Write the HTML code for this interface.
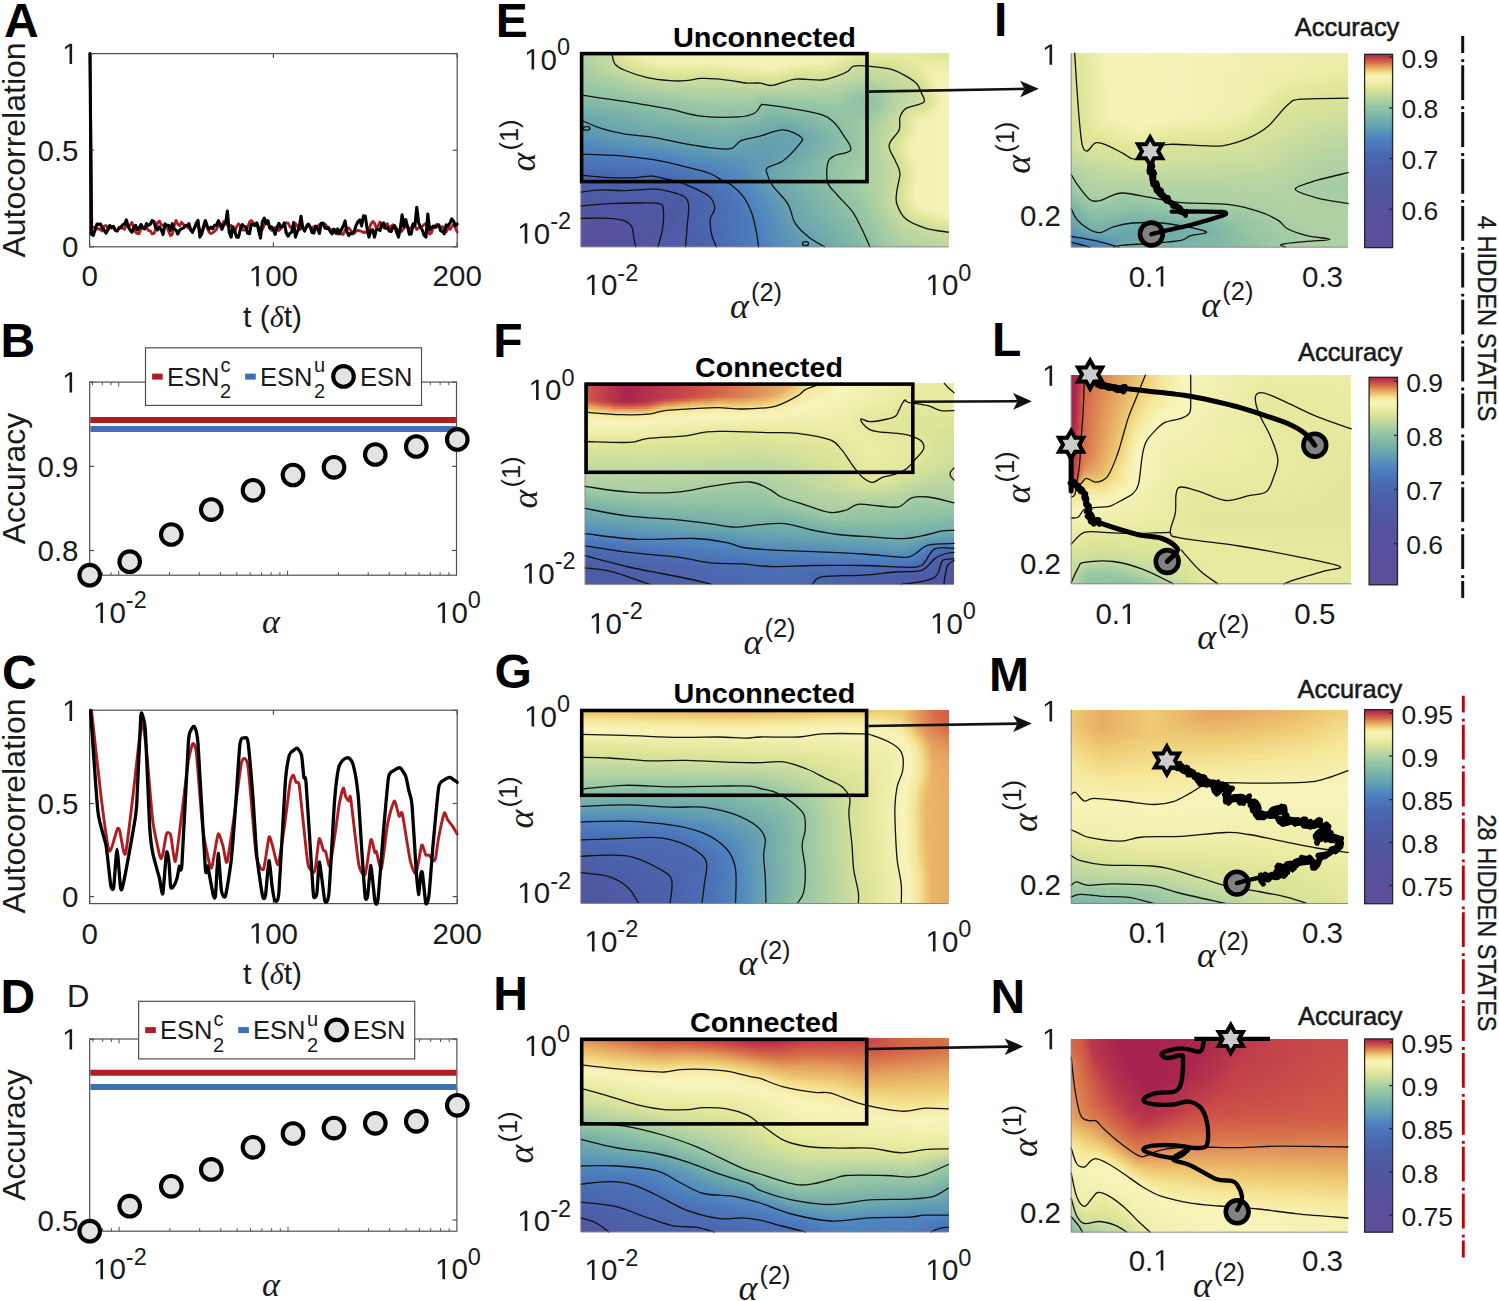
<!DOCTYPE html>
<html><head><meta charset="utf-8"><style>
html,body{margin:0;padding:0;background:#fff}
body{width:1499px;height:1301px;position:relative;overflow:hidden;font-family:"Liberation Sans",sans-serif}
.hm{position:absolute;overflow:hidden}
.hm i{position:absolute;left:0;width:100%;display:block}
.cb{position:absolute}
svg{position:absolute;left:0;top:0}
</style></head><body>
<div class="hm" style="left:580.8px;top:53px;width:368px;height:194px"><i class="r" style="top:0px;height:2px;background:linear-gradient(90deg,#b1d1a3 0px,#c5db9f 26.5px,#dee598 39.5px,#f2f0b0 52.5px,#f6f3b8 199.5px,#f2f0af 260.5px,#e8eaa0 273.5px,#e9eba2 325.5px,#dee598 360.5px,#dfe699 368px)"></i><i class="r" style="top:2px;height:2px;background:linear-gradient(90deg,#b0d1a4 0px,#c4da9f 26.5px,#d9e398 37.5px,#e5e89d 43.5px,#f3f0b1 57.5px,#f6f2b7 200.5px,#f2f0af 258.5px,#e5e99e 271.5px,#e8eaa0 329.5px,#dfe699 361.5px,#e0e69a 368px)"></i><i class="r" style="top:4px;height:2px;background:linear-gradient(90deg,#afd1a4 0px,#c4da9f 27.5px,#dee597 40.5px,#f1efae 58.5px,#f4f2b5 92.5px,#f5f2b7 206.5px,#f1f0af 255.5px,#e2e79b 270.5px,#e4e89d 312.5px,#e8eaa0 333.5px,#e2e79b 364.5px,#e2e79b 368px)"></i><i class="r" style="top:6px;height:2px;background:linear-gradient(90deg,#aed0a4 0px,#c3da9f 27.5px,#dee598 42.5px,#f3f0b1 67.5px,#f6f3b8 199.5px,#f1f0af 251.5px,#dce497 272.5px,#e2e79b 314.5px,#e8eaa0 337.5px,#e5e99e 368px)"></i><i class="r" style="top:8px;height:2px;background:linear-gradient(90deg,#add0a4 0px,#c2d9a0 27.5px,#dfe598 45.5px,#f2f0b1 75.5px,#f3f1b3 117.5px,#f6f3b8 197.5px,#f1efaf 246.5px,#dee598 266.5px,#d7e299 278.5px,#e0e699 316.5px,#e9eba1 341.5px,#e8eaa0 368px)"></i><i class="r" style="top:10px;height:2px;background:linear-gradient(90deg,#abcfa4 0px,#c2daa0 28.5px,#dee598 48.5px,#f1efae 79.5px,#f3f1b2 106.5px,#f1f0af 126.5px,#f6f3b9 187.5px,#f2f0af 226.5px,#efeeac 243.5px,#dde497 265.5px,#d2e09c 276.5px,#dce497 315.5px,#ebeca5 343.5px,#ebeca4 368px)"></i><i class="r" style="top:12px;height:2px;background:linear-gradient(90deg,#aacea4 0px,#c3da9f 30.5px,#dee598 53.5px,#ededa8 80.5px,#f1efae 102.5px,#ededa8 125.5px,#f6f2b7 181.5px,#f3f1b2 202.5px,#eeeda9 219.5px,#ededa7 241.5px,#d9e398 265.5px,#cdde9e 276.5px,#d8e299 314.5px,#e2e79b 327.5px,#ededa8 346.5px,#ededa9 368px)"></i><i class="r" style="top:14px;height:2px;background:linear-gradient(90deg,#a8cea4 0px,#c6db9f 35.5px,#dee597 58.5px,#ebeca5 87.5px,#ececa6 105.5px,#e9eba2 125.5px,#f1efaf 160.5px,#f3f1b3 195.5px,#eaeba3 217.5px,#e9eba1 241.5px,#dae397 261.5px,#c9dc9f 276.5px,#d3e19b 313.5px,#dee598 326.5px,#efeeab 348.5px,#f0efac 368px)"></i><i class="r" style="top:16px;height:2px;background:linear-gradient(90deg,#a6cda4 0px,#c8dc9f 40.5px,#dfe598 65.5px,#e9eba1 102.5px,#e5e99e 126.5px,#ececa6 158.5px,#f2f0b0 191.5px,#e5e99e 215.5px,#e3e89c 243.5px,#d8e398 258.5px,#c6db9f 276.5px,#cfdf9e 313.5px,#dee598 329.5px,#f1efae 351.5px,#f2f0b0 368px)"></i><i class="r" style="top:18px;height:2px;background:linear-gradient(90deg,#a5cda4 0px,#cdde9e 49.5px,#dee597 73.5px,#e4e89d 103.5px,#e0e69a 126.5px,#eaeba3 164.5px,#ededa8 194.5px,#e0e69a 217.5px,#dee598 244.5px,#d1e09d 261.5px,#c2da9f 278.5px,#cdde9e 315.5px,#dfe598 332.5px,#f2f0b1 352.5px,#f3f1b2 368px)"></i><i class="r" style="top:20px;height:2px;background:linear-gradient(90deg,#a2cca4 0px,#d6e29a 66.5px,#e0e699 102.5px,#dbe497 125.5px,#e6e99e 164.5px,#e9eaa1 194.5px,#dbe497 217.5px,#dae397 244.5px,#bfd8a0 279.5px,#ccde9e 318.5px,#dee598 334.5px,#efeeab 347.5px,#f3f1b2 355.5px,#f4f1b3 368px)"></i><i class="r" style="top:22px;height:2px;background:linear-gradient(90deg,#a0cba4 0px,#d6e29a 76.5px,#dae397 104.5px,#d6e29a 125.5px,#e0e699 163.5px,#e3e89c 195.5px,#d9e398 210.5px,#d4e19b 245.5px,#bcd7a0 280.5px,#cdde9e 323.5px,#dee597 336.5px,#ededa9 347.5px,#f4f1b3 354.5px,#f4f1b4 368px)"></i><i class="r" style="top:24px;height:2px;background:linear-gradient(90deg,#9ecaa4 0px,#d2e09c 81.5px,#d4e19b 106.5px,#d1e09d 126.5px,#dae397 161.5px,#dee598 195.5px,#d1e09d 219.5px,#d0df9d 244.5px,#b9d5a1 281.5px,#cadd9f 324.5px,#dee598 339.5px,#efeeac 349.5px,#f4f1b4 356.5px,#f5f2b5 368px)"></i><i class="r" style="top:26px;height:2px;background:linear-gradient(90deg,#9cc9a4 0px,#cdde9e 84.5px,#cedf9e 106.5px,#cadd9f 130.5px,#d7e299 177.5px,#dae397 194.5px,#cadd9f 219.5px,#cbdd9e 243.5px,#b6d4a2 283.5px,#cbde9e 328.5px,#dfe598 341.5px,#f4f1b4 354.5px,#f5f2b6 368px)"></i><i class="r" style="top:28px;height:2px;background:linear-gradient(90deg,#99c8a4 0px,#c3da9f 76.5px,#c9dd9f 104.5px,#c6db9f 138.5px,#d1e09d 174.5px,#d5e19a 194.5px,#c4da9f 219.5px,#c4db9f 246.5px,#b2d2a3 284.5px,#cdde9e 332.5px,#dee598 342.5px,#f4f1b4 355.5px,#f5f2b6 368px)"></i><i class="r" style="top:30px;height:2px;background:linear-gradient(90deg,#97c8a4 0px,#bed8a0 76.5px,#c3da9f 107.5px,#c5db9f 149.5px,#cdde9e 185.5px,#cedf9e 195.5px,#bfd8a0 219.5px,#bfd9a0 248.5px,#aed0a4 285.5px,#d0df9e 336.5px,#dfe598 343.5px,#f4f1b4 356.5px,#f5f2b6 368px)"></i><i class="r" style="top:32px;height:2px;background:linear-gradient(90deg,#96c7a4 0px,#a6cda4 33.5px,#bcd7a1 82.5px,#c3da9f 160.5px,#c4db9f 184.5px,#c5db9f 196.5px,#bcd7a1 221.5px,#bbd6a1 252.5px,#a8cea4 285.5px,#cfdf9e 337.5px,#dfe598 344.5px,#f4f2b5 357.5px,#f5f2b6 368px)"></i><i class="r" style="top:34px;height:2px;background:linear-gradient(90deg,#95c6a4 0px,#a1cba4 32.5px,#b8d5a2 81.5px,#bcd7a0 171.5px,#bdd8a0 199.5px,#b9d6a1 224.5px,#b6d4a2 255.5px,#a2cca4 284.5px,#cfdf9e 338.5px,#dfe598 345.5px,#f5f2b5 358.5px,#f5f2b6 368px)"></i><i class="r" style="top:36px;height:2px;background:linear-gradient(90deg,#94c5a4 0px,#9fcaa4 37.5px,#b4d3a3 82.5px,#b9d5a1 169.5px,#b7d4a2 205.5px,#b4d3a3 254.5px,#9bc9a4 284.5px,#c3da9f 327.5px,#d1e09d 340.5px,#dfe598 346.5px,#f4f2b5 358.5px,#f5f2b6 368px)"></i><i class="r" style="top:38px;height:2px;background:linear-gradient(90deg,#92c4a4 0px,#9ecaa4 45.5px,#b2d2a3 93.5px,#b6d4a2 167.5px,#b4d3a2 187.5px,#b3d3a3 230.5px,#afd0a4 258.5px,#97c7a4 281.5px,#9ecaa4 294.5px,#bad6a1 316.5px,#cfdf9e 340.5px,#dde597 346.5px,#f4f1b4 358.5px,#f5f2b6 368px)"></i><i class="r" style="top:40px;height:2px;background:linear-gradient(90deg,#90c3a4 0px,#9fcaa4 55.5px,#b0d1a3 103.5px,#b2d2a3 167.5px,#aed0a4 184.5px,#b0d1a3 236.5px,#aacea4 259.5px,#96c7a4 277.5px,#99c8a4 294.5px,#b8d5a2 314.5px,#cede9e 340.5px,#dee598 347.5px,#f4f2b5 359.5px,#f5f2b6 368px)"></i><i class="r" style="top:42px;height:2px;background:linear-gradient(90deg,#8dc0a5 0px,#9ecaa4 65.5px,#aed0a4 114.5px,#afd1a4 166.5px,#a7cda4 182.5px,#abcfa4 251.5px,#93c5a4 278.5px,#98c8a4 296.5px,#b7d4a2 313.5px,#cfdf9e 341.5px,#dde597 347.5px,#f4f1b4 359.5px,#f5f2b6 368px)"></i><i class="r" style="top:44px;height:2px;background:linear-gradient(90deg,#89bea6 0px,#a1cba4 83.5px,#abcfa4 132.5px,#accfa4 165.5px,#9fcba4 181.5px,#a7cea4 251.5px,#90c3a4 280.5px,#97c8a4 297.5px,#b6d4a2 312.5px,#cede9e 341.5px,#dee598 348.5px,#f4f2b5 360.5px,#f5f2b6 368px)"></i><i class="r" style="top:46px;height:2px;background:linear-gradient(90deg,#86bba6 0px,#a7cda4 129.5px,#a8cea4 165.5px,#99c8a4 181.5px,#a3cca4 252.5px,#8dc1a5 284.5px,#9ac9a4 299.5px,#b6d4a2 312.5px,#c7dc9f 334.5px,#d1e09d 343.5px,#dde597 348.5px,#f4f2b5 360.5px,#f5f2b6 368px)"></i><i class="r" style="top:48px;height:2px;background:linear-gradient(90deg,#82b9a7 0px,#a2cca4 128.5px,#a4cca4 165.5px,#95c6a4 181.5px,#9fcaa4 254.5px,#8cc0a5 285.5px,#9dcaa4 300.5px,#b6d4a2 312.5px,#c8dc9f 331.5px,#d1e09c 343.5px,#dde497 348.5px,#f4f2b5 360.5px,#f5f2b6 368px)"></i><i class="r" style="top:50px;height:2px;background:linear-gradient(90deg,#7fb6a7 0px,#9ecaa4 124.5px,#9fcba4 165.5px,#92c4a4 185.5px,#9bc9a4 255.5px,#8cc0a5 285.5px,#9bc9a4 299.5px,#b7d4a2 312.5px,#c9dd9f 330.5px,#d8e299 345.5px,#e0e69a 349.5px,#f4f2b5 360.5px,#f5f2b6 368px)"></i><i class="r" style="top:52px;height:2px;background:linear-gradient(90deg,#7cb4a8 0px,#9ac9a4 125.5px,#9bc9a4 164.5px,#8ec1a5 187.5px,#98c8a4 257.5px,#8dc0a5 285.5px,#9ccaa4 299.5px,#b8d5a2 312.5px,#d0df9d 335.5px,#dee598 347.5px,#f0efad 356.5px,#f5f2b6 363.5px,#f5f2b6 368px)"></i><i class="r" style="top:54px;height:2px;background:linear-gradient(90deg,#79b2a9 0px,#97c8a4 124.5px,#96c7a4 170.5px,#8abea5 186.5px,#97c7a4 256.5px,#8ec1a5 284.5px,#9cc9a4 298.5px,#b7d5a2 311.5px,#d5e19a 335.5px,#dfe598 345.5px,#eeeeaa 354.5px,#f5f2b6 361.5px,#f5f2b6 368px)"></i><i class="r" style="top:56px;height:2px;background:linear-gradient(90deg,#76b0aa 0px,#96c6a4 126.5px,#93c4a4 173.5px,#87bca6 186.5px,#96c6a4 258.5px,#90c2a4 284.5px,#9ccaa4 297.5px,#b9d5a1 311.5px,#d7e299 332.5px,#e1e69a 343.5px,#ededa8 352.5px,#f5f2b6 360.5px,#f5f2b6 368px)"></i><i class="r" style="top:58px;height:2px;background:linear-gradient(90deg,#74aeab 0px,#94c5a4 129.5px,#91c3a4 172.5px,#84baa7 187.5px,#95c6a4 261.5px,#92c4a4 284.5px,#9dcaa4 296.5px,#bbd7a1 312.5px,#d8e299 328.5px,#e2e79b 340.5px,#eeeeaa 351.5px,#f5f2b6 359.5px,#f5f2b6 368px)"></i><i class="r" style="top:60px;height:2px;background:linear-gradient(90deg,#71abab 0px,#92c4a4 132.5px,#90c2a4 168.5px,#81b8a7 189.5px,#8dc1a5 233.5px,#94c5a4 265.5px,#95c6a4 288.5px,#a2cca4 297.5px,#d5e19a 325.5px,#dfe699 331.5px,#eeeeaa 349.5px,#f5f2b6 358.5px,#f5f2b6 368px)"></i><i class="r" style="top:62px;height:2px;background:linear-gradient(90deg,#6ea9ac 0px,#8fc2a5 132.5px,#8dc0a5 165.5px,#7eb5a8 191.5px,#89bda6 229.5px,#94c5a4 263.5px,#97c8a4 289.5px,#d2e09c 322.5px,#dee598 328.5px,#f5f2b5 356.5px,#f5f2b6 368px)"></i><i class="r" style="top:64px;height:2px;background:linear-gradient(90deg,#6ba7ad 0px,#7eb5a8 71.5px,#8cc0a5 134.5px,#89bda6 166.5px,#7bb3a8 193.5px,#84baa7 225.5px,#94c5a4 264.5px,#9ac9a4 289.5px,#d0df9e 320.5px,#dde597 326.5px,#ececa7 337.5px,#f5f2b6 356.5px,#f5f2b6 368px)"></i><i class="r" style="top:66px;height:2px;background:linear-gradient(90deg,#69a5ae 0px,#79b2a9 56.5px,#8abea5 141.5px,#82b8a7 174.5px,#78b1a9 195.5px,#85baa6 233.5px,#94c5a4 266.5px,#9ccaa4 288.5px,#cedf9e 319.5px,#dde597 325.5px,#f0efac 337.5px,#f5f2b6 356.5px,#f5f2b6 368px)"></i><i class="r" style="top:68px;height:2px;background:linear-gradient(90deg,#66a3af 0px,#76b0aa 54.5px,#87bca6 143.5px,#7bb3a8 179.5px,#76afaa 206.5px,#94c6a4 269.5px,#9ecaa4 287.5px,#cbdd9e 318.5px,#dee597 325.5px,#f3f0b1 337.5px,#f5f2b6 368px)"></i><i class="r" style="top:70px;height:2px;background:linear-gradient(90deg,#64a1af 0px,#74aeaa 54.5px,#84baa7 144.5px,#72acab 204.5px,#8cbfa5 251.5px,#9ecaa4 284.5px,#ccde9e 318.5px,#dee598 325.5px,#f4f1b3 337.5px,#f5f2b6 368px)"></i><i class="r" style="top:72px;height:2px;background:linear-gradient(90deg,#62a0b0 0px,#72acab 55.5px,#81b8a7 145.5px,#6faaac 205.5px,#89bda6 249.5px,#9fcba4 283.5px,#ccde9e 318.5px,#dee598 325.5px,#f4f1b4 337.5px,#f5f2b6 368px)"></i><i class="r" style="top:74px;height:2px;background:linear-gradient(90deg,#609db2 0px,#71acab 62.5px,#7eb5a8 146.5px,#6da8ad 205.5px,#86bca6 248.5px,#9fcba4 282.5px,#cbde9e 317.5px,#dfe598 325.5px,#f4f1b3 336.5px,#f5f2b6 368px)"></i><i class="r" style="top:76px;height:2px;background:linear-gradient(90deg,#5e9bb4 0px,#6faaac 61.5px,#7bb4a8 146.5px,#6aa6ae 205.5px,#86bba6 249.5px,#9fcba4 281.5px,#cdde9e 317.5px,#dee597 324.5px,#f4f1b3 336.5px,#f5f2b6 368px)"></i><i class="r" style="top:78px;height:2px;background:linear-gradient(90deg,#5c98b5 0px,#6da8ad 62.5px,#79b2a9 147.5px,#68a4ae 205.5px,#84baa7 248.5px,#9fcaa4 280.5px,#cfdf9e 317.5px,#dfe598 324.5px,#f4f1b4 336.5px,#f5f2b6 368px)"></i><i class="r" style="top:80px;height:2px;background:linear-gradient(90deg,#5a96b7 0px,#6ba7ad 67.5px,#77b0aa 147.5px,#66a3af 203.5px,#78b1a9 235.5px,#9fcba4 280.5px,#cfdf9e 316.5px,#dee598 323.5px,#f4f1b3 335.5px,#f5f2b6 368px)"></i><i class="r" style="top:82px;height:2px;background:linear-gradient(90deg,#5893b8 0px,#69a5ae 69.5px,#75afaa 147.5px,#65a2af 200.5px,#6ea9ac 224.5px,#9fcba4 280.5px,#d0df9d 315.5px,#dee598 322.5px,#f4f1b4 335.5px,#f5f2b6 368px)"></i><i class="r" style="top:84px;height:2px;background:linear-gradient(90deg,#5791ba 0px,#6da9ad 98.5px,#72acab 150.5px,#65a2af 191.5px,#6aa6ad 221.5px,#9fcaa4 280.5px,#d1e09d 314.5px,#dfe598 321.5px,#f4f1b3 334.5px,#f5f2b6 368px)"></i><i class="r" style="top:86px;height:2px;background:linear-gradient(90deg,#558ebc 0px,#6faaac 121.5px,#6ea9ac 153.5px,#64a2af 186.5px,#68a5ae 219.5px,#9ecaa4 280.5px,#d3e19b 314.5px,#dde597 319.5px,#f4f1b3 333.5px,#f5f2b6 368px)"></i><i class="r" style="top:88px;height:2px;background:linear-gradient(90deg,#538cbe 0px,#6ea9ac 130.5px,#6ba7ad 155.5px,#63a1b0 189.5px,#69a5ae 219.5px,#9dcaa4 280.5px,#d4e19b 313.5px,#dee598 318.5px,#f4f1b3 332.5px,#f5f2b6 368px)"></i><i class="r" style="top:90px;height:2px;background:linear-gradient(90deg,#5189bf 0px,#66a3af 102.5px,#6ba7ad 151.5px,#63a1b0 174.5px,#66a3af 212.5px,#9ccaa4 280.5px,#d4e19b 312.5px,#dfe598 317.5px,#f4f1b3 331.5px,#f5f2b6 368px)"></i><i class="r" style="top:92px;height:2px;background:linear-gradient(90deg,#5087c0 0px,#609db2 92.5px,#6aa6ad 149.5px,#62a0b0 176.5px,#66a3af 212.5px,#9cc9a4 280.5px,#d3e19b 311.5px,#dee598 316.5px,#f4f1b3 330.5px,#f5f2b6 368px)"></i><i class="r" style="top:94px;height:2px;background:linear-gradient(90deg,#4f84bf 0px,#5893b9 75.5px,#67a4ae 134.5px,#63a1b0 159.5px,#62a0b0 200.5px,#76afaa 231.5px,#9bc9a4 280.5px,#d2e09c 311.5px,#dde597 316.5px,#f4f1b3 329.5px,#f5f2b6 368px)"></i><i class="r" style="top:96px;height:2px;background:linear-gradient(90deg,#4f82bf 0px,#558fbc 74.5px,#64a2af 137.5px,#619eb1 193.5px,#73adab 227.5px,#8cc0a5 261.5px,#9dcaa4 281.5px,#d1e09d 311.5px,#dee598 317.5px,#f4f1b3 330.5px,#f5f2b6 368px)"></i><i class="r" style="top:98px;height:2px;background:linear-gradient(90deg,#4e80be 0px,#548dbc 81.5px,#62a0b0 144.5px,#609db2 186.5px,#70abac 222.5px,#8ec1a5 260.5px,#9bc9a4 280.5px,#bcd7a0 301.5px,#d6e29a 314.5px,#dee598 318.5px,#f4f1b4 331.5px,#f5f2b6 368px)"></i><i class="r" style="top:100px;height:2px;background:linear-gradient(90deg,#4d7dbd 0px,#518abf 82.5px,#619eb1 148.5px,#5f9cb3 181.5px,#6faaac 219.5px,#90c3a4 261.5px,#9bc9a4 280.5px,#cfdf9e 312.5px,#dde497 318.5px,#f4f1b3 331.5px,#f5f2b6 368px)"></i><i class="r" style="top:102px;height:2px;background:linear-gradient(90deg,#4d7abd 0px,#5087c0 82.5px,#5f9cb3 152.5px,#5e9bb4 177.5px,#6faaac 217.5px,#92c4a4 261.5px,#9ccaa4 280.5px,#cdde9e 312.5px,#dde597 319.5px,#f4f1b3 332.5px,#f5f2b6 368px)"></i><i class="r" style="top:104px;height:2px;background:linear-gradient(90deg,#4c77bc 0px,#4e82be 77.5px,#5690bb 117.5px,#5c98b5 160.5px,#5e9bb3 177.5px,#71abab 218.5px,#93c4a4 259.5px,#9cc9a4 279.5px,#cede9e 313.5px,#dee597 320.5px,#f4f1b3 333.5px,#f5f2b6 368px)"></i><i class="r" style="top:106px;height:2px;background:linear-gradient(90deg,#4c75ba 0px,#4e7ebe 77.5px,#548dbc 119.5px,#5b97b6 161.5px,#5f9cb3 178.5px,#74aeab 221.5px,#93c5a4 257.5px,#9dcaa4 279.5px,#ccde9e 313.5px,#dee598 321.5px,#f4f1b4 334.5px,#f5f2b6 368px)"></i><i class="r" style="top:108px;height:2px;background:linear-gradient(90deg,#4b73b9 0px,#4d7cbd 80.5px,#538dbd 126.5px,#5995b8 163.5px,#6faaac 213.5px,#8bbfa5 244.5px,#96c6a4 264.5px,#9fcba4 280.5px,#ccde9e 314.5px,#dfe598 322.5px,#f4f1b3 334.5px,#f5f2b6 368px)"></i><i class="r" style="top:110px;height:2px;background:linear-gradient(90deg,#4b71b7 0px,#4d7abd 85.5px,#538cbd 134.5px,#5c98b5 172.5px,#68a5ae 196.5px,#81b8a7 235.5px,#94c5a4 255.5px,#9ecaa4 278.5px,#cbdd9f 314.5px,#dde597 322.5px,#f4f1b3 335.5px,#f5f2b6 368px)"></i><i class="r" style="top:112px;height:2px;background:linear-gradient(90deg,#4b6fb6 0px,#4c77bc 87.5px,#538cbd 139.5px,#5b97b6 171.5px,#69a5ae 194.5px,#81b7a7 234.5px,#94c5a4 255.5px,#a1cba4 279.5px,#cbdd9e 315.5px,#dee597 323.5px,#f4f1b4 336.5px,#f5f2b6 368px)"></i><i class="r" style="top:114px;height:2px;background:linear-gradient(90deg,#4b6db4 0px,#4c75ba 88.5px,#538cbe 145.5px,#5a96b7 170.5px,#6aa6ae 194.5px,#80b7a7 233.5px,#95c6a4 256.5px,#a6cda4 283.5px,#cadd9f 315.5px,#dee598 324.5px,#f4f1b3 336.5px,#f5f2b6 368px)"></i><i class="r" style="top:116px;height:2px;background:linear-gradient(90deg,#4a6bb3 0px,#4b72b8 87.5px,#528bbe 149.5px,#5a95b7 170.5px,#6ba7ad 193.5px,#80b7a7 232.5px,#95c6a4 257.5px,#add0a4 289.5px,#cbdd9f 316.5px,#dfe598 325.5px,#f4f1b3 336.5px,#f5f2b6 368px)"></i><i class="r" style="top:118px;height:2px;background:linear-gradient(90deg,#4a69b1 0px,#4b70b6 87.5px,#528abe 154.5px,#5f9cb3 177.5px,#6da9ad 198.5px,#84baa7 236.5px,#96c6a4 258.5px,#bed8a0 307.5px,#d2e09c 320.5px,#dee598 325.5px,#f4f1b4 337.5px,#f5f2b6 368px)"></i><i class="r" style="top:120px;height:2px;background:linear-gradient(90deg,#4a68b0 0px,#4b6db4 85.5px,#5189bf 157.5px,#6ba7ad 192.5px,#83b9a7 235.5px,#96c7a4 259.5px,#c6db9f 314.5px,#d9e398 323.5px,#e8eaa0 329.5px,#f4f1b4 337.5px,#f5f2b6 368px)"></i><i class="r" style="top:122px;height:2px;background:linear-gradient(90deg,#4a66af 0px,#4a6ab2 86.5px,#4e80be 137.5px,#538cbd 163.5px,#6ba7ad 192.5px,#85bba6 237.5px,#96c7a4 260.5px,#c8dc9f 315.5px,#dee598 325.5px,#f4f1b4 337.5px,#f5f2b6 368px)"></i><i class="r" style="top:124px;height:2px;background:linear-gradient(90deg,#4b65ad 0px,#4a69b1 89.5px,#4e80be 140.5px,#538cbd 164.5px,#6ba7ad 193.5px,#88bca6 239.5px,#97c7a4 262.5px,#c8dc9f 315.5px,#dfe598 325.5px,#f4f1b3 336.5px,#f5f2b6 368px)"></i><i class="r" style="top:126px;height:2px;background:linear-gradient(90deg,#4b64ad 0px,#4a67af 91.5px,#5086c0 158.5px,#6ba7ad 195.5px,#89bda6 240.5px,#97c7a4 263.5px,#c9dc9f 315.5px,#dee597 324.5px,#f4f1b3 336.5px,#f5f2b6 368px)"></i><i class="r" style="top:128px;height:2px;background:linear-gradient(90deg,#4b63ab 0px,#4a66ae 92.5px,#4f83bf 155.5px,#5690bb 170.5px,#6ba7ad 195.5px,#88bca6 239.5px,#97c7a4 264.5px,#cadd9f 315.5px,#dee598 324.5px,#f4f1b4 336.5px,#f5f2b6 368px)"></i><i class="r" style="top:130px;height:2px;background:linear-gradient(90deg,#4b61aa 0px,#4b64ad 92.5px,#4e7fbe 151.5px,#548dbd 169.5px,#6aa6ad 195.5px,#87bca6 239.5px,#a2cba4 277.5px,#cadd9f 315.5px,#dde597 323.5px,#f4f1b3 335.5px,#f5f2b6 368px)"></i><i class="r" style="top:132px;height:2px;background:linear-gradient(90deg,#4b60a9 0px,#4b62ab 92.5px,#4d7dbd 150.5px,#548dbd 170.5px,#6aa6ae 195.5px,#88bda6 241.5px,#a0cba4 277.5px,#cadd9f 315.5px,#dee598 323.5px,#f4f1b3 335.5px,#f5f2b6 368px)"></i><i class="r" style="top:134px;height:2px;background:linear-gradient(90deg,#4c5fa8 0px,#4b60a9 91.5px,#4c7abc 149.5px,#538cbd 171.5px,#69a6ae 196.5px,#8bbfa5 246.5px,#9fcba4 277.5px,#c9dd9f 314.5px,#dee598 323.5px,#f4f1b4 335.5px,#f5f2b6 368px)"></i><i class="r" style="top:136px;height:2px;background:linear-gradient(90deg,#4c5da7 0px,#4c5fa8 92.5px,#4c78bc 149.5px,#538cbe 172.5px,#69a5ae 197.5px,#97c7a4 269.5px,#c8dc9f 313.5px,#dde597 322.5px,#f4f1b3 334.5px,#f5f2b6 368px)"></i><i class="r" style="top:138px;height:2px;background:linear-gradient(90deg,#4c5ca6 0px,#4c5ea8 97.5px,#4c78bc 150.5px,#538bbe 173.5px,#68a5ae 198.5px,#97c7a4 270.5px,#c8dc9f 313.5px,#dee598 322.5px,#f4f1b3 334.5px,#f5f2b6 368px)"></i><i class="r" style="top:140px;height:2px;background:linear-gradient(90deg,#4d5ba5 0px,#4c5ea7 100.5px,#4c76ba 149.5px,#528bbe 174.5px,#69a6ae 201.5px,#9fcba4 280.5px,#cadd9f 314.5px,#dee598 322.5px,#f4f1b4 334.5px,#f5f2b6 368px)"></i><i class="r" style="top:142px;height:2px;background:linear-gradient(90deg,#4d5aa5 0px,#4c5da7 102.5px,#4c78bc 154.5px,#538cbd 176.5px,#6aa6ae 203.5px,#9fcba4 281.5px,#cadd9f 314.5px,#dee598 322.5px,#f4f1b4 334.5px,#f5f2b6 368px)"></i><i class="r" style="top:144px;height:2px;background:linear-gradient(90deg,#4e5aa4 0px,#4c5ca6 104.5px,#4d7bbd 160.5px,#538cbd 177.5px,#69a6ae 204.5px,#9fcba4 282.5px,#cadd9f 314.5px,#dee598 322.5px,#f4f1b3 334.5px,#f5f2b6 368px)"></i><i class="r" style="top:146px;height:2px;background:linear-gradient(90deg,#4e59a4 0px,#4c5ca6 103.5px,#4c7abc 160.5px,#538cbd 178.5px,#6aa6ae 207.5px,#9ecaa4 282.5px,#cadd9f 314.5px,#dee598 322.5px,#f3f1b3 334.5px,#f5f2b6 368px)"></i><i class="r" style="top:148px;height:2px;background:linear-gradient(90deg,#4f58a3 0px,#4d5ba5 99.5px,#4c75ba 154.5px,#538cbe 179.5px,#6aa6ae 208.5px,#9ecaa4 283.5px,#c9dd9f 314.5px,#dde497 322.5px,#f4f1b4 336.5px,#f5f2b6 368px)"></i><i class="r" style="top:150px;height:2px;background:linear-gradient(90deg,#5057a2 0px,#4e5aa4 96.5px,#4b72b8 150.5px,#538bbe 180.5px,#6aa6ad 210.5px,#9ecaa4 284.5px,#cbdd9e 315.5px,#dde597 323.5px,#f4f1b3 337.5px,#f5f2b6 368px)"></i><i class="r" style="top:152px;height:2px;background:linear-gradient(90deg,#5056a2 0px,#4e5aa4 96.5px,#4b72b7 150.5px,#528bbe 181.5px,#6ba7ad 212.5px,#9dcaa4 284.5px,#cedf9e 317.5px,#dde497 324.5px,#f3f1b2 338.5px,#f5f2b6 368px)"></i><i class="r" style="top:154px;height:2px;background:linear-gradient(90deg,#5155a1 0px,#4e5aa4 96.5px,#4b72b7 151.5px,#528bbe 182.5px,#6ba7ad 212.5px,#9dcaa4 285.5px,#d0df9d 319.5px,#dee598 326.5px,#f2f0b0 339.5px,#f5f2b6 364.5px,#f5f2b6 368px)"></i><i class="r" style="top:156px;height:2px;background:linear-gradient(90deg,#5254a0 0px,#4e5aa4 96.5px,#4b73b8 153.5px,#528bbe 183.5px,#6ba7ad 213.5px,#9cc9a4 285.5px,#cfdf9e 320.5px,#dee598 327.5px,#efeeaa 339.5px,#f5f2b5 353.5px,#f5f2b6 368px)"></i><i class="r" style="top:158px;height:2px;background:linear-gradient(90deg,#5254a0 0px,#4e59a4 94.5px,#4b73b9 155.5px,#528bbe 184.5px,#6ba7ad 214.5px,#9ac9a4 285.5px,#cfdf9e 321.5px,#dee597 328.5px,#f3f0b1 348.5px,#f5f2b6 368px)"></i><i class="r" style="top:160px;height:2px;background:linear-gradient(90deg,#5353a0 0px,#4e59a4 93.5px,#4c76ba 160.5px,#528bbe 185.5px,#6aa6ad 214.5px,#98c8a4 284.5px,#cfdf9e 322.5px,#dee598 330.5px,#f2f0b1 355.5px,#f4f2b5 368px)"></i><i class="r" style="top:162px;height:2px;background:linear-gradient(90deg,#54539f 0px,#4f59a3 91.5px,#4b74b9 156.5px,#538bbe 186.5px,#6aa7ad 215.5px,#90c2a4 274.5px,#9fcba4 290.5px,#d0df9d 324.5px,#dde597 333.5px,#efeeab 356.5px,#f2f0b1 368px)"></i><i class="r" style="top:164px;height:2px;background:linear-gradient(90deg,#54529f 0px,#4f59a3 91.5px,#4c74b9 158.5px,#538cbe 187.5px,#6aa6ae 215.5px,#8dc0a5 272.5px,#9fcba4 291.5px,#d6e29a 330.5px,#e0e699 340.5px,#ededa7 360.5px,#efeeab 368px)"></i><i class="r" style="top:166px;height:2px;background:linear-gradient(90deg,#55529f 0px,#4e59a4 92.5px,#4c77bb 163.5px,#528bbe 187.5px,#6aa6ae 216.5px,#89bda6 269.5px,#9fcba4 292.5px,#d7e299 336.5px,#e1e79a 345.5px,#ebeca5 368px)"></i><i class="r" style="top:168px;height:2px;background:linear-gradient(90deg,#56529f 0px,#4e59a4 92.5px,#4c77bc 164.5px,#538cbe 188.5px,#6aa6ae 217.5px,#86bba6 267.5px,#9fcba4 293.5px,#cbdd9e 328.5px,#dee598 347.5px,#e7ea9f 368px)"></i><i class="r" style="top:170px;height:2px;background:linear-gradient(90deg,#56519f 0px,#4e59a4 93.5px,#4c78bc 165.5px,#538cbd 189.5px,#6aa6ae 218.5px,#85bba6 267.5px,#9fcaa4 294.5px,#c3da9f 323.5px,#dde597 355.5px,#e2e79b 368px)"></i><i class="r" style="top:172px;height:2px;background:linear-gradient(90deg,#57519e 0px,#4e59a4 92.5px,#4c77bc 165.5px,#528bbe 189.5px,#69a5ae 218.5px,#84baa7 267.5px,#a0cba4 296.5px,#bed8a0 320.5px,#d9e398 356.5px,#dee597 368px)"></i><i class="r" style="top:174px;height:2px;background:linear-gradient(90deg,#57519e 0px,#4f58a3 90.5px,#4c76bb 163.5px,#538cbe 190.5px,#68a4ae 218.5px,#84baa7 268.5px,#a0cba4 297.5px,#bbd7a1 319.5px,#d6e29a 360.5px,#d9e398 368px)"></i><i class="r" style="top:176px;height:2px;background:linear-gradient(90deg,#58509e 0px,#5057a2 84.5px,#4b6db4 145.5px,#4f85bf 183.5px,#67a4ae 219.5px,#83b9a7 268.5px,#9fcaa4 297.5px,#b9d5a1 318.5px,#d3e19b 366.5px,#d3e19b 368px)"></i><i class="r" style="top:178px;height:2px;background:linear-gradient(90deg,#58509e 0px,#5156a1 78.5px,#4a69b1 137.5px,#4f83bf 181.5px,#5690bb 195.5px,#69a5ae 224.5px,#82b8a7 268.5px,#a0cba4 299.5px,#b9d5a1 320.5px,#cbde9e 358.5px,#cedf9e 368px)"></i><i class="r" style="top:180px;height:2px;background:linear-gradient(90deg,#59509e 0px,#5254a0 70.5px,#4a65ae 127.5px,#4e80be 178.5px,#548dbd 193.5px,#68a5ae 225.5px,#81b7a7 268.5px,#a0cba4 300.5px,#b7d4a2 320.5px,#c8dc9f 357.5px,#cadd9f 368px)"></i><i class="r" style="top:182px;height:2px;background:linear-gradient(90deg,#594f9e 0px,#5354a0 63.5px,#4b64ad 124.5px,#4e80be 178.5px,#538dbd 193.5px,#68a5ae 227.5px,#7fb6a7 267.5px,#a0cba4 301.5px,#b6d4a2 321.5px,#c7dc9f 359.5px,#c8dc9f 368px)"></i><i class="r" style="top:184px;height:2px;background:linear-gradient(90deg,#594f9e 0px,#54539f 55.5px,#4b63ac 122.5px,#4e80be 179.5px,#548dbd 194.5px,#68a5ae 229.5px,#7fb6a7 268.5px,#a1cba4 303.5px,#b6d4a2 323.5px,#c6db9f 365.5px,#c7dc9f 368px)"></i><i class="r" style="top:186px;height:2px;background:linear-gradient(90deg,#5a4f9d 0px,#54529f 53.5px,#4b64ac 124.5px,#4e80be 179.5px,#548dbc 195.5px,#67a4ae 230.5px,#7eb6a8 268.5px,#a1cba4 304.5px,#b5d4a2 324.5px,#c5db9f 368px)"></i><i class="r" style="top:188px;height:2px;background:linear-gradient(90deg,#5a4f9d 0px,#55529f 53.5px,#4b64ad 125.5px,#4e80be 179.5px,#548dbc 196.5px,#66a3af 231.5px,#7eb5a8 268.5px,#a1cba4 305.5px,#b5d3a2 326.5px,#c3da9f 368px)"></i><i class="r" style="top:190px;height:2px;background:linear-gradient(90deg,#5a4f9d 0px,#55529f 53.5px,#4b64ad 127.5px,#4e81be 181.5px,#558ebc 198.5px,#65a3af 232.5px,#7fb6a7 270.5px,#a1cba4 306.5px,#b5d3a2 328.5px,#c2daa0 368px)"></i><i class="r" style="top:192px;height:2px;background:linear-gradient(90deg,#5a4f9d 0px,#55529f 53.5px,#4a65ae 130.5px,#4f82bf 183.5px,#558fbc 199.5px,#65a2af 234.5px,#87bca6 279.5px,#a2cca4 307.5px,#b6d4a2 331.5px,#c1d9a0 368px)"></i></div>
<div class="hm" style="left:585px;top:383.3px;width:369px;height:201px"><i class="r" style="top:0px;height:2px;background:linear-gradient(90deg,#cf5a48 0px,#be3c4a 21.5px,#a9244f 41.5px,#cb4f48 112.5px,#da774b 150.5px,#e8b267 207.5px,#efcc75 215.5px,#f3dc8a 225.5px,#f8f1b4 250.5px,#f8f4bb 256.5px,#eaeba4 325.5px,#eaeba4 369px)"></i><i class="r" style="top:2px;height:2px;background:linear-gradient(90deg,#cf5a48 0px,#be3c4a 21.5px,#a9244f 41.5px,#cb4f48 112.5px,#da774b 150.5px,#e8b067 205.5px,#efcd77 214.5px,#f4de8d 223.5px,#f7eeac 245.5px,#f8f4bc 255.5px,#eaeba3 325.5px,#eaeba3 369px)"></i><i class="r" style="top:4px;height:2px;background:linear-gradient(90deg,#cf5a48 0px,#be3c4a 21.5px,#a9244f 41.5px,#cb4f48 112.5px,#da774b 150.5px,#e8af66 202.5px,#efcb74 211.5px,#f5e393 222.5px,#f7eeac 244.5px,#f8f4bc 254.5px,#e9eba2 325.5px,#eaeba3 369px)"></i><i class="r" style="top:6px;height:2px;background:linear-gradient(90deg,#cf5a48 0px,#be3c4a 21.5px,#a9244f 41.5px,#cb4f48 112.5px,#da774b 150.5px,#e7ac65 198.5px,#efcb74 209.5px,#f6e89a 222.5px,#f7efae 244.5px,#f8f4bb 253.5px,#e9eaa1 324.5px,#e9eba2 369px)"></i><i class="r" style="top:8px;height:2px;background:linear-gradient(90deg,#cf5a48 0px,#be3c4a 21.5px,#a9244f 41.5px,#cb5048 112.5px,#da774b 150.5px,#e6a963 194.5px,#efcb74 206.5px,#f6e99d 220.5px,#f7f1b2 245.5px,#f8f4bb 252.5px,#e8eaa0 324.5px,#e9eba2 369px)"></i><i class="r" style="top:10px;height:2px;background:linear-gradient(90deg,#cf5a48 0px,#be3c4a 21.5px,#a9244f 41.5px,#cb4f48 111.5px,#da764b 149.5px,#e5a462 188.5px,#efcb75 203.5px,#f6e99e 218.5px,#f7efae 238.5px,#f8f4bb 251.5px,#e7eaa0 324.5px,#e9eaa1 369px)"></i><i class="r" style="top:12px;height:2px;background:linear-gradient(90deg,#cf5a48 0px,#be3c4a 21.5px,#a9244f 41.5px,#ca4d48 105.5px,#d56848 129.5px,#db7e4f 152.5px,#e5a261 183.5px,#efca73 199.5px,#f6ea9f 216.5px,#f7efaf 232.5px,#f7f4bb 250.5px,#e7e99f 324.5px,#e8eaa0 369px)"></i><i class="r" style="top:14px;height:2px;background:linear-gradient(90deg,#cf5b48 0px,#be3c4a 21.5px,#a9244f 41.5px,#c34349 86.5px,#ce5748 103.5px,#d56948 119.5px,#d9734a 127.5px,#dc8251 133.5px,#dc8050 142.5px,#e4a060 173.5px,#eab769 187.5px,#efcb74 196.5px,#f6e99c 211.5px,#f7f0b2 229.5px,#f7f3ba 249.5px,#eeeeaa 292.5px,#e6e99e 324.5px,#e8eaa0 369px)"></i><i class="r" style="top:16px;height:2px;background:linear-gradient(90deg,#d15f48 0px,#bc3b4b 23.5px,#a9254f 41.5px,#ba384b 68.5px,#cb4f48 81.5px,#cf5948 88.5px,#d36348 95.5px,#d56948 102.5px,#da784c 108.5px,#df8c56 127.5px,#e39b5d 133.5px,#e2965b 142.5px,#e49e5f 155.5px,#e9b267 175.5px,#ecc16d 186.5px,#f1d47f 196.5px,#f6e99e 208.5px,#f8f2b7 230.5px,#f7f3ba 248.5px,#eeeeaa 287.5px,#e5e99e 326.5px,#e7ea9f 369px)"></i><i class="r" style="top:18px;height:2px;background:linear-gradient(90deg,#d66c48 0px,#cf5948 11.5px,#bd3c4a 26.5px,#ad2a4e 41.5px,#ba384b 62.5px,#cc5248 72.5px,#d56848 80.5px,#d76f4a 87.5px,#dc7e4f 93.5px,#de8653 102.5px,#e1965b 107.5px,#e5a562 127.5px,#e8b167 133.5px,#e7ac65 142.5px,#e8b066 155.5px,#ecc06d 175.5px,#efcc75 186.5px,#f6eaa0 205.5px,#f8f4bb 230.5px,#f4f1b4 256.5px,#ededa8 290.5px,#e5e89d 327.5px,#e7e99f 369px)"></i><i class="r" style="top:20px;height:2px;background:linear-gradient(90deg,#dd8553 0px,#da774b 9.5px,#d36448 15.5px,#cd5548 24.5px,#c44449 30.5px,#bc3b4b 42.5px,#c64749 61.5px,#da784c 75.5px,#de8854 80.5px,#e08f57 87.5px,#e49e5f 92.5px,#e6a763 103.5px,#e8b267 108.5px,#ebbc6b 128.5px,#edc670 133.5px,#ecbf6c 141.5px,#ecc26d 154.5px,#ecc26d 159.5px,#efcd76 175.5px,#f2d885 187.5px,#f7eba3 203.5px,#f8f4bb 227.5px,#f3f1b2 259.5px,#ededa7 288.5px,#e4e89c 328.5px,#e6e99e 369px)"></i><i class="r" style="top:22px;height:2px;background:linear-gradient(90deg,#e4a060 0px,#e1945a 9.5px,#dd8251 14.5px,#d9744b 23.5px,#d26248 28.5px,#ce5648 42.5px,#d36248 61.5px,#dc8151 69.5px,#e6a863 79.5px,#e8b066 88.5px,#ebbb6b 93.5px,#ecc06d 103.5px,#efcb75 109.5px,#f0d07a 128.5px,#f2d784 133.5px,#f0d17c 140.5px,#f0d17b 154.5px,#f0ce78 158.5px,#f1d581 165.5px,#f2da87 176.5px,#f5e292 187.5px,#f7f0b1 209.5px,#f8f4bb 223.5px,#f2f0b1 259.5px,#ececa6 284.5px,#e3e79b 330.5px,#e6e99e 369px)"></i><i class="r" style="top:24px;height:2px;background:linear-gradient(90deg,#eab86a 0px,#e8af66 9.5px,#e4a160 15.5px,#e1965b 23.5px,#dd8352 28.5px,#da784c 42.5px,#dd8352 61.5px,#ebba6b 76.5px,#eec772 81.5px,#efcc76 89.5px,#f1d480 94.5px,#f2d784 104.5px,#f4df8e 109.5px,#f5e494 130.5px,#f5e597 134.5px,#f4e292 142.5px,#f4e08f 153.5px,#f3dc8a 158.5px,#f5e393 166.5px,#f6e698 177.5px,#f7eeaa 198.5px,#f8f4bb 216.5px,#f2f0b0 259.5px,#ebeca5 283.5px,#e2e79b 333.5px,#e5e89d 369px)"></i><i class="r" style="top:26px;height:2px;background:linear-gradient(90deg,#efce77 0px,#eec771 9.5px,#ebbc6b 15.5px,#e9b468 23.5px,#e6a663 28.5px,#e4a05f 44.5px,#e6a662 61.5px,#eeca74 72.5px,#f3dd8c 81.5px,#f4e292 90.5px,#f5e698 97.5px,#f6ea9f 107.5px,#f6eba2 137.5px,#f6e99d 154.5px,#f6eaa0 162.5px,#f7eeaa 190.5px,#f7f4bb 211.5px,#f2f0b0 258.5px,#eaeba3 281.5px,#e2e79b 318.5px,#e4e89d 369px)"></i><i class="r" style="top:28px;height:2px;background:linear-gradient(90deg,#f4e08f 0px,#f3dc8a 8.5px,#f1d581 13.5px,#f0d07b 22.5px,#edc571 27.5px,#edc36f 54.5px,#eec974 63.5px,#f5e698 76.5px,#f6eaa0 85.5px,#f7eeac 125.5px,#f7eda9 154.5px,#f7f1b3 190.5px,#f7f3ba 206.5px,#f1efaf 258.5px,#e9eba2 281.5px,#e1e69a 319.5px,#e3e79c 369px)"></i><i class="r" style="top:30px;height:2px;background:linear-gradient(90deg,#f6ea9f 0px,#f5e393 22.5px,#f3dd8c 28.5px,#f4df8e 63.5px,#f7eca4 76.5px,#f8f2b6 126.5px,#f8f1b4 165.5px,#f7f3ba 202.5px,#f1efae 258.5px,#e8eaa0 280.5px,#e0e69a 319.5px,#e2e79b 369px)"></i><i class="r" style="top:32px;height:2px;background:linear-gradient(90deg,#f7eda8 0px,#f6ea9f 39.5px,#f7eca4 66.5px,#f7f1b2 88.5px,#f7f4bb 123.5px,#f6f2b7 202.5px,#f0efad 258.5px,#e7e99f 279.5px,#e0e699 319.5px,#e1e69a 369px)"></i><i class="r" style="top:34px;height:2px;background:linear-gradient(90deg,#f7f0b0 0px,#f7eda9 41.5px,#f7f0b0 69.5px,#f8f3ba 88.5px,#f4f1b3 207.5px,#efeeab 259.5px,#e6e99e 280.5px,#dee597 322.5px,#dfe699 369px)"></i><i class="r" style="top:36px;height:2px;background:linear-gradient(90deg,#f8f2b7 0px,#f7f0b1 41.5px,#f7f3ba 82.5px,#f4f2b5 153.5px,#eeeeaa 260.5px,#e4e89d 281.5px,#dde497 344.5px,#dee598 369px)"></i><i class="r" style="top:38px;height:2px;background:linear-gradient(90deg,#f7f4bb 0px,#f6f2b7 80.5px,#f2f0b1 150.5px,#eeeda9 261.5px,#e3e89c 283.5px,#dde497 350.5px,#dde597 369px)"></i><i class="r" style="top:40px;height:2px;background:linear-gradient(90deg,#f6f3b8 0px,#f5f2b7 68.5px,#f0efac 143.5px,#ededa8 262.5px,#e2e79b 287.5px,#dce496 364.5px,#dce496 369px)"></i><i class="r" style="top:42px;height:2px;background:linear-gradient(90deg,#f5f2b5 0px,#f4f1b4 67.5px,#ededa7 140.5px,#ededa7 263.5px,#e2e79b 292.5px,#dbe497 369px)"></i><i class="r" style="top:44px;height:2px;background:linear-gradient(90deg,#f3f1b3 0px,#f3f0b1 66.5px,#eaeba3 138.5px,#ededa8 255.5px,#e1e79b 300.5px,#dae397 369px)"></i><i class="r" style="top:46px;height:2px;background:linear-gradient(90deg,#f2f0b0 0px,#f1efaf 57.5px,#e7e99f 139.5px,#ececa6 252.5px,#ebeca5 267.5px,#e3e79b 302.5px,#d8e398 357.5px,#d9e398 369px)"></i><i class="r" style="top:48px;height:2px;background:linear-gradient(90deg,#f0efac 0px,#efeeac 53.5px,#e3e89c 141.5px,#eaeba4 250.5px,#ebeca5 268.5px,#e3e89c 307.5px,#d8e398 353.5px,#d7e299 369px)"></i><i class="r" style="top:50px;height:2px;background:linear-gradient(90deg,#ededa9 0px,#ededa8 52.5px,#e1e69a 146.5px,#e9eba2 249.5px,#ebeca5 269.5px,#e5e89d 309.5px,#d9e398 352.5px,#d6e29a 369px)"></i><i class="r" style="top:52px;height:2px;background:linear-gradient(90deg,#ebeca5 0px,#ebeca4 52.5px,#dfe699 152.5px,#e8eaa0 248.5px,#ebeca5 271.5px,#dde597 343.5px,#d5e19a 369px)"></i><i class="r" style="top:54px;height:2px;background:linear-gradient(90deg,#e9eaa1 0px,#e8eaa0 52.5px,#dde597 154.5px,#e6e99e 246.5px,#ebeca4 273.5px,#dfe699 341.5px,#d5e19b 363.5px,#d4e19b 369px)"></i><i class="r" style="top:56px;height:2px;background:linear-gradient(90deg,#e6e99e 0px,#e4e89d 55.5px,#dce496 161.5px,#e5e99e 247.5px,#ebeca4 276.5px,#e0e69a 340.5px,#d8e299 355.5px,#d3e19c 369px)"></i><i class="r" style="top:58px;height:2px;background:linear-gradient(90deg,#e3e79c 0px,#e1e79a 58.5px,#dae397 169.5px,#e2e79b 243.5px,#ebeca4 277.5px,#e2e79b 339.5px,#d9e398 353.5px,#d3e09c 369px)"></i><i class="r" style="top:60px;height:2px;background:linear-gradient(90deg,#e0e69a 0px,#dee598 72.5px,#d8e299 174.5px,#e0e69a 241.5px,#ebeca4 280.5px,#e2e79b 339.5px,#d9e398 352.5px,#d2e09c 369px)"></i><i class="r" style="top:62px;height:2px;background:linear-gradient(90deg,#dee598 0px,#dbe496 87.5px,#d5e19a 172.5px,#dfe699 242.5px,#ebeca5 282.5px,#e3e79c 339.5px,#d9e398 352.5px,#d2e09c 369px)"></i><i class="r" style="top:64px;height:2px;background:linear-gradient(90deg,#dce496 0px,#dae397 74.5px,#d4e19b 175.5px,#dfe598 244.5px,#ebeca5 283.5px,#e3e79b 339.5px,#d9e398 351.5px,#d1e09d 369px)"></i><i class="r" style="top:66px;height:2px;background:linear-gradient(90deg,#dae397 0px,#d8e298 74.5px,#d2e09c 175.5px,#dfe699 247.5px,#ebeca6 285.5px,#e3e79c 338.5px,#d9e398 350.5px,#d1e09d 369px)"></i><i class="r" style="top:68px;height:2px;background:linear-gradient(90deg,#d7e299 0px,#d6e29a 74.5px,#cfdf9e 175.5px,#dfe598 249.5px,#ececa6 286.5px,#e3e79c 337.5px,#d9e398 349.5px,#d0df9d 369px)"></i><i class="r" style="top:70px;height:2px;background:linear-gradient(90deg,#d5e19a 0px,#d4e19b 75.5px,#cdde9e 174.5px,#dfe598 251.5px,#ececa6 287.5px,#e2e79b 336.5px,#d9e398 348.5px,#cfdf9e 369px)"></i><i class="r" style="top:72px;height:2px;background:linear-gradient(90deg,#d2e09c 0px,#d2e09c 76.5px,#cadd9f 173.5px,#dee597 251.5px,#ebeca5 285.5px,#e2e79b 334.5px,#d9e398 347.5px,#cfdf9e 369px)"></i><i class="r" style="top:74px;height:2px;background:linear-gradient(90deg,#d0df9d 0px,#d0df9d 78.5px,#c7dc9f 171.5px,#dce496 250.5px,#eaeba4 283.5px,#e2e79b 332.5px,#d9e398 345.5px,#cdde9e 369px)"></i><i class="r" style="top:76px;height:2px;background:linear-gradient(90deg,#cdde9e 0px,#cedf9e 73.5px,#c4da9f 170.5px,#dae397 248.5px,#eaeba2 281.5px,#e3e79c 330.5px,#d9e398 342.5px,#ccde9e 369px)"></i><i class="r" style="top:78px;height:2px;background:linear-gradient(90deg,#cadd9f 0px,#ccde9e 65.5px,#c2d9a0 172.5px,#d8e398 247.5px,#e1e69a 261.5px,#eaeba3 291.5px,#e1e69a 330.5px,#d8e398 341.5px,#cbdd9e 369px)"></i><i class="r" style="top:80px;height:2px;background:linear-gradient(90deg,#c7dc9f 0px,#c9dd9f 65.5px,#bfd8a0 172.5px,#d6e299 246.5px,#dfe699 261.5px,#eaeba3 288.5px,#e2e79b 327.5px,#d9e398 338.5px,#cadd9f 369px)"></i><i class="r" style="top:82px;height:2px;background:linear-gradient(90deg,#c4da9f 0px,#c7dc9f 65.5px,#bcd7a0 171.5px,#d6e29a 247.5px,#e0e699 263.5px,#e9eba2 289.5px,#e1e79a 325.5px,#d8e398 336.5px,#c8dc9f 369px)"></i><i class="r" style="top:84px;height:2px;background:linear-gradient(90deg,#c1d9a0 0px,#c4db9f 65.5px,#bbd7a1 173.5px,#d4e19b 246.5px,#dfe598 264.5px,#e9eaa1 287.5px,#e1e79a 323.5px,#d8e398 333.5px,#c7dc9f 369px)"></i><i class="r" style="top:86px;height:2px;background:linear-gradient(90deg,#bed8a0 0px,#c2d9a0 66.5px,#b9d6a1 174.5px,#d1e09d 243.5px,#dfe598 266.5px,#e8eaa0 287.5px,#e0e699 322.5px,#d6e29a 333.5px,#c5db9f 369px)"></i><i class="r" style="top:88px;height:2px;background:linear-gradient(90deg,#bbd7a1 0px,#bfd8a0 70.5px,#b7d5a2 174.5px,#cedf9e 240.5px,#dfe598 268.5px,#e7ea9f 288.5px,#dfe699 319.5px,#d5e19a 331.5px,#c4da9f 369px)"></i><i class="r" style="top:90px;height:2px;background:linear-gradient(90deg,#b9d6a1 0px,#bcd7a0 81.5px,#b5d4a2 173.5px,#ccde9e 240.5px,#dee598 270.5px,#e7e99f 287.5px,#dee598 317.5px,#c5db9f 357.5px,#c2daa0 369px)"></i><i class="r" style="top:92px;height:2px;background:linear-gradient(90deg,#b7d4a2 0px,#bad6a1 84.5px,#b3d3a3 172.5px,#cadd9f 239.5px,#dee598 272.5px,#e6e99e 288.5px,#dae397 318.5px,#c4db9f 351.5px,#c0d9a0 369px)"></i><i class="r" style="top:94px;height:2px;background:linear-gradient(90deg,#b5d3a2 0px,#b8d5a1 83.5px,#b1d2a3 172.5px,#c8dc9f 238.5px,#dfe598 274.5px,#e5e89d 291.5px,#d8e398 316.5px,#c1d9a0 352.5px,#bed8a0 369px)"></i><i class="r" style="top:96px;height:2px;background:linear-gradient(90deg,#b2d2a3 0px,#b7d4a2 83.5px,#afd0a4 170.5px,#c6db9f 238.5px,#dee598 277.5px,#e3e89c 291.5px,#d9e398 311.5px,#c1d9a0 344.5px,#bdd7a0 369px)"></i><i class="r" style="top:98px;height:2px;background:linear-gradient(90deg,#b0d1a4 0px,#b5d3a2 82.5px,#abcfa4 168.5px,#c5db9f 240.5px,#d9e398 274.5px,#e1e79a 290.5px,#d8e299 307.5px,#bed8a0 344.5px,#bbd7a1 369px)"></i><i class="r" style="top:100px;height:2px;background:linear-gradient(90deg,#add0a4 0px,#b3d2a3 77.5px,#a7cda4 167.5px,#c8dc9f 247.5px,#dae397 281.5px,#dde497 291.5px,#c8dc9f 321.5px,#bbd6a1 352.5px,#bad6a1 369px)"></i><i class="r" style="top:102px;height:2px;background:linear-gradient(90deg,#a8cea4 0px,#b1d2a3 55.5px,#abcfa4 117.5px,#a2cca4 166.5px,#b6d4a2 210.5px,#d4e19b 278.5px,#d9e398 291.5px,#c7dc9f 318.5px,#bbd6a1 340.5px,#b8d5a1 369px)"></i><i class="r" style="top:104px;height:2px;background:linear-gradient(90deg,#a1cba4 0px,#afd1a4 45.5px,#aacfa4 109.5px,#9ecaa4 165.5px,#b4d3a3 205.5px,#d2e09c 280.5px,#d4e19b 292.5px,#c5db9f 316.5px,#bad6a1 332.5px,#b7d4a2 369px)"></i><i class="r" style="top:106px;height:2px;background:linear-gradient(90deg,#9ac9a4 0px,#adcfa4 49.5px,#a9cea4 101.5px,#9ac9a4 163.5px,#b2d2a3 203.5px,#cdde9e 280.5px,#d0df9d 293.5px,#c0d9a0 317.5px,#b6d4a2 336.5px,#b5d4a2 369px)"></i><i class="r" style="top:108px;height:2px;background:linear-gradient(90deg,#96c7a4 0px,#a8cea4 53.5px,#a5cda4 99.5px,#98c8a4 155.5px,#9ecaa4 177.5px,#b0d1a4 201.5px,#c9dd9f 281.5px,#cadd9f 296.5px,#bbd6a1 319.5px,#b3d2a3 341.5px,#b4d3a3 369px)"></i><i class="r" style="top:110px;height:2px;background:linear-gradient(90deg,#93c5a4 0px,#a2cba4 58.5px,#9fcaa4 101.5px,#96c6a4 161.5px,#9fcba4 184.5px,#aed0a4 201.5px,#bfd8a0 265.5px,#c5db9f 294.5px,#b8d5a2 319.5px,#b0d1a3 336.5px,#b2d2a3 369px)"></i><i class="r" style="top:112px;height:2px;background:linear-gradient(90deg,#8fc2a4 0px,#9bc9a4 67.5px,#98c8a4 108.5px,#97c7a4 177.5px,#add0a4 205.5px,#bcd7a0 262.5px,#bfd9a0 283.5px,#b9d5a1 314.5px,#accfa4 333.5px,#b0d1a3 369px)"></i><i class="r" style="top:114px;height:2px;background:linear-gradient(90deg,#8bbfa5 0px,#97c7a4 61.5px,#95c6a4 178.5px,#a2cca4 194.5px,#b1d2a3 223.5px,#bad6a1 262.5px,#bbd6a1 282.5px,#b6d4a2 314.5px,#a7cda4 332.5px,#afd0a4 369px)"></i><i class="r" style="top:116px;height:2px;background:linear-gradient(90deg,#86bca6 0px,#94c5a4 58.5px,#94c5a4 178.5px,#a3cca4 201.5px,#b3d2a3 233.5px,#b7d4a2 263.5px,#b6d4a2 281.5px,#b3d3a3 314.5px,#a2cca4 331.5px,#a7cda4 355.5px,#accfa4 369px)"></i><i class="r" style="top:118px;height:2px;background:linear-gradient(90deg,#82b8a7 0px,#91c3a4 60.5px,#91c4a4 176.5px,#a0cba4 204.5px,#b0d1a4 229.5px,#b5d3a2 261.5px,#b1d1a3 279.5px,#b1d1a3 314.5px,#9ecaa4 332.5px,#a4cca4 358.5px,#a8cea4 369px)"></i><i class="r" style="top:120px;height:2px;background:linear-gradient(90deg,#7db5a8 0px,#8dc1a5 60.5px,#90c2a4 178.5px,#9ecaa4 208.5px,#afd0a4 232.5px,#b2d2a3 261.5px,#aacfa4 277.5px,#afd0a4 310.5px,#9ac9a4 333.5px,#a1cba4 363.5px,#a2cca4 369px)"></i><i class="r" style="top:122px;height:2px;background:linear-gradient(90deg,#79b2a9 0px,#89bea6 61.5px,#8dc1a5 179.5px,#9dcaa4 214.5px,#afd0a4 238.5px,#aed0a4 264.5px,#a4cca4 276.5px,#a9cea4 311.5px,#97c7a4 332.5px,#9dcaa4 369px)"></i><i class="r" style="top:124px;height:2px;background:linear-gradient(90deg,#76afaa 0px,#86bba6 63.5px,#8cbfa5 181.5px,#9dcaa4 220.5px,#afd1a4 245.5px,#a9cea4 264.5px,#9fcaa4 276.5px,#a2cca4 315.5px,#95c6a4 331.5px,#98c8a4 369px)"></i><i class="r" style="top:126px;height:2px;background:linear-gradient(90deg,#72acab 0px,#82b8a7 64.5px,#8abea5 184.5px,#9dcaa4 227.5px,#accfa4 248.5px,#a1cba4 266.5px,#9ac9a4 277.5px,#9cc9a4 317.5px,#93c5a4 340.5px,#95c6a4 369px)"></i><i class="r" style="top:128px;height:2px;background:linear-gradient(90deg,#6faaac 0px,#7fb6a7 72.5px,#88bca6 186.5px,#9ac9a4 231.5px,#a7cda4 248.5px,#97c7a4 277.5px,#96c7a4 321.5px,#92c4a4 354.5px,#93c5a4 369px)"></i><i class="r" style="top:130px;height:2px;background:linear-gradient(90deg,#6ca8ad 0px,#7cb4a8 73.5px,#86bba6 199.5px,#a0cba4 249.5px,#95c6a4 281.5px,#93c5a4 325.5px,#8fc2a4 359.5px,#90c2a4 369px)"></i><i class="r" style="top:132px;height:2px;background:linear-gradient(90deg,#6aa6ae 0px,#7ab2a9 86.5px,#84baa7 203.5px,#99c8a4 249.5px,#94c5a4 290.5px,#90c3a4 326.5px,#8cc0a5 362.5px,#8cc0a5 369px)"></i><i class="r" style="top:134px;height:2px;background:linear-gradient(90deg,#67a4af 0px,#7ab3a9 114.5px,#81b8a7 206.5px,#95c6a4 248.5px,#92c4a4 292.5px,#8ec1a5 325.5px,#89bda6 360.5px,#89bda6 369px)"></i><i class="r" style="top:136px;height:2px;background:linear-gradient(90deg,#64a1af 0px,#7bb3a8 144.5px,#7db5a8 206.5px,#92c4a4 250.5px,#8fc2a5 292.5px,#8cbfa5 325.5px,#85bba6 365.5px,#85bba6 369px)"></i><i class="r" style="top:138px;height:2px;background:linear-gradient(90deg,#619eb1 0px,#79b2a9 157.5px,#7ab2a9 206.5px,#8ec1a5 252.5px,#8cc0a5 305.5px,#85bba6 334.5px,#82b8a7 369px)"></i><i class="r" style="top:140px;height:2px;background:linear-gradient(90deg,#5e9bb3 0px,#6ba7ad 85.5px,#77b0aa 160.5px,#76b0aa 205.5px,#89bea6 254.5px,#86bba6 326.5px,#7eb6a8 369px)"></i><i class="r" style="top:142px;height:2px;background:linear-gradient(90deg,#5c97b6 0px,#67a3af 73.5px,#75afaa 148.5px,#73adab 206.5px,#85bba6 256.5px,#83b9a7 326.5px,#7bb3a8 369px)"></i><i class="r" style="top:144px;height:2px;background:linear-gradient(90deg,#5994b8 0px,#63a1b0 74.5px,#6ea9ac 138.5px,#70abac 165.5px,#71acab 210.5px,#82b8a7 262.5px,#80b7a7 327.5px,#78b1a9 369px)"></i><i class="r" style="top:146px;height:2px;background:linear-gradient(90deg,#5690ba 0px,#619eb1 79.5px,#69a6ae 136.5px,#6ca8ad 167.5px,#70abac 214.5px,#7eb5a8 265.5px,#7db5a8 327.5px,#74aeab 369px)"></i><i class="r" style="top:148px;height:2px;background:linear-gradient(90deg,#538cbd 0px,#5d99b5 72.5px,#62a0b0 123.5px,#69a6ae 166.5px,#6da9ad 216.5px,#7ab2a9 268.5px,#7ab2a9 330.5px,#6eaaac 369px)"></i><i class="r" style="top:150px;height:2px;background:linear-gradient(90deg,#5087c0 0px,#5a95b7 68.5px,#5d99b4 120.5px,#66a3af 166.5px,#6ba7ad 218.5px,#78b1a9 279.5px,#77b0a9 332.5px,#69a5ae 369px)"></i><i class="r" style="top:152px;height:2px;background:linear-gradient(90deg,#4f83bf 0px,#5791ba 66.5px,#5994b8 119.5px,#63a1b0 166.5px,#69a5ae 222.5px,#76b0aa 298.5px,#74aeab 331.5px,#64a1b0 369px)"></i><i class="r" style="top:154px;height:2px;background:linear-gradient(90deg,#4e7fbe 0px,#538cbd 66.5px,#548ebc 117.5px,#609eb2 168.5px,#68a5ae 234.5px,#74aeab 321.5px,#5f9cb3 366.5px,#5f9cb3 369px)"></i><i class="r" style="top:156px;height:2px;background:linear-gradient(90deg,#4d7bbd 0px,#5087c0 69.5px,#518abf 119.5px,#5d9ab4 169.5px,#69a5ae 254.5px,#6faaac 323.5px,#5c99b5 357.5px,#5a95b7 369px)"></i><i class="r" style="top:158px;height:2px;background:linear-gradient(90deg,#4c77bc 0px,#4f84bf 72.5px,#5189bf 133.5px,#5b96b7 169.5px,#6ca7ad 321.5px,#5e9ab4 340.5px,#548dbd 369px)"></i><i class="r" style="top:160px;height:2px;background:linear-gradient(90deg,#4c74b9 0px,#4e81be 80.5px,#5189bf 145.5px,#5892b9 170.5px,#68a5ae 320.5px,#5d99b4 336.5px,#5188bf 352.5px,#4f83bf 369px)"></i><i class="r" style="top:162px;height:2px;background:linear-gradient(90deg,#4b71b6 0px,#4d7ebd 86.5px,#5189bf 151.5px,#5791ba 190.5px,#63a1b0 322.5px,#5690ba 338.5px,#4e82be 347.5px,#4c79bc 369px)"></i><i class="r" style="top:164px;height:2px;background:linear-gradient(90deg,#4b6db3 0px,#4d7bbd 86.5px,#5189bf 160.5px,#609db2 321.5px,#548ebc 336.5px,#4d7dbd 345.5px,#4b72b8 358.5px,#4b71b6 369px)"></i><i class="r" style="top:166px;height:2px;background:linear-gradient(90deg,#4a69b1 0px,#4c77bb 75.5px,#538cbd 211.5px,#5c98b5 322.5px,#518abf 335.5px,#4b6fb5 352.5px,#4a69b0 369px)"></i><i class="r" style="top:168px;height:2px;background:linear-gradient(90deg,#4a67af 0px,#4c76ba 86.5px,#5087c0 221.5px,#5994b8 321.5px,#4f85bf 335.5px,#4b6cb3 349.5px,#4b64ad 369px)"></i><i class="r" style="top:170px;height:2px;background:linear-gradient(90deg,#4b65ad 0px,#4d7cbd 150.5px,#538bbe 288.5px,#568fbb 321.5px,#4e7fbe 336.5px,#4a67af 352.5px,#4b61aa 369px)"></i><i class="r" style="top:172px;height:2px;background:linear-gradient(90deg,#4b63ac 0px,#4e7fbe 183.5px,#5087c0 298.5px,#528abe 320.5px,#4c79bc 338.5px,#4a65ae 351.5px,#4c5ea8 369px)"></i><i class="r" style="top:174px;height:2px;background:linear-gradient(90deg,#4b62ab 0px,#4d7cbd 188.5px,#4f83bf 299.5px,#4f84bf 322.5px,#4c75ba 339.5px,#4b65ad 349.5px,#4c5ba6 369px)"></i><i class="r" style="top:176px;height:2px;background:linear-gradient(90deg,#4b60a9 0px,#4c78bc 186.5px,#4e7ebe 308.5px,#4d7dbd 325.5px,#4b72b7 339.5px,#4b62ab 349.5px,#4e59a4 369px)"></i><i class="r" style="top:178px;height:2px;background:linear-gradient(90deg,#4c5fa8 0px,#4b74b9 165.5px,#4d7bbd 312.5px,#4b72b8 337.5px,#4b62ab 347.5px,#5057a2 369px)"></i><i class="r" style="top:180px;height:2px;background:linear-gradient(90deg,#4c5da7 0px,#4b73b8 173.5px,#4c77bb 313.5px,#4b70b6 336.5px,#4b61aa 347.5px,#5156a1 369px)"></i><i class="r" style="top:182px;height:2px;background:linear-gradient(90deg,#4c5ca6 0px,#4b71b7 181.5px,#4b71b7 311.5px,#4a6ab2 336.5px,#5056a2 364.5px,#5155a1 369px)"></i><i class="r" style="top:184px;height:2px;background:linear-gradient(90deg,#4d5ba5 0px,#4b70b6 187.5px,#4a68b0 332.5px,#5155a1 369px)"></i><i class="r" style="top:186px;height:2px;background:linear-gradient(90deg,#4d5ba5 0px,#4b6fb5 194.5px,#4a67af 308.5px,#4c5fa8 345.5px,#5155a1 369px)"></i><i class="r" style="top:188px;height:2px;background:linear-gradient(90deg,#4d5ba5 0px,#4b6eb5 194.5px,#4a66af 276.5px,#4c5da7 346.5px,#5155a1 369px)"></i><i class="r" style="top:190px;height:2px;background:linear-gradient(90deg,#4d5ba5 0px,#4b62ab 70.5px,#4b6db4 195.5px,#4b65ad 272.5px,#4d5ba5 350.5px,#5255a0 369px)"></i><i class="r" style="top:192px;height:2px;background:linear-gradient(90deg,#4d5ba5 0px,#4b61aa 70.5px,#4b6db4 193.5px,#4b63ac 269.5px,#4e59a4 355.5px,#5255a0 369px)"></i><i class="r" style="top:194px;height:2px;background:linear-gradient(90deg,#4d5ba5 0px,#4b60a9 71.5px,#4b6cb3 192.5px,#4b63ac 265.5px,#5057a2 358.5px,#5254a0 369px)"></i><i class="r" style="top:196px;height:2px;background:linear-gradient(90deg,#4d5ba5 0px,#4b5fa9 72.5px,#4a6cb3 191.5px,#4b63ac 264.5px,#5156a1 361.5px,#5254a0 369px)"></i><i class="r" style="top:198px;height:2px;background:linear-gradient(90deg,#4d5ba5 0px,#4b5fa9 73.5px,#4a6bb3 191.5px,#4b62ab 265.5px,#5254a0 369px)"></i><i class="r" style="top:200px;height:1px;background:linear-gradient(90deg,#4d5ba5 0px,#4c5ea8 72.5px,#4a6bb2 191.5px,#4b62ab 265.5px,#5254a0 369px)"></i></div>
<div class="hm" style="left:580.8px;top:710.2px;width:368px;height:193px"><i class="r" style="top:0px;height:2px;background:linear-gradient(90deg,#edc46e 0px,#ebbb6b 58.5px,#e9b669 86.5px,#e8b267 159.5px,#eab96a 217.5px,#edc46e 242.5px,#eec770 282.5px,#efcc75 302.5px,#efca73 316.5px,#edc26e 323.5px,#e1945a 339.5px,#d87048 351.5px,#d05d48 366.5px,#d05c48 368px)"></i><i class="r" style="top:2px;height:2px;background:linear-gradient(90deg,#efcb74 0px,#edc36e 57.5px,#ebbd6c 116.5px,#eaba6a 159.5px,#ecc16d 217.5px,#efcb74 243.5px,#efce77 282.5px,#f0d17c 300.5px,#eec770 321.5px,#e1955a 339.5px,#d76f48 352.5px,#d05d48 368px)"></i><i class="r" style="top:4px;height:2px;background:linear-gradient(90deg,#f1d37e 0px,#f0d07a 21.5px,#efcd76 56.5px,#eec770 118.5px,#edc36e 159.5px,#efcb74 219.5px,#f1d37e 242.5px,#f1d581 282.5px,#f2d884 300.5px,#efca73 320.5px,#e1955b 339.5px,#d86f48 352.5px,#d15e48 368px)"></i><i class="r" style="top:6px;height:2px;background:linear-gradient(90deg,#f3db89 0px,#f2d884 21.5px,#f1d480 56.5px,#f0cf7a 85.5px,#efcd76 158.5px,#f0d27d 217.5px,#f3db89 242.5px,#f3dd8c 283.5px,#f3dd8c 301.5px,#f0ce78 320.5px,#ebbd6b 326.5px,#d9734a 351.5px,#d16048 366.5px,#d15f48 368px)"></i><i class="r" style="top:8px;height:2px;background:linear-gradient(90deg,#f5e393 0px,#f4e08f 20.5px,#f3dc8a 56.5px,#f2d884 84.5px,#f1d480 158.5px,#f2da87 217.5px,#f5e393 242.5px,#f5e597 284.5px,#f5e394 301.5px,#f1d682 319.5px,#ecc06d 326.5px,#da774c 350.5px,#d36348 364.5px,#d26148 368px)"></i><i class="r" style="top:10px;height:2px;background:linear-gradient(90deg,#f6e99d 0px,#f5e494 56.5px,#f4e08f 83.5px,#f3dd8b 157.5px,#f3dd8c 168.5px,#f4e191 217.5px,#f6e99d 242.5px,#f6e99d 298.5px,#f3db89 319.5px,#ebbd6c 328.5px,#dc7e4f 348.5px,#d56a48 359.5px,#d36348 368px)"></i><i class="r" style="top:12px;height:2px;background:linear-gradient(90deg,#f7eca5 0px,#f6e799 83.5px,#f5e495 157.5px,#f5e596 168.5px,#f6e99c 218.5px,#f7eca5 245.5px,#f7eca5 296.5px,#f4e090 319.5px,#edc46e 328.5px,#e5a462 336.5px,#db7c4e 350.5px,#d56948 362.5px,#d46648 368px)"></i><i class="r" style="top:14px;height:2px;background:linear-gradient(90deg,#f7efad 0px,#f6eba2 83.5px,#f6e99e 158.5px,#f7eca5 219.5px,#f7efad 245.5px,#f7efad 295.5px,#f5e697 319.5px,#edc66f 329.5px,#e5a361 337.5px,#db7d4e 351.5px,#d66a48 364.5px,#d56948 368px)"></i><i class="r" style="top:16px;height:2px;background:linear-gradient(90deg,#f8f2b6 0px,#f7eeaa 83.5px,#f7eca6 157.5px,#f7efad 219.5px,#f8f2b6 245.5px,#f8f1b4 294.5px,#f6e89b 320.5px,#eec770 330.5px,#e5a261 338.5px,#dc8251 350.5px,#d76d48 364.5px,#d66c48 368px)"></i><i class="r" style="top:18px;height:2px;background:linear-gradient(90deg,#f8f4bb 0px,#f8f2b7 55.5px,#f7f0b2 131.5px,#f7f0af 168.5px,#f8f2b5 219.5px,#f8f4bb 252.5px,#f8f3b8 297.5px,#f6eaa0 320.5px,#f3dc8a 326.5px,#edc46e 332.5px,#e39b5d 341.5px,#da784c 357.5px,#d86f48 368px)"></i><i class="r" style="top:20px;height:2px;background:linear-gradient(90deg,#f6f3b8 0px,#f8f3b9 154.5px,#f8f3b8 169.5px,#f6f3b8 278.5px,#f8f3b9 302.5px,#f7eca5 320.5px,#f4e190 326.5px,#ecc16d 334.5px,#e2975c 343.5px,#da774c 361.5px,#d97349 368px)"></i><i class="r" style="top:22px;height:2px;background:linear-gradient(90deg,#f4f2b5 0px,#f7f3ba 216.5px,#f5f2b5 283.5px,#f8f3ba 307.5px,#f7eeaa 320.5px,#f5e293 327.5px,#edc46e 335.5px,#e2985c 344.5px,#db7a4d 362.5px,#da774c 368px)"></i><i class="r" style="top:24px;height:2px;background:linear-gradient(90deg,#f3f0b1 0px,#f5f2b7 192.5px,#f4f1b4 288.5px,#f8f3ba 313.5px,#f7eca6 323.5px,#f4e190 329.5px,#ecc16d 337.5px,#e2995d 345.5px,#db7e4f 363.5px,#db7b4e 368px)"></i><i class="r" style="top:26px;height:2px;background:linear-gradient(90deg,#f0efae 0px,#f4f1b3 178.5px,#f3f1b3 292.5px,#f8f3b9 317.5px,#f5e697 329.5px,#edc46e 338.5px,#e39b5d 346.5px,#dd8251 363.5px,#dc8050 368px)"></i><i class="r" style="top:28px;height:2px;background:linear-gradient(90deg,#eeeeaa 0px,#f2f0b0 176.5px,#f3f0b1 293.5px,#f8f3b9 319.5px,#f5e495 331.5px,#ecc06d 340.5px,#e39c5e 347.5px,#dd8653 364.5px,#dd8452 368px)"></i><i class="r" style="top:30px;height:2px;background:linear-gradient(90deg,#ececa6 0px,#f0efac 188.5px,#f2f0b1 294.5px,#f8f4bb 320.5px,#f6e698 332.5px,#ecc26d 341.5px,#e39e5f 348.5px,#de8954 365.5px,#de8854 368px)"></i><i class="r" style="top:32px;height:2px;background:linear-gradient(90deg,#e9eba2 0px,#ededa9 196.5px,#f2f0b1 299.5px,#f8f4bb 322.5px,#f5e495 334.5px,#ecc26e 342.5px,#e49f60 349.5px,#df8c56 368px)"></i><i class="r" style="top:34px;height:2px;background:linear-gradient(90deg,#e7e99f 0px,#efeeac 284.5px,#f6f3b9 319.5px,#f8f3ba 324.5px,#f5e596 335.5px,#ecc16d 343.5px,#e5a361 349.5px,#e09058 366.5px,#e09058 368px)"></i><i class="r" style="top:36px;height:2px;background:linear-gradient(90deg,#e4e89c 0px,#ececa6 252.5px,#f3f1b3 313.5px,#f8f3b9 326.5px,#f5e596 336.5px,#edc66f 343.5px,#e5a361 350.5px,#e1935a 368px)"></i><i class="r" style="top:38px;height:2px;background:linear-gradient(90deg,#e1e69a 0px,#eaeba3 245.5px,#f3f1b2 312.5px,#f8f3ba 327.5px,#f5e394 337.5px,#edc46e 344.5px,#e6a662 350.5px,#e2975b 368px)"></i><i class="r" style="top:40px;height:2px;background:linear-gradient(90deg,#dee598 0px,#e8eaa1 243.5px,#f2f0b0 310.5px,#f8f3ba 328.5px,#f5e596 337.5px,#eec66f 344.5px,#e6a863 350.5px,#e29a5d 368px)"></i><i class="r" style="top:42px;height:2px;background:linear-gradient(90deg,#dbe497 0px,#e5e99e 231.5px,#f0efad 305.5px,#f8f4bb 328.5px,#f6e698 337.5px,#edc36e 345.5px,#e6a863 351.5px,#e39d5e 368px)"></i><i class="r" style="top:44px;height:2px;background:linear-gradient(90deg,#d8e299 0px,#dee598 192.5px,#eeeda9 298.5px,#f6f3b9 325.5px,#f8f4bc 328.5px,#f5e394 338.5px,#edc56f 345.5px,#e7aa64 351.5px,#e49f60 368px)"></i><i class="r" style="top:46px;height:2px;background:linear-gradient(90deg,#d4e19b 0px,#d9e398 108.5px,#e0e699 219.5px,#ededa9 300.5px,#f7f3ba 326.5px,#f8f3b9 329.5px,#f5e495 338.5px,#eec770 345.5px,#e7ac65 351.5px,#e4a161 368px)"></i><i class="r" style="top:48px;height:2px;background:linear-gradient(90deg,#d0df9e 0px,#d6e29a 91.5px,#dde496 216.5px,#eceda7 299.5px,#f8f3ba 329.5px,#f5e697 338.5px,#edc46e 346.5px,#e7ac65 352.5px,#e5a361 368px)"></i><i class="r" style="top:50px;height:2px;background:linear-gradient(90deg,#cbde9e 0px,#d1e09d 82.5px,#d9e398 213.5px,#e9eba2 288.5px,#f6f3b9 326.5px,#f8f4bb 329.5px,#f5e394 339.5px,#eec66f 346.5px,#e7ad65 352.5px,#e5a562 368px)"></i><i class="r" style="top:52px;height:2px;background:linear-gradient(90deg,#c7dc9f 0px,#ccde9e 80.5px,#d5e19a 210.5px,#dfe699 242.5px,#ececa6 300.5px,#f8f4bc 329.5px,#f5e495 339.5px,#eec770 346.5px,#e8ae66 352.5px,#e5a662 368px)"></i><i class="r" style="top:54px;height:2px;background:linear-gradient(90deg,#c3da9f 0px,#c7dc9f 95.5px,#d1e09d 208.5px,#dee598 244.5px,#ebeca5 300.5px,#f8f4bc 329.5px,#f5e495 339.5px,#edc36e 347.5px,#e8af66 352.5px,#e6a763 368px)"></i><i class="r" style="top:56px;height:2px;background:linear-gradient(90deg,#bed8a0 0px,#c1d9a0 103.5px,#ccde9e 206.5px,#dee598 250.5px,#ebeca5 300.5px,#f8f4bc 329.5px,#f5e495 339.5px,#edc46e 347.5px,#e8b066 352.5px,#e6a863 368px)"></i><i class="r" style="top:58px;height:2px;background:linear-gradient(90deg,#bbd6a1 0px,#c3da9f 193.5px,#dde597 254.5px,#ebeca4 299.5px,#f8f4bc 329.5px,#f5e596 339.5px,#edc46e 347.5px,#e8b167 352.5px,#e6a964 368px)"></i><i class="r" style="top:60px;height:2px;background:linear-gradient(90deg,#b8d5a2 0px,#bfd8a0 194.5px,#dbe497 250.5px,#e9eba2 296.5px,#f8f4bc 329.5px,#f5e596 339.5px,#edc46f 347.5px,#e8b267 352.5px,#e6aa64 368px)"></i><i class="r" style="top:62px;height:2px;background:linear-gradient(90deg,#b5d3a2 0px,#b9d6a1 184.5px,#c3da9f 211.5px,#d9e398 248.5px,#e3e79c 282.5px,#f8f4bb 329.5px,#f5e495 339.5px,#edc46f 347.5px,#e8b267 352.5px,#e7aa64 368px)"></i><i class="r" style="top:64px;height:2px;background:linear-gradient(90deg,#b1d2a3 0px,#b2d2a3 136.5px,#b8d5a2 196.5px,#d8e398 251.5px,#e1e79a 279.5px,#f4f2b5 321.5px,#f8f4bc 328.5px,#f5e394 339.5px,#edc36e 347.5px,#e9b267 352.5px,#e7ab64 368px)"></i><i class="r" style="top:66px;height:2px;background:linear-gradient(90deg,#aed0a4 0px,#accfa4 59.5px,#b2d2a3 184.5px,#c1d9a0 218.5px,#d7e299 250.5px,#e0e699 277.5px,#f3f1b2 317.5px,#f8f3ba 328.5px,#f5e596 338.5px,#eec76f 346.5px,#e9b468 351.5px,#e7ab64 368px)"></i><i class="r" style="top:68px;height:2px;background:linear-gradient(90deg,#aacea4 0px,#a6cda4 57.5px,#accfa4 179.5px,#bfd9a0 221.5px,#d6e29a 251.5px,#dfe699 277.5px,#f2f0b0 313.5px,#f8f4bc 327.5px,#f5e394 338.5px,#edc46f 346.5px,#e9b368 351.5px,#e7ab65 368px)"></i><i class="r" style="top:70px;height:2px;background:linear-gradient(90deg,#a5cda4 0px,#a0cba4 56.5px,#a6cda4 178.5px,#c2d9a0 227.5px,#d6e29a 257.5px,#dfe699 278.5px,#f3f1b3 317.5px,#f8f3ba 327.5px,#f5e596 337.5px,#eec66f 345.5px,#e9b568 350.5px,#e7ac65 368px)"></i><i class="r" style="top:72px;height:2px;background:linear-gradient(90deg,#a1cba4 0px,#9ac9a4 56.5px,#9ccaa4 126.5px,#a0cba4 177.5px,#c1d9a0 230.5px,#dae398 268.5px,#e8eaa0 293.5px,#f8f4bb 326.5px,#f5e394 337.5px,#edc46e 345.5px,#e9b468 350.5px,#e7ac65 368px)"></i><i class="r" style="top:74px;height:2px;background:linear-gradient(90deg,#9ccaa4 0px,#97c7a4 57.5px,#9ac9a4 176.5px,#bed8a0 230.5px,#dee598 278.5px,#f0efad 309.5px,#f8f4bc 325.5px,#f5e596 336.5px,#eec66f 344.5px,#e9b568 349.5px,#e7ac65 368px)"></i><i class="r" style="top:76px;height:2px;background:linear-gradient(90deg,#98c8a4 0px,#93c5a4 57.5px,#98c8a4 180.5px,#aed0a4 211.5px,#d9e398 270.5px,#e5e89d 289.5px,#f8f4bb 325.5px,#f5e393 336.5px,#edc36e 344.5px,#e9b568 349.5px,#e7ac65 368px)"></i><i class="r" style="top:78px;height:2px;background:linear-gradient(90deg,#95c6a4 0px,#8ec1a5 55.5px,#96c6a4 181.5px,#a3cca4 203.5px,#d6e29a 266.5px,#dfe699 281.5px,#f4f1b4 316.5px,#f8f4bc 324.5px,#f5e595 335.5px,#edc66f 343.5px,#e9b569 348.5px,#e7ac65 368px)"></i><i class="r" style="top:80px;height:2px;background:linear-gradient(90deg,#91c3a4 0px,#89bea6 55.5px,#91c4a4 173.5px,#9dcaa4 201.5px,#d5e19a 266.5px,#dfe598 281.5px,#f5f2b6 318.5px,#f8f4bb 324.5px,#f5e393 335.5px,#edc36e 343.5px,#e9b568 348.5px,#e7ad65 368px)"></i><i class="r" style="top:82px;height:2px;background:linear-gradient(90deg,#8bbfa5 0px,#85baa6 57.5px,#8cc0a5 167.5px,#9ccaa4 204.5px,#bdd7a0 241.5px,#dbe497 276.5px,#eeeda9 304.5px,#f8f4bb 324.5px,#f5e697 334.5px,#eec66f 342.5px,#e9b669 347.5px,#e7ad65 368px)"></i><i class="r" style="top:84px;height:2px;background:linear-gradient(90deg,#85bba6 0px,#80b7a7 61.5px,#88bda6 161.5px,#9cc9a4 207.5px,#b9d5a1 238.5px,#dae397 275.5px,#ebeca5 300.5px,#f8f3ba 324.5px,#f5e596 334.5px,#edc56f 342.5px,#eab769 346.5px,#e7ad65 368px)"></i><i class="r" style="top:86px;height:2px;background:linear-gradient(90deg,#80b7a7 0px,#7cb4a8 65.5px,#82b8a7 147.5px,#98c8a4 207.5px,#b7d4a2 238.5px,#d9e398 274.5px,#e2e79b 286.5px,#f8f4bc 323.5px,#f5e595 334.5px,#edc56f 342.5px,#eab769 346.5px,#e7ad65 368px)"></i><i class="r" style="top:88px;height:2px;background:linear-gradient(90deg,#7ab3a8 0px,#78b1a9 79.5px,#7fb6a7 150.5px,#99c8a4 211.5px,#b5d3a2 238.5px,#ccde9e 262.5px,#dee598 281.5px,#f6f3b9 320.5px,#f8f4bc 323.5px,#f5e394 334.5px,#edc36e 342.5px,#eab769 346.5px,#e7ad65 368px)"></i><i class="r" style="top:90px;height:2px;background:linear-gradient(90deg,#76afaa 0px,#75afaa 81.5px,#7bb3a8 148.5px,#98c8a4 212.5px,#b5d4a2 241.5px,#d9e398 274.5px,#e2e79b 286.5px,#f8f4bb 323.5px,#f5e393 334.5px,#edc26e 342.5px,#eab669 346.5px,#e7ad65 368px)"></i><i class="r" style="top:92px;height:2px;background:linear-gradient(90deg,#72acab 0px,#71acab 81.5px,#77b0aa 142.5px,#8bbfa5 194.5px,#9fcba4 220.5px,#cadd9f 261.5px,#dee598 281.5px,#f7f3ba 321.5px,#f8f3b8 324.5px,#f5e393 334.5px,#ecc26d 342.5px,#eab669 346.5px,#e7ad65 368px)"></i><i class="r" style="top:94px;height:2px;background:linear-gradient(90deg,#6da8ad 0px,#6da8ad 80.5px,#73adab 139.5px,#88bda6 193.5px,#a1cba4 224.5px,#cadd9f 261.5px,#dee598 281.5px,#f6f3b9 319.5px,#f8f3ba 323.5px,#f5e697 333.5px,#eec66f 341.5px,#eab769 345.5px,#e7ad65 368px)"></i><i class="r" style="top:96px;height:2px;background:linear-gradient(90deg,#68a4ae 0px,#68a5ae 79.5px,#6faaac 135.5px,#87bca6 194.5px,#a2cca4 227.5px,#ccde9e 262.5px,#dee598 281.5px,#f4f2b5 315.5px,#f8f4bc 322.5px,#f5e596 333.5px,#edc56f 341.5px,#eab769 345.5px,#e7ad65 368px)"></i><i class="r" style="top:98px;height:2px;background:linear-gradient(90deg,#63a1b0 0px,#65a2af 80.5px,#6ca7ad 134.5px,#86bca6 196.5px,#a2cca4 229.5px,#d7e299 271.5px,#e0e699 283.5px,#f8f4bc 322.5px,#f5e494 333.5px,#edc46e 341.5px,#eab769 345.5px,#e7ad65 368px)"></i><i class="r" style="top:100px;height:2px;background:linear-gradient(90deg,#609db2 0px,#609eb1 76.5px,#6aa6ae 139.5px,#84baa6 196.5px,#a1cba4 230.5px,#d6e29a 270.5px,#dfe598 281.5px,#f5f2b5 315.5px,#f8f4bc 322.5px,#f5e394 333.5px,#edc36e 341.5px,#eab769 345.5px,#e7ad65 368px)"></i><i class="r" style="top:102px;height:2px;background:linear-gradient(90deg,#5c98b5 0px,#5d99b5 74.5px,#69a5ae 143.5px,#83b9a7 197.5px,#a0cba4 230.5px,#d6e29a 270.5px,#dfe598 281.5px,#f5f2b5 315.5px,#f8f4bc 322.5px,#f5e394 333.5px,#edc36e 341.5px,#eab769 345.5px,#e7ad65 368px)"></i><i class="r" style="top:104px;height:2px;background:linear-gradient(90deg,#5994b8 0px,#5994b8 65.5px,#66a3af 143.5px,#82b9a7 198.5px,#9fcba4 230.5px,#d7e299 271.5px,#e0e699 283.5px,#f8f4bc 322.5px,#f5e494 333.5px,#edc36e 341.5px,#eab769 345.5px,#e7ad65 368px)"></i><i class="r" style="top:106px;height:2px;background:linear-gradient(90deg,#558fbb 0px,#5690bb 63.5px,#65a2af 145.5px,#81b8a7 198.5px,#9fcaa4 230.5px,#d7e299 271.5px,#dfe699 282.5px,#f7f3ba 320.5px,#f8f3b9 323.5px,#f5e495 333.5px,#edc56f 341.5px,#eab769 345.5px,#e7ad65 368px)"></i><i class="r" style="top:108px;height:2px;background:linear-gradient(90deg,#528abe 0px,#528bbe 62.5px,#609eb2 137.5px,#7eb5a8 196.5px,#a0cba4 231.5px,#d7e299 272.5px,#dfe699 282.5px,#f7f4bb 321.5px,#f7f1b3 325.5px,#f5e596 333.5px,#edc66f 341.5px,#eab769 345.5px,#e7ad65 368px)"></i><i class="r" style="top:110px;height:2px;background:linear-gradient(90deg,#4f86bf 0px,#5087c0 63.5px,#5d99b4 133.5px,#79b1a9 191.5px,#a0cba4 231.5px,#d7e299 272.5px,#dfe598 282.5px,#f8f4bb 323.5px,#f5e697 333.5px,#ecc26d 342.5px,#eab669 346.5px,#e7ad65 368px)"></i><i class="r" style="top:112px;height:2px;background:linear-gradient(90deg,#4e82be 0px,#4f83bf 63.5px,#5690bb 117.5px,#72acab 183.5px,#9bc9a4 228.5px,#d6e29a 271.5px,#dfe598 282.5px,#f8f4bb 323.5px,#f5e393 334.5px,#ecc26e 342.5px,#eab669 346.5px,#e7ad65 368px)"></i><i class="r" style="top:114px;height:2px;background:linear-gradient(90deg,#4e7ebe 0px,#4e80be 73.5px,#548ebc 121.5px,#72acab 185.5px,#91c3a4 218.5px,#a6cda4 235.5px,#d8e299 273.5px,#e0e699 284.5px,#f8f4bb 323.5px,#f5e393 334.5px,#ecc26e 342.5px,#eab669 346.5px,#e7ad65 368px)"></i><i class="r" style="top:116px;height:2px;background:linear-gradient(90deg,#4d7bbd 0px,#4d7dbd 82.5px,#548dbd 125.5px,#70abac 184.5px,#8dc0a5 215.5px,#a6cda4 235.5px,#d8e398 274.5px,#e1e69a 285.5px,#f8f4bb 323.5px,#f5e393 334.5px,#ecc26e 342.5px,#eab669 346.5px,#e7ad65 368px)"></i><i class="r" style="top:118px;height:2px;background:linear-gradient(90deg,#4c79bc 0px,#4d7bbd 86.5px,#538cbd 128.5px,#6eaaac 183.5px,#8dc0a5 215.5px,#a6cda4 235.5px,#d8e298 274.5px,#e0e699 284.5px,#f8f4bb 323.5px,#f5e393 334.5px,#ecc26e 342.5px,#eab669 346.5px,#e7ad65 368px)"></i><i class="r" style="top:120px;height:2px;background:linear-gradient(90deg,#4c76bb 0px,#4c79bc 91.5px,#538cbd 132.5px,#6da9ac 183.5px,#8ec1a5 216.5px,#a6cda4 235.5px,#d8e299 274.5px,#e0e699 284.5px,#f8f4bb 323.5px,#f5e393 334.5px,#ecc26e 342.5px,#eab669 346.5px,#e7ad65 368px)"></i><i class="r" style="top:122px;height:2px;background:linear-gradient(90deg,#4c74b9 0px,#4c76ba 90.5px,#538cbd 135.5px,#6ca8ad 183.5px,#90c2a4 217.5px,#a5cda4 235.5px,#d7e299 273.5px,#dfe598 283.5px,#f5f2b7 318.5px,#f8f4bb 323.5px,#f5e393 334.5px,#ecc26e 342.5px,#eab669 346.5px,#e7ad65 368px)"></i><i class="r" style="top:124px;height:2px;background:linear-gradient(90deg,#4b72b8 0px,#4b73b8 88.5px,#528abe 136.5px,#6ca8ad 184.5px,#a2cca4 233.5px,#d7e299 273.5px,#dfe699 284.5px,#f8f4bb 323.5px,#f5e393 334.5px,#ecc26e 342.5px,#eab669 346.5px,#e7ad65 368px)"></i><i class="r" style="top:126px;height:2px;background:linear-gradient(90deg,#4b70b6 0px,#4b70b6 86.5px,#4f83bf 128.5px,#5995b8 156.5px,#73adab 192.5px,#a1cba4 232.5px,#d7e299 273.5px,#dfe699 284.5px,#f8f4bb 323.5px,#f5e393 334.5px,#ecc26e 342.5px,#eab669 346.5px,#e7ad65 368px)"></i><i class="r" style="top:128px;height:2px;background:linear-gradient(90deg,#4b6eb4 0px,#4b6eb5 88.5px,#4e81be 128.5px,#558fbb 150.5px,#6faaac 188.5px,#9fcaa4 230.5px,#d6e299 273.5px,#dfe699 284.5px,#f8f4bb 323.5px,#f5e393 334.5px,#edc26e 342.5px,#eab669 346.5px,#e7ad65 368px)"></i><i class="r" style="top:130px;height:2px;background:linear-gradient(90deg,#4a6bb3 0px,#4b6db4 94.5px,#4e81be 131.5px,#558ebc 152.5px,#6faaac 188.5px,#9fcba4 230.5px,#d6e29a 273.5px,#dfe699 284.5px,#f8f4bc 323.5px,#f5e494 334.5px,#edc36e 342.5px,#eab769 346.5px,#e7ad65 368px)"></i><i class="r" style="top:132px;height:2px;background:linear-gradient(90deg,#4a69b1 0px,#4b6cb3 97.5px,#4e82be 135.5px,#558ebc 154.5px,#70abac 189.5px,#9dcaa4 228.5px,#d6e29a 273.5px,#dfe699 284.5px,#f8f4bc 323.5px,#f5e596 334.5px,#edc56f 342.5px,#eab769 346.5px,#e7ad65 368px)"></i><i class="r" style="top:134px;height:2px;background:linear-gradient(90deg,#4a67b0 0px,#4a6cb3 100.5px,#4f83bf 140.5px,#5690ba 158.5px,#77b1a9 196.5px,#9dcaa4 228.5px,#d6e29a 273.5px,#dfe699 284.5px,#f8f3ba 324.5px,#f5e597 334.5px,#edc56f 342.5px,#eab769 346.5px,#e7ad65 368px)"></i><i class="r" style="top:136px;height:2px;background:linear-gradient(90deg,#4a66af 0px,#4a6cb3 103.5px,#5087c0 148.5px,#71acab 190.5px,#9dcaa4 228.5px,#d6e29a 273.5px,#dfe598 284.5px,#f8f4bb 324.5px,#f5e697 334.5px,#edc66f 342.5px,#eab769 346.5px,#e7ad65 368px)"></i><i class="r" style="top:138px;height:2px;background:linear-gradient(90deg,#4a65ae 0px,#4a6bb2 104.5px,#4f83bf 144.5px,#5690bb 159.5px,#72adab 191.5px,#a0cba4 230.5px,#d7e299 274.5px,#dfe699 285.5px,#f8f4bb 324.5px,#f5e697 334.5px,#edc66f 342.5px,#eab769 346.5px,#e7ad65 368px)"></i><i class="r" style="top:140px;height:2px;background:linear-gradient(90deg,#4b64ad 0px,#4a6ab2 105.5px,#4e7fbe 142.5px,#548dbd 157.5px,#70abac 188.5px,#a1cba4 231.5px,#d6e299 274.5px,#dfe699 285.5px,#f8f4bb 324.5px,#f5e697 334.5px,#edc66f 342.5px,#eab769 346.5px,#e7ad65 368px)"></i><i class="r" style="top:142px;height:2px;background:linear-gradient(90deg,#4b63ac 0px,#4a6ab1 106.5px,#4d7cbd 139.5px,#538cbd 157.5px,#70abac 188.5px,#a0cba4 231.5px,#d6e29a 274.5px,#dfe699 285.5px,#f8f4bb 324.5px,#f5e697 334.5px,#edc66f 342.5px,#eab769 346.5px,#e7ad65 368px)"></i><i class="r" style="top:144px;height:2px;background:linear-gradient(90deg,#4b62ab 0px,#4a69b1 107.5px,#4d7abd 139.5px,#538cbe 157.5px,#6faaac 187.5px,#a0cba4 231.5px,#d6e29a 274.5px,#dfe699 285.5px,#f8f4bb 324.5px,#f6e697 334.5px,#ecc26e 343.5px,#e9b569 348.5px,#e7ad65 368px)"></i><i class="r" style="top:146px;height:2px;background:linear-gradient(90deg,#4b61aa 0px,#4a69b1 109.5px,#4d7cbd 142.5px,#538cbd 158.5px,#6faaac 187.5px,#a3cca4 233.5px,#d6e29a 274.5px,#dfe699 285.5px,#f8f4bc 324.5px,#f5e394 335.5px,#edc36e 343.5px,#e9b569 348.5px,#e7ad65 368px)"></i><i class="r" style="top:148px;height:2px;background:linear-gradient(90deg,#4b60a9 0px,#4a69b0 111.5px,#4e7fbe 146.5px,#538dbd 159.5px,#70abac 188.5px,#a2cca4 233.5px,#d6e29a 274.5px,#dfe699 285.5px,#f8f4bc 324.5px,#f5e495 335.5px,#edc46f 343.5px,#e9b569 348.5px,#e7ad65 368px)"></i><i class="r" style="top:150px;height:2px;background:linear-gradient(90deg,#4c5ea8 0px,#4a68b0 113.5px,#4e81be 148.5px,#558ebc 161.5px,#6faaac 187.5px,#a2cca4 233.5px,#d7e299 275.5px,#dfe598 285.5px,#f8f3bb 325.5px,#f5e596 335.5px,#edc66f 343.5px,#e9b669 348.5px,#e7ad65 368px)"></i><i class="r" style="top:152px;height:2px;background:linear-gradient(90deg,#4c5da7 0px,#4a69b1 115.5px,#4e82be 150.5px,#558fbc 162.5px,#6da9ad 186.5px,#a2cba4 233.5px,#d7e299 275.5px,#e0e699 286.5px,#f8f4bb 325.5px,#f5e393 336.5px,#edc26e 344.5px,#e9b568 349.5px,#e7ad65 368px)"></i><i class="r" style="top:154px;height:2px;background:linear-gradient(90deg,#4c5ca6 0px,#4a69b1 116.5px,#4f84bf 153.5px,#5994b8 167.5px,#72acab 191.5px,#a4cda4 235.5px,#d7e299 276.5px,#e0e699 287.5px,#f8f4bc 325.5px,#f5e494 336.5px,#edc46e 344.5px,#e9b568 349.5px,#e7ad65 368px)"></i><i class="r" style="top:156px;height:2px;background:linear-gradient(90deg,#4c5ca6 0px,#4a68b0 115.5px,#4f84bf 154.5px,#5994b8 167.5px,#72acab 191.5px,#a4cda4 235.5px,#d7e299 276.5px,#dfe699 286.5px,#f8f3ba 326.5px,#f5e596 336.5px,#edc56f 344.5px,#e9b568 349.5px,#e7ad65 368px)"></i><i class="r" style="top:158px;height:2px;background:linear-gradient(90deg,#4d5ba5 0px,#4a67af 111.5px,#4e81be 152.5px,#558ebc 163.5px,#6ea9ac 187.5px,#a4cca4 235.5px,#d7e299 276.5px,#dfe598 286.5px,#f8f4bb 326.5px,#f5e697 336.5px,#eec66f 344.5px,#e9b569 349.5px,#e7ad65 368px)"></i><i class="r" style="top:160px;height:2px;background:linear-gradient(90deg,#4d5aa5 0px,#4a66ae 106.5px,#4c79bc 143.5px,#538bbe 161.5px,#6da8ad 186.5px,#a4cca4 235.5px,#d7e299 277.5px,#e0e69a 288.5px,#f8f4bc 326.5px,#f5e394 337.5px,#edc36e 345.5px,#e9b568 350.5px,#e7ad65 368px)"></i><i class="r" style="top:162px;height:2px;background:linear-gradient(90deg,#4e5aa4 0px,#4a65ae 103.5px,#4c77bc 141.5px,#538bbe 161.5px,#6da8ad 186.5px,#a4cca4 235.5px,#d7e299 277.5px,#dfe699 287.5px,#f8f3ba 327.5px,#f5e495 337.5px,#edc46f 345.5px,#e9b568 350.5px,#e7ad65 368px)"></i><i class="r" style="top:164px;height:2px;background:linear-gradient(90deg,#4e59a4 0px,#4b64ad 101.5px,#4c76bb 139.5px,#538bbe 161.5px,#6da8ad 186.5px,#a4cca4 235.5px,#d7e299 277.5px,#e0e699 288.5px,#f8f4bb 327.5px,#f5e596 337.5px,#edc66f 345.5px,#e9b568 350.5px,#e7ad65 368px)"></i><i class="r" style="top:166px;height:2px;background:linear-gradient(90deg,#4e59a4 0px,#4b64ad 100.5px,#4c75ba 138.5px,#538bbe 161.5px,#6da8ad 186.5px,#a4cca4 235.5px,#d7e299 278.5px,#e0e699 289.5px,#f8f4bc 327.5px,#f6e698 337.5px,#eec770 345.5px,#e9b568 350.5px,#e7ad65 368px)"></i><i class="r" style="top:168px;height:2px;background:linear-gradient(90deg,#4f58a3 0px,#4b64ad 99.5px,#4c74b9 136.5px,#538bbe 161.5px,#6ca8ad 186.5px,#a2cca4 234.5px,#d7e299 278.5px,#dfe699 288.5px,#f8f4bc 327.5px,#f5e393 338.5px,#edc36e 346.5px,#e9b468 351.5px,#e7ad65 368px)"></i><i class="r" style="top:170px;height:2px;background:linear-gradient(90deg,#4f58a3 0px,#4b63ac 97.5px,#4b73b8 134.5px,#538bbe 161.5px,#6ca8ad 186.5px,#9fcba4 232.5px,#d7e299 278.5px,#e0e699 289.5px,#f8f3ba 328.5px,#f5e394 338.5px,#edc36e 346.5px,#e9b468 351.5px,#e7ad65 368px)"></i><i class="r" style="top:172px;height:2px;background:linear-gradient(90deg,#4f58a3 0px,#4b63ac 96.5px,#4b73b9 134.5px,#528bbe 161.5px,#6da8ad 187.5px,#9dcaa4 230.5px,#d6e299 278.5px,#dfe699 289.5px,#f7f3ba 326.5px,#f8f2b6 329.5px,#f5e394 338.5px,#edc36e 346.5px,#e9b468 351.5px,#e7ad65 368px)"></i><i class="r" style="top:174px;height:2px;background:linear-gradient(90deg,#5057a2 0px,#4b63ab 94.5px,#4b73b8 133.5px,#528bbe 161.5px,#6da8ad 187.5px,#9dcaa4 230.5px,#d6e29a 278.5px,#dfe598 289.5px,#f6f2b7 323.5px,#f8f3ba 328.5px,#f5e394 338.5px,#edc36e 346.5px,#e9b468 351.5px,#e7ad65 368px)"></i><i class="r" style="top:176px;height:2px;background:linear-gradient(90deg,#5057a2 0px,#4b62ab 92.5px,#4b71b7 130.5px,#528bbe 161.5px,#6ea9ac 188.5px,#9fcaa4 231.5px,#d7e299 279.5px,#dfe699 290.5px,#f6f3b8 324.5px,#f8f3ba 328.5px,#f5e394 338.5px,#edc36e 346.5px,#e9b468 351.5px,#e7ad65 368px)"></i><i class="r" style="top:178px;height:2px;background:linear-gradient(90deg,#5056a2 0px,#4b62ab 91.5px,#4b71b7 129.5px,#528bbe 161.5px,#6ea9ac 188.5px,#9fcaa4 231.5px,#d6e29a 279.5px,#dfe699 290.5px,#f6f3b8 324.5px,#f8f3ba 328.5px,#f5e394 338.5px,#edc36e 346.5px,#e9b468 351.5px,#e7ad65 368px)"></i><i class="r" style="top:180px;height:2px;background:linear-gradient(90deg,#5156a1 0px,#4b62ab 91.5px,#4b72b7 131.5px,#528bbe 161.5px,#6eaaac 188.5px,#9cc9a4 229.5px,#d6e29a 279.5px,#dfe699 290.5px,#f7f3b9 325.5px,#f8f3ba 328.5px,#f5e394 338.5px,#edc36e 346.5px,#e9b468 351.5px,#e7ad65 368px)"></i><i class="r" style="top:182px;height:2px;background:linear-gradient(90deg,#5155a1 0px,#4b62ab 91.5px,#4b73b8 132.5px,#528bbe 161.5px,#6faaac 188.5px,#98c8a4 225.5px,#d3e19b 277.5px,#dee598 289.5px,#f5f2b6 322.5px,#f8f3ba 328.5px,#f5e394 338.5px,#edc36e 346.5px,#e9b468 351.5px,#e7ad65 368px)"></i><i class="r" style="top:184px;height:2px;background:linear-gradient(90deg,#5155a1 0px,#4b62ab 91.5px,#4b72b8 131.5px,#528bbe 161.5px,#6faaac 188.5px,#97c7a4 223.5px,#d2e09c 276.5px,#dee598 289.5px,#f5f2b6 322.5px,#f8f3ba 328.5px,#f5e394 338.5px,#edc36e 346.5px,#e9b468 351.5px,#e7ad65 368px)"></i><i class="r" style="top:186px;height:2px;background:linear-gradient(90deg,#5254a0 0px,#4b62ab 90.5px,#4b72b7 130.5px,#528bbe 161.5px,#6faaac 188.5px,#97c7a4 222.5px,#d2e09c 276.5px,#dee598 289.5px,#f5f2b6 322.5px,#f8f3ba 328.5px,#f5e394 338.5px,#edc36e 346.5px,#e9b468 351.5px,#e7ad65 368px)"></i><i class="r" style="top:188px;height:2px;background:linear-gradient(90deg,#5254a0 0px,#4b60aa 86.5px,#4b71b7 129.5px,#528bbe 161.5px,#6faaac 188.5px,#97c7a4 221.5px,#d2e09c 276.5px,#dee598 289.5px,#f5f2b6 322.5px,#f8f3ba 328.5px,#f5e394 338.5px,#edc36e 346.5px,#e9b468 351.5px,#e7ad65 368px)"></i><i class="r" style="top:190px;height:2px;background:linear-gradient(90deg,#5254a0 0px,#4b5fa9 81.5px,#4b71b7 128.5px,#518abf 160.5px,#6faaac 188.5px,#97c7a4 220.5px,#d1e09d 275.5px,#dee598 289.5px,#f5f2b6 322.5px,#f8f3ba 328.5px,#f5e394 338.5px,#edc36e 346.5px,#e9b468 351.5px,#e7ad65 368px)"></i><i class="r" style="top:192px;height:1px;background:linear-gradient(90deg,#5254a0 0px,#4c5ea8 78.5px,#4b71b7 128.5px,#518abf 160.5px,#6faaac 188.5px,#97c7a4 220.5px,#d1e09d 275.5px,#dee598 289.5px,#f5f2b6 322.5px,#f8f3ba 328.5px,#f5e394 338.5px,#edc36e 346.5px,#e9b468 351.5px,#e7ad65 368px)"></i></div>
<div class="hm" style="left:580.8px;top:1038.2px;width:368px;height:194px"><i class="r" style="top:0px;height:2px;background:linear-gradient(90deg,#e1945a 0px,#da7a4d 27.5px,#d16048 53.5px,#c94a48 84.5px,#c94b48 102.5px,#b8364c 145.5px,#a7234f 172.5px,#a9244f 195.5px,#be3d4a 223.5px,#c1404a 274.5px,#cc5148 298.5px,#d46748 324.5px,#d87048 368px)"></i><i class="r" style="top:2px;height:2px;background:linear-gradient(90deg,#e39b5d 0px,#dc8150 28.5px,#d56848 52.5px,#cc5248 84.5px,#cd5348 102.5px,#c1404a 143.5px,#ae2a4e 172.5px,#ae2a4e 194.5px,#c24149 223.5px,#c44449 273.5px,#c94948 290.5px,#d46748 323.5px,#d87048 368px)"></i><i class="r" style="top:4px;height:2px;background:linear-gradient(90deg,#e5a361 0px,#e09159 21.5px,#d66b48 60.5px,#d05c48 85.5px,#d05d48 103.5px,#ca4d48 135.5px,#b5324c 175.5px,#b5324c 196.5px,#c74748 223.5px,#c84948 270.5px,#c94b48 291.5px,#d46748 323.5px,#d87048 368px)"></i><i class="r" style="top:6px;height:2px;background:linear-gradient(90deg,#e7aa64 0px,#e1945a 28.5px,#d66b48 71.5px,#d46748 88.5px,#d46748 105.5px,#cf5948 134.5px,#c74748 156.5px,#bc3a4b 181.5px,#bd3b4b 199.5px,#ca4d48 223.5px,#cb4f48 269.5px,#cb4f48 294.5px,#d46748 324.5px,#d87048 368px)"></i><i class="r" style="top:8px;height:2px;background:linear-gradient(90deg,#e8b267 0px,#e2965b 37.5px,#d9754a 73.5px,#d87149 87.5px,#d9734a 102.5px,#d36448 134.5px,#cc5348 155.5px,#c44349 177.5px,#c34249 199.5px,#cb5048 216.5px,#cd5448 227.5px,#cd5548 268.5px,#cd5348 297.5px,#d56748 325.5px,#d87048 368px)"></i><i class="r" style="top:10px;height:2px;background:linear-gradient(90deg,#eab96a 0px,#e2965b 48.5px,#dc8150 73.5px,#db7d4e 87.5px,#dc8150 101.5px,#d87249 132.5px,#d05c48 157.5px,#ca4d48 179.5px,#c84a48 198.5px,#ce5748 216.5px,#cf5a48 228.5px,#cf5b48 268.5px,#ce5848 297.5px,#d66a48 332.5px,#d87249 368px)"></i><i class="r" style="top:12px;height:2px;background:linear-gradient(90deg,#ecc16d 0px,#e2975b 60.5px,#de8854 83.5px,#df8e57 101.5px,#dc8151 131.5px,#d56948 156.5px,#ce5848 178.5px,#cc5248 198.5px,#d15e48 216.5px,#d26148 229.5px,#d26148 267.5px,#d05d48 297.5px,#d9734a 354.5px,#d9764b 368px)"></i><i class="r" style="top:14px;height:2px;background:linear-gradient(90deg,#eec871 0px,#e49f5f 62.5px,#e1945a 85.5px,#e39b5e 101.5px,#e08f58 131.5px,#db7c4e 152.5px,#d46648 170.5px,#cf5b48 198.5px,#d36448 215.5px,#d56848 225.5px,#d46648 267.5px,#d26148 296.5px,#da794d 359.5px,#db7b4d 368px)"></i><i class="r" style="top:16px;height:2px;background:linear-gradient(90deg,#efce78 0px,#eab96a 38.5px,#e5a361 75.5px,#e4a160 87.5px,#e6a663 103.5px,#e39d5e 131.5px,#de8a55 152.5px,#d87049 172.5px,#d36348 199.5px,#d76d48 216.5px,#d76e48 231.5px,#d76d48 265.5px,#d46648 295.5px,#db7e4f 356.5px,#dc8050 368px)"></i><i class="r" style="top:18px;height:2px;background:linear-gradient(90deg,#f1d480 0px,#ecbf6c 43.5px,#e6aa64 81.5px,#e8b167 103.5px,#e6a964 131.5px,#e29a5d 151.5px,#db7d4e 173.5px,#d66c48 198.5px,#d97249 214.5px,#da784c 223.5px,#da774b 251.5px,#d66b48 295.5px,#dd8351 354.5px,#dd8552 368px)"></i><i class="r" style="top:20px;height:2px;background:linear-gradient(90deg,#f2da87 0px,#ecc16d 53.5px,#e9b568 85.5px,#ebbc6b 103.5px,#e9b468 131.5px,#e5a562 152.5px,#de8954 175.5px,#d9764b 199.5px,#db7a4d 213.5px,#dc8150 223.5px,#dc7f4f 251.5px,#d9744a 275.5px,#d87149 297.5px,#de8854 353.5px,#de8a55 368px)"></i><i class="r" style="top:22px;height:2px;background:linear-gradient(90deg,#f4e08f 0px,#edc36e 66.5px,#ecc06d 86.5px,#eec770 103.5px,#ecc16d 130.5px,#e8b167 152.5px,#e1955b 177.5px,#dc8150 199.5px,#dd8452 213.5px,#de8955 223.5px,#de8653 251.5px,#d9754b 293.5px,#df8d57 355.5px,#e08f57 368px)"></i><i class="r" style="top:24px;height:2px;background:linear-gradient(90deg,#f6e698 0px,#efcb74 72.5px,#eeca72 86.5px,#f0d07b 103.5px,#efcc75 130.5px,#ecbe6c 151.5px,#e5a361 176.5px,#df8b56 200.5px,#df8d57 213.5px,#e09159 224.5px,#e08f57 252.5px,#db7c4e 292.5px,#e19359 357.5px,#e1945a 368px)"></i><i class="r" style="top:26px;height:2px;background:linear-gradient(90deg,#f6eaa1 0px,#f1d37f 71.5px,#f0d17b 83.5px,#f2d987 103.5px,#f1d682 129.5px,#eec670 154.5px,#e8ae66 176.5px,#e1965b 201.5px,#e2975b 213.5px,#e29a5d 224.5px,#e2965b 252.5px,#dc8251 291.5px,#e2985c 360.5px,#e2995c 368px)"></i><i class="r" style="top:28px;height:2px;background:linear-gradient(90deg,#f7eeaa 0px,#f3de8c 59.5px,#f2d886 83.5px,#f5e292 104.5px,#f4e08f 128.5px,#f1d37e 151.5px,#ecc16d 167.5px,#e49f5f 203.5px,#e5a361 217.5px,#e29a5d 261.5px,#de8854 290.5px,#e39e5f 363.5px,#e39e5f 368px)"></i><i class="r" style="top:30px;height:2px;background:linear-gradient(90deg,#f7f1b3 0px,#f5e394 68.5px,#f4e090 83.5px,#f6e99e 104.5px,#f6e89a 128.5px,#f4df8e 148.5px,#eec670 173.5px,#e6a863 203.5px,#e6a763 228.5px,#e4a160 261.5px,#e08f57 290.5px,#e5a261 363.5px,#e5a261 368px)"></i><i class="r" style="top:32px;height:2px;background:linear-gradient(90deg,#f8f4bb 0px,#f6ea9e 67.5px,#f6e89b 84.5px,#f7eca5 108.5px,#f6eaa0 139.5px,#f4e191 155.5px,#f0ce78 176.5px,#e9b568 197.5px,#e8af66 211.5px,#e8af66 227.5px,#e6a763 261.5px,#e1955b 291.5px,#e6a763 364.5px,#e6a663 368px)"></i><i class="r" style="top:34px;height:2px;background:linear-gradient(90deg,#f6f3b9 0px,#f8f3b8 22.5px,#f7eca6 68.5px,#f7eca5 86.5px,#f7eeac 119.5px,#f6eaa0 152.5px,#eec972 188.5px,#eab769 208.5px,#e9b669 227.5px,#e7ad65 261.5px,#e39c5e 291.5px,#e7ab64 368px)"></i><i class="r" style="top:36px;height:2px;background:linear-gradient(90deg,#f5f2b6 0px,#f8f3ba 32.5px,#f7efad 71.5px,#f7eeac 91.5px,#f7f0b0 125.5px,#f7eca4 156.5px,#f2d885 183.5px,#eec770 198.5px,#ecbf6d 211.5px,#ebba6b 233.5px,#e9b468 260.5px,#e4a261 290.5px,#e7ac65 336.5px,#e8af66 368px)"></i><i class="r" style="top:38px;height:2px;background:linear-gradient(90deg,#f3f1b2 0px,#f8f3ba 45.5px,#f7f0b0 86.5px,#f8f2b6 124.5px,#f7eda9 158.5px,#f5e394 181.5px,#eec972 203.5px,#ebbb6b 259.5px,#e6a763 290.5px,#e8af66 334.5px,#e9b368 368px)"></i><i class="r" style="top:40px;height:2px;background:linear-gradient(90deg,#f1f0af 0px,#f8f3ba 59.5px,#f8f2b7 90.5px,#f8f3ba 130.5px,#f7efae 159.5px,#f6e89b 183.5px,#f0cf7a 205.5px,#ecc26d 258.5px,#e7ad65 290.5px,#e9b368 333.5px,#eab769 368px)"></i><i class="r" style="top:42px;height:2px;background:linear-gradient(90deg,#efeeab 0px,#f8f4bb 72.5px,#f8f3b8 152.5px,#f6eaa0 185.5px,#f1d682 206.5px,#efcc75 250.5px,#e9b267 290.5px,#eab769 332.5px,#ebbb6b 368px)"></i><i class="r" style="top:44px;height:2px;background:linear-gradient(90deg,#eceda7 0px,#f6f3b9 64.5px,#f8f3b9 159.5px,#f6eba2 189.5px,#f3dc8b 207.5px,#f0d17c 248.5px,#ebba6a 283.5px,#eaba6a 327.5px,#ecbf6d 368px)"></i><i class="r" style="top:46px;height:2px;background:linear-gradient(90deg,#eaeba3 0px,#f5f2b6 61.5px,#f7f4bb 157.5px,#f7f0b1 179.5px,#f4e191 211.5px,#f2d683 247.5px,#efca73 269.5px,#ebbd6c 293.5px,#ecc06d 331.5px,#edc36e 368px)"></i><i class="r" style="top:48px;height:2px;background:linear-gradient(90deg,#e7e99f 0px,#f4f2b5 64.5px,#f6f3b9 157.5px,#f8f3b9 176.5px,#f5e697 215.5px,#f3dc8a 247.5px,#efcc76 272.5px,#edc26e 293.5px,#edc46e 330.5px,#eec770 368px)"></i><i class="r" style="top:50px;height:2px;background:linear-gradient(90deg,#e3e89c 0px,#f3f1b3 68.5px,#f5f2b7 157.5px,#f8f3b9 181.5px,#f6eaa1 211.5px,#f4e191 246.5px,#f2d683 265.5px,#eec871 289.5px,#eec870 329.5px,#efcb74 368px)"></i><i class="r" style="top:52px;height:2px;background:linear-gradient(90deg,#e0e699 0px,#f2f0b1 66.5px,#f4f2b5 157.5px,#f8f3ba 185.5px,#f7eca6 212.5px,#f5e293 255.5px,#efcd76 288.5px,#efcb74 328.5px,#f0ce78 368px)"></i><i class="r" style="top:54px;height:2px;background:linear-gradient(90deg,#dde497 0px,#f0efad 61.5px,#f1efaf 115.5px,#f6f2b7 175.5px,#f8f3ba 190.5px,#f7eda8 216.5px,#f6e799 255.5px,#f0d17c 288.5px,#f0ce78 327.5px,#f1d27d 364.5px,#f0d17c 368px)"></i><i class="r" style="top:56px;height:2px;background:linear-gradient(90deg,#d9e398 0px,#e4e89c 24.5px,#f1efae 84.5px,#f1efae 148.5px,#f8f3ba 194.5px,#f7eca6 233.5px,#f6e99e 256.5px,#f1d682 289.5px,#f0d27d 327.5px,#f1d682 364.5px,#f1d581 368px)"></i><i class="r" style="top:58px;height:2px;background:linear-gradient(90deg,#d6e29a 0px,#dfe699 23.5px,#eeeda9 69.5px,#f0efad 153.5px,#f8f3ba 199.5px,#f7eda8 241.5px,#f6e99e 262.5px,#f2da88 289.5px,#f1d581 327.5px,#f2d986 363.5px,#f2d885 368px)"></i><i class="r" style="top:60px;height:2px;background:linear-gradient(90deg,#d2e09c 0px,#dfe699 30.5px,#eceda7 71.5px,#eeeeaa 152.5px,#f8f3ba 205.5px,#f7eeac 244.5px,#f6e79a 272.5px,#f3dc8a 298.5px,#f2d986 328.5px,#f3dc8a 364.5px,#f3db8a 368px)"></i><i class="r" style="top:62px;height:2px;background:linear-gradient(90deg,#cedf9e 0px,#dfe598 37.5px,#ebeca4 72.5px,#ededa8 152.5px,#f8f4bb 211.5px,#f7eca7 263.5px,#f4e191 294.5px,#f3dc8a 327.5px,#f4e090 362.5px,#f4df8e 368px)"></i><i class="r" style="top:64px;height:2px;background:linear-gradient(90deg,#cadd9f 0px,#dfe598 44.5px,#eaeba2 76.5px,#ebeca5 151.5px,#f8f4bb 216.5px,#f7eeab 262.5px,#f5e394 300.5px,#f4e08f 328.5px,#f5e394 362.5px,#f5e292 368px)"></i><i class="r" style="top:66px;height:2px;background:linear-gradient(90deg,#c5db9f 0px,#dfe699 51.5px,#e9eaa1 87.5px,#eaeba3 152.5px,#f8f4bb 219.5px,#f7f0b2 257.5px,#f5e495 310.5px,#f5e495 330.5px,#f5e697 364.5px,#f5e597 368px)"></i><i class="r" style="top:68px;height:2px;background:linear-gradient(90deg,#c0d9a0 0px,#d8e398 48.5px,#e6e99f 83.5px,#e8eaa0 151.5px,#f7f3ba 217.5px,#f8f3b8 253.5px,#f5e597 320.5px,#f6e99d 359.5px,#f6e89b 368px)"></i><i class="r" style="top:70px;height:2px;background:linear-gradient(90deg,#bcd7a0 0px,#d7e299 53.5px,#e1e79b 76.5px,#e6e99f 153.5px,#f6f3b8 217.5px,#f8f3b9 258.5px,#f6e99c 322.5px,#f7eba3 356.5px,#f6eaa0 368px)"></i><i class="r" style="top:72px;height:2px;background:linear-gradient(90deg,#b9d5a1 0px,#cbdd9e 43.5px,#dfe598 79.5px,#e4e89c 152.5px,#f5f2b6 215.5px,#f8f3b9 265.5px,#f6eaa1 323.5px,#f7eda8 356.5px,#f7eca6 368px)"></i><i class="r" style="top:74px;height:2px;background:linear-gradient(90deg,#b5d4a2 0px,#c6db9f 44.5px,#dae397 79.5px,#e2e79b 153.5px,#f5f2b5 215.5px,#f8f3b9 273.5px,#f7eca7 324.5px,#f7efad 357.5px,#f7eeab 368px)"></i><i class="r" style="top:76px;height:2px;background:linear-gradient(90deg,#b2d2a3 0px,#c3da9f 49.5px,#d6e29a 82.5px,#e0e699 154.5px,#f4f1b4 215.5px,#f8f3ba 282.5px,#f7eeac 324.5px,#f7f1b2 357.5px,#f7f0b0 368px)"></i><i class="r" style="top:78px;height:2px;background:linear-gradient(90deg,#aed0a4 0px,#c0d9a0 53.5px,#d2e09c 86.5px,#dfe598 158.5px,#f3f1b2 214.5px,#f8f3ba 296.5px,#f7f0b1 325.5px,#f8f2b7 358.5px,#f8f2b6 368px)"></i><i class="r" style="top:80px;height:2px;background:linear-gradient(90deg,#a9cea4 0px,#bcd7a1 55.5px,#cfdf9e 93.5px,#dee597 160.5px,#f2f0b0 211.5px,#f8f3ba 308.5px,#f8f2b7 327.5px,#f8f4bb 368px)"></i><i class="r" style="top:82px;height:2px;background:linear-gradient(90deg,#a3cca4 0px,#bad6a1 61.5px,#d0df9e 115.5px,#dee597 165.5px,#f1efae 209.5px,#f8f4bb 334.5px,#f7f4bb 368px)"></i><i class="r" style="top:84px;height:2px;background:linear-gradient(90deg,#9ac9a4 0px,#b5d4a2 60.5px,#ccde9e 122.5px,#dfe598 170.5px,#f0efad 213.5px,#f7f3b9 334.5px,#f6f3b9 368px)"></i><i class="r" style="top:86px;height:2px;background:linear-gradient(90deg,#95c6a4 0px,#a6cda4 47.5px,#bed8a0 91.5px,#d7e299 161.5px,#e0e69a 175.5px,#f0efad 219.5px,#f6f2b7 335.5px,#f5f2b7 368px)"></i><i class="r" style="top:88px;height:2px;background:linear-gradient(90deg,#91c4a4 0px,#9ecaa4 46.5px,#b5d3a2 78.5px,#d6e299 163.5px,#e0e699 177.5px,#efeeab 217.5px,#f5f2b6 334.5px,#f5f2b5 368px)"></i><i class="r" style="top:90px;height:2px;background:linear-gradient(90deg,#8cc0a5 0px,#9cc9a4 52.5px,#b4d3a3 86.5px,#d6e29a 166.5px,#e0e699 180.5px,#ededa8 216.5px,#f4f1b4 334.5px,#f4f1b3 368px)"></i><i class="r" style="top:92px;height:2px;background:linear-gradient(90deg,#87bca6 0px,#9ccaa4 61.5px,#b6d4a2 99.5px,#d2e09c 162.5px,#dfe598 182.5px,#ececa6 214.5px,#f3f1b2 334.5px,#f3f0b1 368px)"></i><i class="r" style="top:94px;height:2px;background:linear-gradient(90deg,#82b8a7 0px,#9dcaa4 71.5px,#b5d4a2 105.5px,#cdde9e 159.5px,#dee598 184.5px,#ebeca4 214.5px,#f2f0b0 334.5px,#f2f0af 368px)"></i><i class="r" style="top:96px;height:2px;background:linear-gradient(90deg,#7cb4a8 0px,#9dcaa4 79.5px,#b2d2a3 106.5px,#cadd9f 158.5px,#dfe598 188.5px,#eaeba3 215.5px,#f1efae 332.5px,#f0efad 368px)"></i><i class="r" style="top:98px;height:2px;background:linear-gradient(90deg,#78b1a9 0px,#9dcaa4 86.5px,#b0d1a4 108.5px,#c8dc9f 160.5px,#dfe598 191.5px,#e9eba1 217.5px,#efeeac 333.5px,#eeeeaa 368px)"></i><i class="r" style="top:100px;height:2px;background:linear-gradient(90deg,#74aeaa 0px,#9bc9a4 91.5px,#aed0a4 112.5px,#c8dc9f 163.5px,#dfe598 194.5px,#e9eaa1 223.5px,#eeeea9 333.5px,#ededa8 368px)"></i><i class="r" style="top:102px;height:2px;background:linear-gradient(90deg,#71abab 0px,#98c8a4 93.5px,#aed0a4 119.5px,#c7dc9f 165.5px,#dee598 197.5px,#e9eaa1 235.5px,#eceda7 334.5px,#ebeca5 368px)"></i><i class="r" style="top:104px;height:2px;background:linear-gradient(90deg,#6ea9ac 0px,#90c3a4 86.5px,#b2d2a3 133.5px,#c9dd9f 171.5px,#dfe598 201.5px,#e7ea9f 244.5px,#ebeca4 335.5px,#eaeba3 368px)"></i><i class="r" style="top:106px;height:2px;background:linear-gradient(90deg,#6ca7ad 0px,#8abea5 84.5px,#a1cba4 113.5px,#b6d4a2 146.5px,#d8e298 195.5px,#e4e89d 222.5px,#e9eba2 335.5px,#e8eaa0 368px)"></i><i class="r" style="top:108px;height:2px;background:linear-gradient(90deg,#69a5ae 0px,#85bba6 84.5px,#9ecaa4 116.5px,#b2d2a3 143.5px,#d8e398 199.5px,#e3e89c 240.5px,#e7ea9f 340.5px,#e6e99e 368px)"></i><i class="r" style="top:110px;height:2px;background:linear-gradient(90deg,#66a3af 0px,#81b8a7 85.5px,#9dcaa4 120.5px,#b0d1a3 143.5px,#dae397 211.5px,#e1e79a 261.5px,#e6e99e 335.5px,#e2e79b 368px)"></i><i class="r" style="top:112px;height:2px;background:linear-gradient(90deg,#64a1af 0px,#7db4a8 85.5px,#9dcaa4 124.5px,#b1d2a3 150.5px,#d8e398 213.5px,#dde597 263.5px,#e2e79b 305.5px,#e2e79b 335.5px,#dbe497 368px)"></i><i class="r" style="top:114px;height:2px;background:linear-gradient(90deg,#619fb1 0px,#77b0aa 81.5px,#9ac9a4 126.5px,#afd0a4 149.5px,#d6e299 216.5px,#dde497 303.5px,#e0e699 328.5px,#d5e19a 361.5px,#d4e19b 368px)"></i><i class="r" style="top:116px;height:2px;background:linear-gradient(90deg,#5f9cb3 0px,#72acab 80.5px,#8ec1a5 118.5px,#add0a4 151.5px,#d5e19a 220.5px,#d8e299 301.5px,#dce497 328.5px,#cbdd9e 368px)"></i><i class="r" style="top:118px;height:2px;background:linear-gradient(90deg,#5d99b5 0px,#6ca8ad 78.5px,#89bda6 118.5px,#accfa4 153.5px,#d2e09c 223.5px,#d3e19c 300.5px,#d7e299 328.5px,#c1d9a0 368px)"></i><i class="r" style="top:120px;height:2px;background:linear-gradient(90deg,#5a96b7 0px,#68a5ae 77.5px,#86bba6 120.5px,#aacfa4 155.5px,#cfdf9e 225.5px,#cdde9e 295.5px,#d3e09c 327.5px,#c0d9a0 357.5px,#b9d5a1 368px)"></i><i class="r" style="top:122px;height:2px;background:linear-gradient(90deg,#5893b9 0px,#619fb1 67.5px,#7eb5a8 117.5px,#a8cea4 156.5px,#cbdd9e 225.5px,#c6db9f 290.5px,#cdde9e 327.5px,#b4d3a3 364.5px,#b2d2a3 368px)"></i><i class="r" style="top:124px;height:2px;background:linear-gradient(90deg,#5690bb 0px,#5c98b5 60.5px,#6aa6ae 93.5px,#85bba6 129.5px,#aacfa4 163.5px,#c7dc9f 225.5px,#bfd9a0 288.5px,#c7dc9f 328.5px,#add0a4 364.5px,#a9cea4 368px)"></i><i class="r" style="top:126px;height:2px;background:linear-gradient(90deg,#538cbd 0px,#5791ba 52.5px,#609eb1 83.5px,#80b7a7 129.5px,#a7cda4 163.5px,#c3da9f 225.5px,#bbd6a1 287.5px,#c0d9a0 329.5px,#add0a4 358.5px,#a0cba4 368px)"></i><i class="r" style="top:128px;height:2px;background:linear-gradient(90deg,#5088c0 0px,#538cbd 51.5px,#5d99b5 82.5px,#7fb6a7 133.5px,#a6cda4 168.5px,#bed8a0 224.5px,#b6d4a2 288.5px,#bad6a1 333.5px,#abcfa4 354.5px,#99c8a4 368px)"></i><i class="r" style="top:130px;height:2px;background:linear-gradient(90deg,#4f84bf 0px,#5088bf 57.5px,#5995b8 82.5px,#6ea9ac 117.5px,#8cc0a5 150.5px,#aacfa4 179.5px,#bbd7a1 225.5px,#b2d2a3 285.5px,#b5d4a2 333.5px,#a8cea4 351.5px,#96c7a4 365.5px,#96c6a4 368px)"></i><i class="r" style="top:132px;height:2px;background:linear-gradient(90deg,#4e81be 0px,#4f85bf 57.5px,#558ebc 80.5px,#6aa6ae 114.5px,#83b9a7 147.5px,#a3cca4 175.5px,#b8d5a1 221.5px,#add0a4 283.5px,#b1d1a3 333.5px,#a6cda4 348.5px,#96c6a4 361.5px,#93c5a4 368px)"></i><i class="r" style="top:134px;height:2px;background:linear-gradient(90deg,#4e7ebe 0px,#4e81be 55.5px,#528bbe 81.5px,#68a5ae 117.5px,#81b8a7 151.5px,#a3cca4 182.5px,#b5d4a2 222.5px,#a9cea4 263.5px,#abcfa4 311.5px,#abcfa4 333.5px,#9fcba4 348.5px,#91c3a4 365.5px,#90c2a4 368px)"></i><i class="r" style="top:136px;height:2px;background:linear-gradient(90deg,#4d7cbd 0px,#4d7ebd 53.5px,#528bbe 85.5px,#68a5ae 122.5px,#7fb6a8 154.5px,#a2cca4 187.5px,#b2d2a3 222.5px,#a6cda4 259.5px,#a0cba4 277.5px,#a5cda4 320.5px,#a5cda4 331.5px,#8cc0a5 368px)"></i><i class="r" style="top:138px;height:2px;background:linear-gradient(90deg,#4c79bc 0px,#4d7bbd 54.5px,#538cbd 90.5px,#68a5ae 127.5px,#7cb4a8 157.5px,#9dcaa4 189.5px,#afd1a4 220.5px,#a1cba4 257.5px,#99c8a4 275.5px,#9dcaa4 320.5px,#9ecaa4 331.5px,#88bda6 368px)"></i><i class="r" style="top:140px;height:2px;background:linear-gradient(90deg,#4c76bb 0px,#4c79bc 56.5px,#538cbd 94.5px,#67a4ae 131.5px,#7ab2a9 161.5px,#96c7a4 188.5px,#accfa4 218.5px,#9ccaa4 255.5px,#96c7a4 281.5px,#96c7a4 338.5px,#89bea6 359.5px,#84baa7 368px)"></i><i class="r" style="top:142px;height:2px;background:linear-gradient(90deg,#4c74b9 0px,#4c76ba 54.5px,#538cbe 98.5px,#65a2af 134.5px,#79b2a9 166.5px,#93c5a4 190.5px,#a8cea4 220.5px,#94c5a4 272.5px,#92c4a4 345.5px,#80b7a7 368px)"></i><i class="r" style="top:144px;height:2px;background:linear-gradient(90deg,#4b72b8 0px,#4b74b9 53.5px,#518abf 100.5px,#63a1b0 136.5px,#76b0aa 169.5px,#8fc2a5 191.5px,#a2cca4 221.5px,#93c5a4 263.5px,#8ec1a5 343.5px,#7cb4a8 368px)"></i><i class="r" style="top:146px;height:2px;background:linear-gradient(90deg,#4b70b6 0px,#4b72b8 55.5px,#518abf 104.5px,#619fb1 140.5px,#73adab 171.5px,#8abea5 192.5px,#9bc9a4 221.5px,#8cc0a5 291.5px,#8bbfa5 339.5px,#7eb6a8 359.5px,#79b1a9 368px)"></i><i class="r" style="top:148px;height:2px;background:linear-gradient(90deg,#4b6db4 0px,#4b71b7 58.5px,#518abf 108.5px,#5f9bb3 141.5px,#70abac 172.5px,#86bca6 194.5px,#96c7a4 220.5px,#88bda6 299.5px,#87bca6 340.5px,#78b1a9 363.5px,#75afaa 368px)"></i><i class="r" style="top:150px;height:2px;background:linear-gradient(90deg,#4a6bb2 0px,#4b70b6 60.5px,#528bbe 113.5px,#68a5ae 169.5px,#7eb5a8 190.5px,#92c4a4 220.5px,#84baa6 302.5px,#82b9a7 341.5px,#72acab 368px)"></i><i class="r" style="top:152px;height:2px;background:linear-gradient(90deg,#4a69b1 0px,#4b6fb6 62.5px,#528bbe 118.5px,#63a1b0 167.5px,#84baa7 205.5px,#8cc0a5 223.5px,#81b8a7 308.5px,#7cb4a8 349.5px,#6faaac 368px)"></i><i class="r" style="top:154px;height:2px;background:linear-gradient(90deg,#4a68b0 0px,#4b6eb4 62.5px,#528abe 123.5px,#5d9ab4 164.5px,#85bba6 213.5px,#83b9a7 261.5px,#7eb5a8 320.5px,#76afaa 354.5px,#6da8ad 368px)"></i><i class="r" style="top:156px;height:2px;background:linear-gradient(90deg,#4a67af 0px,#4b6db4 63.5px,#5088c0 131.5px,#5a95b7 164.5px,#77b0a9 201.5px,#82b8a7 224.5px,#7eb5a8 264.5px,#75aeaa 352.5px,#6ba7ad 368px)"></i><i class="r" style="top:158px;height:2px;background:linear-gradient(90deg,#4a66ae 0px,#4b6db3 67.5px,#5086c0 134.5px,#558fbb 162.5px,#71acab 200.5px,#7cb4a8 223.5px,#7bb3a8 263.5px,#71acab 352.5px,#68a5ae 368px)"></i><i class="r" style="top:160px;height:2px;background:linear-gradient(90deg,#4b65ad 0px,#4b6db3 72.5px,#4f83bf 133.5px,#538cbd 166.5px,#6ea9ac 203.5px,#78b1a9 225.5px,#78b1a9 264.5px,#6ca8ad 354.5px,#66a3af 368px)"></i><i class="r" style="top:162px;height:2px;background:linear-gradient(90deg,#4b63ac 0px,#4b6db4 77.5px,#4e81be 134.5px,#538bbe 172.5px,#6da9ad 208.5px,#78b1a9 253.5px,#6ea9ac 320.5px,#65a2af 362.5px,#63a1b0 368px)"></i><i class="r" style="top:164px;height:2px;background:linear-gradient(90deg,#4b62ab 0px,#4b6db4 82.5px,#4e7fbe 136.5px,#528abf 178.5px,#6aa6ae 210.5px,#73adab 255.5px,#6aa6ad 319.5px,#619eb1 368px)"></i><i class="r" style="top:166px;height:2px;background:linear-gradient(90deg,#4b61aa 0px,#4b6db4 86.5px,#4d7ebd 142.5px,#5189bf 183.5px,#66a3af 213.5px,#6faaac 255.5px,#67a4af 323.5px,#5e9bb3 368px)"></i><i class="r" style="top:168px;height:2px;background:linear-gradient(90deg,#4b60a9 0px,#4b6db4 91.5px,#4d7cbd 150.5px,#5189bf 189.5px,#62a0b0 216.5px,#6ba7ad 256.5px,#5d99b5 363.5px,#5c98b5 368px)"></i><i class="r" style="top:170px;height:2px;background:linear-gradient(90deg,#4c5fa8 0px,#4b6db4 96.5px,#4d7bbd 162.5px,#518abf 195.5px,#5f9db2 220.5px,#66a3af 258.5px,#5a95b7 368px)"></i><i class="r" style="top:172px;height:2px;background:linear-gradient(90deg,#4c5da7 0px,#4b6eb4 101.5px,#4e80be 186.5px,#548ebc 205.5px,#63a1b0 247.5px,#5792ba 368px)"></i><i class="r" style="top:174px;height:2px;background:linear-gradient(90deg,#4c5ca6 0px,#4b6eb4 107.5px,#4d7ebd 188.5px,#548dbd 211.5px,#5f9db2 254.5px,#5994b8 326.5px,#558ebc 368px)"></i><i class="r" style="top:176px;height:2px;background:linear-gradient(90deg,#4c5ca6 0px,#4b6fb5 120.5px,#4d7bbd 190.5px,#548dbd 221.5px,#5c98b6 256.5px,#5189bf 368px)"></i><i class="r" style="top:178px;height:2px;background:linear-gradient(90deg,#4d5ba5 0px,#4b6fb5 129.5px,#4c79bc 192.5px,#538cbd 231.5px,#5893b9 256.5px,#4f84bf 368px)"></i><i class="r" style="top:180px;height:2px;background:linear-gradient(90deg,#4d5aa5 0px,#4b6eb5 134.5px,#4c78bc 195.5px,#538cbd 242.5px,#548dbc 262.5px,#4e80be 368px)"></i><i class="r" style="top:182px;height:2px;background:linear-gradient(90deg,#4e5aa4 0px,#4c75ba 194.5px,#528abf 254.5px,#4e82be 341.5px,#4d7cbd 368px)"></i><i class="r" style="top:184px;height:2px;background:linear-gradient(90deg,#4e59a4 0px,#4b74b9 197.5px,#5087c0 256.5px,#4e81be 336.5px,#4c78bc 368px)"></i><i class="r" style="top:186px;height:2px;background:linear-gradient(90deg,#4e59a4 0px,#4b72b8 199.5px,#4f86bf 258.5px,#4e81be 333.5px,#4c75b9 368px)"></i><i class="r" style="top:188px;height:2px;background:linear-gradient(90deg,#4f58a3 0px,#4a6ab2 149.5px,#4c78bc 227.5px,#4f85bf 255.5px,#4e81be 328.5px,#4b72b8 368px)"></i><i class="r" style="top:190px;height:2px;background:linear-gradient(90deg,#4f58a3 0px,#4a69b1 148.5px,#4c77bb 228.5px,#4f84bf 256.5px,#4e81be 324.5px,#4b71b7 366.5px,#4b71b7 368px)"></i><i class="r" style="top:192px;height:2px;background:linear-gradient(90deg,#4f58a3 0px,#4a68b0 147.5px,#4c75ba 227.5px,#4f83bf 256.5px,#4e81be 320.5px,#4b71b6 362.5px,#4b71b6 368px)"></i></div>
<div class="hm" style="left:1071.2px;top:53.1px;width:277px;height:194px"><i class="r" style="top:0px;height:2px;background:linear-gradient(90deg,#d9e398 0px,#e3e79b 11.5px,#f5f2b6 35.5px,#f5f2b7 108.5px,#ededa8 277px)"></i><i class="r" style="top:2px;height:2px;background:linear-gradient(90deg,#d9e398 0px,#e3e79b 11.5px,#f5f2b6 35.5px,#f5f2b7 108.5px,#ededa8 277px)"></i><i class="r" style="top:4px;height:2px;background:linear-gradient(90deg,#d9e398 0px,#e3e79b 11.5px,#f5f2b6 35.5px,#f5f2b7 108.5px,#ededa8 277px)"></i><i class="r" style="top:6px;height:2px;background:linear-gradient(90deg,#d9e398 0px,#e3e79b 11.5px,#f5f2b6 35.5px,#f5f2b7 108.5px,#ededa8 277px)"></i><i class="r" style="top:8px;height:2px;background:linear-gradient(90deg,#d9e398 0px,#e3e79b 11.5px,#f5f2b6 36.5px,#f5f2b7 108.5px,#ededa8 277px)"></i><i class="r" style="top:10px;height:2px;background:linear-gradient(90deg,#d9e398 0px,#e3e79b 11.5px,#f5f2b6 36.5px,#f5f2b7 108.5px,#ededa8 277px)"></i><i class="r" style="top:12px;height:2px;background:linear-gradient(90deg,#d9e398 0px,#e2e79b 11.5px,#f5f2b6 36.5px,#f5f2b7 108.5px,#ededa8 277px)"></i><i class="r" style="top:14px;height:2px;background:linear-gradient(90deg,#d9e398 0px,#e2e79b 11.5px,#f5f2b6 36.5px,#f5f2b7 108.5px,#ededa7 277px)"></i><i class="r" style="top:16px;height:2px;background:linear-gradient(90deg,#d9e398 0px,#e1e69a 10.5px,#f5f2b6 36.5px,#f5f2b7 108.5px,#ececa6 277px)"></i><i class="r" style="top:18px;height:2px;background:linear-gradient(90deg,#d9e398 0px,#e2e79b 11.5px,#f5f2b6 36.5px,#f5f2b7 108.5px,#ebeca5 277px)"></i><i class="r" style="top:20px;height:2px;background:linear-gradient(90deg,#d9e398 0px,#e2e79b 11.5px,#f5f2b6 36.5px,#f5f2b7 108.5px,#ededa9 222.5px,#eaeba3 277px)"></i><i class="r" style="top:22px;height:2px;background:linear-gradient(90deg,#d9e398 0px,#e2e79b 11.5px,#f5f2b6 36.5px,#f5f2b7 108.5px,#eeeea9 216.5px,#e9eaa1 277px)"></i><i class="r" style="top:24px;height:2px;background:linear-gradient(90deg,#d9e398 0px,#e1e69a 10.5px,#f5f2b6 36.5px,#f5f2b7 108.5px,#eeeeaa 211.5px,#e9eba2 248.5px,#e8eaa0 277px)"></i><i class="r" style="top:26px;height:2px;background:linear-gradient(90deg,#d9e398 0px,#e2e79b 11.5px,#f5f2b6 37.5px,#f5f2b7 109.5px,#eeeeaa 206.5px,#e8eaa1 240.5px,#e6e99f 277px)"></i><i class="r" style="top:28px;height:2px;background:linear-gradient(90deg,#d9e398 0px,#e1e79a 11.5px,#f5f2b6 37.5px,#f5f2b7 109.5px,#efeeab 202.5px,#e7ea9f 235.5px,#e5e99e 277px)"></i><i class="r" style="top:30px;height:2px;background:linear-gradient(90deg,#d9e398 0px,#e1e69a 11.5px,#f5f2b6 37.5px,#f5f2b7 109.5px,#efeeab 199.5px,#e6e99e 232.5px,#e4e89d 277px)"></i><i class="r" style="top:32px;height:2px;background:linear-gradient(90deg,#d8e398 0px,#e0e699 10.5px,#f5f2b6 37.5px,#f5f2b7 109.5px,#efeeab 197.5px,#e5e89d 229.5px,#e3e79c 277px)"></i><i class="r" style="top:34px;height:2px;background:linear-gradient(90deg,#d8e398 0px,#e1e69a 11.5px,#f5f2b6 37.5px,#f5f2b7 109.5px,#efeeac 195.5px,#e4e89d 223.5px,#e1e79a 277px)"></i><i class="r" style="top:36px;height:2px;background:linear-gradient(90deg,#d8e298 0px,#e1e69a 11.5px,#f5f2b6 37.5px,#f5f2b7 108.5px,#efeeac 193.5px,#e5e89d 218.5px,#e0e699 277px)"></i><i class="r" style="top:38px;height:2px;background:linear-gradient(90deg,#d8e299 0px,#e1e69a 11.5px,#f5f2b6 37.5px,#f5f2b7 108.5px,#efeeac 191.5px,#e4e89d 216.5px,#dfe598 277px)"></i><i class="r" style="top:40px;height:2px;background:linear-gradient(90deg,#d8e299 0px,#e1e69a 11.5px,#f5f2b6 38.5px,#f5f2b7 109.5px,#f0efac 189.5px,#e3e79b 216.5px,#dee597 277px)"></i><i class="r" style="top:42px;height:2px;background:linear-gradient(90deg,#d8e299 0px,#e0e699 11.5px,#f5f2b6 38.5px,#f5f2b7 109.5px,#f0efac 187.5px,#e1e79b 215.5px,#dce496 277px)"></i><i class="r" style="top:44px;height:2px;background:linear-gradient(90deg,#d8e299 0px,#e0e699 11.5px,#f5f2b6 38.5px,#f5f2b7 109.5px,#efeeac 186.5px,#e0e699 215.5px,#dbe497 277px)"></i><i class="r" style="top:46px;height:2px;background:linear-gradient(90deg,#d7e299 0px,#e0e699 11.5px,#f5f2b6 38.5px,#f5f2b7 109.5px,#f0efac 184.5px,#dfe699 213.5px,#dae397 254.5px,#d9e398 277px)"></i><i class="r" style="top:48px;height:2px;background:linear-gradient(90deg,#d7e299 0px,#e0e699 11.5px,#f5f2b6 38.5px,#f5f2b7 109.5px,#f0efad 182.5px,#dfe598 212.5px,#d9e398 251.5px,#d8e298 277px)"></i><i class="r" style="top:50px;height:2px;background:linear-gradient(90deg,#d7e299 0px,#e0e699 11.5px,#f5f2b6 38.5px,#f5f2b7 109.5px,#f0efad 180.5px,#dee597 212.5px,#d7e299 252.5px,#d7e299 277px)"></i><i class="r" style="top:52px;height:2px;background:linear-gradient(90deg,#d7e299 0px,#e0e699 11.5px,#f5f2b6 38.5px,#f5f2b7 109.5px,#f0efac 178.5px,#dce496 213.5px,#d6e29a 264.5px,#d6e29a 277px)"></i><i class="r" style="top:54px;height:2px;background:linear-gradient(90deg,#d7e299 0px,#e0e699 11.5px,#f5f2b6 39.5px,#f5f2b6 110.5px,#f0efad 175.5px,#dbe496 212.5px,#d5e19a 258.5px,#d4e19b 277px)"></i><i class="r" style="top:56px;height:2px;background:linear-gradient(90deg,#d7e299 0px,#dfe699 11.5px,#f5f2b6 39.5px,#f5f2b6 110.5px,#f0efad 172.5px,#dbe497 211.5px,#d4e19b 256.5px,#d3e19b 277px)"></i><i class="r" style="top:58px;height:2px;background:linear-gradient(90deg,#d6e299 0px,#dfe598 11.5px,#f5f2b6 39.5px,#f5f2b6 110.5px,#f0efad 169.5px,#dae397 210.5px,#d3e19c 254.5px,#d2e09c 277px)"></i><i class="r" style="top:60px;height:2px;background:linear-gradient(90deg,#d6e29a 0px,#e0e699 12.5px,#f5f2b6 39.5px,#f5f2b7 107.5px,#f0efad 166.5px,#dae397 209.5px,#d2e09c 252.5px,#d1e09d 277px)"></i><i class="r" style="top:62px;height:2px;background:linear-gradient(90deg,#d6e29a 0px,#e0e699 12.5px,#f5f2b5 38.5px,#f5f2b7 95.5px,#f1efae 159.5px,#dae397 207.5px,#d1e09d 247.5px,#d0df9e 277px)"></i><i class="r" style="top:64px;height:2px;background:linear-gradient(90deg,#d6e29a 0px,#dfe598 11.5px,#f4f1b3 37.5px,#f6f2b7 85.5px,#f0efad 156.5px,#dae397 206.5px,#d0df9e 247.5px,#cfdf9e 277px)"></i><i class="r" style="top:66px;height:2px;background:linear-gradient(90deg,#d5e19a 0px,#dfe598 11.5px,#f3f0b1 37.5px,#f6f3b9 77.5px,#f2f0b0 129.5px,#eeeeaa 158.5px,#dae397 204.5px,#cfdf9e 246.5px,#cdde9e 277px)"></i><i class="r" style="top:68px;height:2px;background:linear-gradient(90deg,#d5e19a 0px,#dfe699 12.5px,#f1efae 36.5px,#f6f3b9 71.5px,#f1f0af 113.5px,#ededa9 155.5px,#dae397 202.5px,#cdde9e 247.5px,#cbde9e 277px)"></i><i class="r" style="top:70px;height:2px;background:linear-gradient(90deg,#d5e19a 0px,#dfe598 12.5px,#efeeab 34.5px,#f6f3b8 69.5px,#f0efad 106.5px,#ececa6 155.5px,#dae397 200.5px,#ccde9e 246.5px,#cadd9f 277px)"></i><i class="r" style="top:72px;height:2px;background:linear-gradient(90deg,#d5e19b 0px,#dfe598 12.5px,#eceda7 31.5px,#f6f2b7 68.5px,#efeeab 101.5px,#ebeca4 155.5px,#d9e398 199.5px,#cadd9f 246.5px,#c8dc9f 277px)"></i><i class="r" style="top:74px;height:2px;background:linear-gradient(90deg,#d4e19b 0px,#dfe598 12.5px,#eaeba4 29.5px,#f5f2b5 68.5px,#ededa8 99.5px,#e9eba1 156.5px,#dae397 196.5px,#c9dc9f 246.5px,#c7dc9f 277px)"></i><i class="r" style="top:76px;height:2px;background:linear-gradient(90deg,#d4e19b 0px,#dfe699 13.5px,#e9eaa1 29.5px,#f4f1b3 68.5px,#ebeca5 98.5px,#e7e99f 158.5px,#d9e398 194.5px,#c7dc9f 246.5px,#c5db9f 277px)"></i><i class="r" style="top:78px;height:2px;background:linear-gradient(90deg,#d3e19b 0px,#dfe598 13.5px,#e7e99f 28.5px,#f3f1b2 67.5px,#e9eba2 97.5px,#e4e89d 160.5px,#d9e398 192.5px,#c6db9f 247.5px,#c4da9f 277px)"></i><i class="r" style="top:80px;height:2px;background:linear-gradient(90deg,#d3e09c 0px,#dfe598 13.5px,#e4e89d 27.5px,#eeeeaa 54.5px,#f1f0af 68.5px,#e7eaa0 96.5px,#e2e79b 161.5px,#d9e398 189.5px,#c4db9f 248.5px,#c2da9f 277px)"></i><i class="r" style="top:82px;height:2px;background:linear-gradient(90deg,#d2e09c 0px,#dfe598 13.5px,#ebeca5 51.5px,#f0efad 67.5px,#e5e99e 96.5px,#e1e69a 161.5px,#d7e299 189.5px,#c3da9f 249.5px,#c1d9a0 277px)"></i><i class="r" style="top:84px;height:2px;background:linear-gradient(90deg,#d2e09c 0px,#dee598 13.5px,#eaeba3 52.5px,#eeeeaa 67.5px,#e3e79c 97.5px,#dfe598 161.5px,#d4e19b 195.5px,#c1d9a0 250.5px,#bfd9a0 277px)"></i><i class="r" style="top:86px;height:2px;background:linear-gradient(90deg,#d1e09d 0px,#dee598 13.5px,#e7e99f 49.5px,#eceda7 67.5px,#e1e69a 99.5px,#dde497 162.5px,#c0d9a0 253.5px,#bed8a0 277px)"></i><i class="r" style="top:88px;height:2px;background:linear-gradient(90deg,#d1e09d 0px,#dfe598 14.5px,#e0e699 38.5px,#ebeca4 67.5px,#dfe598 101.5px,#dbe497 162.5px,#bed8a0 253.5px,#bdd7a0 277px)"></i><i class="r" style="top:90px;height:2px;background:linear-gradient(90deg,#d0df9e 0px,#dee598 14.5px,#dce496 33.5px,#e9eaa1 68.5px,#dce496 102.5px,#d9e398 162.5px,#c3da9f 228.5px,#bbd7a1 277px)"></i><i class="r" style="top:92px;height:2px;background:linear-gradient(90deg,#cfdf9e 0px,#dee597 17.5px,#d9e398 30.5px,#e2e79b 51.5px,#e6e99f 69.5px,#dae397 96.5px,#d7e299 166.5px,#c0d9a0 232.5px,#bad6a1 277px)"></i><i class="r" style="top:94px;height:2px;background:linear-gradient(90deg,#cede9e 0px,#dce496 17.5px,#d7e299 31.5px,#e0e699 51.5px,#e4e89d 69.5px,#d9e398 91.5px,#d4e19b 177.5px,#bbd7a1 251.5px,#b9d6a1 277px)"></i><i class="r" style="top:96px;height:2px;background:linear-gradient(90deg,#ccde9e 0px,#d9e398 18.5px,#d6e29a 33.5px,#dfe699 53.5px,#e2e79b 69.5px,#d8e398 89.5px,#d2e09c 182.5px,#bad6a1 250.5px,#b8d5a1 277px)"></i><i class="r" style="top:98px;height:2px;background:linear-gradient(90deg,#cadd9f 0px,#d6e29a 18.5px,#d4e19b 34.5px,#dfe699 57.5px,#dee598 74.5px,#d5e19a 105.5px,#d1e09d 180.5px,#b9d5a1 251.5px,#b7d4a2 277px)"></i><i class="r" style="top:100px;height:2px;background:linear-gradient(90deg,#c8dc9f 0px,#d4e19b 18.5px,#d4e19b 36.5px,#dfe699 61.5px,#d5e19a 89.5px,#cfdf9e 185.5px,#b8d5a2 250.5px,#b6d4a2 277px)"></i><i class="r" style="top:102px;height:2px;background:linear-gradient(90deg,#c5db9f 0px,#d1e09c 18.5px,#d3e19b 40.5px,#dce496 67.5px,#d2e09c 106.5px,#cedf9e 183.5px,#b7d4a2 250.5px,#b5d3a2 277px)"></i><i class="r" style="top:104px;height:2px;background:linear-gradient(90deg,#c2daa0 0px,#cfdf9e 20.5px,#d4e19b 47.5px,#dae397 67.5px,#d0df9d 108.5px,#cdde9e 184.5px,#b6d4a2 249.5px,#b4d3a3 277px)"></i><i class="r" style="top:106px;height:2px;background:linear-gradient(90deg,#bfd9a0 0px,#ccde9e 21.5px,#d7e299 68.5px,#cfdf9e 110.5px,#cbdd9e 184.5px,#b5d4a2 248.5px,#b2d2a3 277px)"></i><i class="r" style="top:108px;height:2px;background:linear-gradient(90deg,#bdd7a0 0px,#cadd9f 23.5px,#d5e19a 68.5px,#cdde9e 110.5px,#cadd9f 185.5px,#b4d3a2 247.5px,#b1d2a3 277px)"></i><i class="r" style="top:110px;height:2px;background:linear-gradient(90deg,#bad6a1 0px,#c8dc9f 26.5px,#d3e09c 68.5px,#cbdd9f 111.5px,#c8dc9f 187.5px,#b3d3a3 247.5px,#b0d1a3 277px)"></i><i class="r" style="top:112px;height:2px;background:linear-gradient(90deg,#b8d5a2 0px,#c6db9f 28.5px,#d0e09d 69.5px,#c9dc9f 111.5px,#c6db9f 189.5px,#b2d2a3 250.5px,#afd0a4 277px)"></i><i class="r" style="top:114px;height:2px;background:linear-gradient(90deg,#b5d4a2 0px,#c5db9f 30.5px,#cedf9e 69.5px,#c7dc9f 112.5px,#c4da9f 191.5px,#b0d1a3 253.5px,#aed0a4 277px)"></i><i class="r" style="top:116px;height:2px;background:linear-gradient(90deg,#b3d2a3 0px,#c3da9f 30.5px,#cadd9f 71.5px,#c5db9f 116.5px,#c1d9a0 194.5px,#aed0a4 260.5px,#accfa4 277px)"></i><i class="r" style="top:118px;height:2px;background:linear-gradient(90deg,#b0d1a4 0px,#c1d9a0 29.5px,#c7dc9f 73.5px,#c3da9f 122.5px,#bfd8a0 196.5px,#abcfa4 273.5px,#aacfa4 277px)"></i><i class="r" style="top:120px;height:2px;background:linear-gradient(90deg,#add0a4 0px,#bfd8a0 26.5px,#c4da9f 77.5px,#c2daa0 137.5px,#bdd7a0 198.5px,#a9cea4 277px)"></i><i class="r" style="top:122px;height:2px;background:linear-gradient(90deg,#a9cea4 0px,#bcd7a1 21.5px,#c1d9a0 80.5px,#bcd7a1 199.5px,#a8cea4 275.5px,#a8cea4 277px)"></i><i class="r" style="top:124px;height:2px;background:linear-gradient(90deg,#a6cda4 0px,#b8d5a2 16.5px,#bfd8a0 73.5px,#bbd6a1 200.5px,#a7cea4 270.5px,#a7cda4 277px)"></i><i class="r" style="top:126px;height:2px;background:linear-gradient(90deg,#a3cca4 0px,#b3d3a3 12.5px,#bad6a1 33.5px,#bad6a1 200.5px,#a7cda4 263.5px,#a6cda4 277px)"></i><i class="r" style="top:128px;height:2px;background:linear-gradient(90deg,#a0cba4 0px,#b2d2a3 12.5px,#b8d5a1 33.5px,#b9d5a1 202.5px,#a6cda4 260.5px,#a5cda4 277px)"></i><i class="r" style="top:130px;height:2px;background:linear-gradient(90deg,#9dcaa4 0px,#b1d1a3 12.5px,#b7d4a2 32.5px,#b8d5a2 203.5px,#a6cda4 255.5px,#a4cca4 277px)"></i><i class="r" style="top:132px;height:2px;background:linear-gradient(90deg,#9ac9a4 0px,#b0d1a3 13.5px,#b5d4a2 32.5px,#b7d4a2 204.5px,#a5cda4 249.5px,#a3cca4 277px)"></i><i class="r" style="top:134px;height:2px;background:linear-gradient(90deg,#97c7a4 0px,#afd1a4 14.5px,#b4d3a3 32.5px,#b5d4a2 108.5px,#b6d4a2 205.5px,#a5cda4 245.5px,#a2cca4 277px)"></i><i class="r" style="top:136px;height:2px;background:linear-gradient(90deg,#96c6a4 0px,#a3cca4 8.5px,#b0d1a3 18.5px,#b0d1a3 41.5px,#b5d4a2 206.5px,#a5cda4 246.5px,#a3cca4 277px)"></i><i class="r" style="top:138px;height:2px;background:linear-gradient(90deg,#94c5a4 0px,#9ecaa4 8.5px,#afd0a4 17.5px,#afd0a4 38.5px,#aed0a4 60.5px,#b4d3a2 207.5px,#a5cda4 253.5px,#a4cca4 277px)"></i><i class="r" style="top:140px;height:2px;background:linear-gradient(90deg,#92c4a4 0px,#9dcaa4 10.5px,#aed0a4 18.5px,#accfa4 40.5px,#a8cea4 55.5px,#b2d2a3 116.5px,#b4d3a3 209.5px,#a6cda4 260.5px,#a4cda4 277px)"></i><i class="r" style="top:142px;height:2px;background:linear-gradient(90deg,#8fc2a5 0px,#9cc9a4 11.5px,#add0a4 19.5px,#aacea4 38.5px,#a2cca4 55.5px,#afd1a4 106.5px,#b3d2a3 211.5px,#a6cda4 269.5px,#a5cda4 277px)"></i><i class="r" style="top:144px;height:2px;background:linear-gradient(90deg,#8bbfa5 0px,#9ccaa4 13.5px,#abcfa4 20.5px,#a7cda4 36.5px,#9dcaa4 55.5px,#afd0a4 112.5px,#b2d2a3 214.5px,#a6cda4 277px)"></i><i class="r" style="top:146px;height:2px;background:linear-gradient(90deg,#87bca6 0px,#9dcaa4 15.5px,#a8cea4 22.5px,#a4cca4 34.5px,#98c8a4 54.5px,#add0a4 117.5px,#b1d2a3 217.5px,#a8cea4 277px)"></i><i class="r" style="top:148px;height:2px;background:linear-gradient(90deg,#84baa7 0px,#a2cba4 22.5px,#a1cba4 32.5px,#96c6a4 51.5px,#a0cba4 91.5px,#aacea4 120.5px,#b1d2a3 220.5px,#a9cea4 277px)"></i><i class="r" style="top:150px;height:2px;background:linear-gradient(90deg,#80b7a7 0px,#9bc9a4 21.5px,#9dcaa4 31.5px,#93c5a4 55.5px,#9ecaa4 100.5px,#a5cda4 123.5px,#b1d2a3 223.5px,#aacfa4 277px)"></i><i class="r" style="top:152px;height:2px;background:linear-gradient(90deg,#7cb4a8 0px,#96c7a4 18.5px,#97c7a4 33.5px,#92c4a4 64.5px,#abcfa4 170.5px,#b1d1a3 228.5px,#abcfa4 277px)"></i><i class="r" style="top:154px;height:2px;background:linear-gradient(90deg,#78b1a9 0px,#94c5a4 18.5px,#94c5a4 36.5px,#8ec1a5 64.5px,#a2cca4 159.5px,#b1d2a3 214.5px,#accfa4 277px)"></i><i class="r" style="top:156px;height:2px;background:linear-gradient(90deg,#76afaa 0px,#92c4a4 19.5px,#92c4a4 36.5px,#8bbfa5 63.5px,#9ecaa4 159.5px,#b1d1a3 214.5px,#add0a4 277px)"></i><i class="r" style="top:158px;height:2px;background:linear-gradient(90deg,#74aeab 0px,#8ec1a5 19.5px,#90c3a4 33.5px,#87bca6 62.5px,#9cc9a4 161.5px,#b0d1a4 213.5px,#aed0a4 277px)"></i><i class="r" style="top:160px;height:2px;background:linear-gradient(90deg,#72acab 0px,#8cbfa5 20.5px,#8dc0a5 33.5px,#84baa7 63.5px,#9ac9a4 164.5px,#afd1a4 215.5px,#afd0a4 277px)"></i><i class="r" style="top:162px;height:2px;background:linear-gradient(90deg,#71abac 0px,#8abea5 22.5px,#89bda6 35.5px,#81b7a7 66.5px,#8fc2a5 134.5px,#a4cca4 188.5px,#b1d2a3 233.5px,#afd1a4 277px)"></i><i class="r" style="top:164px;height:2px;background:linear-gradient(90deg,#6faaac 0px,#88bda6 24.5px,#7db5a8 68.5px,#88bda6 126.5px,#a7cda4 197.5px,#b1d2a3 239.5px,#b0d1a4 277px)"></i><i class="r" style="top:166px;height:2px;background:linear-gradient(90deg,#6da9ad 0px,#85bba6 25.5px,#7ab2a9 68.5px,#81b8a7 113.5px,#a5cda4 197.5px,#b0d1a3 233.5px,#b0d1a3 277px)"></i><i class="r" style="top:168px;height:2px;background:linear-gradient(90deg,#6ba7ad 0px,#82b9a7 25.5px,#77b0aa 71.5px,#7fb6a7 119.5px,#a4cca4 199.5px,#afd1a4 231.5px,#b1d1a3 277px)"></i><i class="r" style="top:170px;height:2px;background:linear-gradient(90deg,#68a5ae 0px,#7fb6a8 24.5px,#74aeaa 72.5px,#7eb6a8 129.5px,#96c7a4 175.5px,#aed0a4 227.5px,#b1d1a3 277px)"></i><i class="r" style="top:172px;height:2px;background:linear-gradient(90deg,#65a2af 0px,#7bb3a8 23.5px,#72acab 71.5px,#7cb4a8 132.5px,#95c6a4 174.5px,#add0a4 228.5px,#b1d2a3 277px)"></i><i class="r" style="top:174px;height:2px;background:linear-gradient(90deg,#62a0b0 0px,#7ab2a9 25.5px,#6faaac 64.5px,#7bb3a8 135.5px,#94c5a4 172.5px,#a3cca4 207.5px,#add0a4 235.5px,#b1d2a3 277px)"></i><i class="r" style="top:176px;height:2px;background:linear-gradient(90deg,#5f9cb3 0px,#78b1a9 28.5px,#6da8ad 55.5px,#7ab2a9 136.5px,#93c4a4 171.5px,#a1cba4 205.5px,#accfa4 235.5px,#b1d2a3 277px)"></i><i class="r" style="top:178px;height:2px;background:linear-gradient(90deg,#5c98b6 0px,#73adab 29.5px,#6aa6ae 52.5px,#79b2a9 137.5px,#92c4a4 172.5px,#a0cba4 206.5px,#accfa4 241.5px,#b1d1a3 277px)"></i><i class="r" style="top:180px;height:2px;background:linear-gradient(90deg,#5893b9 0px,#6da9ad 30.5px,#68a5ae 55.5px,#7bb3a8 139.5px,#92c4a4 175.5px,#9fcba4 206.5px,#abcfa4 249.5px,#b1d1a3 277px)"></i><i class="r" style="top:182px;height:2px;background:linear-gradient(90deg,#548dbd 0px,#67a4af 31.5px,#68a5ae 57.5px,#7eb5a8 142.5px,#94c5a4 182.5px,#a9cea4 237.5px,#b0d1a3 277px)"></i><i class="r" style="top:184px;height:2px;background:linear-gradient(90deg,#4f86bf 0px,#619eb1 32.5px,#72acab 95.5px,#80b7a7 144.5px,#97c8a4 194.5px,#a5cda4 218.5px,#b0d1a3 277px)"></i><i class="r" style="top:186px;height:2px;background:linear-gradient(90deg,#4e7fbe 0px,#558fbc 22.5px,#6aa6ae 54.5px,#74aeaa 103.5px,#83b9a7 149.5px,#9ecaa4 201.5px,#a6cda4 221.5px,#b0d1a3 277px)"></i><i class="r" style="top:188px;height:2px;background:linear-gradient(90deg,#4c78bc 0px,#538cbd 26.5px,#619fb1 43.5px,#71acab 63.5px,#80b7a7 144.5px,#9dcaa4 200.5px,#a8cea4 217.5px,#b0d1a3 277px)"></i><i class="r" style="top:190px;height:2px;background:linear-gradient(90deg,#4b74b9 0px,#538bbe 32.5px,#5f9cb3 43.5px,#70abac 53.5px,#83b9a7 149.5px,#9ecaa4 200.5px,#aacea4 217.5px,#b0d1a3 277px)"></i><i class="r" style="top:192px;height:2px;background:linear-gradient(90deg,#4b71b7 0px,#4d7cbd 18.5px,#538cbd 38.5px,#5c99b5 44.5px,#6faaac 48.5px,#76afaa 62.5px,#81b8a7 143.5px,#9ecaa4 200.5px,#abcfa4 219.5px,#b0d1a3 277px)"></i></div>
<div class="hm" style="left:1071.2px;top:375.2px;width:280px;height:209px"><i class="r" style="top:0px;height:2px;background:linear-gradient(90deg,#a8234f 0px,#ac284e 5.5px,#c94a48 10.5px,#d56748 14.5px,#de8854 31.5px,#ecc06d 65.5px,#efcd77 74.5px,#f6eaa0 94.5px,#f8f4bb 112.5px,#eaeba4 192.5px,#ebeca5 280px)"></i><i class="r" style="top:2px;height:2px;background:linear-gradient(90deg,#a8234f 0px,#ac284e 5.5px,#c94a48 10.5px,#d56748 14.5px,#de8954 31.5px,#ecc16d 65.5px,#efce78 74.5px,#f6eaa0 94.5px,#f8f4bb 112.5px,#eaeba4 192.5px,#ebeca5 280px)"></i><i class="r" style="top:4px;height:2px;background:linear-gradient(90deg,#a8234f 0px,#ac284e 5.5px,#c94a48 10.5px,#d56748 14.5px,#de8955 31.5px,#ecc06d 64.5px,#efce77 73.5px,#f6eaa0 94.5px,#f8f4bb 112.5px,#eaeba3 192.5px,#ebeca5 280px)"></i><i class="r" style="top:6px;height:2px;background:linear-gradient(90deg,#a8234f 0px,#ac284e 5.5px,#c94a48 10.5px,#d56748 14.5px,#de8854 30.5px,#ecc06d 63.5px,#efcd77 72.5px,#f6eaa0 94.5px,#f8f4bc 111.5px,#eaeba3 192.5px,#ebeca5 280px)"></i><i class="r" style="top:8px;height:2px;background:linear-gradient(90deg,#a8234f 0px,#ac284e 5.5px,#c94a48 10.5px,#d56748 14.5px,#de8653 29.5px,#ebbc6b 60.5px,#efcd77 71.5px,#f6eaa1 94.5px,#f8f4bc 111.5px,#e9eba2 192.5px,#ebeca4 280px)"></i><i class="r" style="top:10px;height:2px;background:linear-gradient(90deg,#a8234f 0px,#ac284e 5.5px,#c94a48 10.5px,#d56848 14.5px,#dd8552 28.5px,#ebba6b 58.5px,#efcb74 69.5px,#f6eaa0 93.5px,#f8f4bc 111.5px,#e9eba1 193.5px,#ebeca4 280px)"></i><i class="r" style="top:12px;height:2px;background:linear-gradient(90deg,#a8234f 0px,#ac284e 5.5px,#c94a48 10.5px,#d56848 14.5px,#de8754 29.5px,#ecbf6c 60.5px,#efcd76 69.5px,#f6eaa1 93.5px,#f8f4bc 111.5px,#e9eaa1 193.5px,#ebeca4 280px)"></i><i class="r" style="top:14px;height:2px;background:linear-gradient(90deg,#a8234f 0px,#ac284e 5.5px,#c94a48 10.5px,#d56848 14.5px,#de8854 29.5px,#ecbe6c 59.5px,#efcc76 68.5px,#f6e99e 91.5px,#f8f4bb 111.5px,#e8eaa0 194.5px,#eaeba4 280px)"></i><i class="r" style="top:16px;height:2px;background:linear-gradient(90deg,#a8234f 0px,#ac284e 5.5px,#cd5448 11.5px,#d56848 14.5px,#df8b55 30.5px,#eec770 64.5px,#f6e89b 88.5px,#f8f4bb 111.5px,#e8eaa0 194.5px,#eaeba4 280px)"></i><i class="r" style="top:18px;height:2px;background:linear-gradient(90deg,#a8234f 0px,#ab264f 4.5px,#c54549 9.5px,#d36348 13.5px,#dc8050 25.5px,#eab669 53.5px,#efcc75 66.5px,#f6e99c 87.5px,#f8f4bb 111.5px,#e7ea9f 194.5px,#eaeba3 280px)"></i><i class="r" style="top:20px;height:2px;background:linear-gradient(90deg,#a8234f 0px,#ab274f 4.5px,#cb5148 10.5px,#d46548 13.5px,#dd8352 26.5px,#eab769 53.5px,#efcb74 65.5px,#f6e99d 86.5px,#f8f4bb 110.5px,#e7e99f 194.5px,#eaeba3 280px)"></i><i class="r" style="top:22px;height:2px;background:linear-gradient(90deg,#a8234f 0px,#ac284e 4.5px,#c94a48 9.5px,#d46748 13.5px,#dd8452 26.5px,#eab86a 53.5px,#efcb74 64.5px,#f6e99c 84.5px,#f8f4bb 110.5px,#e7e99f 194.5px,#eaeba3 280px)"></i><i class="r" style="top:24px;height:2px;background:linear-gradient(90deg,#a8234f 0px,#ac284e 4.5px,#c94a48 9.5px,#d56848 13.5px,#df8c56 29.5px,#efcb73 63.5px,#f6e99d 83.5px,#f8f4bb 110.5px,#e7e99f 195.5px,#eaeba3 280px)"></i><i class="r" style="top:26px;height:2px;background:linear-gradient(90deg,#a8234f 0px,#ac284e 4.5px,#c94a48 9.5px,#d56848 13.5px,#e08f57 30.5px,#efca73 62.5px,#f6e99d 81.5px,#f8f4bb 110.5px,#e6e99f 196.5px,#eaeba3 280px)"></i><i class="r" style="top:28px;height:2px;background:linear-gradient(90deg,#a8234f 0px,#ac284e 4.5px,#c94a48 9.5px,#d56848 13.5px,#e09058 30.5px,#efcc75 62.5px,#f6e99d 80.5px,#f8f4bc 109.5px,#e6e99e 197.5px,#e9eba2 280px)"></i><i class="r" style="top:30px;height:2px;background:linear-gradient(90deg,#a8234f 0px,#ac284e 4.5px,#c94a48 9.5px,#d56848 13.5px,#e19259 31.5px,#efcc75 61.5px,#f6e99e 79.5px,#f8f2b5 100.5px,#f7f3ba 111.5px,#e6e99e 198.5px,#e9eba2 280px)"></i><i class="r" style="top:32px;height:2px;background:linear-gradient(90deg,#a8234f 0px,#ac284e 4.5px,#c94a48 9.5px,#d56848 13.5px,#e1955b 32.5px,#efcb74 60.5px,#f6e99d 77.5px,#f8f2b6 97.5px,#f7f4bb 110.5px,#e6e99e 199.5px,#e9eba2 280px)"></i><i class="r" style="top:34px;height:2px;background:linear-gradient(90deg,#a8234f 0px,#ac284e 4.5px,#c94a48 9.5px,#d56848 13.5px,#e1945a 31.5px,#efcb74 59.5px,#f6e99e 76.5px,#f8f3b8 96.5px,#f7f3ba 110.5px,#e6e99e 200.5px,#e9eba2 280px)"></i><i class="r" style="top:36px;height:2px;background:linear-gradient(90deg,#a8234f 0px,#ac284e 4.5px,#c94a48 9.5px,#d56848 13.5px,#e09259 30.5px,#efcb73 58.5px,#f6ea9f 75.5px,#f8f4bb 96.5px,#e5e99e 203.5px,#e9eba1 280px)"></i><i class="r" style="top:38px;height:2px;background:linear-gradient(90deg,#a8234f 0px,#ad294e 4.5px,#cd5448 10.5px,#d56848 13.5px,#df8e57 28.5px,#eeca73 57.5px,#f6e99e 73.5px,#f8f4bb 93.5px,#e5e99e 205.5px,#e9eaa1 280px)"></i><i class="r" style="top:40px;height:2px;background:linear-gradient(90deg,#a8234f 0px,#af2b4e 4.5px,#ce5748 10.5px,#d56948 13.5px,#e1935a 30.5px,#efcb74 57.5px,#f6e99e 72.5px,#f8f4bc 91.5px,#e5e99e 207.5px,#e9eaa1 280px)"></i><i class="r" style="top:42px;height:2px;background:linear-gradient(90deg,#a8234f 0px,#ac284e 3.5px,#c94948 8.5px,#d46748 12.5px,#dd8552 24.5px,#ecbf6c 50.5px,#efcd76 57.5px,#f6ea9e 71.5px,#f8f4bc 88.5px,#e5e89d 209.5px,#e8eaa1 280px)"></i><i class="r" style="top:44px;height:2px;background:linear-gradient(90deg,#a8234f 0px,#ac284e 3.5px,#c94a48 8.5px,#d56848 12.5px,#e09058 28.5px,#eeca72 55.5px,#f6ea9f 70.5px,#f8f4bc 86.5px,#e5e89d 211.5px,#e8eaa0 280px)"></i><i class="r" style="top:46px;height:2px;background:linear-gradient(90deg,#a8234f 0px,#ac284e 3.5px,#c94a48 8.5px,#d56848 12.5px,#e1945a 29.5px,#efcb74 55.5px,#f6ea9f 69.5px,#f8f4bc 84.5px,#e5e89d 213.5px,#e8eaa0 280px)"></i><i class="r" style="top:48px;height:2px;background:linear-gradient(90deg,#a8234f 0px,#ac284e 3.5px,#c94a48 8.5px,#d56848 12.5px,#e1955a 29.5px,#efca73 54.5px,#f6ea9f 68.5px,#f8f4bc 82.5px,#f4f1b4 116.5px,#e5e89d 215.5px,#e8eaa0 280px)"></i><i class="r" style="top:50px;height:2px;background:linear-gradient(90deg,#a8234f 0px,#ac284e 3.5px,#c94a48 8.5px,#d56848 12.5px,#e2985c 30.5px,#eec972 53.5px,#f6ea9f 67.5px,#f8f4bc 80.5px,#f4f1b4 112.5px,#e4e89d 218.5px,#e8eaa0 280px)"></i><i class="r" style="top:52px;height:2px;background:linear-gradient(90deg,#a8244f 0px,#ad294e 3.5px,#cd5448 9.5px,#d56948 12.5px,#e39b5e 31.5px,#efcb74 53.5px,#f6ea9f 66.5px,#f8f4bb 79.5px,#f4f1b4 109.5px,#eaeba3 183.5px,#e6e99e 242.5px,#e7ea9f 280px)"></i><i class="r" style="top:54px;height:2px;background:linear-gradient(90deg,#a8244f 0px,#af2b4e 3.5px,#ce5748 9.5px,#d56948 12.5px,#e9b267 41.5px,#eeca72 52.5px,#f6ea9f 65.5px,#f8f4bc 77.5px,#f4f1b3 105.5px,#ececa6 171.5px,#e5e89d 229.5px,#e7ea9f 280px)"></i><i class="r" style="top:56px;height:2px;background:linear-gradient(90deg,#a8244f 0px,#b02c4e 3.5px,#cc5248 8.5px,#d46748 11.5px,#de8754 23.5px,#efcc75 52.5px,#f6ea9f 64.5px,#f8f4bc 76.5px,#f3f1b3 102.5px,#ededa8 167.5px,#e4e89d 228.5px,#e7e99f 280px)"></i><i class="r" style="top:58px;height:2px;background:linear-gradient(90deg,#a8244f 0px,#b02d4d 3.5px,#cd5348 8.5px,#d56848 11.5px,#e1935a 27.5px,#efca73 51.5px,#f6ea9f 63.5px,#f8f4bb 74.5px,#f3f1b2 105.5px,#eceda7 170.5px,#e4e89d 232.5px,#e7e99f 280px)"></i><i class="r" style="top:60px;height:2px;background:linear-gradient(90deg,#a8244f 0px,#b02d4d 3.5px,#cd5348 8.5px,#d56948 11.5px,#e8b167 39.5px,#eec972 50.5px,#f6e99e 62.5px,#f8f4bc 73.5px,#f3f1b2 101.5px,#ededa7 169.5px,#e4e89d 234.5px,#e6e99f 280px)"></i><i class="r" style="top:62px;height:2px;background:linear-gradient(90deg,#a8244f 0px,#b02d4d 3.5px,#cd5348 8.5px,#d56948 11.5px,#e8b066 38.5px,#efcb73 50.5px,#f6eaa0 62.5px,#f8f4bb 72.5px,#f3f1b2 99.5px,#eceda7 171.5px,#e4e89d 236.5px,#e6e99e 280px)"></i><i class="r" style="top:64px;height:2px;background:linear-gradient(90deg,#a8244f 0px,#b02d4d 3.5px,#cd5348 8.5px,#d56948 11.5px,#e8b167 38.5px,#eeca72 49.5px,#f6ea9f 61.5px,#f8f4bb 71.5px,#f3f1b2 97.5px,#ececa6 174.5px,#e4e89d 240.5px,#e6e99e 280px)"></i><i class="r" style="top:66px;height:2px;background:linear-gradient(90deg,#a8244f 0px,#b12d4d 3.5px,#cd5448 8.5px,#d56948 11.5px,#e8b066 37.5px,#efcb75 49.5px,#f6eaa1 61.5px,#f8f4bc 70.5px,#f3f1b2 93.5px,#ebeca5 177.5px,#e4e89d 244.5px,#e5e99e 280px)"></i><i class="r" style="top:68px;height:2px;background:linear-gradient(90deg,#a9244f 0px,#b3304d 3.5px,#cd5548 8.5px,#d56948 11.5px,#e8b167 37.5px,#efca73 48.5px,#f6eaa0 60.5px,#f8f4bc 69.5px,#f3f1b2 91.5px,#ebeca5 181.5px,#e4e89d 250.5px,#e5e99e 280px)"></i><i class="r" style="top:70px;height:2px;background:linear-gradient(90deg,#a9254f 0px,#b5324c 3.5px,#cb5148 7.5px,#d66b48 11.5px,#e9b468 38.5px,#efcc75 48.5px,#f6ea9f 59.5px,#f8f4bb 69.5px,#f3f0b1 92.5px,#ebeca4 182.5px,#e4e89d 252.5px,#e5e89d 280px)"></i><i class="r" style="top:72px;height:2px;background:linear-gradient(90deg,#a9254f 0px,#b6334c 3.5px,#cc5348 7.5px,#d56948 10.5px,#e9b368 37.5px,#efcb73 47.5px,#f6eaa0 59.5px,#f8f4bc 68.5px,#f2f0b1 91.5px,#eaeba4 184.5px,#e4e89c 256.5px,#e5e89d 280px)"></i><i class="r" style="top:74px;height:2px;background:linear-gradient(90deg,#a9254f 0px,#b6334c 3.5px,#cd5448 7.5px,#d66a48 10.5px,#e8b267 36.5px,#eeca72 46.5px,#f6ea9f 58.5px,#f8f4bb 68.5px,#f2f0af 96.5px,#ebeca4 184.5px,#e4e89c 257.5px,#e4e89d 280px)"></i><i class="r" style="top:76px;height:2px;background:linear-gradient(90deg,#a9254f 0px,#b6334c 3.5px,#cd5448 7.5px,#d66a48 10.5px,#e8ae66 34.5px,#efcb74 46.5px,#f6eaa0 58.5px,#f8f4bc 67.5px,#f2f0b0 91.5px,#eaeba3 188.5px,#e4e89c 262.5px,#e4e89d 280px)"></i><i class="r" style="top:78px;height:2px;background:linear-gradient(90deg,#a9254f 0px,#b6334c 3.5px,#cd5448 7.5px,#d66b48 10.5px,#e6a964 31.5px,#efca73 45.5px,#f6ea9f 57.5px,#f8f4bb 67.5px,#f1efae 98.5px,#ebeca4 185.5px,#e3e89c 261.5px,#e4e89d 280px)"></i><i class="r" style="top:80px;height:2px;background:linear-gradient(90deg,#a9254f 0px,#b6334c 3.5px,#cd5448 7.5px,#d66b48 10.5px,#de8954 19.5px,#eeca72 44.5px,#f6eaa0 57.5px,#f8f4bc 66.5px,#f2f0b0 89.5px,#eeeeaa 145.5px,#e3e79c 256.5px,#e4e89c 280px)"></i><i class="r" style="top:82px;height:2px;background:linear-gradient(90deg,#aa264f 0px,#bd3c4a 4.5px,#d46648 9.5px,#dc8050 15.5px,#eec972 43.5px,#f6ea9f 56.5px,#f8f4bc 66.5px,#f0efad 96.5px,#eaeba3 192.5px,#e3e89c 267.5px,#e3e89c 280px)"></i><i class="r" style="top:84px;height:2px;background:linear-gradient(90deg,#ab274f 0px,#c74648 5.5px,#d76e48 10.5px,#df8b55 18.5px,#efcc75 43.5px,#f6eaa1 56.5px,#f8f4bc 65.5px,#efeeac 100.5px,#eaeba3 192.5px,#e3e79c 268.5px,#e3e89c 280px)"></i><i class="r" style="top:86px;height:2px;background:linear-gradient(90deg,#ac284e 0px,#c94948 5.5px,#d66b48 9.5px,#de8955 16.5px,#efcb74 42.5px,#f6ea9f 55.5px,#f8f4bc 65.5px,#f0efad 95.5px,#e9eaa1 197.5px,#e3e79c 271.5px,#e3e89c 280px)"></i><i class="r" style="top:88px;height:2px;background:linear-gradient(90deg,#ac284e 0px,#c94a48 5.5px,#d9744a 10.5px,#e09058 17.5px,#ecc06d 37.5px,#efcd77 42.5px,#f6e99e 54.5px,#f8f4bc 65.5px,#efeeab 100.5px,#e9eba1 196.5px,#e3e79c 272.5px,#e3e79c 280px)"></i><i class="r" style="top:90px;height:2px;background:linear-gradient(90deg,#ad294e 0px,#c94b48 5.5px,#da774c 10.5px,#e19259 16.5px,#e9b367 31.5px,#efca73 40.5px,#f6eaa0 54.5px,#f8f4bb 65.5px,#ededa8 108.5px,#e9eba2 193.5px,#e2e79b 273.5px,#e3e79b 280px)"></i><i class="r" style="top:92px;height:2px;background:linear-gradient(90deg,#af2c4e 0px,#ca4d48 5.5px,#d87249 9.5px,#e09058 14.5px,#e4a160 21.5px,#e9b568 31.5px,#efca73 39.5px,#f6ea9f 53.5px,#f8f4bc 64.5px,#ededa8 107.5px,#e9eba1 195.5px,#e2e79b 274.5px,#e2e79b 280px)"></i><i class="r" style="top:94px;height:2px;background:linear-gradient(90deg,#b22e4d 0px,#cc5148 5.5px,#da774b 9.5px,#e2975b 14.5px,#e5a462 20.5px,#e9b468 30.5px,#efca73 38.5px,#f6eaa0 53.5px,#f8f4bb 64.5px,#eceda7 109.5px,#e9eaa1 196.5px,#e2e79b 276.5px,#e2e79b 280px)"></i><i class="r" style="top:96px;height:2px;background:linear-gradient(90deg,#b3304d 0px,#c94a48 4.5px,#d9734a 8.5px,#e1955a 12.5px,#e5a562 16.5px,#e9b569 29.5px,#eeca72 37.5px,#f6ea9f 52.5px,#f8f4bc 63.5px,#ececa6 109.5px,#e8eaa1 197.5px,#e2e79b 278.5px,#e2e79b 280px)"></i><i class="r" style="top:98px;height:2px;background:linear-gradient(90deg,#b4314d 0px,#c94c48 4.5px,#da784c 8.5px,#e39e5f 12.5px,#e7ad65 16.5px,#eab669 27.5px,#eec971 36.5px,#f6ea9f 51.5px,#f8f4bc 63.5px,#ebeca5 111.5px,#e8eaa0 198.5px,#e2e79b 280px)"></i><i class="r" style="top:100px;height:2px;background:linear-gradient(90deg,#b7354c 0px,#cb4f48 4.5px,#d87048 7.5px,#e49f5f 11.5px,#e9b267 14.5px,#eab769 19.5px,#eaba6a 26.5px,#efcc76 36.5px,#f6eaa0 51.5px,#f8f4bb 63.5px,#ebeca4 112.5px,#e8eaa0 198.5px,#e1e79a 280px)"></i><i class="r" style="top:102px;height:2px;background:linear-gradient(90deg,#b9374b 0px,#c94a48 3.5px,#d66b48 6.5px,#e49f60 10.5px,#ecbe6c 14.5px,#ecc26e 18.5px,#ecbe6c 25.5px,#f0d17b 36.5px,#f6eba2 51.5px,#f8f4bc 62.5px,#eaeba4 111.5px,#e8eaa0 199.5px,#e1e79a 280px)"></i><i class="r" style="top:104px;height:2px;background:linear-gradient(90deg,#bb394b 0px,#ca4c48 3.5px,#d97349 6.5px,#e4a160 9.5px,#edc56f 13.5px,#efcd77 16.5px,#edc66f 25.5px,#f5e393 44.5px,#f8f4bb 62.5px,#eaeba3 112.5px,#e8eaa0 199.5px,#e1e69a 280px)"></i><i class="r" style="top:106px;height:2px;background:linear-gradient(90deg,#be3c4a 0px,#cc5148 3.5px,#d76d48 5.5px,#e5a462 8.5px,#edc36e 11.5px,#f0d17b 14.5px,#f0d17c 19.5px,#efce77 26.5px,#f7eca6 51.5px,#f8f4bc 61.5px,#e9eba2 112.5px,#e8eaa0 198.5px,#e1e69a 280px)"></i><i class="r" style="top:108px;height:2px;background:linear-gradient(90deg,#c1404a 0px,#cb5148 2.5px,#d8724a 4.5px,#e49f5f 6.5px,#ebba6a 8.5px,#efce78 11.5px,#f2d884 16.5px,#f1d47f 26.5px,#f7eda9 51.5px,#f7f4bb 61.5px,#e9eaa1 113.5px,#e7eaa0 198.5px,#e1e69a 280px)"></i><i class="r" style="top:110px;height:2px;background:linear-gradient(90deg,#cc5348 0px,#d8724c 2.5px,#e9b368 5.5px,#eec973 7.5px,#f2da87 14.5px,#f3db89 20.5px,#f3db89 28.5px,#f7f1b2 54.5px,#f7f4bb 60.5px,#e8eaa0 113.5px,#e7eaa0 197.5px,#e0e69a 280px)"></i><i class="r" style="top:112px;height:2px;background:linear-gradient(90deg,#e09158 0px,#ebbb6b 3.5px,#f0d27d 6.5px,#f4e191 18.5px,#f4e090 28.5px,#f8f4bb 58.5px,#e7ea9f 114.5px,#e7ea9f 198.5px,#e0e699 280px)"></i><i class="r" style="top:114px;height:2px;background:linear-gradient(90deg,#edc26e 0px,#f0ce78 3.5px,#f3db89 7.5px,#f5e697 19.5px,#f6e698 29.5px,#f8f4bb 57.5px,#e7e99f 114.5px,#e7e99f 199.5px,#e0e699 280px)"></i><i class="r" style="top:116px;height:2px;background:linear-gradient(90deg,#efcb74 0px,#f1d27d 3.5px,#f4df8e 6.5px,#f6e99d 19.5px,#f6eaa1 32.5px,#f8f4bb 54.5px,#e6e99e 114.5px,#e6e99e 201.5px,#e0e699 280px)"></i><i class="r" style="top:118px;height:2px;background:linear-gradient(90deg,#efce77 0px,#f2d884 3.5px,#f5e495 6.5px,#f7eba3 20.5px,#f7eda9 35.5px,#f8f4bb 51.5px,#e5e99e 115.5px,#e6e99e 201.5px,#dfe699 280px)"></i><i class="r" style="top:120px;height:2px;background:linear-gradient(90deg,#f2d683 0px,#f6e99c 6.5px,#f7eda9 22.5px,#f7f1b3 39.5px,#f7f4bb 49.5px,#e5e89d 116.5px,#e6e99e 200.5px,#dfe699 280px)"></i><i class="r" style="top:122px;height:2px;background:linear-gradient(90deg,#f5e495 0px,#f7eda9 12.5px,#f8f3b9 40.5px,#f6f2b7 52.5px,#e9eba2 101.5px,#e5e99e 128.5px,#e4e89d 209.5px,#dfe699 280px)"></i><i class="r" style="top:124px;height:2px;background:linear-gradient(90deg,#f6ea9f 0px,#f8f1b4 20.5px,#f7f3ba 44.5px,#eaeba4 97.5px,#e4e89d 124.5px,#e4e89d 205.5px,#dfe699 280px)"></i><i class="r" style="top:126px;height:2px;background:linear-gradient(90deg,#f7eca4 0px,#f8f3ba 19.5px,#f6f2b7 45.5px,#ececa6 92.5px,#e3e89c 123.5px,#e4e89d 207.5px,#dfe699 280px)"></i><i class="r" style="top:128px;height:2px;background:linear-gradient(90deg,#f7eda9 0px,#f8f4bb 15.5px,#eeeeaa 85.5px,#e3e79c 121.5px,#e3e89c 208.5px,#e0e699 280px)"></i><i class="r" style="top:130px;height:2px;background:linear-gradient(90deg,#f7efae 0px,#f8f4bb 11.5px,#ededa9 87.5px,#e2e79b 123.5px,#e3e79b 214.5px,#e0e699 280px)"></i><i class="r" style="top:132px;height:2px;background:linear-gradient(90deg,#f7f1b3 0px,#f7f4bb 9.5px,#ededa7 89.5px,#e2e79b 125.5px,#e2e79b 220.5px,#e0e699 280px)"></i><i class="r" style="top:134px;height:2px;background:linear-gradient(90deg,#f8f2b8 0px,#f7f3ba 8.5px,#f4f1b3 38.5px,#ebeca6 92.5px,#e1e79b 128.5px,#e0e69a 235.5px,#e0e699 280px)"></i><i class="r" style="top:136px;height:2px;background:linear-gradient(90deg,#f8f4bb 0px,#f3f1b2 28.5px,#ececa6 91.5px,#e1e69a 129.5px,#e0e69a 280px)"></i><i class="r" style="top:138px;height:2px;background:linear-gradient(90deg,#f7f3ba 0px,#f2f0b1 29.5px,#ebeca4 93.5px,#e1e69a 132.5px,#e0e69a 280px)"></i><i class="r" style="top:140px;height:2px;background:linear-gradient(90deg,#f6f3b8 0px,#f1f0af 31.5px,#eaeba4 94.5px,#e0e69a 134.5px,#e1e69a 280px)"></i><i class="r" style="top:142px;height:2px;background:linear-gradient(90deg,#f5f2b6 0px,#f0efad 34.5px,#eaeba3 95.5px,#e0e699 135.5px,#e1e69a 280px)"></i><i class="r" style="top:144px;height:2px;background:linear-gradient(90deg,#f4f1b4 0px,#efeeab 35.5px,#e9eba2 96.5px,#e0e699 134.5px,#e1e79a 280px)"></i><i class="r" style="top:146px;height:2px;background:linear-gradient(90deg,#f3f1b2 0px,#eeeda9 36.5px,#e9eba1 97.5px,#e0e69a 133.5px,#e1e79a 280px)"></i><i class="r" style="top:148px;height:2px;background:linear-gradient(90deg,#f2f0b0 0px,#ededa7 35.5px,#e9eaa1 97.5px,#e1e69a 131.5px,#e1e79a 280px)"></i><i class="r" style="top:150px;height:2px;background:linear-gradient(90deg,#f1efae 0px,#ebeca5 36.5px,#e8eaa0 98.5px,#e1e79b 130.5px,#e2e79b 280px)"></i><i class="r" style="top:152px;height:2px;background:linear-gradient(90deg,#f0efac 0px,#eaeba4 32.5px,#e8eaa0 99.5px,#e2e79b 135.5px,#e2e79b 280px)"></i><i class="r" style="top:154px;height:2px;background:linear-gradient(90deg,#eeeeaa 0px,#e9eba1 26.5px,#e7e99f 100.5px,#e2e79b 176.5px,#e2e79b 280px)"></i><i class="r" style="top:156px;height:2px;background:linear-gradient(90deg,#ededa8 0px,#e7ea9f 22.5px,#e6e99e 103.5px,#e2e79b 280px)"></i><i class="r" style="top:158px;height:2px;background:linear-gradient(90deg,#eceda7 0px,#e5e89d 21.5px,#e5e99e 109.5px,#e2e79b 280px)"></i><i class="r" style="top:160px;height:2px;background:linear-gradient(90deg,#ebeca5 0px,#e3e79c 22.5px,#e5e99e 121.5px,#e3e79c 280px)"></i><i class="r" style="top:162px;height:2px;background:linear-gradient(90deg,#eaeba3 0px,#e1e69a 23.5px,#e6e99e 124.5px,#e3e79c 280px)"></i><i class="r" style="top:164px;height:2px;background:linear-gradient(90deg,#e9eba2 0px,#dfe598 23.5px,#e7e99f 127.5px,#e3e89c 280px)"></i><i class="r" style="top:166px;height:2px;background:linear-gradient(90deg,#e7eaa0 0px,#dde497 23.5px,#e6e99f 102.5px,#e3e89c 280px)"></i><i class="r" style="top:168px;height:2px;background:linear-gradient(90deg,#e5e99e 0px,#dbe397 21.5px,#e3e79c 97.5px,#e8eaa1 122.5px,#e4e89c 280px)"></i><i class="r" style="top:170px;height:2px;background:linear-gradient(90deg,#e3e79c 0px,#d9e398 17.5px,#e0e699 94.5px,#e9eaa1 120.5px,#e4e89c 280px)"></i><i class="r" style="top:172px;height:2px;background:linear-gradient(90deg,#e0e699 0px,#d7e299 17.5px,#dce496 82.5px,#e9eba1 124.5px,#e4e89d 280px)"></i><i class="r" style="top:174px;height:2px;background:linear-gradient(90deg,#dee597 0px,#d4e19b 28.5px,#dfe699 97.5px,#e9eba2 123.5px,#e4e89d 280px)"></i><i class="r" style="top:176px;height:2px;background:linear-gradient(90deg,#dbe496 0px,#d2e09c 28.5px,#dee597 96.5px,#e9eba1 123.5px,#e4e89d 280px)"></i><i class="r" style="top:178px;height:2px;background:linear-gradient(90deg,#d9e398 0px,#cfdf9e 28.5px,#dae397 92.5px,#e9eaa1 124.5px,#e5e89d 280px)"></i><i class="r" style="top:180px;height:2px;background:linear-gradient(90deg,#d7e299 0px,#cdde9e 28.5px,#d5e19a 81.5px,#dfe598 103.5px,#e9eba1 127.5px,#e5e89d 280px)"></i><i class="r" style="top:182px;height:2px;background:linear-gradient(90deg,#d5e19b 0px,#cadd9f 24.5px,#cdde9e 57.5px,#dde597 102.5px,#e9eaa1 128.5px,#e5e89d 280px)"></i><i class="r" style="top:184px;height:2px;background:linear-gradient(90deg,#d2e09c 0px,#c7dc9f 20.5px,#c7dc9f 47.5px,#dce496 103.5px,#e9eaa1 130.5px,#e5e99e 280px)"></i><i class="r" style="top:186px;height:2px;background:linear-gradient(90deg,#d1e09d 0px,#c1d9a0 18.5px,#c0d9a0 43.5px,#d9e398 100.5px,#e4e89d 117.5px,#eaeba2 158.5px,#e5e99e 280px)"></i><i class="r" style="top:188px;height:2px;background:linear-gradient(90deg,#cfdf9e 0px,#bad6a1 17.5px,#bad6a1 44.5px,#ccde9e 76.5px,#dee598 111.5px,#e9eaa1 132.5px,#e5e99e 280px)"></i><i class="r" style="top:190px;height:2px;background:linear-gradient(90deg,#cdde9e 0px,#b4d3a2 17.5px,#b5d3a2 44.5px,#ccde9e 81.5px,#dfe598 114.5px,#e9eaa1 134.5px,#e5e99e 280px)"></i><i class="r" style="top:192px;height:2px;background:linear-gradient(90deg,#cbde9e 0px,#bdd8a0 8.5px,#aed0a4 18.5px,#aed0a4 43.5px,#cfdf9e 90.5px,#dee598 115.5px,#e9eaa1 136.5px,#e5e99e 280px)"></i><i class="r" style="top:194px;height:2px;background:linear-gradient(90deg,#cadd9f 0px,#bdd7a0 7.5px,#a5cda4 18.5px,#a6cda4 43.5px,#cadd9f 86.5px,#dfe598 117.5px,#e9eaa1 138.5px,#e5e99e 280px)"></i><i class="r" style="top:196px;height:2px;background:linear-gradient(90deg,#c8dc9f 0px,#b5d3a2 9.5px,#9dcaa4 18.5px,#9ecaa4 43.5px,#cbde9e 91.5px,#dfe598 119.5px,#e9eaa1 139.5px,#e6e99f 266.5px,#e5e99e 280px)"></i><i class="r" style="top:198px;height:2px;background:linear-gradient(90deg,#c7dc9f 0px,#accfa4 11.5px,#97c7a4 18.5px,#99c8a4 45.5px,#cadd9f 93.5px,#dee598 120.5px,#e8eaa1 140.5px,#e8eaa0 220.5px,#e5e89d 280px)"></i><i class="r" style="top:200px;height:2px;background:linear-gradient(90deg,#c6db9f 0px,#a4cca4 12.5px,#96c6a4 17.5px,#97c7a4 49.5px,#aed0a4 71.5px,#c9dd9f 95.5px,#dfe598 122.5px,#e8eaa1 141.5px,#e8eaa1 213.5px,#e5e89d 280px)"></i><i class="r" style="top:202px;height:2px;background:linear-gradient(90deg,#c4da9f 0px,#a0cba4 12.5px,#94c5a4 17.5px,#96c7a4 55.5px,#a3cca4 69.5px,#c8dc9f 97.5px,#dee598 123.5px,#e8eaa1 143.5px,#e9eaa1 210.5px,#e5e89d 280px)"></i><i class="r" style="top:204px;height:2px;background:linear-gradient(90deg,#c1d9a0 0px,#a0cba4 11.5px,#94c5a4 16.5px,#95c6a4 62.5px,#a4cca4 74.5px,#c9dc9f 102.5px,#dee598 124.5px,#e9eaa1 145.5px,#e9eaa1 209.5px,#e4e89d 280px)"></i><i class="r" style="top:206px;height:2px;background:linear-gradient(90deg,#bdd7a0 0px,#a4cca4 9.5px,#95c6a4 14.5px,#92c4a4 58.5px,#9bc9a4 73.5px,#bed8a0 96.5px,#dee598 125.5px,#e9eaa1 146.5px,#e9eaa1 207.5px,#e4e89d 280px)"></i><i class="r" style="top:208px;height:1px;background:linear-gradient(90deg,#bad6a1 0px,#aacfa4 7.5px,#96c7a4 13.5px,#92c4a4 33.5px,#96c6a4 70.5px,#a5cda4 81.5px,#d6e29a 116.5px,#dfe598 126.5px,#e9eaa1 147.5px,#e9eaa1 206.5px,#e4e89d 280px)"></i></div>
<div class="hm" style="left:1071.2px;top:709.7px;width:277px;height:194px"><i class="r" style="top:0px;height:2px;background:linear-gradient(90deg,#efca73 0px,#e7ae66 30.5px,#efca73 80.5px,#e5a361 142.5px,#eaba6a 225.5px,#efcd76 259.5px,#f1d27e 277px)"></i><i class="r" style="top:2px;height:2px;background:linear-gradient(90deg,#efca73 0px,#e7ae66 30.5px,#efca73 80.5px,#e5a361 141.5px,#ebba6b 225.5px,#efcd76 257.5px,#f1d37f 277px)"></i><i class="r" style="top:4px;height:2px;background:linear-gradient(90deg,#efca73 0px,#e7ae66 30.5px,#efca73 80.5px,#e5a562 141.5px,#ebbc6b 225.5px,#efcd77 255.5px,#f1d581 277px)"></i><i class="r" style="top:6px;height:2px;background:linear-gradient(90deg,#efca73 0px,#e7ae66 30.5px,#efca73 80.5px,#e6a763 139.5px,#ecbf6c 226.5px,#efce78 253.5px,#f2d683 277px)"></i><i class="r" style="top:8px;height:2px;background:linear-gradient(90deg,#efca73 0px,#e7ae66 30.5px,#efca73 80.5px,#e7aa64 137.5px,#ecc06d 225.5px,#f0ce78 251.5px,#f2d885 277px)"></i><i class="r" style="top:10px;height:2px;background:linear-gradient(90deg,#efca73 0px,#e7ae66 30.5px,#efca73 80.5px,#e8b267 126.5px,#e8af66 145.5px,#edc46e 228.5px,#f2d987 277px)"></i><i class="r" style="top:12px;height:2px;background:linear-gradient(90deg,#efcb73 0px,#e7ae66 30.5px,#efca73 80.5px,#eab96a 115.5px,#e8b167 143.5px,#eec66f 228.5px,#f3db89 277px)"></i><i class="r" style="top:14px;height:2px;background:linear-gradient(90deg,#efcb75 0px,#e7ae66 30.5px,#efca73 80.5px,#ebbc6b 111.5px,#e9b468 144.5px,#eeca72 231.5px,#f3dc8a 277px)"></i><i class="r" style="top:16px;height:2px;background:linear-gradient(90deg,#efcd76 0px,#e8ae66 30.5px,#efca73 80.5px,#ecbf6c 110.5px,#eab769 144.5px,#efcb74 230.5px,#f3de8c 277px)"></i><i class="r" style="top:18px;height:2px;background:linear-gradient(90deg,#f0ce78 0px,#e8af66 29.5px,#eeca72 81.5px,#eab96a 140.5px,#efcc75 227.5px,#f4df8e 277px)"></i><i class="r" style="top:20px;height:2px;background:linear-gradient(90deg,#f0d07a 0px,#e9b669 25.5px,#e9b267 34.5px,#eeca72 81.5px,#ebbd6c 144.5px,#efcc75 221.5px,#f4e190 277px)"></i><i class="r" style="top:22px;height:2px;background:linear-gradient(90deg,#f0d17c 0px,#eab96a 24.5px,#e9b468 33.5px,#efca73 81.5px,#ecc06d 145.5px,#efcd76 214.5px,#f4e292 277px)"></i><i class="r" style="top:24px;height:2px;background:linear-gradient(90deg,#f1d37e 0px,#ebbc6b 24.5px,#eab769 33.5px,#efcb74 81.5px,#edc46e 146.5px,#f0cf79 217.5px,#f5e394 277px)"></i><i class="r" style="top:26px;height:2px;background:linear-gradient(90deg,#f1d480 0px,#ebbd6c 25.5px,#eaba6a 34.5px,#efcc75 81.5px,#eec76f 147.5px,#f1d480 230.5px,#f5e596 277px)"></i><i class="r" style="top:28px;height:2px;background:linear-gradient(90deg,#f1d682 0px,#ebbe6c 26.5px,#ebbe6c 37.5px,#efcd77 82.5px,#eeca72 149.5px,#f2d885 235.5px,#f6e698 277px)"></i><i class="r" style="top:30px;height:2px;background:linear-gradient(90deg,#f2d784 0px,#ecbe6c 28.5px,#efcd77 70.5px,#efce78 84.5px,#efcc75 149.5px,#f2da87 236.5px,#f6e89a 277px)"></i><i class="r" style="top:32px;height:2px;background:linear-gradient(90deg,#f2d986 0px,#ecc06d 29.5px,#f0d07a 72.5px,#f0ce78 151.5px,#f3dc8a 238.5px,#f6e89b 277px)"></i><i class="r" style="top:34px;height:2px;background:linear-gradient(90deg,#f3da88 0px,#edc36e 30.5px,#f0d17c 82.5px,#f0d17c 152.5px,#f4df8e 240.5px,#f6e99d 277px)"></i><i class="r" style="top:36px;height:2px;background:linear-gradient(90deg,#f3dc8a 0px,#edc56f 30.5px,#f1d37f 81.5px,#f1d37f 154.5px,#f4e190 241.5px,#f6ea9e 277px)"></i><i class="r" style="top:38px;height:2px;background:linear-gradient(90deg,#f3dd8c 0px,#eec870 31.5px,#f1d581 81.5px,#f2d682 158.5px,#f5e393 242.5px,#f6eaa0 277px)"></i><i class="r" style="top:40px;height:2px;background:linear-gradient(90deg,#f4de8e 0px,#efca73 31.5px,#f2d683 81.5px,#f2d885 151.5px,#f5e495 241.5px,#f6eba1 277px)"></i><i class="r" style="top:42px;height:2px;background:linear-gradient(90deg,#f4e08f 0px,#efcc76 31.5px,#f2d784 82.5px,#f3dd8b 187.5px,#f6e89a 248.5px,#f7eba3 277px)"></i><i class="r" style="top:44px;height:2px;background:linear-gradient(90deg,#f4e191 0px,#f0cf79 31.5px,#f2d986 82.5px,#f3db89 120.5px,#f5e697 235.5px,#f7eca5 277px)"></i><i class="r" style="top:46px;height:2px;background:linear-gradient(90deg,#f5e393 0px,#f0d17b 31.5px,#f3da88 82.5px,#f3dc8b 117.5px,#f6e89b 241.5px,#f7eca6 277px)"></i><i class="r" style="top:48px;height:2px;background:linear-gradient(90deg,#f5e495 0px,#f1d37e 31.5px,#f3dc8a 82.5px,#f3de8c 115.5px,#f6ea9f 248.5px,#f7eda8 277px)"></i><i class="r" style="top:50px;height:2px;background:linear-gradient(90deg,#f5e697 0px,#f1d581 31.5px,#f3dd8c 83.5px,#f4e08f 117.5px,#f6eba1 250.5px,#f7eda9 277px)"></i><i class="r" style="top:52px;height:2px;background:linear-gradient(90deg,#f6e799 0px,#f2d784 31.5px,#f4df8e 83.5px,#f4e191 116.5px,#f7eba3 251.5px,#f7eeab 277px)"></i><i class="r" style="top:54px;height:2px;background:linear-gradient(90deg,#f6e89b 0px,#f2d987 31.5px,#f4e08f 84.5px,#f5e495 118.5px,#f7eca5 252.5px,#f7eeac 277px)"></i><i class="r" style="top:56px;height:2px;background:linear-gradient(90deg,#f6e99c 0px,#f3de8d 22.5px,#f3dd8b 40.5px,#f4e191 84.5px,#f5e597 117.5px,#f6eaa0 212.5px,#f7efae 277px)"></i><i class="r" style="top:58px;height:2px;background:linear-gradient(90deg,#f6e99e 0px,#f4e191 20.5px,#f4de8d 35.5px,#f5e393 85.5px,#f6e799 118.5px,#f6eba2 212.5px,#f7f0af 277px)"></i><i class="r" style="top:60px;height:2px;background:linear-gradient(90deg,#f6eaa0 0px,#f5e292 21.5px,#f4e190 41.5px,#f5e495 86.5px,#f6e99d 123.5px,#f7eeab 254.5px,#f7f0b1 277px)"></i><i class="r" style="top:62px;height:2px;background:linear-gradient(90deg,#f6eaa1 0px,#f4e292 32.5px,#f5e697 87.5px,#f7eca4 161.5px,#f7eeac 253.5px,#f7f1b3 277px)"></i><i class="r" style="top:64px;height:2px;background:linear-gradient(90deg,#f7eba3 0px,#f5e495 33.5px,#f6e798 90.5px,#f7eda7 156.5px,#f7efae 253.5px,#f8f1b4 277px)"></i><i class="r" style="top:66px;height:2px;background:linear-gradient(90deg,#f7eca4 0px,#f6e698 34.5px,#f6ea9f 112.5px,#f7eda9 153.5px,#f7f0af 253.5px,#f8f2b5 277px)"></i><i class="r" style="top:68px;height:2px;background:linear-gradient(90deg,#f7eca6 0px,#f6e89a 34.5px,#f6eaa0 111.5px,#f7eeac 151.5px,#f7f0b1 252.5px,#f8f2b6 277px)"></i><i class="r" style="top:70px;height:2px;background:linear-gradient(90deg,#f7eda7 0px,#f6e99c 34.5px,#f6eba1 110.5px,#f7efae 150.5px,#f7f1b3 252.5px,#f8f2b8 277px)"></i><i class="r" style="top:72px;height:2px;background:linear-gradient(90deg,#f7eda9 0px,#f6ea9f 35.5px,#f7eba3 109.5px,#f7f0b1 150.5px,#f8f2b5 257.5px,#f8f3b9 277px)"></i><i class="r" style="top:74px;height:2px;background:linear-gradient(90deg,#f7eeaa 0px,#f6eaa1 36.5px,#f7eca5 109.5px,#f8f1b4 149.5px,#f8f2b7 260.5px,#f8f3ba 277px)"></i><i class="r" style="top:76px;height:2px;background:linear-gradient(90deg,#f7eeac 0px,#f7eba3 36.5px,#f7eca6 108.5px,#f8f2b5 145.5px,#f8f3b9 262.5px,#f8f4bb 277px)"></i><i class="r" style="top:78px;height:2px;background:linear-gradient(90deg,#f7efad 0px,#f7eca5 36.5px,#f7eda8 108.5px,#f8f2b7 145.5px,#f8f4bb 264.5px,#f8f4bc 277px)"></i><i class="r" style="top:80px;height:2px;background:linear-gradient(90deg,#f7efaf 0px,#f7eda7 35.5px,#f7edaa 107.5px,#f8f3b9 145.5px,#f8f4bb 277px)"></i><i class="r" style="top:82px;height:2px;background:linear-gradient(90deg,#f7f0b1 0px,#f7eeaa 29.5px,#f7eeab 106.5px,#f8f4bb 145.5px,#f7f4bb 277px)"></i><i class="r" style="top:84px;height:2px;background:linear-gradient(90deg,#f7f1b3 0px,#f7efac 22.5px,#f7eeac 105.5px,#f8f4bc 141.5px,#f7f3ba 277px)"></i><i class="r" style="top:86px;height:2px;background:linear-gradient(90deg,#f8f2b6 0px,#f7efae 19.5px,#f7efae 104.5px,#f8f4bb 136.5px,#f7f3ba 277px)"></i><i class="r" style="top:88px;height:2px;background:linear-gradient(90deg,#f8f3b9 0px,#f7f0b0 17.5px,#f7efaf 103.5px,#f8f4bb 132.5px,#f7f3ba 277px)"></i><i class="r" style="top:90px;height:2px;background:linear-gradient(90deg,#f8f4bb 0px,#f7f1b3 17.5px,#f7f0b0 100.5px,#f8f4bb 127.5px,#f7f3b9 277px)"></i><i class="r" style="top:92px;height:2px;background:linear-gradient(90deg,#f8f4bb 0px,#f8f2b7 20.5px,#f7f0b2 94.5px,#f7f4bb 124.5px,#f6f3b9 277px)"></i><i class="r" style="top:94px;height:2px;background:linear-gradient(90deg,#f7f3ba 0px,#f8f1b4 91.5px,#f7f4bb 121.5px,#f6f3b8 277px)"></i><i class="r" style="top:96px;height:2px;background:linear-gradient(90deg,#f7f3b9 0px,#f8f3b8 68.5px,#f8f3b9 99.5px,#f6f3b9 129.5px,#f6f3b8 277px)"></i><i class="r" style="top:98px;height:2px;background:linear-gradient(90deg,#f6f3b8 0px,#f8f3b9 78.5px,#f6f3b8 126.5px,#f6f2b7 277px)"></i><i class="r" style="top:100px;height:2px;background:linear-gradient(90deg,#f6f3b8 0px,#f7f3b9 113.5px,#f5f2b7 213.5px,#f5f2b7 277px)"></i><i class="r" style="top:102px;height:2px;background:linear-gradient(90deg,#f5f2b7 0px,#f6f3b8 112.5px,#f5f2b6 212.5px,#f5f2b6 277px)"></i><i class="r" style="top:104px;height:2px;background:linear-gradient(90deg,#f5f2b6 0px,#f6f2b7 115.5px,#f5f2b6 228.5px,#f5f2b6 277px)"></i><i class="r" style="top:106px;height:2px;background:linear-gradient(90deg,#f4f2b5 0px,#f5f2b6 117.5px,#f5f2b5 277px)"></i><i class="r" style="top:108px;height:2px;background:linear-gradient(90deg,#f4f1b4 0px,#f5f2b5 118.5px,#f4f2b5 277px)"></i><i class="r" style="top:110px;height:2px;background:linear-gradient(90deg,#f3f1b3 0px,#f4f1b4 117.5px,#f4f1b4 277px)"></i><i class="r" style="top:112px;height:2px;background:linear-gradient(90deg,#f3f1b2 0px,#f4f1b4 114.5px,#f4f1b4 277px)"></i><i class="r" style="top:114px;height:2px;background:linear-gradient(90deg,#f2f0b1 0px,#f3f1b3 111.5px,#f4f1b3 236.5px,#f4f1b4 277px)"></i><i class="r" style="top:116px;height:2px;background:linear-gradient(90deg,#f1f0af 0px,#f3f1b2 105.5px,#f3f1b2 214.5px,#f4f1b3 277px)"></i><i class="r" style="top:118px;height:2px;background:linear-gradient(90deg,#f0efae 0px,#f3f1b2 89.5px,#f2f0b1 204.5px,#f3f1b3 277px)"></i><i class="r" style="top:120px;height:2px;background:linear-gradient(90deg,#efeeab 0px,#f3f0b1 56.5px,#f2f0af 196.5px,#f3f1b2 277px)"></i><i class="r" style="top:122px;height:2px;background:linear-gradient(90deg,#ededa8 0px,#f2f0b1 41.5px,#f1efae 189.5px,#f3f1b2 277px)"></i><i class="r" style="top:124px;height:2px;background:linear-gradient(90deg,#ebeca6 0px,#f1f0af 33.5px,#f0efac 184.5px,#f3f0b1 277px)"></i><i class="r" style="top:126px;height:2px;background:linear-gradient(90deg,#eaeba3 0px,#f1efae 33.5px,#efeeab 181.5px,#f2f0b1 277px)"></i><i class="r" style="top:128px;height:2px;background:linear-gradient(90deg,#e8eaa0 0px,#f0efac 36.5px,#eeeda9 181.5px,#f2f0b0 277px)"></i><i class="r" style="top:130px;height:2px;background:linear-gradient(90deg,#e6e99e 0px,#efeeab 45.5px,#eceda7 109.5px,#eeeeaa 198.5px,#f2f0b0 277px)"></i><i class="r" style="top:132px;height:2px;background:linear-gradient(90deg,#e4e89d 0px,#ededa8 50.5px,#ebeca5 107.5px,#eeeeaa 204.5px,#f1f0af 277px)"></i><i class="r" style="top:134px;height:2px;background:linear-gradient(90deg,#e2e79b 0px,#ebeca5 47.5px,#eaeba3 120.5px,#f1efae 277px)"></i><i class="r" style="top:136px;height:2px;background:linear-gradient(90deg,#dfe699 0px,#e9eba2 47.5px,#eaeba2 167.5px,#f1efae 277px)"></i><i class="r" style="top:138px;height:2px;background:linear-gradient(90deg,#dde597 0px,#e7ea9f 48.5px,#ebeca4 193.5px,#f0efad 277px)"></i><i class="r" style="top:140px;height:2px;background:linear-gradient(90deg,#dbe497 0px,#e5e89d 47.5px,#eaeba4 200.5px,#f0efac 277px)"></i><i class="r" style="top:142px;height:2px;background:linear-gradient(90deg,#d8e398 0px,#e3e79c 45.5px,#e9eba2 200.5px,#efeeab 277px)"></i><i class="r" style="top:144px;height:2px;background:linear-gradient(90deg,#d6e29a 0px,#dfe699 29.5px,#ebeca4 223.5px,#eeeeaa 277px)"></i><i class="r" style="top:146px;height:2px;background:linear-gradient(90deg,#d3e19b 0px,#dee598 36.5px,#e7e99f 189.5px,#eeeda9 277px)"></i><i class="r" style="top:148px;height:2px;background:linear-gradient(90deg,#d1e09d 0px,#dce496 39.5px,#e6e99e 192.5px,#ededa8 277px)"></i><i class="r" style="top:150px;height:2px;background:linear-gradient(90deg,#cedf9e 0px,#d9e398 40.5px,#e2e79b 156.5px,#eceda7 277px)"></i><i class="r" style="top:152px;height:2px;background:linear-gradient(90deg,#cbdd9e 0px,#d7e299 41.5px,#e0e699 146.5px,#ececa6 277px)"></i><i class="r" style="top:154px;height:2px;background:linear-gradient(90deg,#c8dc9f 0px,#d3e19b 40.5px,#dfe598 148.5px,#ebeca5 277px)"></i><i class="r" style="top:156px;height:2px;background:linear-gradient(90deg,#c5db9f 0px,#d0df9e 40.5px,#d9e398 111.5px,#e7ea9f 243.5px,#eaeba4 277px)"></i><i class="r" style="top:158px;height:2px;background:linear-gradient(90deg,#c1d9a0 0px,#cbdd9e 40.5px,#d4e19b 100.5px,#dee598 166.5px,#eaeba3 277px)"></i><i class="r" style="top:160px;height:2px;background:linear-gradient(90deg,#bed8a0 0px,#c7dc9f 40.5px,#cfdf9e 93.5px,#dde597 162.5px,#e9eba2 277px)"></i><i class="r" style="top:162px;height:2px;background:linear-gradient(90deg,#bcd7a1 0px,#c4db9f 58.5px,#ccde9e 97.5px,#dae397 143.5px,#e9eaa1 277px)"></i><i class="r" style="top:164px;height:2px;background:linear-gradient(90deg,#b9d6a1 0px,#c5db9f 90.5px,#d8e299 137.5px,#e0e69a 219.5px,#e8eaa0 277px)"></i><i class="r" style="top:166px;height:2px;background:linear-gradient(90deg,#b7d5a2 0px,#c1d9a0 90.5px,#d7e299 140.5px,#e0e699 222.5px,#e7ea9f 277px)"></i><i class="r" style="top:168px;height:2px;background:linear-gradient(90deg,#b5d3a2 0px,#bed8a0 91.5px,#d6e299 145.5px,#e0e699 228.5px,#e7e99f 277px)"></i><i class="r" style="top:170px;height:2px;background:linear-gradient(90deg,#b3d2a3 0px,#bad6a1 90.5px,#d6e29a 151.5px,#dfe699 234.5px,#e6e99e 277px)"></i><i class="r" style="top:172px;height:2px;background:linear-gradient(90deg,#b0d1a3 0px,#afd0a4 10.5px,#b8d5a2 91.5px,#d6e29a 157.5px,#dfe699 242.5px,#e6e99e 277px)"></i><i class="r" style="top:174px;height:2px;background:linear-gradient(90deg,#accfa4 0px,#a7cda4 8.5px,#add0a4 22.5px,#aed0a4 67.5px,#c6db9f 129.5px,#d6e29a 165.5px,#dfe699 247.5px,#e5e89d 277px)"></i><i class="r" style="top:176px;height:2px;background:linear-gradient(90deg,#a6cda4 0px,#a1cba4 9.5px,#a6cda4 22.5px,#a8cea4 68.5px,#ccde9e 145.5px,#d6e29a 178.5px,#dfe699 251.5px,#e4e89d 277px)"></i><i class="r" style="top:178px;height:2px;background:linear-gradient(90deg,#9fcba4 0px,#9bc9a4 10.5px,#9ecaa4 37.5px,#a9cea4 84.5px,#d4e19b 174.5px,#dfe699 253.5px,#e4e89d 277px)"></i><i class="r" style="top:180px;height:2px;background:linear-gradient(90deg,#99c8a4 0px,#9cc9a4 64.5px,#d3e19b 180.5px,#dfe699 255.5px,#e3e89c 277px)"></i><i class="r" style="top:182px;height:2px;background:linear-gradient(90deg,#96c6a4 0px,#9ac9a4 71.5px,#bbd6a1 138.5px,#d2e09c 184.5px,#dfe699 257.5px,#e3e89c 277px)"></i><i class="r" style="top:184px;height:2px;background:linear-gradient(90deg,#93c5a4 0px,#90c3a4 18.5px,#9cc9a4 85.5px,#b0d1a3 119.5px,#c6db9f 163.5px,#d3e09c 196.5px,#dfe699 259.5px,#e3e79c 277px)"></i><i class="r" style="top:186px;height:2px;background:linear-gradient(90deg,#8fc1a5 0px,#8abea5 17.5px,#99c8a4 87.5px,#abcfa4 114.5px,#c1d9a0 161.5px,#d0df9d 191.5px,#dfe598 260.5px,#e2e79b 277px)"></i><i class="r" style="top:188px;height:2px;background:linear-gradient(90deg,#89bda6 0px,#85baa6 17.5px,#8ec1a5 62.5px,#9ccaa4 93.5px,#add0a4 126.5px,#bed8a0 161.5px,#cfdf9e 190.5px,#dee598 260.5px,#e2e79b 277px)"></i><i class="r" style="top:190px;height:2px;background:linear-gradient(90deg,#84baa7 0px,#80b7a7 17.5px,#89bea6 62.5px,#aacfa4 123.5px,#b8d5a2 157.5px,#cbdd9e 185.5px,#dfe598 262.5px,#e2e79b 277px)"></i><i class="r" style="top:192px;height:2px;background:linear-gradient(90deg,#80b7a7 0px,#7db4a8 18.5px,#85baa6 61.5px,#a7cea4 117.5px,#b4d3a3 155.5px,#c9dd9f 183.5px,#dee598 262.5px,#e1e79a 277px)"></i></div>
<div class="hm" style="left:1071.2px;top:1038.8px;width:277px;height:193px"><i class="r" style="top:0px;height:2px;background:linear-gradient(90deg,#d56848 0px,#cf5a48 10.5px,#b9374b 20.5px,#a62250 48.5px,#aa254f 122.5px,#c24149 194.5px,#ca4c48 277px)"></i><i class="r" style="top:2px;height:2px;background:linear-gradient(90deg,#d56948 0px,#d05b48 10.5px,#b9374b 20.5px,#a62250 48.5px,#aa254f 122.5px,#c24149 195.5px,#ca4c48 277px)"></i><i class="r" style="top:4px;height:2px;background:linear-gradient(90deg,#d66a48 0px,#d05c48 10.5px,#ba384b 20.5px,#a62250 48.5px,#aa254f 122.5px,#c24249 195.5px,#ca4c48 277px)"></i><i class="r" style="top:6px;height:2px;background:linear-gradient(90deg,#d66b48 0px,#d05c48 10.5px,#b9374b 21.5px,#a62250 50.5px,#aa254f 122.5px,#c24249 194.5px,#ca4c48 277px)"></i><i class="r" style="top:8px;height:2px;background:linear-gradient(90deg,#d76d48 0px,#d15e48 10.5px,#ba374b 21.5px,#a62250 51.5px,#aa254f 122.5px,#c34249 194.5px,#ca4d48 277px)"></i><i class="r" style="top:10px;height:2px;background:linear-gradient(90deg,#d76f48 0px,#d05c48 11.5px,#ba384b 21.5px,#a62250 51.5px,#aa254f 122.5px,#c24149 190.5px,#ca4d48 277px)"></i><i class="r" style="top:12px;height:2px;background:linear-gradient(90deg,#d87148 0px,#d15d48 11.5px,#ba384b 22.5px,#a62250 53.5px,#aa254f 122.5px,#c1404a 185.5px,#ca4d48 277px)"></i><i class="r" style="top:14px;height:2px;background:linear-gradient(90deg,#d9744a 0px,#d15f48 11.5px,#bb394b 22.5px,#a62250 53.5px,#aa254f 122.5px,#c03f4a 179.5px,#ca4d48 271.5px,#ca4e48 277px)"></i><i class="r" style="top:16px;height:2px;background:linear-gradient(90deg,#da784c 0px,#d15e48 12.5px,#bb394b 23.5px,#a62250 55.5px,#aa254f 122.5px,#bf3d4a 173.5px,#ca4c48 259.5px,#ca4e48 277px)"></i><i class="r" style="top:18px;height:2px;background:linear-gradient(90deg,#db7c4e 0px,#d26048 12.5px,#bb394b 24.5px,#a62250 56.5px,#aa254f 121.5px,#bf3d4a 171.5px,#ca4d48 256.5px,#ca4e48 277px)"></i><i class="r" style="top:20px;height:2px;background:linear-gradient(90deg,#dc8150 0px,#d56748 10.5px,#bf3e4a 23.5px,#b3304d 34.5px,#a62250 59.5px,#aa254f 120.5px,#bf3e4a 170.5px,#ca4d48 256.5px,#cb4f48 277px)"></i><i class="r" style="top:22px;height:2px;background:linear-gradient(90deg,#dd8553 0px,#d56948 10.5px,#bf3e4a 24.5px,#b3304d 35.5px,#a62250 60.5px,#aa254f 119.5px,#bf3e4a 169.5px,#ca4d48 256.5px,#cb4f48 277px)"></i><i class="r" style="top:24px;height:2px;background:linear-gradient(90deg,#de8854 0px,#d66a48 10.5px,#bf3d4a 25.5px,#b3304d 37.5px,#a62250 61.5px,#a9254f 117.5px,#bf3e4a 168.5px,#ca4e48 256.5px,#cb4f48 277px)"></i><i class="r" style="top:26px;height:2px;background:linear-gradient(90deg,#de8854 0px,#d66b48 10.5px,#be3d4a 26.5px,#b12e4d 40.5px,#a62250 63.5px,#aa254f 116.5px,#c03f4a 169.5px,#cb4e48 260.5px,#cb5048 277px)"></i><i class="r" style="top:28px;height:2px;background:linear-gradient(90deg,#de8954 0px,#d56948 11.5px,#be3d4a 27.5px,#af2b4e 45.5px,#a62250 65.5px,#a9254f 114.5px,#c1404a 168.5px,#cb4f48 261.5px,#cb5048 277px)"></i><i class="r" style="top:30px;height:2px;background:linear-gradient(90deg,#de8955 0px,#d66b48 11.5px,#bd3b4b 29.5px,#a72250 61.5px,#aa254f 113.5px,#c1404a 167.5px,#cb4f48 261.5px,#cb5048 277px)"></i><i class="r" style="top:32px;height:2px;background:linear-gradient(90deg,#df8b55 0px,#d66b48 11.5px,#bf3e4a 29.5px,#b02c4e 46.5px,#a62250 67.5px,#a9254f 111.5px,#c1404a 164.5px,#cb4f48 254.5px,#cb5148 277px)"></i><i class="r" style="top:34px;height:2px;background:linear-gradient(90deg,#df8b56 0px,#d66a48 12.5px,#bf3e4a 30.5px,#af2c4e 48.5px,#a62250 68.5px,#a9254f 110.5px,#c1404a 163.5px,#cb4f48 254.5px,#cc5148 277px)"></i><i class="r" style="top:36px;height:2px;background:linear-gradient(90deg,#df8c56 0px,#d66b48 12.5px,#bf3e4a 31.5px,#b12e4d 46.5px,#a62250 69.5px,#aa254f 109.5px,#c24149 163.5px,#cb5048 257.5px,#cc5148 277px)"></i><i class="r" style="top:38px;height:2px;background:linear-gradient(90deg,#df8c56 0px,#d66a48 13.5px,#bf3e4a 32.5px,#b12e4d 47.5px,#a62250 70.5px,#aa254f 107.5px,#c24149 161.5px,#cb5048 253.5px,#cc5248 277px)"></i><i class="r" style="top:40px;height:2px;background:linear-gradient(90deg,#df8d57 0px,#d66c48 13.5px,#bf3e4a 33.5px,#b02d4d 50.5px,#a62250 72.5px,#aa264f 105.5px,#c34249 161.5px,#cc5148 262.5px,#cc5248 277px)"></i><i class="r" style="top:42px;height:2px;background:linear-gradient(90deg,#e08e57 0px,#d66b48 14.5px,#c03e4a 34.5px,#b02d4d 51.5px,#a62250 74.5px,#ab274f 104.5px,#c34349 161.5px,#cc5248 272.5px,#cc5348 277px)"></i><i class="r" style="top:44px;height:2px;background:linear-gradient(90deg,#e08e57 0px,#d66c48 14.5px,#c03f4a 35.5px,#b12e4d 51.5px,#a62250 75.5px,#ab274f 102.5px,#c44349 160.5px,#cc5348 271.5px,#cc5348 277px)"></i><i class="r" style="top:46px;height:2px;background:linear-gradient(90deg,#e08f57 0px,#d66b48 15.5px,#c03f4a 36.5px,#b02d4d 54.5px,#a62250 77.5px,#ad294e 103.5px,#c44449 159.5px,#cc5348 269.5px,#cd5448 277px)"></i><i class="r" style="top:48px;height:2px;background:linear-gradient(90deg,#e08f58 0px,#d66a48 16.5px,#bf3d4a 38.5px,#ad2a4e 60.5px,#a62250 80.5px,#b5324c 117.5px,#c74748 167.5px,#cd5448 277px)"></i><i class="r" style="top:50px;height:2px;background:linear-gradient(90deg,#e09158 0px,#d66b48 16.5px,#bf3d4a 39.5px,#ad294e 62.5px,#a62250 81.5px,#c64648 158.5px,#cd5448 266.5px,#cd5448 277px)"></i><i class="r" style="top:52px;height:2px;background:linear-gradient(90deg,#e09259 0px,#d66b48 17.5px,#bf3e4a 40.5px,#ac284e 65.5px,#a72250 83.5px,#c64549 153.5px,#cd5448 255.5px,#cd5548 277px)"></i><i class="r" style="top:54px;height:2px;background:linear-gradient(90deg,#e19359 0px,#d66c48 17.5px,#be3d4a 42.5px,#a72250 77.5px,#c74748 154.5px,#cd5548 257.5px,#cd5548 277px)"></i><i class="r" style="top:56px;height:2px;background:linear-gradient(90deg,#e1945a 0px,#d66b48 18.5px,#bd3c4a 44.5px,#a8234f 78.5px,#c74748 151.5px,#cd5548 252.5px,#ce5648 277px)"></i><i class="r" style="top:58px;height:2px;background:linear-gradient(90deg,#e1955b 0px,#d66b48 19.5px,#be3c4a 45.5px,#a9254f 77.5px,#c84848 151.5px,#cd5548 253.5px,#ce5648 277px)"></i><i class="r" style="top:60px;height:2px;background:linear-gradient(90deg,#e2975c 0px,#d66c48 19.5px,#bf3d4a 46.5px,#ac284e 72.5px,#b12e4d 95.5px,#c84948 147.5px,#ce5648 248.5px,#ce5748 277px)"></i><i class="r" style="top:62px;height:2px;background:linear-gradient(90deg,#e2995c 0px,#d66b48 20.5px,#c1404a 46.5px,#b12e4d 64.5px,#ad294e 81.5px,#c94a48 146.5px,#ce5748 251.5px,#ce5748 277px)"></i><i class="r" style="top:64px;height:2px;background:linear-gradient(90deg,#e39b5d 0px,#d76e48 19.5px,#c1404a 47.5px,#b22f4d 64.5px,#ae2b4e 82.5px,#c94a48 142.5px,#ce5748 246.5px,#ce5848 277px)"></i><i class="r" style="top:66px;height:2px;background:linear-gradient(90deg,#e39c5e 0px,#d87149 18.5px,#cb5048 39.5px,#b6334c 59.5px,#af2c4e 80.5px,#c24149 116.5px,#cb5048 159.5px,#cf5848 277px)"></i><i class="r" style="top:68px;height:2px;background:linear-gradient(90deg,#e39e5f 0px,#d9754a 17.5px,#cf5848 36.5px,#b7354c 59.5px,#b12e4d 80.5px,#bf3d4a 108.5px,#ca4d48 139.5px,#ce5848 241.5px,#cf5948 277px)"></i><i class="r" style="top:70px;height:2px;background:linear-gradient(90deg,#e4a060 0px,#db7c4e 14.5px,#d46748 30.5px,#be3c4a 54.5px,#b22f4d 73.5px,#ba384b 100.5px,#ca4c48 129.5px,#ce5848 214.5px,#cf5a48 277px)"></i><i class="r" style="top:72px;height:2px;background:linear-gradient(90deg,#e4a261 0px,#db7e4f 14.5px,#d26148 35.5px,#ba384b 59.5px,#b4314d 80.5px,#be3c4a 101.5px,#ca4e48 128.5px,#cf5948 224.5px,#cf5a48 277px)"></i><i class="r" style="top:74px;height:2px;background:linear-gradient(90deg,#e5a461 0px,#dc8251 13.5px,#d46648 34.5px,#bd3c4a 58.5px,#b4324c 78.5px,#be3c4a 98.5px,#cb4f48 124.5px,#cf5948 208.5px,#cf5b48 277px)"></i><i class="r" style="top:76px;height:2px;background:linear-gradient(90deg,#e6a662 0px,#dd8452 14.5px,#d87048 30.5px,#c1404a 57.5px,#b5334c 75.5px,#bf3e4a 97.5px,#cb5048 121.5px,#cf5a48 192.5px,#d05b48 277px)"></i><i class="r" style="top:78px;height:2px;background:linear-gradient(90deg,#e6a964 0px,#dd8452 17.5px,#da794c 28.5px,#d05c48 42.5px,#bd3b4b 64.5px,#b7354c 78.5px,#cb5148 116.5px,#cf5948 165.5px,#d05d48 277px)"></i><i class="r" style="top:80px;height:2px;background:linear-gradient(90deg,#e7ad65 0px,#de8754 19.5px,#dc7f50 27.5px,#d56848 38.5px,#c44349 60.5px,#b8364c 75.5px,#cc5348 114.5px,#d05b48 154.5px,#d15f48 277px)"></i><i class="r" style="top:82px;height:2px;background:linear-gradient(90deg,#e8b167 0px,#e08f58 19.5px,#de8753 26.5px,#d66b48 38.5px,#c44349 63.5px,#bc3a4b 76.5px,#cd5548 112.5px,#d15e48 150.5px,#d26248 277px)"></i><i class="r" style="top:84px;height:2px;background:linear-gradient(90deg,#e9b669 0px,#e2985c 19.5px,#df8d57 26.5px,#d66b48 40.5px,#c24149 68.5px,#c03f4a 78.5px,#cf5a48 114.5px,#d26148 153.5px,#d36548 277px)"></i><i class="r" style="top:86px;height:2px;background:linear-gradient(90deg,#ebbb6b 0px,#e4a060 19.5px,#e1945a 26.5px,#d86f48 40.5px,#c54549 68.5px,#c54549 80.5px,#d15e48 114.5px,#d36448 164.5px,#d56748 277px)"></i><i class="r" style="top:88px;height:2px;background:linear-gradient(90deg,#ecc16d 0px,#e5a662 20.5px,#df8e57 30.5px,#d76e48 43.5px,#c84948 68.5px,#c94b48 81.5px,#d26048 109.5px,#d46748 158.5px,#d66a48 277px)"></i><i class="r" style="top:90px;height:2px;background:linear-gradient(90deg,#eec66f 0px,#e4a060 26.5px,#da794d 40.5px,#d26248 53.5px,#ca4e48 68.5px,#cb5148 82.5px,#d36348 106.5px,#d56a48 156.5px,#d76d48 277px)"></i><i class="r" style="top:92px;height:2px;background:linear-gradient(90deg,#efcb74 0px,#e5a662 26.5px,#d87249 46.5px,#cc5348 67.5px,#ce5648 82.5px,#d46648 106.5px,#d76c48 159.5px,#d86f48 277px)"></i><i class="r" style="top:94px;height:2px;background:linear-gradient(90deg,#f0d07b 0px,#ebbb6b 17.5px,#e39d5f 32.5px,#da794c 45.5px,#d15f48 60.5px,#ce5848 71.5px,#d26048 87.5px,#d76e48 122.5px,#d97349 277px)"></i><i class="r" style="top:96px;height:2px;background:linear-gradient(90deg,#f1d582 0px,#ecc06d 17.5px,#e39d5e 35.5px,#dc7e4f 45.5px,#d56848 57.5px,#d15e48 68.5px,#d36448 87.5px,#d97249 127.5px,#d9764b 277px)"></i><i class="r" style="top:98px;height:2px;background:linear-gradient(90deg,#f3db89 0px,#ecc16d 20.5px,#e4a161 36.5px,#db7b4d 49.5px,#d46548 63.5px,#d46648 84.5px,#d9754b 123.5px,#da794d 277px)"></i><i class="r" style="top:100px;height:2px;background:linear-gradient(90deg,#f4e08f 0px,#edc56f 21.5px,#e6a863 36.5px,#db7e4f 50.5px,#d56948 64.5px,#d66a48 84.5px,#da774b 114.5px,#db7d4e 255.5px,#db7d4e 277px)"></i><i class="r" style="top:102px;height:2px;background:linear-gradient(90deg,#f5e597 0px,#f0d17b 15.5px,#ebbc6b 31.5px,#e1945a 45.5px,#db7b4e 54.5px,#d66c48 66.5px,#d86f48 85.5px,#db7b4d 111.5px,#dc8050 255.5px,#dc8050 277px)"></i><i class="r" style="top:104px;height:2px;background:linear-gradient(90deg,#f6e99d 0px,#f3dd8b 10.5px,#f0d17b 19.5px,#edc36e 31.5px,#e2995d 46.5px,#dc7f4f 55.5px,#d76e48 69.5px,#db7d4e 99.5px,#dc8151 151.5px,#dd8352 277px)"></i><i class="r" style="top:106px;height:2px;background:linear-gradient(90deg,#f7eba3 0px,#f5e292 9.5px,#f1d682 17.5px,#efcd77 29.5px,#e49f60 47.5px,#dc8150 57.5px,#d87249 71.5px,#dd8452 109.5px,#de8754 229.5px,#de8754 277px)"></i><i class="r" style="top:108px;height:2px;background:linear-gradient(90deg,#f7eda9 0px,#f5e393 10.5px,#f3da88 17.5px,#f1d581 28.5px,#ecbe6c 39.5px,#dc8151 60.5px,#da764b 72.5px,#de8a55 108.5px,#e08e57 202.5px,#df8c56 277px)"></i><i class="r" style="top:110px;height:2px;background:linear-gradient(90deg,#f7efae 0px,#f4df8e 15.5px,#f3dc8a 27.5px,#ecbe6c 42.5px,#dc8151 63.5px,#db7b4d 73.5px,#e09058 106.5px,#e1935a 203.5px,#e09158 277px)"></i><i class="r" style="top:112px;height:2px;background:linear-gradient(90deg,#f7f0b1 0px,#f5e393 14.5px,#f5e394 26.5px,#ecc16d 44.5px,#dd8352 65.5px,#dc8150 75.5px,#e1945a 98.5px,#e1965b 148.5px,#e1955a 277px)"></i><i class="r" style="top:114px;height:2px;background:linear-gradient(90deg,#f8f1b4 0px,#f6e798 13.5px,#f6e99c 26.5px,#efcc75 43.5px,#de8653 67.5px,#de8754 76.5px,#e2985c 93.5px,#e39c5e 145.5px,#e2995d 277px)"></i><i class="r" style="top:116px;height:2px;background:linear-gradient(90deg,#f8f2b6 0px,#f6e99c 12.5px,#f7eba3 26.5px,#f4e090 36.5px,#ecc16d 50.5px,#df8d57 68.5px,#e09058 77.5px,#e49f5f 93.5px,#e49f5f 156.5px,#e39d5f 277px)"></i><i class="r" style="top:118px;height:2px;background:linear-gradient(90deg,#f8f3b8 0px,#f6eaa0 12.5px,#f7eeaa 26.5px,#f5e292 39.5px,#edc46e 52.5px,#e29a5d 67.5px,#e2995d 77.5px,#e5a562 94.5px,#e4a161 277px)"></i><i class="r" style="top:120px;height:2px;background:linear-gradient(90deg,#f8f3ba 0px,#f7eba3 11.5px,#f7f0b0 26.5px,#f5e596 41.5px,#edc46e 55.5px,#e5a562 67.5px,#e5a361 79.5px,#e7ab65 107.5px,#e5a562 277px)"></i><i class="r" style="top:122px;height:2px;background:linear-gradient(90deg,#f8f4bc 0px,#f7eda7 11.5px,#f8f2b5 26.5px,#f6eaa0 40.5px,#eec670 57.5px,#e8ae66 67.5px,#e7aa64 79.5px,#e8af66 112.5px,#e6a863 277px)"></i><i class="r" style="top:124px;height:2px;background:linear-gradient(90deg,#f7f4bb 0px,#f8f2b7 4.5px,#f7eeab 12.5px,#f8f3b8 24.5px,#f7eeac 38.5px,#f4e191 49.5px,#edc46e 61.5px,#e9b468 71.5px,#e9b368 84.5px,#e8b066 159.5px,#e7ac65 277px)"></i><i class="r" style="top:126px;height:2px;background:linear-gradient(90deg,#f7f3b9 0px,#f8f3b8 6.5px,#f7f0b1 13.5px,#f8f4bb 25.5px,#f7f0b0 39.5px,#f5e393 51.5px,#edc66f 64.5px,#eab86a 79.5px,#e9b568 148.5px,#e8af66 277px)"></i><i class="r" style="top:128px;height:2px;background:linear-gradient(90deg,#f6f3b8 0px,#f8f3b9 10.5px,#f8f3ba 17.5px,#f8f3b8 36.5px,#f6eaa1 49.5px,#efcb74 66.5px,#ecbf6c 81.5px,#e9b368 277px)"></i><i class="r" style="top:130px;height:2px;background:linear-gradient(90deg,#f5f2b5 0px,#f8f4bb 19.5px,#f8f3b8 39.5px,#f7eca6 50.5px,#f3dc8b 60.5px,#eeca72 73.5px,#edc36e 99.5px,#eab669 277px)"></i><i class="r" style="top:132px;height:2px;background:linear-gradient(90deg,#f3f1b3 0px,#f7f3ba 20.5px,#f8f3b9 42.5px,#f7eca6 53.5px,#f1d27d 71.5px,#efca73 85.5px,#ecc06d 208.5px,#eaba6a 277px)"></i><i class="r" style="top:134px;height:2px;background:linear-gradient(90deg,#f2f0b0 0px,#f7f3b9 20.5px,#f8f3b9 45.5px,#f7eba4 57.5px,#f1d581 74.5px,#efce78 90.5px,#edc46e 173.5px,#ebbd6c 277px)"></i><i class="r" style="top:136px;height:2px;background:linear-gradient(90deg,#f0efad 0px,#f6f3b9 18.5px,#f8f3b9 48.5px,#f6eaa0 62.5px,#f1d682 79.5px,#efcb75 139.5px,#ecc16d 277px)"></i><i class="r" style="top:138px;height:2px;background:linear-gradient(90deg,#efeeac 0px,#f6f3b8 17.5px,#f8f3b9 51.5px,#f4e090 74.5px,#f2d683 91.5px,#efcb75 178.5px,#edc46f 277px)"></i><i class="r" style="top:140px;height:2px;background:linear-gradient(90deg,#eeeeaa 0px,#f5f2b7 16.5px,#f7f3ba 47.5px,#f8f2b7 56.5px,#f4df8e 81.5px,#f1d37f 124.5px,#eec870 277px)"></i><i class="r" style="top:142px;height:2px;background:linear-gradient(90deg,#eeeda9 0px,#f5f2b5 14.5px,#f7f3b9 47.5px,#f8f3b9 57.5px,#f5e393 83.5px,#f2d784 125.5px,#efcb74 277px)"></i><i class="r" style="top:144px;height:2px;background:linear-gradient(90deg,#ededa7 0px,#f4f1b4 12.5px,#f6f3b8 47.5px,#f8f3b9 60.5px,#f6e798 84.5px,#f3db89 122.5px,#efce77 277px)"></i><i class="r" style="top:146px;height:2px;background:linear-gradient(90deg,#ececa6 0px,#f3f1b2 10.5px,#f6f2b7 48.5px,#f8f3ba 62.5px,#f6e89b 87.5px,#f3dd8b 138.5px,#f0d07b 277px)"></i><i class="r" style="top:148px;height:2px;background:linear-gradient(90deg,#eaeba4 0px,#f2f0b1 9.5px,#f5f2b6 47.5px,#f8f3ba 65.5px,#f6e99c 92.5px,#f3dd8c 160.5px,#f1d37f 277px)"></i><i class="r" style="top:150px;height:2px;background:linear-gradient(90deg,#e9eaa1 0px,#f2f0b0 8.5px,#f4f1b3 44.5px,#f8f3ba 68.5px,#f6ea9f 95.5px,#f4df8f 171.5px,#f1d682 277px)"></i><i class="r" style="top:152px;height:2px;background:linear-gradient(90deg,#e7e99f 0px,#f2f0af 8.5px,#f1efae 24.5px,#f8f3ba 71.5px,#f7eba3 97.5px,#f5e393 174.5px,#f2d986 277px)"></i><i class="r" style="top:154px;height:2px;background:linear-gradient(90deg,#e4e89d 0px,#f1f0af 8.5px,#f0efad 23.5px,#f1efae 38.5px,#f8f3ba 74.5px,#f7eda7 98.5px,#f6e799 160.5px,#f3dc8a 277px)"></i><i class="r" style="top:156px;height:2px;background:linear-gradient(90deg,#e0e699 0px,#f1efae 8.5px,#f0efad 21.5px,#ededa9 31.5px,#f8f3bb 77.5px,#f7eda8 105.5px,#f6e89b 175.5px,#f4de8d 277px)"></i><i class="r" style="top:158px;height:2px;background:linear-gradient(90deg,#dae397 0px,#e7e99f 4.5px,#f0efad 9.5px,#efeeab 21.5px,#ececa6 31.5px,#f8f4bc 78.5px,#f7eca5 126.5px,#f4e191 277px)"></i><i class="r" style="top:160px;height:2px;background:linear-gradient(90deg,#d3e09c 0px,#dee598 3.5px,#efeeab 9.5px,#efeeac 18.5px,#e9eba2 30.5px,#f6f3b8 70.5px,#f8f3b9 86.5px,#f7eda7 137.5px,#f5e495 277px)"></i><i class="r" style="top:162px;height:2px;background:linear-gradient(90deg,#cdde9e 0px,#dee597 4.5px,#eeeeaa 10.5px,#eeeeaa 17.5px,#e7ea9f 30.5px,#f5f2b6 67.5px,#f8f3b9 90.5px,#f7eda9 148.5px,#f6e798 277px)"></i><i class="r" style="top:164px;height:2px;background:linear-gradient(90deg,#c9dd9f 0px,#dee598 5.5px,#efeeab 12.5px,#e5e99e 31.5px,#f5f2b5 67.5px,#f8f3ba 95.5px,#f7eeab 161.5px,#f6e99c 277px)"></i><i class="r" style="top:166px;height:2px;background:linear-gradient(90deg,#c6db9f 0px,#dee598 6.5px,#eceda7 12.5px,#e3e89c 32.5px,#f4f1b4 67.5px,#f8f3ba 101.5px,#f6eaa0 264.5px,#f6ea9f 277px)"></i><i class="r" style="top:168px;height:2px;background:linear-gradient(90deg,#c2da9f 0px,#dee598 7.5px,#e9eba2 13.5px,#e2e79b 34.5px,#efeeac 54.5px,#f8f4bc 100.5px,#f6eba2 277px)"></i><i class="r" style="top:170px;height:2px;background:linear-gradient(90deg,#bed8a0 0px,#dee597 8.5px,#e6e99e 15.5px,#dfe699 34.5px,#ededa8 53.5px,#f4f1b4 72.5px,#f8f3ba 113.5px,#f7eca5 277px)"></i><i class="r" style="top:172px;height:2px;background:linear-gradient(90deg,#b9d5a1 0px,#c5db9f 3.5px,#d8e299 7.5px,#e3e79c 15.5px,#dde497 34.5px,#ececa6 54.5px,#f3f1b2 69.5px,#f8f3ba 118.5px,#f7eda8 277px)"></i><i class="r" style="top:174px;height:2px;background:linear-gradient(90deg,#b2d2a3 0px,#c5db9f 4.5px,#d5e19b 7.5px,#dfe598 14.5px,#dbe497 35.5px,#e9eba2 54.5px,#f2f0b0 67.5px,#f8f4bb 123.5px,#f7eeab 277px)"></i><i class="r" style="top:176px;height:2px;background:linear-gradient(90deg,#a7cea4 0px,#d0df9d 7.5px,#dce497 15.5px,#d8e398 35.5px,#e2e79b 49.5px,#f2f0b0 69.5px,#f8f4bb 129.5px,#f7efae 277px)"></i><i class="r" style="top:178px;height:2px;background:linear-gradient(90deg,#9cc9a4 0px,#d0df9d 9.5px,#d8e299 17.5px,#d6e29a 36.5px,#e0e699 50.5px,#f2f0b0 70.5px,#f8f4bb 134.5px,#f7f0b0 277px)"></i><i class="r" style="top:180px;height:2px;background:linear-gradient(90deg,#96c7a4 0px,#a3cca4 3.5px,#cfdf9d 11.5px,#d3e19b 19.5px,#d3e19b 37.5px,#dfe699 52.5px,#f1f0af 71.5px,#f8f4bc 138.5px,#f7f0b2 277px)"></i><i class="r" style="top:182px;height:2px;background:linear-gradient(90deg,#93c5a4 0px,#9dcaa4 4.5px,#c7dc9f 11.5px,#cfdf9e 15.5px,#cedf9e 33.5px,#dfe598 54.5px,#f1f0af 73.5px,#f8f4bc 143.5px,#f7f1b2 277px)"></i><i class="r" style="top:184px;height:2px;background:linear-gradient(90deg,#90c2a4 0px,#99c8a4 5.5px,#bcd7a0 11.5px,#c6db9f 14.5px,#cadd9f 34.5px,#dfe699 57.5px,#f1efae 74.5px,#f8f4bc 141.5px,#f7f1b3 277px)"></i><i class="r" style="top:186px;height:2px;background:linear-gradient(90deg,#8dc0a5 0px,#9ccaa4 7.5px,#b4d3a3 11.5px,#bdd7a0 16.5px,#d0df9d 47.5px,#dfe598 59.5px,#f0efad 75.5px,#f7f4bb 137.5px,#f7f1b3 277px)"></i><i class="r" style="top:188px;height:2px;background:linear-gradient(90deg,#8abea5 0px,#9ac9a4 8.5px,#b2d2a3 13.5px,#d2e09c 52.5px,#dee598 60.5px,#f0efad 77.5px,#f7f4bb 137.5px,#f8f1b4 277px)"></i><i class="r" style="top:190px;height:2px;background:linear-gradient(90deg,#87bca6 0px,#98c8a4 9.5px,#afd0a4 14.5px,#c4da9f 40.5px,#d7e299 57.5px,#dfe699 62.5px,#f1f0af 81.5px,#f7f4bb 146.5px,#f8f1b4 277px)"></i><i class="r" style="top:192px;height:1px;background:linear-gradient(90deg,#86bba6 0px,#99c8a4 10.5px,#aed0a4 15.5px,#d0df9d 54.5px,#dee598 62.5px,#f2f0b0 83.5px,#f8f4bb 154.5px,#f8f1b5 277px)"></i></div>
<div class="cb" style="left:1364.6px;top:54.3px;width:28.0px;height:193.3px;background:linear-gradient(180deg,#a52050 0.0%,#a52050 0.1%,#c84848 2.5%,#d87048 4.5%,#e4a060 6.4%,#eec870 8.3%,#f6e89a 10.2%,#f8f4bc 12.1%,#f2f0b0 14.0%,#e8eaa0 15.9%,#dce496 17.8%,#cfdf9e 19.7%,#bed8a0 21.6%,#aed0a4 24.0%,#98c8a4 26.4%,#92c4a4 28.0%,#7cb4a8 31.9%,#62a0b0 37.8%,#5088c0 42.4%,#4c78bc 46.4%,#4a68b0 52.2%,#4c5ca6 60.9%,#5254a0 72.4%,#58509e 84.0%,#5e4c9c 95.5%,#5e4c9c 100.0%)"></div>
<div class="cb" style="left:1369.1px;top:377.3px;width:28.4px;height:207.5px;background:linear-gradient(180deg,#a52050 0.0%,#a52050 0.1%,#c84848 2.5%,#d87048 4.5%,#e4a060 6.4%,#eec870 8.3%,#f6e89a 10.2%,#f8f4bc 12.1%,#f2f0b0 14.0%,#e8eaa0 15.9%,#dce496 17.8%,#cfdf9e 19.7%,#bed8a0 21.6%,#aed0a4 24.0%,#98c8a4 26.4%,#92c4a4 28.0%,#7cb4a8 31.9%,#62a0b0 37.8%,#5088c0 42.4%,#4c78bc 46.4%,#4a68b0 52.2%,#4c5ca6 60.9%,#5254a0 72.4%,#58509e 84.0%,#5e4c9c 95.5%,#5e4c9c 100.0%)"></div>
<div class="cb" style="left:1364.6px;top:709.6px;width:28.0px;height:194.1px;background:linear-gradient(180deg,#a52050 0.0%,#a52050 0.1%,#c84848 2.5%,#d87048 4.5%,#e4a060 6.4%,#eec870 8.3%,#f6e89a 10.2%,#f8f4bc 12.1%,#f2f0b0 14.0%,#e8eaa0 15.9%,#dce496 17.8%,#cfdf9e 19.7%,#bed8a0 21.6%,#aed0a4 24.0%,#98c8a4 26.4%,#92c4a4 28.0%,#7cb4a8 31.9%,#62a0b0 37.8%,#5088c0 42.4%,#4c78bc 46.4%,#4a68b0 52.2%,#4c5ca6 60.9%,#5254a0 72.4%,#58509e 84.0%,#5e4c9c 95.5%,#5e4c9c 100.0%)"></div>
<div class="cb" style="left:1364.6px;top:1038.9px;width:28.0px;height:193.3px;background:linear-gradient(180deg,#a52050 0.0%,#a52050 0.1%,#c84848 2.5%,#d87048 4.5%,#e4a060 6.4%,#eec870 8.3%,#f6e89a 10.2%,#f8f4bc 12.1%,#f2f0b0 14.0%,#e8eaa0 15.9%,#dce496 17.8%,#cfdf9e 19.7%,#bed8a0 21.6%,#aed0a4 24.0%,#98c8a4 26.4%,#92c4a4 28.0%,#7cb4a8 31.9%,#62a0b0 37.8%,#5088c0 42.4%,#4c78bc 46.4%,#4a68b0 52.2%,#4c5ca6 60.9%,#5254a0 72.4%,#58509e 84.0%,#5e4c9c 95.5%,#5e4c9c 100.0%)"></div>
<svg width="1499" height="1301" viewBox="0 0 1499 1301">
<text x="4.0" y="37.0" font-size="48" text-anchor="start" font-weight="bold" fill="#000" font-family='"Liberation Sans", sans-serif' >A</text>
<text x="0.5" y="356.8" font-size="48" text-anchor="start" font-weight="bold" fill="#000" font-family='"Liberation Sans", sans-serif' >B</text>
<text x="2.0" y="689.3" font-size="48" text-anchor="start" font-weight="bold" fill="#000" font-family='"Liberation Sans", sans-serif' >C</text>
<text x="0.5" y="1013.0" font-size="48" text-anchor="start" font-weight="bold" fill="#000" font-family='"Liberation Sans", sans-serif' >D</text>
<text x="495.7" y="36.8" font-size="48" text-anchor="start" font-weight="bold" fill="#000" font-family='"Liberation Sans", sans-serif' >E</text>
<text x="493.2" y="356.7" font-size="48" text-anchor="start" font-weight="bold" fill="#000" font-family='"Liberation Sans", sans-serif' >F</text>
<text x="494.5" y="688.0" font-size="48" text-anchor="start" font-weight="bold" fill="#000" font-family='"Liberation Sans", sans-serif' >G</text>
<text x="493.2" y="1010.0" font-size="48" text-anchor="start" font-weight="bold" fill="#000" font-family='"Liberation Sans", sans-serif' >H</text>
<text x="993.9" y="36.4" font-size="48" text-anchor="start" font-weight="bold" fill="#000" font-family='"Liberation Sans", sans-serif' >I</text>
<text x="991.9" y="356.4" font-size="48" text-anchor="start" font-weight="bold" fill="#000" font-family='"Liberation Sans", sans-serif' >L</text>
<text x="989.0" y="690.6" font-size="48" text-anchor="start" font-weight="bold" fill="#000" font-family='"Liberation Sans", sans-serif' >M</text>
<text x="990.5" y="1012.8" font-size="48" text-anchor="start" font-weight="bold" fill="#000" font-family='"Liberation Sans", sans-serif' >N</text>
<rect x="89.6" y="53.6" width="367.6" height="193.2" fill="none" stroke="#505050" stroke-width="1.2"/>
<line x1="89.6" y1="246.8" x2="89.6" y2="242.3" stroke="#505050" stroke-width="1.2" />
<line x1="89.6" y1="53.6" x2="89.6" y2="58.1" stroke="#505050" stroke-width="1.2" />
<line x1="273.4" y1="246.8" x2="273.4" y2="242.3" stroke="#505050" stroke-width="1.2" />
<line x1="273.4" y1="53.6" x2="273.4" y2="58.1" stroke="#505050" stroke-width="1.2" />
<line x1="457.2" y1="246.8" x2="457.2" y2="242.3" stroke="#505050" stroke-width="1.2" />
<line x1="457.2" y1="53.6" x2="457.2" y2="58.1" stroke="#505050" stroke-width="1.2" />
<line x1="89.6" y1="246.8" x2="94.1" y2="246.8" stroke="#505050" stroke-width="1.2" />
<line x1="457.2" y1="246.8" x2="452.7" y2="246.8" stroke="#505050" stroke-width="1.2" />
<line x1="89.6" y1="150.2" x2="94.1" y2="150.2" stroke="#505050" stroke-width="1.2" />
<line x1="457.2" y1="150.2" x2="452.7" y2="150.2" stroke="#505050" stroke-width="1.2" />
<line x1="89.6" y1="53.6" x2="94.1" y2="53.6" stroke="#505050" stroke-width="1.2" />
<line x1="457.2" y1="53.6" x2="452.7" y2="53.6" stroke="#505050" stroke-width="1.2" />
<polyline points="90.0,53.6 91.8,226.5 93.3,227.3 95.1,227.4 97.0,229.2 98.8,228.7 100.6,229.8 102.5,231.1 104.3,226.1 106.1,225.5 108.0,228.5 109.8,228.1 111.7,226.7 113.5,228.1 115.3,230.3 117.2,231.3 119.0,227.6 120.8,226.4 122.7,228.3 124.5,229.3 126.4,224.5 128.2,225.3 130.0,225.5 131.9,222.4 133.7,227.0 135.6,232.3 137.4,233.5 139.2,233.5 141.1,228.2 142.9,228.4 144.7,228.8 146.6,227.5 148.4,230.5 150.3,230.8 152.1,234.0 153.9,233.5 155.8,229.9 157.6,222.6 159.4,220.9 161.3,224.8 163.1,225.4 165.0,226.3 166.8,227.2 168.6,231.4 170.5,235.7 172.3,234.2 174.1,226.0 176.0,220.4 177.8,224.1 179.7,225.8 181.5,222.3 183.3,224.2 185.2,226.3 187.0,226.8 188.9,228.1 190.7,230.3 192.5,231.4 194.4,227.9 196.2,225.7 198.0,224.8 199.9,229.5 201.7,233.2 203.6,228.1 205.4,223.6 207.2,227.7 209.1,232.1 210.9,233.6 212.7,232.7 214.6,231.3 216.4,229.5 218.3,225.1 220.1,226.1 221.9,225.3 223.8,221.3 225.6,221.5 227.4,225.4 229.3,225.7 231.1,225.4 233.0,229.3 234.8,231.8 236.6,226.7 238.5,223.8 240.3,226.3 242.2,229.8 244.0,230.0 245.8,229.8 247.7,227.2 249.5,222.1 251.3,220.4 253.2,222.6 255.0,223.9 256.9,224.7 258.7,226.7 260.5,228.5 262.4,229.3 264.2,225.4 266.0,220.0 267.9,222.5 269.7,227.8 271.6,230.3 273.4,230.1 275.2,227.3 277.1,227.8 278.9,230.5 280.8,228.5 282.6,226.8 284.4,223.6 286.3,223.0 288.1,222.8 289.9,226.8 291.8,228.2 293.6,225.6 295.5,223.5 297.3,226.0 299.1,229.9 301.0,228.5 302.8,228.0 304.6,229.3 306.5,227.7 308.3,224.0 310.2,227.4 312.0,229.4 313.8,226.6 315.7,226.4 317.5,226.4 319.4,224.6 321.2,224.4 323.0,224.4 324.9,223.9 326.7,226.2 328.5,229.3 330.4,230.0 332.2,229.4 334.1,229.3 335.9,232.8 337.7,234.2 339.6,231.8 341.4,234.0 343.2,234.5 345.1,230.0 346.9,228.7 348.8,227.8 350.6,230.1 352.4,233.1 354.3,233.3 356.1,231.2 357.9,230.2 359.8,230.9 361.6,231.4 363.5,232.6 365.3,231.9 367.1,233.0 369.0,229.3 370.8,224.3 372.7,221.4 374.5,223.0 376.3,228.4 378.2,225.4 380.0,222.0 381.8,224.1 383.7,227.9 385.5,225.1 387.4,223.6 389.2,228.5 391.0,226.5 392.9,224.7 394.7,227.3 396.5,228.1 398.4,231.1 400.2,232.2 402.1,230.8 403.9,228.1 405.7,226.5 407.6,226.1 409.4,229.0 411.2,227.6 413.1,224.4 414.9,226.3 416.8,229.6 418.6,227.8 420.4,227.6 422.3,226.4 424.1,224.5 426.0,223.6 427.8,228.1 429.6,234.2 431.5,232.9 433.3,227.6 435.1,225.9 437.0,224.2 438.8,226.1 440.7,227.8 442.5,226.6 444.3,230.9 446.2,231.8 448.0,226.8 449.8,229.6 451.7,226.7 453.5,224.2 455.4,228.0 457.2,232.0" fill="none" stroke="#b01c22" stroke-width="2.8" stroke-linejoin="round" stroke-linecap="round" />
<polyline points="90.0,53.6 91.4,234.2 93.3,235.4 95.1,229.7 97.0,224.1 98.8,224.4 100.6,224.0 102.5,228.8 104.3,230.0 106.1,233.1 108.0,229.5 109.8,225.5 111.7,227.6 113.5,226.3 115.3,230.2 117.2,230.7 119.0,228.2 120.8,227.7 122.7,224.8 124.5,224.1 126.4,219.8 128.2,226.8 130.0,229.8 131.9,232.3 133.7,227.8 135.6,225.3 137.4,230.0 139.2,227.7 141.1,224.5 142.9,227.8 144.7,228.8 146.6,223.6 148.4,225.5 150.3,224.3 152.1,220.6 153.9,221.5 155.8,228.3 157.6,229.9 159.4,227.0 161.3,229.8 163.1,234.6 165.0,223.9 166.8,225.2 168.6,225.4 170.5,230.4 172.3,223.7 174.1,228.8 176.0,230.1 177.8,234.0 179.7,230.0 181.5,228.9 183.3,228.1 185.2,225.7 187.0,225.7 188.9,223.6 190.7,229.6 192.5,232.4 194.4,228.0 196.2,223.3 198.0,220.4 199.9,237.1 201.7,233.9 203.6,226.1 205.4,220.6 207.2,226.1 209.1,229.3 210.9,227.2 212.7,228.7 214.6,225.2 216.4,225.3 218.3,220.8 220.1,224.5 221.9,229.4 223.8,224.6 225.6,223.3 227.4,211.1 229.3,232.5 231.1,237.1 233.0,226.7 234.8,231.5 236.6,237.1 238.5,237.1 240.3,229.6 242.2,224.5 244.0,226.5 245.8,226.7 247.7,233.3 249.5,233.6 251.3,224.5 253.2,224.4 255.0,225.7 256.9,222.9 258.7,230.7 260.5,238.1 262.4,221.4 264.2,218.2 266.0,223.6 267.9,220.7 269.7,227.9 271.6,226.9 273.4,229.6 275.2,234.4 277.1,227.1 278.9,223.3 280.8,227.2 282.6,226.4 284.4,222.8 286.3,233.1 288.1,236.2 289.9,233.4 291.8,232.0 293.6,222.5 295.5,237.1 297.3,231.6 299.1,228.0 301.0,216.2 302.8,227.9 304.6,231.1 306.5,226.3 308.3,224.1 310.2,226.8 312.0,232.5 313.8,233.0 315.7,226.2 317.5,228.9 319.4,233.5 321.2,223.3 323.0,223.1 324.9,228.0 326.7,228.6 328.5,227.5 330.4,231.8 332.2,233.9 334.1,229.1 335.9,233.1 337.7,228.9 339.6,233.6 341.4,229.6 343.2,226.3 345.1,220.9 346.9,231.8 348.8,235.6 350.6,233.2 352.4,233.8 354.3,230.9 356.1,225.4 357.9,221.8 359.8,220.0 361.6,225.9 363.5,215.9 365.3,216.1 367.1,228.7 369.0,237.1 370.8,230.3 372.7,229.8 374.5,237.1 376.3,229.9 378.2,229.2 380.0,230.5 381.8,224.5 383.7,222.9 385.5,228.3 387.4,227.7 389.2,231.0 391.0,231.6 392.9,227.4 394.7,225.7 396.5,231.8 398.4,237.1 400.2,229.1 402.1,214.9 403.9,226.7 405.7,219.5 407.6,226.9 409.4,234.3 411.2,234.0 413.1,223.9 414.9,225.7 416.8,207.2 418.6,222.8 420.4,227.0 422.3,230.0 424.1,235.4 426.0,237.1 427.8,214.0 429.6,229.7 431.5,227.9 433.3,226.0 435.1,227.4 437.0,226.1 438.8,224.8 440.7,230.9 442.5,231.5 444.3,233.9 446.2,224.9 448.0,225.7 449.8,223.5 451.7,218.9 453.5,221.0 455.4,225.7 457.2,224.0" fill="none" stroke="#000" stroke-width="3.1" stroke-linejoin="round" stroke-linecap="round" />
<text x="62.1" y="64.1" font-size="29.5" text-anchor="start" font-weight="normal" fill="#1a1a1a" font-family='"Liberation Sans", sans-serif' > </text>
<path d="M515 0V1237L197 1010V1180L530 1409H696V0Z" fill="#1a1a1a" transform="translate(62.09 64.10) scale(0.01440 -0.01440)"/>
<text x="78.5" y="160.7" font-size="29.5" text-anchor="end" font-weight="normal" fill="#1a1a1a" font-family='"Liberation Sans", sans-serif' >0.5</text>
<text x="78.5" y="257.3" font-size="29.5" text-anchor="end" font-weight="normal" fill="#1a1a1a" font-family='"Liberation Sans", sans-serif' >0</text>
<text x="89.6" y="286.3" font-size="29.5" text-anchor="middle" font-weight="normal" fill="#1a1a1a" font-family='"Liberation Sans", sans-serif' >0</text>
<text x="248.8" y="286.3" font-size="29.5" text-anchor="start" font-weight="normal" fill="#1a1a1a" font-family='"Liberation Sans", sans-serif' > 00</text>
<path d="M515 0V1237L197 1010V1180L530 1409H696V0Z" fill="#1a1a1a" transform="translate(248.79 286.30) scale(0.01440 -0.01440)"/>
<text x="457.2" y="286.3" font-size="29.5" text-anchor="middle" font-weight="normal" fill="#1a1a1a" font-family='"Liberation Sans", sans-serif' >200</text>
<text x="272.5" y="327.0" font-size="30" text-anchor="middle" font-weight="normal" fill="#1a1a1a" font-family='"Liberation Sans", sans-serif' >t (<tspan font-style="italic" font-family='"Liberation Serif", serif'>δ</tspan>t)</text>
<text x="25.0" y="150.0" font-size="32" text-anchor="middle" font-weight="normal" fill="#1a1a1a" font-family='"Liberation Sans", sans-serif' transform="rotate(-90 25.0 150.0)" >Autocorrelation</text>
<rect x="89.6" y="710.2" width="367.6" height="193.4" fill="none" stroke="#505050" stroke-width="1.2"/>
<line x1="89.6" y1="903.6" x2="89.6" y2="899.1" stroke="#505050" stroke-width="1.2" />
<line x1="89.6" y1="710.2" x2="89.6" y2="714.7" stroke="#505050" stroke-width="1.2" />
<line x1="273.4" y1="903.6" x2="273.4" y2="899.1" stroke="#505050" stroke-width="1.2" />
<line x1="273.4" y1="710.2" x2="273.4" y2="714.7" stroke="#505050" stroke-width="1.2" />
<line x1="457.2" y1="903.6" x2="457.2" y2="899.1" stroke="#505050" stroke-width="1.2" />
<line x1="457.2" y1="710.2" x2="457.2" y2="714.7" stroke="#505050" stroke-width="1.2" />
<line x1="89.6" y1="896.6" x2="94.1" y2="896.6" stroke="#505050" stroke-width="1.2" />
<line x1="457.2" y1="896.6" x2="452.7" y2="896.6" stroke="#505050" stroke-width="1.2" />
<line x1="89.6" y1="803.5" x2="94.1" y2="803.5" stroke="#505050" stroke-width="1.2" />
<line x1="457.2" y1="803.5" x2="452.7" y2="803.5" stroke="#505050" stroke-width="1.2" />
<line x1="89.6" y1="710.4" x2="94.1" y2="710.4" stroke="#505050" stroke-width="1.2" />
<line x1="457.2" y1="710.4" x2="452.7" y2="710.4" stroke="#505050" stroke-width="1.2" />
<path d="M91.5,710.5 C92.5,719.1 99.4,783.1 101.1,796.9 C102.8,810.7 107.4,843.4 108.4,848.5 C109.5,853.6 110.7,849.6 111.6,847.7 C112.5,845.8 116.5,830.8 117.3,829.1 C118.1,827.4 119.1,828.4 119.7,830.7 C120.3,833.0 123.1,849.7 123.7,851.7 C124.3,853.7 125.1,856.9 126.1,850.9 C127.1,844.9 131.9,804.7 133.4,792.0 C134.9,779.3 140.2,728.6 141.5,724.2 C142.8,719.8 145.2,738.7 146.3,748.4 C147.4,758.1 151.4,810.2 152.8,821.0 C154.2,831.8 159.0,853.1 160.0,856.6 C161.0,860.1 161.8,858.1 162.4,855.8 C163.1,853.5 165.7,836.1 166.5,834.0 C167.3,831.9 169.7,832.1 170.6,834.8 C171.5,837.5 174.3,863.6 175.4,861.4 C176.5,859.2 180.6,823.0 181.9,813.0 C183.2,803.0 187.2,768.2 188.3,761.3 C189.4,754.4 192.0,744.4 192.8,743.6 C193.6,742.8 195.4,744.8 196.4,753.3 C197.4,761.8 201.4,817.8 202.8,829.1 C204.2,840.4 209.1,862.8 210.1,866.3 C211.1,869.8 211.7,867.8 212.5,864.6 C213.3,861.4 217.1,835.9 218.2,834.0 C219.2,832.1 222.1,843.3 223.0,846.1 C223.9,848.9 225.9,864.7 227.0,862.2 C228.1,859.7 232.0,831.0 233.5,821.0 C235.0,811.0 240.2,767.6 241.6,762.1 C243.0,756.6 246.6,756.9 248.0,766.2 C249.4,775.5 254.6,844.7 256.1,855.0 C257.6,865.3 262.1,871.3 263.4,869.5 C264.7,867.7 268.1,839.6 269.0,837.2 C269.9,834.8 271.5,842.6 272.4,845.3 C273.3,848.0 276.9,866.5 278.1,864.6 C279.3,862.7 283.3,834.1 284.5,825.9 C285.7,817.7 289.3,787.4 290.2,782.3 C291.1,777.2 292.8,775.1 293.4,775.1 C294.0,775.1 295.4,781.4 296.0,782.3 C296.6,783.2 298.4,780.9 299.0,784.0 C299.6,787.1 301.4,805.0 302.3,813.0 C303.2,821.0 306.8,857.9 307.9,863.8 C308.9,869.7 312.1,871.3 312.8,871.9 C313.5,872.5 314.6,872.8 315.2,869.5 C315.8,866.2 318.4,840.7 319.2,838.8 C320.0,836.9 322.7,848.8 323.3,850.1 C323.9,851.4 325.1,850.1 325.7,851.7 C326.3,853.3 328.8,867.8 329.7,866.3 C330.6,864.8 333.6,843.5 334.6,837.2 C335.6,830.9 338.5,808.2 339.4,803.3 C340.3,798.4 342.8,788.6 343.4,788.0 C344.0,787.4 345.2,795.6 345.8,796.9 C346.4,798.2 348.6,800.7 349.1,800.9 C349.6,801.1 349.7,792.1 350.7,798.5 C351.7,804.9 357.4,857.0 358.8,864.6 C360.2,872.2 364.0,876.8 365.2,874.3 C366.4,871.8 369.9,841.8 370.9,839.6 C371.9,837.4 374.3,851.3 374.9,852.5 C375.5,853.7 375.9,850.1 376.5,851.7 C377.1,853.3 380.3,871.6 381.4,868.7 C382.5,865.8 386.5,829.5 387.8,822.7 C389.1,815.9 393.2,801.5 394.3,800.9 C395.4,800.2 398.3,814.9 399.1,816.2 C399.9,817.5 401.2,809.3 402.3,813.8 C403.4,818.3 409.0,855.4 410.4,861.4 C411.8,867.4 415.0,875.1 416.1,873.5 C417.2,871.9 420.7,847.1 421.7,845.3 C422.7,843.4 425.1,854.0 425.8,855.0 C426.5,856.0 428.3,854.4 429.0,855.0 C429.7,855.6 432.4,860.2 433.0,860.6 C433.6,861.0 434.8,861.3 435.4,859.0 C436.0,856.7 437.8,841.8 438.7,837.2 C439.6,832.6 443.4,814.8 444.3,813.0 C445.2,811.2 446.7,818.2 447.5,819.5 C448.3,820.8 451.4,824.4 452.4,825.9 C453.4,827.4 456.7,833.2 457.2,834.0" fill="none" stroke="#b01c22" stroke-width="2.9" stroke-linejoin="round" stroke-linecap="round" />
<path d="M90.6,710.5 C91.3,720.6 96.4,797.9 97.9,811.4 C99.4,824.9 104.7,837.9 106.0,845.3 C107.3,852.7 110.0,881.4 110.8,885.6 C111.6,889.8 113.1,890.8 113.7,887.2 C114.3,883.6 116.3,849.3 117.0,849.3 C117.7,849.3 119.9,883.6 120.5,887.2 C121.1,890.8 121.6,891.4 122.9,885.6 C124.2,879.8 132.0,837.2 133.4,829.1 C134.8,821.0 136.0,816.1 136.7,805.0 C137.4,793.9 140.1,726.7 140.7,717.8 C141.3,708.9 142.3,714.6 142.8,716.1 C143.3,717.6 144.8,721.3 145.5,732.3 C146.2,743.3 148.9,813.8 149.6,825.9 C150.3,838.0 151.8,848.2 152.8,853.4 C153.8,858.6 158.3,873.6 159.3,877.6 C160.3,881.6 162.1,896.2 162.8,893.7 C163.5,891.2 165.9,855.7 166.5,852.5 C167.1,849.3 168.5,858.0 168.9,861.4 C169.3,864.8 170.2,883.8 170.6,886.4 C171.0,889.0 172.4,888.0 173.0,887.2 C173.6,886.4 176.4,880.5 177.0,878.4 C177.6,876.3 178.9,867.7 179.4,866.3 C179.9,864.9 181.0,876.9 181.9,864.6 C182.8,852.3 187.4,757.0 188.3,743.6 C189.2,730.2 190.1,732.4 190.7,730.7 C191.3,729.0 193.7,725.3 194.4,726.6 C195.1,727.9 196.9,729.5 198.0,743.6 C199.1,757.7 204.3,855.6 205.3,867.9 C206.3,880.2 206.9,863.6 207.7,866.3 C208.5,869.0 212.5,892.4 213.3,895.3 C214.1,898.2 215.0,899.5 215.5,895.3 C216.0,891.1 217.6,853.9 218.2,853.4 C218.8,852.9 220.7,886.2 221.4,890.5 C222.1,894.8 224.4,899.0 225.4,896.1 C226.4,893.2 230.1,869.7 231.1,861.4 C232.1,853.1 234.2,824.8 235.1,813.0 C236.0,801.2 239.0,751.1 240.0,743.6 C241.0,736.1 244.0,738.1 244.8,737.9 C245.6,737.7 247.2,736.1 248.0,742.0 C248.8,747.9 252.0,785.4 252.9,796.9 C253.8,808.4 255.9,846.7 256.9,856.6 C257.9,866.5 261.7,892.2 262.6,896.1 C263.5,900.0 264.9,899.0 265.5,895.5 C266.1,892.0 268.3,861.4 269.0,860.6 C269.7,859.8 271.6,883.2 272.2,887.2 C272.8,891.2 274.1,899.6 274.8,900.2 C275.5,900.8 277.8,904.7 278.9,892.9 C279.9,881.1 284.2,796.1 285.3,782.3 C286.4,768.5 288.5,758.1 289.4,754.9 C290.3,751.7 293.4,750.7 294.2,750.0 C295.0,749.3 296.4,747.6 297.1,748.1 C297.8,748.6 300.8,752.0 301.5,754.9 C302.2,757.8 303.4,774.8 303.9,777.5 C304.3,780.2 305.3,773.6 306.0,782.0 C306.7,790.4 310.4,850.0 311.2,861.4 C312.0,872.8 313.0,892.9 313.6,896.1 C314.2,899.3 316.2,897.1 316.8,893.7 C317.4,890.3 318.7,863.8 319.2,862.2 C319.7,860.6 321.1,873.7 321.7,877.6 C322.3,881.5 324.2,899.4 324.9,901.0 C325.6,902.6 327.9,903.8 328.9,893.7 C329.9,883.6 333.6,812.7 334.6,800.1 C335.6,787.5 337.7,771.8 338.6,767.8 C339.5,763.8 342.4,760.7 343.4,759.7 C344.4,758.7 347.3,757.3 348.3,757.8 C349.3,758.3 352.1,761.0 353.1,764.6 C354.1,768.2 357.1,784.7 358.0,793.6 C358.9,802.5 361.3,843.1 362.0,853.4 C362.7,863.7 364.6,892.6 365.2,896.9 C365.8,901.2 367.0,899.2 367.6,896.1 C368.2,893.0 370.2,865.0 370.9,865.5 C371.6,866.0 374.2,897.6 374.9,901.0 C375.6,904.4 377.1,906.8 378.0,899.4 C378.9,892.0 382.7,839.8 383.8,827.5 C384.9,815.2 387.6,782.4 388.6,776.7 C389.7,771.0 393.2,771.1 394.3,770.2 C395.4,769.3 398.9,767.2 400.0,767.8 C401.1,768.4 404.7,773.6 405.6,775.9 C406.5,778.2 408.2,787.5 408.8,790.4 C409.4,793.3 411.3,797.0 412.0,804.9 C412.7,812.8 415.5,860.5 416.1,869.5 C416.8,878.5 418.0,894.1 418.5,894.5 C419.0,894.9 420.5,875.6 420.9,873.5 C421.3,871.4 422.0,870.5 422.5,873.5 C423.0,876.5 425.2,901.2 425.8,903.4 C426.4,905.6 428.3,901.1 429.0,895.3 C429.7,889.5 432.0,856.1 433.0,845.3 C434.0,834.5 437.6,793.7 438.7,787.2 C439.8,780.7 443.2,780.9 444.3,779.9 C445.4,778.9 448.7,777.3 450.0,777.5 C451.3,777.7 456.5,781.8 457.2,782.3" fill="none" stroke="#000" stroke-width="3.3" stroke-linejoin="round" stroke-linecap="round" />
<text x="62.1" y="720.9" font-size="29.5" text-anchor="start" font-weight="normal" fill="#1a1a1a" font-family='"Liberation Sans", sans-serif' > </text>
<path d="M515 0V1237L197 1010V1180L530 1409H696V0Z" fill="#1a1a1a" transform="translate(62.09 720.90) scale(0.01440 -0.01440)"/>
<text x="78.5" y="814.0" font-size="29.5" text-anchor="end" font-weight="normal" fill="#1a1a1a" font-family='"Liberation Sans", sans-serif' >0.5</text>
<text x="78.5" y="907.1" font-size="29.5" text-anchor="end" font-weight="normal" fill="#1a1a1a" font-family='"Liberation Sans", sans-serif' >0</text>
<text x="89.6" y="943.5" font-size="29.5" text-anchor="middle" font-weight="normal" fill="#1a1a1a" font-family='"Liberation Sans", sans-serif' >0</text>
<text x="248.8" y="943.5" font-size="29.5" text-anchor="start" font-weight="normal" fill="#1a1a1a" font-family='"Liberation Sans", sans-serif' > 00</text>
<path d="M515 0V1237L197 1010V1180L530 1409H696V0Z" fill="#1a1a1a" transform="translate(248.79 943.50) scale(0.01440 -0.01440)"/>
<text x="457.2" y="943.5" font-size="29.5" text-anchor="middle" font-weight="normal" fill="#1a1a1a" font-family='"Liberation Sans", sans-serif' >200</text>
<text x="272.5" y="984.0" font-size="30" text-anchor="middle" font-weight="normal" fill="#1a1a1a" font-family='"Liberation Sans", sans-serif' >t (<tspan font-style="italic" font-family='"Liberation Serif", serif'>δ</tspan>t)</text>
<text x="25.0" y="806.0" font-size="32" text-anchor="middle" font-weight="normal" fill="#1a1a1a" font-family='"Liberation Sans", sans-serif' transform="rotate(-90 25.0 806.0)" >Autocorrelation</text>
<rect x="89.7" y="382.1" width="366.8" height="193.1" fill="none" stroke="#505050" stroke-width="1.2"/>
<line x1="92.5" y1="575.2" x2="92.5" y2="572.2" stroke="#505050" stroke-width="1" />
<line x1="92.5" y1="382.1" x2="92.5" y2="385.1" stroke="#505050" stroke-width="1" />
<line x1="102.3" y1="575.2" x2="102.3" y2="572.2" stroke="#505050" stroke-width="1" />
<line x1="102.3" y1="382.1" x2="102.3" y2="385.1" stroke="#505050" stroke-width="1" />
<line x1="111.0" y1="575.2" x2="111.0" y2="572.2" stroke="#505050" stroke-width="1" />
<line x1="111.0" y1="382.1" x2="111.0" y2="385.1" stroke="#505050" stroke-width="1" />
<line x1="118.7" y1="575.2" x2="118.7" y2="570.7" stroke="#505050" stroke-width="1" />
<line x1="118.7" y1="382.1" x2="118.7" y2="386.6" stroke="#505050" stroke-width="1" />
<line x1="169.5" y1="575.2" x2="169.5" y2="572.2" stroke="#505050" stroke-width="1" />
<line x1="169.5" y1="382.1" x2="169.5" y2="385.1" stroke="#505050" stroke-width="1" />
<line x1="199.3" y1="575.2" x2="199.3" y2="572.2" stroke="#505050" stroke-width="1" />
<line x1="199.3" y1="382.1" x2="199.3" y2="385.1" stroke="#505050" stroke-width="1" />
<line x1="220.4" y1="575.2" x2="220.4" y2="572.2" stroke="#505050" stroke-width="1" />
<line x1="220.4" y1="382.1" x2="220.4" y2="385.1" stroke="#505050" stroke-width="1" />
<line x1="236.8" y1="575.2" x2="236.8" y2="572.2" stroke="#505050" stroke-width="1" />
<line x1="236.8" y1="382.1" x2="236.8" y2="385.1" stroke="#505050" stroke-width="1" />
<line x1="250.1" y1="575.2" x2="250.1" y2="572.2" stroke="#505050" stroke-width="1" />
<line x1="250.1" y1="382.1" x2="250.1" y2="385.1" stroke="#505050" stroke-width="1" />
<line x1="261.4" y1="575.2" x2="261.4" y2="572.2" stroke="#505050" stroke-width="1" />
<line x1="261.4" y1="382.1" x2="261.4" y2="385.1" stroke="#505050" stroke-width="1" />
<line x1="271.2" y1="575.2" x2="271.2" y2="572.2" stroke="#505050" stroke-width="1" />
<line x1="271.2" y1="382.1" x2="271.2" y2="385.1" stroke="#505050" stroke-width="1" />
<line x1="279.9" y1="575.2" x2="279.9" y2="572.2" stroke="#505050" stroke-width="1" />
<line x1="279.9" y1="382.1" x2="279.9" y2="385.1" stroke="#505050" stroke-width="1" />
<line x1="287.6" y1="575.2" x2="287.6" y2="570.7" stroke="#505050" stroke-width="1" />
<line x1="287.6" y1="382.1" x2="287.6" y2="386.6" stroke="#505050" stroke-width="1" />
<line x1="338.4" y1="575.2" x2="338.4" y2="572.2" stroke="#505050" stroke-width="1" />
<line x1="338.4" y1="382.1" x2="338.4" y2="385.1" stroke="#505050" stroke-width="1" />
<line x1="368.2" y1="575.2" x2="368.2" y2="572.2" stroke="#505050" stroke-width="1" />
<line x1="368.2" y1="382.1" x2="368.2" y2="385.1" stroke="#505050" stroke-width="1" />
<line x1="389.3" y1="575.2" x2="389.3" y2="572.2" stroke="#505050" stroke-width="1" />
<line x1="389.3" y1="382.1" x2="389.3" y2="385.1" stroke="#505050" stroke-width="1" />
<line x1="405.7" y1="575.2" x2="405.7" y2="572.2" stroke="#505050" stroke-width="1" />
<line x1="405.7" y1="382.1" x2="405.7" y2="385.1" stroke="#505050" stroke-width="1" />
<line x1="419.0" y1="575.2" x2="419.0" y2="572.2" stroke="#505050" stroke-width="1" />
<line x1="419.0" y1="382.1" x2="419.0" y2="385.1" stroke="#505050" stroke-width="1" />
<line x1="430.3" y1="575.2" x2="430.3" y2="572.2" stroke="#505050" stroke-width="1" />
<line x1="430.3" y1="382.1" x2="430.3" y2="385.1" stroke="#505050" stroke-width="1" />
<line x1="440.1" y1="575.2" x2="440.1" y2="572.2" stroke="#505050" stroke-width="1" />
<line x1="440.1" y1="382.1" x2="440.1" y2="385.1" stroke="#505050" stroke-width="1" />
<line x1="448.8" y1="575.2" x2="448.8" y2="572.2" stroke="#505050" stroke-width="1" />
<line x1="448.8" y1="382.1" x2="448.8" y2="385.1" stroke="#505050" stroke-width="1" />
<line x1="89.7" y1="550.5" x2="94.2" y2="550.5" stroke="#505050" stroke-width="1.2" />
<line x1="456.5" y1="550.5" x2="452.0" y2="550.5" stroke="#505050" stroke-width="1.2" />
<line x1="89.7" y1="466.3" x2="94.2" y2="466.3" stroke="#505050" stroke-width="1.2" />
<line x1="456.5" y1="466.3" x2="452.0" y2="466.3" stroke="#505050" stroke-width="1.2" />
<line x1="89.7" y1="382.1" x2="94.2" y2="382.1" stroke="#505050" stroke-width="1.2" />
<line x1="456.5" y1="382.1" x2="452.0" y2="382.1" stroke="#505050" stroke-width="1.2" />
<line x1="90.3" y1="420.0" x2="455.9" y2="420.0" stroke="#b01c22" stroke-width="6" stroke-linecap="butt"/>
<line x1="90.3" y1="429.0" x2="455.9" y2="429.0" stroke="#3f6fb5" stroke-width="6" stroke-linecap="butt"/>
<circle cx="89.7" cy="575.2" r="10.3" fill="#e3e3e3" stroke="#000" stroke-width="4.1"/>
<circle cx="129.7" cy="561.7" r="10.3" fill="#e3e3e3" stroke="#000" stroke-width="4.1"/>
<circle cx="171.3" cy="534.5" r="10.3" fill="#e3e3e3" stroke="#000" stroke-width="4.1"/>
<circle cx="211.3" cy="509.6" r="10.3" fill="#e3e3e3" stroke="#000" stroke-width="4.1"/>
<circle cx="253.0" cy="490.3" r="10.3" fill="#e3e3e3" stroke="#000" stroke-width="4.1"/>
<circle cx="293.0" cy="475.0" r="10.3" fill="#e3e3e3" stroke="#000" stroke-width="4.1"/>
<circle cx="334.0" cy="467.3" r="10.3" fill="#e3e3e3" stroke="#000" stroke-width="4.1"/>
<circle cx="375.3" cy="454.5" r="10.3" fill="#e3e3e3" stroke="#000" stroke-width="4.1"/>
<circle cx="416.3" cy="446.5" r="10.3" fill="#e3e3e3" stroke="#000" stroke-width="4.1"/>
<circle cx="457.3" cy="439.4" r="10.3" fill="#e3e3e3" stroke="#000" stroke-width="4.1"/>
<text x="78.5" y="561.0" font-size="29.5" text-anchor="end" font-weight="normal" fill="#1a1a1a" font-family='"Liberation Sans", sans-serif' >0.8</text>
<text x="78.5" y="476.8" font-size="29.5" text-anchor="end" font-weight="normal" fill="#1a1a1a" font-family='"Liberation Sans", sans-serif' >0.9</text>
<text x="62.1" y="392.6" font-size="29.5" text-anchor="start" font-weight="normal" fill="#1a1a1a" font-family='"Liberation Sans", sans-serif' > </text>
<path d="M515 0V1237L197 1010V1180L530 1409H696V0Z" fill="#1a1a1a" transform="translate(62.09 392.60) scale(0.01440 -0.01440)"/>
<text x="93.0" y="622.9" font-size="29.5" text-anchor="start" font-weight="normal" fill="#1a1a1a" font-family='"Liberation Sans", sans-serif' > 0<tspan dy="-14.5" font-size="23.5">-2</tspan></text>
<path d="M515 0V1237L197 1010V1180L530 1409H696V0Z" fill="#1a1a1a" transform="translate(93.00 622.90) scale(0.01440 -0.01440)"/>
<text x="435.0" y="622.9" font-size="29.5" text-anchor="start" font-weight="normal" fill="#1a1a1a" font-family='"Liberation Sans", sans-serif' > 0<tspan dy="-14.5" font-size="23.5">0</tspan></text>
<path d="M515 0V1237L197 1010V1180L530 1409H696V0Z" fill="#1a1a1a" transform="translate(435.00 622.90) scale(0.01440 -0.01440)"/>
<text x="271.0" y="633.0" font-size="34" text-anchor="middle" font-weight="normal" fill="#1a1a1a" font-family='"Liberation Serif", serif' font-style="italic">α</text>
<rect x="145.5" y="347.8" width="276.0" height="57.6" fill="#fff" stroke="#505050" stroke-width="1.2"/>
<line x1="152.1" y1="376.6" x2="162.7" y2="376.6" stroke="#b01c22" stroke-width="6" stroke-linecap="butt"/>
<text x="167.0" y="385.8" font-size="25.5" text-anchor="start" font-weight="normal" fill="#1a1a1a" font-family='"Liberation Sans", sans-serif' >ESN</text>
<text x="220.5" y="372.1" font-size="20" text-anchor="start" font-weight="normal" fill="#1a1a1a" font-family='"Liberation Sans", sans-serif' >c</text>
<text x="220.0" y="398.1" font-size="20" text-anchor="start" font-weight="normal" fill="#1a1a1a" font-family='"Liberation Sans", sans-serif' >2</text>
<line x1="245.1" y1="376.6" x2="255.8" y2="376.6" stroke="#3f6fb5" stroke-width="6" stroke-linecap="butt"/>
<text x="260.0" y="385.8" font-size="25.5" text-anchor="start" font-weight="normal" fill="#1a1a1a" font-family='"Liberation Sans", sans-serif' >ESN</text>
<text x="314.0" y="372.1" font-size="20" text-anchor="start" font-weight="normal" fill="#1a1a1a" font-family='"Liberation Sans", sans-serif' >u</text>
<text x="314.0" y="398.1" font-size="20" text-anchor="start" font-weight="normal" fill="#1a1a1a" font-family='"Liberation Sans", sans-serif' >2</text>
<circle cx="343.5" cy="376.4" r="10.3" fill="#e3e3e3" stroke="#000" stroke-width="4.1"/>
<text x="360.0" y="385.8" font-size="25.5" text-anchor="start" font-weight="normal" fill="#1a1a1a" font-family='"Liberation Sans", sans-serif' >ESN</text>
<text x="25.0" y="478.5" font-size="32" text-anchor="middle" font-weight="normal" fill="#1a1a1a" font-family='"Liberation Sans", sans-serif' transform="rotate(-90 25.0 478.5)" >Accuracy</text>
<rect x="89.7" y="1039.0" width="367.2" height="192.2" fill="none" stroke="#505050" stroke-width="1.2"/>
<line x1="92.9" y1="1231.2" x2="92.9" y2="1228.2" stroke="#505050" stroke-width="1" />
<line x1="92.9" y1="1039.0" x2="92.9" y2="1042.0" stroke="#505050" stroke-width="1" />
<line x1="102.7" y1="1231.2" x2="102.7" y2="1228.2" stroke="#505050" stroke-width="1" />
<line x1="102.7" y1="1039.0" x2="102.7" y2="1042.0" stroke="#505050" stroke-width="1" />
<line x1="111.4" y1="1231.2" x2="111.4" y2="1228.2" stroke="#505050" stroke-width="1" />
<line x1="111.4" y1="1039.0" x2="111.4" y2="1042.0" stroke="#505050" stroke-width="1" />
<line x1="119.1" y1="1231.2" x2="119.1" y2="1226.7" stroke="#505050" stroke-width="1" />
<line x1="119.1" y1="1039.0" x2="119.1" y2="1043.5" stroke="#505050" stroke-width="1" />
<line x1="169.9" y1="1231.2" x2="169.9" y2="1228.2" stroke="#505050" stroke-width="1" />
<line x1="169.9" y1="1039.0" x2="169.9" y2="1042.0" stroke="#505050" stroke-width="1" />
<line x1="199.7" y1="1231.2" x2="199.7" y2="1228.2" stroke="#505050" stroke-width="1" />
<line x1="199.7" y1="1039.0" x2="199.7" y2="1042.0" stroke="#505050" stroke-width="1" />
<line x1="220.8" y1="1231.2" x2="220.8" y2="1228.2" stroke="#505050" stroke-width="1" />
<line x1="220.8" y1="1039.0" x2="220.8" y2="1042.0" stroke="#505050" stroke-width="1" />
<line x1="237.2" y1="1231.2" x2="237.2" y2="1228.2" stroke="#505050" stroke-width="1" />
<line x1="237.2" y1="1039.0" x2="237.2" y2="1042.0" stroke="#505050" stroke-width="1" />
<line x1="250.5" y1="1231.2" x2="250.5" y2="1228.2" stroke="#505050" stroke-width="1" />
<line x1="250.5" y1="1039.0" x2="250.5" y2="1042.0" stroke="#505050" stroke-width="1" />
<line x1="261.8" y1="1231.2" x2="261.8" y2="1228.2" stroke="#505050" stroke-width="1" />
<line x1="261.8" y1="1039.0" x2="261.8" y2="1042.0" stroke="#505050" stroke-width="1" />
<line x1="271.6" y1="1231.2" x2="271.6" y2="1228.2" stroke="#505050" stroke-width="1" />
<line x1="271.6" y1="1039.0" x2="271.6" y2="1042.0" stroke="#505050" stroke-width="1" />
<line x1="280.3" y1="1231.2" x2="280.3" y2="1228.2" stroke="#505050" stroke-width="1" />
<line x1="280.3" y1="1039.0" x2="280.3" y2="1042.0" stroke="#505050" stroke-width="1" />
<line x1="288.0" y1="1231.2" x2="288.0" y2="1226.7" stroke="#505050" stroke-width="1" />
<line x1="288.0" y1="1039.0" x2="288.0" y2="1043.5" stroke="#505050" stroke-width="1" />
<line x1="338.8" y1="1231.2" x2="338.8" y2="1228.2" stroke="#505050" stroke-width="1" />
<line x1="338.8" y1="1039.0" x2="338.8" y2="1042.0" stroke="#505050" stroke-width="1" />
<line x1="368.6" y1="1231.2" x2="368.6" y2="1228.2" stroke="#505050" stroke-width="1" />
<line x1="368.6" y1="1039.0" x2="368.6" y2="1042.0" stroke="#505050" stroke-width="1" />
<line x1="389.7" y1="1231.2" x2="389.7" y2="1228.2" stroke="#505050" stroke-width="1" />
<line x1="389.7" y1="1039.0" x2="389.7" y2="1042.0" stroke="#505050" stroke-width="1" />
<line x1="406.1" y1="1231.2" x2="406.1" y2="1228.2" stroke="#505050" stroke-width="1" />
<line x1="406.1" y1="1039.0" x2="406.1" y2="1042.0" stroke="#505050" stroke-width="1" />
<line x1="419.4" y1="1231.2" x2="419.4" y2="1228.2" stroke="#505050" stroke-width="1" />
<line x1="419.4" y1="1039.0" x2="419.4" y2="1042.0" stroke="#505050" stroke-width="1" />
<line x1="430.7" y1="1231.2" x2="430.7" y2="1228.2" stroke="#505050" stroke-width="1" />
<line x1="430.7" y1="1039.0" x2="430.7" y2="1042.0" stroke="#505050" stroke-width="1" />
<line x1="440.5" y1="1231.2" x2="440.5" y2="1228.2" stroke="#505050" stroke-width="1" />
<line x1="440.5" y1="1039.0" x2="440.5" y2="1042.0" stroke="#505050" stroke-width="1" />
<line x1="449.2" y1="1231.2" x2="449.2" y2="1228.2" stroke="#505050" stroke-width="1" />
<line x1="449.2" y1="1039.0" x2="449.2" y2="1042.0" stroke="#505050" stroke-width="1" />
<line x1="89.7" y1="1220.0" x2="94.2" y2="1220.0" stroke="#505050" stroke-width="1.2" />
<line x1="456.9" y1="1220.0" x2="452.4" y2="1220.0" stroke="#505050" stroke-width="1.2" />
<line x1="89.7" y1="1039.0" x2="94.2" y2="1039.0" stroke="#505050" stroke-width="1.2" />
<line x1="456.9" y1="1039.0" x2="452.4" y2="1039.0" stroke="#505050" stroke-width="1.2" />
<line x1="90.3" y1="1072.7" x2="456.3" y2="1072.7" stroke="#b01c22" stroke-width="6" stroke-linecap="butt"/>
<line x1="90.3" y1="1087.1" x2="456.3" y2="1087.1" stroke="#3f6fb5" stroke-width="6" stroke-linecap="butt"/>
<circle cx="89.7" cy="1231.2" r="10.3" fill="#e3e3e3" stroke="#000" stroke-width="4.1"/>
<circle cx="129.7" cy="1206.2" r="10.3" fill="#e3e3e3" stroke="#000" stroke-width="4.1"/>
<circle cx="171.3" cy="1186.3" r="10.3" fill="#e3e3e3" stroke="#000" stroke-width="4.1"/>
<circle cx="211.3" cy="1169.4" r="10.3" fill="#e3e3e3" stroke="#000" stroke-width="4.1"/>
<circle cx="253.0" cy="1147.3" r="10.3" fill="#e3e3e3" stroke="#000" stroke-width="4.1"/>
<circle cx="293.0" cy="1133.5" r="10.3" fill="#e3e3e3" stroke="#000" stroke-width="4.1"/>
<circle cx="334.0" cy="1128.1" r="10.3" fill="#e3e3e3" stroke="#000" stroke-width="4.1"/>
<circle cx="375.3" cy="1123.3" r="10.3" fill="#e3e3e3" stroke="#000" stroke-width="4.1"/>
<circle cx="416.3" cy="1121.3" r="10.3" fill="#e3e3e3" stroke="#000" stroke-width="4.1"/>
<circle cx="457.3" cy="1105.3" r="10.3" fill="#e3e3e3" stroke="#000" stroke-width="4.1"/>
<text x="78.5" y="1230.5" font-size="29.5" text-anchor="end" font-weight="normal" fill="#1a1a1a" font-family='"Liberation Sans", sans-serif' >0.5</text>
<text x="62.1" y="1049.5" font-size="29.5" text-anchor="start" font-weight="normal" fill="#1a1a1a" font-family='"Liberation Sans", sans-serif' > </text>
<path d="M515 0V1237L197 1010V1180L530 1409H696V0Z" fill="#1a1a1a" transform="translate(62.09 1049.50) scale(0.01440 -0.01440)"/>
<text x="93.0" y="1279.2" font-size="29.5" text-anchor="start" font-weight="normal" fill="#1a1a1a" font-family='"Liberation Sans", sans-serif' > 0<tspan dy="-14.5" font-size="23.5">-2</tspan></text>
<path d="M515 0V1237L197 1010V1180L530 1409H696V0Z" fill="#1a1a1a" transform="translate(93.00 1279.20) scale(0.01440 -0.01440)"/>
<text x="435.0" y="1279.2" font-size="29.5" text-anchor="start" font-weight="normal" fill="#1a1a1a" font-family='"Liberation Sans", sans-serif' > 0<tspan dy="-14.5" font-size="23.5">0</tspan></text>
<path d="M515 0V1237L197 1010V1180L530 1409H696V0Z" fill="#1a1a1a" transform="translate(435.00 1279.20) scale(0.01440 -0.01440)"/>
<text x="271.0" y="1295.5" font-size="34" text-anchor="middle" font-weight="normal" fill="#1a1a1a" font-family='"Liberation Serif", serif' font-style="italic">α</text>
<rect x="138.6" y="1001.3" width="276.1" height="57.6" fill="#fff" stroke="#505050" stroke-width="1.2"/>
<line x1="145.2" y1="1030.1" x2="155.8" y2="1030.1" stroke="#b01c22" stroke-width="6" stroke-linecap="butt"/>
<text x="160.1" y="1039.3" font-size="25.5" text-anchor="start" font-weight="normal" fill="#1a1a1a" font-family='"Liberation Sans", sans-serif' >ESN</text>
<text x="213.6" y="1025.6" font-size="20" text-anchor="start" font-weight="normal" fill="#1a1a1a" font-family='"Liberation Sans", sans-serif' >c</text>
<text x="213.1" y="1051.6" font-size="20" text-anchor="start" font-weight="normal" fill="#1a1a1a" font-family='"Liberation Sans", sans-serif' >2</text>
<line x1="238.2" y1="1030.1" x2="248.9" y2="1030.1" stroke="#3f6fb5" stroke-width="6" stroke-linecap="butt"/>
<text x="253.1" y="1039.3" font-size="25.5" text-anchor="start" font-weight="normal" fill="#1a1a1a" font-family='"Liberation Sans", sans-serif' >ESN</text>
<text x="307.1" y="1025.6" font-size="20" text-anchor="start" font-weight="normal" fill="#1a1a1a" font-family='"Liberation Sans", sans-serif' >u</text>
<text x="307.1" y="1051.6" font-size="20" text-anchor="start" font-weight="normal" fill="#1a1a1a" font-family='"Liberation Sans", sans-serif' >2</text>
<circle cx="336.6" cy="1029.9" r="10.3" fill="#e3e3e3" stroke="#000" stroke-width="4.1"/>
<text x="353.1" y="1039.3" font-size="25.5" text-anchor="start" font-weight="normal" fill="#1a1a1a" font-family='"Liberation Sans", sans-serif' >ESN</text>
<text x="25.0" y="1135.0" font-size="32" text-anchor="middle" font-weight="normal" fill="#1a1a1a" font-family='"Liberation Sans", sans-serif' transform="rotate(-90 25.0 1135.0)" >Accuracy</text>
<text x="67.0" y="1006.9" font-size="31" text-anchor="start" font-weight="normal" fill="#1a1a1a" font-family='"Liberation Sans", sans-serif' >D</text>
<path d="M611.8,53.0 C612.3,54.8 612.8,61.0 614.9,63.8 C617.0,66.6 618.7,67.7 624.1,70.0 C629.5,72.3 639.5,75.9 647.2,77.7 C654.9,79.5 663.8,80.2 670.2,80.7 C676.6,81.2 680.5,81.1 685.6,80.7 C690.7,80.3 695.9,78.7 701.0,78.4 C706.1,78.1 711.3,78.5 716.4,78.9 C721.5,79.3 726.6,80.0 731.7,80.7 C736.8,81.4 742.4,82.7 747.1,83.1 C751.8,83.5 755.8,82.7 760.0,83.1 C764.2,83.5 766.4,86.1 772.3,85.4 C778.2,84.8 787.2,80.1 795.4,79.2 C803.6,78.3 814.6,80.5 821.5,80.0 C828.4,79.5 832.5,77.5 836.9,76.1 C841.2,74.7 844.8,73.2 847.6,71.5 C850.4,69.8 850.5,67.0 853.8,66.1 C857.1,65.2 861.5,65.6 867.6,66.1 C873.8,66.6 884.3,67.5 890.7,69.2 C897.1,70.9 901.6,73.7 906.0,76.1 C910.4,78.5 914.2,81.0 916.8,83.8 C919.4,86.6 920.2,89.9 921.4,93.0 C922.5,96.1 926.3,99.7 923.7,102.3 C921.1,104.9 910.0,105.9 906.0,108.4 C902.0,111.0 901.0,114.0 899.9,117.6 C898.8,121.2 900.9,125.3 899.1,129.9 C897.3,134.5 889.7,140.2 889.1,145.3 C888.5,150.4 893.5,156.1 895.3,160.7 C897.1,165.3 899.6,167.9 899.9,173.0 C900.1,178.1 897.3,186.3 896.8,191.4 C896.3,196.5 895.3,199.1 896.8,203.7 C898.3,208.3 901.1,215.0 906.0,219.1 C910.9,223.2 918.9,226.1 926.0,228.3 C933.1,230.5 944.8,231.5 948.5,232.2" fill="none" stroke="#111" stroke-width="1.3" stroke-linejoin="round" stroke-linecap="round" />
<path d="M580.8,94.9 C585.4,95.6 598.9,97.7 608.7,99.2 C618.5,100.7 629.2,102.1 639.5,103.8 C649.8,105.5 660.0,107.2 670.2,109.2 C680.5,111.2 689.5,114.8 701.0,116.1 C712.5,117.4 730.4,117.4 739.4,116.9 C748.4,116.4 751.2,114.9 754.8,113.0 C758.4,111.1 759.3,106.7 760.9,105.3 C762.5,103.9 759.6,104.1 764.6,104.6 C769.6,105.1 781.2,106.7 790.7,108.4 C800.2,110.1 814.3,112.3 821.5,114.6 C828.7,116.9 830.2,119.0 833.8,122.3 C837.4,125.6 840.2,130.0 843.0,134.6 C845.8,139.2 852.2,146.3 850.7,149.9 C849.2,153.5 837.6,153.8 833.8,156.1 C829.9,158.4 828.6,159.5 827.6,163.8 C826.6,168.2 826.1,177.1 827.6,182.2 C829.1,187.3 832.8,189.6 836.9,194.5 C841.0,199.4 848.1,205.8 852.2,211.4 C856.3,217.0 858.5,222.4 861.5,228.3 C864.5,234.2 868.5,243.8 869.9,246.9" fill="none" stroke="#111" stroke-width="1.3" stroke-linejoin="round" stroke-linecap="round" />
<path d="M580.8,120.0 C584.2,121.4 593.9,126.1 601.1,128.4 C608.3,130.7 615.1,132.3 624.1,133.8 C633.1,135.3 644.6,135.9 654.9,137.6 C665.1,139.3 675.4,142.0 685.6,143.8 C695.9,145.6 708.7,147.6 716.4,148.4 C724.1,149.2 727.6,149.7 731.7,148.4 C735.8,147.1 736.3,142.8 741.0,140.7 C745.7,138.6 753.0,137.9 760.0,136.1 C767.0,134.3 776.2,129.7 783.1,129.9 C790.0,130.2 799.0,135.0 801.5,137.6 C804.0,140.2 801.5,141.5 798.4,145.3 C795.3,149.2 788.2,157.0 783.1,160.7 C778.0,164.4 770.4,165.5 767.7,167.6 C765.0,169.7 766.1,170.1 766.9,173.0 C767.7,175.9 768.8,180.2 772.3,185.3 C775.8,190.4 783.9,197.3 787.7,203.7 C791.6,210.1 791.8,218.1 795.4,223.7 C799.0,229.3 804.3,233.6 809.2,237.5 C814.1,241.4 822.0,245.3 824.6,246.9" fill="none" stroke="#111" stroke-width="1.3" stroke-linejoin="round" stroke-linecap="round" />
<path d="M580.8,154.2 C588.0,154.5 611.8,155.1 624.1,156.1 C636.5,157.1 644.6,158.1 654.9,159.9 C665.1,161.7 676.6,164.6 685.6,166.8 C694.6,169.0 702.6,170.7 708.7,173.0 C714.9,175.3 718.7,178.6 722.5,180.7 C726.3,182.8 728.1,182.5 731.7,185.3 C735.3,188.1 740.7,193.0 744.0,197.6 C747.3,202.2 749.7,207.4 751.7,213.0 C753.8,218.6 755.1,225.8 756.3,231.4 C757.4,237.1 758.2,244.3 758.6,246.9" fill="none" stroke="#111" stroke-width="1.3" stroke-linejoin="round" stroke-linecap="round" />
<path d="M580.8,175.3 C585.4,175.7 599.4,177.2 608.7,177.6 C618.0,178.0 629.2,177.8 636.4,177.6 C643.6,177.3 646.2,175.7 651.8,176.1 C657.4,176.5 664.6,178.5 670.2,179.9 C675.8,181.3 679.2,181.8 685.6,184.5 C692.0,187.2 703.8,192.0 708.7,196.0 C713.6,200.0 714.5,204.5 714.8,208.3 C715.0,212.2 710.7,214.7 710.2,219.1 C709.7,223.5 710.7,229.9 711.7,234.5 C712.7,239.1 715.6,244.8 716.4,246.9" fill="none" stroke="#111" stroke-width="1.3" stroke-linejoin="round" stroke-linecap="round" />
<path d="M580.8,192.2 C584.2,191.8 593.9,190.2 601.1,189.9 C608.3,189.7 615.1,190.8 624.1,190.7 C633.1,190.6 646.5,188.7 654.9,189.1 C663.3,189.5 669.7,191.6 674.8,193.0 C679.9,194.4 683.3,195.3 685.6,197.6 C687.9,199.9 688.5,201.9 688.7,206.8 C689.0,211.7 687.6,220.1 687.1,226.8 C686.6,233.5 685.9,243.6 685.6,246.9" fill="none" stroke="#111" stroke-width="1.3" stroke-linejoin="round" stroke-linecap="round" />
<path d="M580.8,206.0 C585.4,205.6 598.9,204.2 608.7,203.7 C618.5,203.2 631.0,203.0 639.5,203.0 C648.0,203.0 655.5,202.5 659.5,203.7 C663.5,204.8 662.8,205.8 663.3,209.9 C663.8,214.0 663.5,222.1 662.6,228.3 C661.7,234.5 658.7,243.8 657.9,246.9" fill="none" stroke="#111" stroke-width="1.3" stroke-linejoin="round" stroke-linecap="round" />
<path d="M580.8,218.3 C585.4,218.3 601.5,217.9 608.7,218.3 C615.9,218.7 620.2,219.2 624.1,220.6 C628.0,222.0 630.3,224.5 631.8,226.8 C633.3,229.1 632.7,231.2 633.3,234.5 C633.9,237.8 635.2,244.8 635.6,246.9" fill="none" stroke="#111" stroke-width="1.3" stroke-linejoin="round" stroke-linecap="round" />
<ellipse cx="586.5" cy="128.4" rx="3.5" ry="1.8" fill="none" stroke="#111" stroke-width="1.3"/>
<ellipse cx="805.5" cy="243.7" rx="3.0" ry="2.0" fill="none" stroke="#111" stroke-width="1.3"/>
<line x1="580.8" y1="53.0" x2="580.8" y2="246.9" stroke="#888" stroke-width="1" />
<line x1="580.8" y1="246.9" x2="948.5" y2="246.9" stroke="#888" stroke-width="1" />
<path d="M585.0,412.2 C591.0,412.6 610.1,414.4 620.7,414.7 C631.3,415.0 641.1,414.9 648.4,414.2 C655.7,413.5 657.1,411.5 664.7,410.6 C672.3,409.7 685.1,409.1 694.1,408.6 C703.1,408.1 710.4,407.6 718.5,407.7 C726.6,407.8 734.4,409.1 743.0,409.0 C751.6,408.9 763.6,408.1 770.0,407.3 C776.4,406.5 776.7,406.0 781.3,404.1 C785.9,402.2 793.5,398.3 797.6,395.9 C801.7,393.4 802.2,391.3 805.7,389.4 C809.2,387.5 816.1,385.5 818.8,384.5 C821.5,383.5 821.5,383.5 822.0,383.3" fill="none" stroke="#111" stroke-width="1.3" stroke-linejoin="round" stroke-linecap="round" />
<path d="M585.0,441.5 C592.3,441.6 618.3,442.9 628.9,442.4 C639.5,441.9 638.9,439.4 648.4,438.3 C657.9,437.2 676.1,436.9 685.9,435.8 C695.7,434.7 700.3,432.5 707.1,431.8 C713.9,431.1 716.1,431.3 726.6,431.4 C737.1,431.5 758.2,432.3 770.0,432.6 C781.8,432.9 787.6,432.2 797.6,433.4 C807.6,434.6 822.9,437.2 830.2,439.9 C837.5,442.6 837.8,445.3 841.6,449.7 C845.4,454.1 849.5,461.4 853.0,466.0 C856.5,470.6 859.5,474.7 862.8,477.4 C866.1,480.1 869.3,482.3 872.6,482.3 C875.9,482.3 878.6,478.8 882.4,477.4 C886.2,476.0 891.3,475.7 895.4,474.2 C899.5,472.7 903.5,470.9 906.8,468.5 C910.1,466.1 912.4,462.4 915.0,459.5 C917.6,456.6 920.8,453.6 922.3,451.4 C923.8,449.2 924.3,448.4 923.9,446.5 C923.5,444.6 923.3,441.9 919.9,439.9 C916.5,437.8 910.3,435.5 903.5,434.2 C896.7,432.9 884.8,432.6 879.1,431.8 C873.4,431.0 872.0,430.7 869.3,429.3 C866.6,427.9 864.1,425.4 862.8,423.6 C861.4,421.9 859.8,419.1 861.2,418.8 C862.6,418.5 865.6,422.0 871.0,421.7 C876.4,421.4 889.2,419.0 893.8,417.1 C898.4,415.2 897.4,412.8 898.7,410.6 C900.1,408.4 900.8,405.9 901.9,404.1 C903.0,402.3 904.1,400.3 905.2,400.0 C906.3,399.7 904.6,401.4 908.4,402.4 C912.2,403.3 922.6,404.3 928.0,405.7 C933.4,407.1 936.7,409.8 941.0,410.6 C945.3,411.4 951.8,410.6 954.0,410.6" fill="none" stroke="#111" stroke-width="1.3" stroke-linejoin="round" stroke-linecap="round" />
<path d="M585.0,486.4 C592.3,487.3 613.4,491.2 628.9,492.1 C644.4,493.1 664.2,493.1 677.8,492.1 C691.4,491.2 698.4,488.1 710.4,486.4 C722.4,484.7 739.6,481.5 749.5,482.0 C759.4,482.5 764.7,487.1 770.0,489.6 C775.3,492.1 775.3,494.4 781.3,497.0 C787.2,499.6 797.6,502.5 805.7,505.1 C813.9,507.7 823.4,511.7 830.2,512.5 C837.0,513.3 841.9,511.4 846.5,510.0 C851.1,508.6 852.5,505.0 857.9,504.3 C863.3,503.6 872.3,505.6 879.1,506.0 C885.9,506.4 893.3,508.2 898.7,506.8 C904.1,505.4 906.8,499.4 911.7,497.8 C916.6,496.2 921.0,496.2 928.0,497.0 C935.0,497.8 949.7,501.8 954.0,502.7" fill="none" stroke="#111" stroke-width="1.3" stroke-linejoin="round" stroke-linecap="round" />
<path d="M585.0,508.4 C592.3,509.7 613.4,514.3 628.9,516.2 C644.4,518.1 664.2,518.5 677.8,519.8 C691.4,521.1 700.9,522.6 710.4,523.8 C719.9,525.0 726.7,527.0 734.8,527.1 C742.9,527.2 750.9,525.3 759.2,524.7 C767.5,524.1 775.5,522.7 784.6,523.6 C793.7,524.5 805.0,528.6 813.9,530.4 C822.8,532.2 828.8,533.4 838.3,534.5 C847.8,535.6 860.1,536.2 871.0,536.9 C881.9,537.6 894.0,539.0 903.5,538.6 C913.0,538.2 921.8,535.7 928.0,534.5 C934.2,533.3 936.7,531.9 941.0,531.2 C945.3,530.5 951.8,530.5 954.0,530.4" fill="none" stroke="#111" stroke-width="1.3" stroke-linejoin="round" stroke-linecap="round" />
<path d="M585.0,533.6 C593.7,534.5 618.8,538.5 637.0,539.3 C655.2,540.1 679.2,538.0 694.1,538.5 C709.0,539.0 718.5,541.1 726.6,542.6 C734.7,544.1 735.7,546.3 742.9,547.5 C750.1,548.7 758.2,549.2 770.0,549.9 C781.8,550.6 798.4,550.9 813.9,551.6 C829.4,552.3 847.9,553.0 862.8,554.0 C877.7,555.0 894.8,557.3 903.5,557.3 C912.2,557.3 910.9,556.0 915.0,554.0 C919.1,552.0 921.5,546.9 928.0,545.1 C934.5,543.3 949.7,543.7 954.0,543.4" fill="none" stroke="#111" stroke-width="1.3" stroke-linejoin="round" stroke-linecap="round" />
<path d="M585.0,545.8 C592.3,546.9 613.4,550.5 628.9,552.4 C644.4,554.3 664.2,555.5 677.8,557.2 C691.4,559.0 699.5,561.8 710.4,562.9 C721.2,564.0 733.0,563.2 742.9,563.8 C752.8,564.4 758.2,566.2 770.0,566.5 C781.8,566.8 798.4,565.7 813.9,565.5 C829.4,565.3 847.9,565.2 862.8,565.5 C877.7,565.8 893.7,567.1 903.5,567.1 C913.3,567.1 916.3,568.5 921.5,565.5 C926.7,562.5 929.1,552.0 934.5,549.1 C939.9,546.2 950.8,548.4 954.0,548.3" fill="none" stroke="#111" stroke-width="1.3" stroke-linejoin="round" stroke-linecap="round" />
<path d="M585.0,555.6 C592.3,557.5 616.1,564.0 628.9,567.0 C641.6,570.0 650.6,571.3 661.5,573.5 C672.4,575.7 685.7,578.1 694.1,580.0 C702.5,581.9 709.0,583.8 712.0,584.6" fill="none" stroke="#111" stroke-width="1.3" stroke-linejoin="round" stroke-linecap="round" />
<path d="M812.3,584.6 C813.9,583.3 813.6,578.5 822.0,576.9 C830.4,575.3 850.6,576.0 862.8,575.2 C875.0,574.4 885.6,572.8 895.4,572.0 C905.2,571.2 915.0,572.5 921.5,570.3 C928.0,568.1 930.7,561.6 934.5,558.9 C938.3,556.2 941.0,555.1 944.3,554.0 C947.5,552.9 952.4,552.7 954.0,552.4" fill="none" stroke="#111" stroke-width="1.3" stroke-linejoin="round" stroke-linecap="round" />
<path d="M585.0,567.8 C589.6,568.5 601.8,569.1 612.6,571.9 C623.5,574.7 643.9,582.5 650.1,584.6" fill="none" stroke="#111" stroke-width="1.3" stroke-linejoin="round" stroke-linecap="round" />
<path d="M900.3,584.6 C904.9,583.9 921.8,581.9 928.0,580.1 C934.2,578.3 935.3,576.9 937.8,573.6 C940.2,570.4 940.0,563.1 942.7,560.6 C945.4,558.1 952.1,559.2 954.0,558.9" fill="none" stroke="#111" stroke-width="1.3" stroke-linejoin="round" stroke-linecap="round" />
<path d="M944.3,584.6 C944.3,584.0 943.8,584.1 944.3,580.9 C944.8,577.7 946.0,568.8 947.6,565.4 C949.2,562.0 952.9,561.4 954.0,560.6" fill="none" stroke="#111" stroke-width="1.3" stroke-linejoin="round" stroke-linecap="round" />
<path d="M944.3,383.3 C944.9,384.0 946.4,385.9 948.0,387.5 C949.6,389.1 953.0,391.8 954.0,392.7" fill="none" stroke="#111" stroke-width="1.3" stroke-linejoin="round" stroke-linecap="round" />
<path d="M954.0,468.0 C953.4,468.7 951.1,470.7 950.5,472.0 C949.9,473.3 949.9,474.7 950.5,476.0 C951.1,477.3 953.4,479.3 954.0,480.0" fill="none" stroke="#111" stroke-width="1.3" stroke-linejoin="round" stroke-linecap="round" />
<line x1="585.0" y1="383.3" x2="585.0" y2="584.6" stroke="#888" stroke-width="1" />
<line x1="585.0" y1="584.6" x2="954.0" y2="584.6" stroke="#888" stroke-width="1" />
<path d="M580.8,734.3 C588.1,734.5 608.4,734.9 624.8,735.4 C641.2,735.9 663.8,737.1 679.4,737.4 C695.0,737.7 707.2,736.9 718.4,737.0 C729.6,737.1 739.6,738.2 746.5,738.2 C753.4,738.2 751.2,737.2 760.0,737.0 C768.8,736.8 788.6,737.5 799.0,737.0 C809.4,736.5 812.0,734.4 822.4,733.9 C832.8,733.4 853.1,733.6 861.4,733.9 C869.7,734.1 867.1,733.7 872.3,735.4 C877.5,737.1 887.7,741.0 892.6,744.0 C897.5,747.0 900.2,749.0 901.9,753.4 C903.6,757.8 903.5,765.0 902.7,770.5 C901.9,776.0 898.6,780.1 897.3,786.1 C896.0,792.1 895.2,797.8 894.9,806.4 C894.6,815.0 895.3,828.5 895.7,837.6 C896.1,846.7 896.4,853.2 897.3,861.0 C898.2,868.8 900.6,877.3 901.2,884.4 C901.9,891.5 901.2,900.3 901.2,903.5" fill="none" stroke="#111" stroke-width="1.3" stroke-linejoin="round" stroke-linecap="round" />
<path d="M580.8,757.3 C585.5,757.4 598.0,757.4 609.2,758.0 C620.4,758.6 635.2,760.4 648.2,760.8 C661.2,761.2 672.9,760.1 687.2,760.4 C701.5,760.7 721.9,762.0 734.0,762.4 C746.1,762.8 751.8,762.8 760.0,762.7 C768.2,762.6 775.6,760.9 783.4,761.9 C791.2,762.9 799.8,766.3 806.8,769.0 C813.8,771.7 819.8,775.4 825.5,778.3 C831.2,781.1 837.1,782.9 841.1,786.1 C845.1,789.4 848.4,793.1 849.7,797.8 C851.0,802.5 848.5,806.3 848.9,814.2 C849.3,822.1 851.2,836.3 852.0,845.4 C852.8,854.5 852.6,861.0 853.6,868.8 C854.6,876.6 857.5,886.4 858.3,892.2 C859.1,898.0 858.3,901.6 858.3,903.5" fill="none" stroke="#111" stroke-width="1.3" stroke-linejoin="round" stroke-linecap="round" />
<path d="M580.8,789.2 C588.1,788.6 609.7,785.7 624.8,785.3 C639.9,784.9 656.0,786.8 671.6,786.9 C687.2,787.0 705.4,786.2 718.4,786.1 C731.4,786.0 742.7,785.7 749.6,786.1 C756.5,786.5 755.7,787.5 760.0,788.5 C764.3,789.5 770.4,790.1 775.6,792.3 C780.8,794.5 786.5,798.1 791.2,801.7 C795.9,805.4 801.4,809.5 803.7,814.2 C806.0,818.9 805.5,824.6 805.2,829.8 C804.9,835.0 802.1,838.9 802.1,845.4 C802.1,851.9 804.9,861.0 805.2,868.8 C805.5,876.6 805.0,886.4 803.7,892.2 C802.4,898.0 798.5,901.6 797.4,903.5" fill="none" stroke="#111" stroke-width="1.3" stroke-linejoin="round" stroke-linecap="round" />
<path d="M580.8,806.4 C588.1,806.1 609.7,804.7 624.8,804.8 C639.9,804.9 658.6,806.8 671.6,807.2 C684.6,807.6 692.4,806.0 702.8,807.2 C713.2,808.4 724.9,811.0 734.0,814.2 C743.1,817.5 752.2,822.6 757.4,826.7 C762.6,830.9 764.2,834.4 765.2,839.1 C766.2,843.8 763.6,848.5 763.6,854.7 C763.6,861.0 764.8,868.5 765.2,876.6 C765.6,884.7 765.9,899.0 766.0,903.5" fill="none" stroke="#111" stroke-width="1.3" stroke-linejoin="round" stroke-linecap="round" />
<path d="M580.8,822.0 C588.1,821.9 609.7,820.7 624.8,821.2 C639.9,821.7 658.6,823.2 671.6,825.1 C684.6,827.0 693.7,829.0 702.8,832.9 C711.9,836.8 720.8,842.5 726.2,848.5 C731.7,854.5 734.0,859.6 735.5,868.8 C737.0,878.0 735.5,897.7 735.5,903.5" fill="none" stroke="#111" stroke-width="1.3" stroke-linejoin="round" stroke-linecap="round" />
<path d="M580.8,839.9 C588.1,839.6 612.3,838.8 624.8,838.4 C637.3,838.0 646.9,837.0 656.0,837.6 C665.1,838.2 672.1,839.7 679.4,842.3 C686.7,844.9 695.2,849.6 699.7,853.2 C704.2,856.8 705.9,858.9 706.7,864.1 C707.5,869.3 705.1,877.8 704.3,884.4 C703.5,891.0 702.4,900.3 702.0,903.5" fill="none" stroke="#111" stroke-width="1.3" stroke-linejoin="round" stroke-linecap="round" />
<path d="M580.8,856.3 C585.5,856.1 600.6,855.0 609.2,855.1 C617.8,855.2 624.3,854.8 632.6,857.1 C640.9,859.4 652.6,865.0 659.1,868.8 C665.6,872.6 669.8,873.9 671.6,879.7 C673.4,885.5 670.3,899.5 670.0,903.5" fill="none" stroke="#111" stroke-width="1.3" stroke-linejoin="round" stroke-linecap="round" />
<path d="M580.8,872.7 C585.5,873.4 601.4,874.1 609.2,876.6 C617.1,879.1 623.0,883.0 627.9,887.5 C632.8,892.0 637.0,900.8 638.8,903.5" fill="none" stroke="#111" stroke-width="1.3" stroke-linejoin="round" stroke-linecap="round" />
<line x1="580.8" y1="710.2" x2="580.8" y2="903.5" stroke="#888" stroke-width="1" />
<line x1="580.8" y1="903.5" x2="948.4" y2="903.5" stroke="#888" stroke-width="1" />
<path d="M580.8,1064.9 C585.6,1065.4 599.4,1067.1 609.4,1068.1 C619.4,1069.1 631.6,1070.2 640.7,1070.9 C649.8,1071.6 657.7,1072.2 664.2,1072.0 C670.7,1071.8 673.4,1070.0 679.9,1069.6 C686.4,1069.1 695.6,1069.0 703.4,1069.3 C711.2,1069.6 719.1,1070.0 726.9,1071.2 C734.7,1072.4 744.9,1075.5 750.4,1076.7 C755.9,1077.9 754.5,1076.6 760.0,1078.3 C765.5,1080.0 774.4,1084.6 783.5,1086.9 C792.6,1089.2 807.0,1091.4 814.9,1092.4 C822.8,1093.5 822.8,1091.2 830.6,1093.2 C838.5,1095.2 850.2,1101.2 862.0,1104.2 C873.8,1107.2 890.8,1110.6 901.2,1111.2 C911.7,1111.8 916.9,1108.5 924.7,1108.1 C932.6,1107.7 944.4,1108.8 948.3,1108.9" fill="none" stroke="#111" stroke-width="1.3" stroke-linejoin="round" stroke-linecap="round" />
<path d="M580.8,1088.4 C585.6,1089.7 599.4,1093.4 609.4,1096.3 C619.4,1099.2 631.6,1103.5 640.7,1105.7 C649.8,1107.9 656.4,1108.9 664.2,1109.6 C672.0,1110.2 681.2,1109.9 687.7,1109.6 C694.2,1109.3 696.9,1107.7 703.4,1107.6 C709.9,1107.5 719.6,1107.5 726.9,1108.8 C734.2,1110.0 742.1,1112.8 747.3,1115.1 C752.5,1117.4 756.2,1121.5 758.3,1122.9 C760.4,1124.4 755.8,1120.9 760.0,1123.8 C764.2,1126.7 775.6,1136.4 783.5,1140.2 C791.4,1144.0 798.0,1145.2 807.1,1146.5 C816.2,1147.8 828.0,1147.8 838.4,1148.1 C848.8,1148.4 859.3,1147.3 869.8,1148.1 C880.3,1148.9 892.1,1152.5 901.2,1152.8 C910.4,1153.0 916.9,1150.2 924.7,1149.6 C932.6,1148.9 944.4,1149.0 948.3,1148.9" fill="none" stroke="#111" stroke-width="1.3" stroke-linejoin="round" stroke-linecap="round" />
<path d="M580.8,1122.1 C588.2,1122.8 611.1,1123.9 625.0,1126.1 C638.9,1128.3 652.4,1132.1 664.2,1135.5 C676.0,1138.9 686.5,1142.8 695.6,1146.4 C704.8,1150.1 711.3,1153.7 719.1,1157.4 C726.9,1161.1 735.8,1165.6 742.6,1168.4 C749.4,1171.2 750.6,1171.2 760.0,1174.0 C769.4,1176.8 787.4,1184.0 799.2,1184.9 C811.0,1185.8 822.8,1181.1 830.6,1179.5 C838.5,1177.9 837.1,1176.2 846.3,1175.5 C855.4,1174.8 875.0,1175.2 885.5,1175.5 C896.0,1175.8 902.5,1177.2 909.0,1177.1 C915.5,1177.0 918.2,1176.8 924.7,1174.7 C931.2,1172.6 944.4,1166.2 948.3,1164.5" fill="none" stroke="#111" stroke-width="1.3" stroke-linejoin="round" stroke-linecap="round" />
<path d="M580.8,1139.4 C586.9,1140.8 604.6,1145.7 617.2,1148.0 C629.8,1150.3 644.6,1151.2 656.4,1153.5 C668.1,1155.8 677.2,1158.7 687.7,1162.1 C698.2,1165.5 708.7,1170.2 719.1,1173.9 C729.5,1177.6 743.6,1181.3 750.4,1184.1 C757.2,1186.8 753.2,1187.8 760.0,1190.4 C766.8,1193.0 779.6,1197.5 791.4,1199.8 C803.2,1202.1 817.5,1204.5 830.6,1204.5 C843.7,1204.5 856.7,1200.7 869.8,1199.8 C882.9,1198.9 898.5,1199.6 909.0,1199.1 C919.5,1198.6 926.0,1198.5 932.5,1196.7 C939.0,1194.9 945.7,1189.5 948.3,1188.1" fill="none" stroke="#111" stroke-width="1.3" stroke-linejoin="round" stroke-linecap="round" />
<path d="M580.8,1166.0 C586.9,1166.0 604.6,1165.2 617.2,1166.0 C629.8,1166.8 646.0,1168.0 656.4,1170.7 C666.8,1173.5 672.1,1178.7 679.9,1182.5 C687.7,1186.3 694.2,1191.2 703.4,1193.5 C712.5,1195.8 725.4,1195.0 734.8,1196.6 C744.2,1198.2 750.6,1200.1 760.0,1203.0 C769.4,1205.9 779.6,1211.0 791.4,1214.0 C803.2,1217.0 817.5,1220.3 830.6,1221.0 C843.7,1221.7 856.7,1218.6 869.8,1217.9 C882.9,1217.2 899.9,1217.5 909.0,1217.1 C918.1,1216.6 918.2,1215.5 924.7,1215.2 C931.2,1214.9 944.4,1215.2 948.3,1215.2" fill="none" stroke="#111" stroke-width="1.3" stroke-linejoin="round" stroke-linecap="round" />
<path d="M580.8,1184.1 C585.6,1183.7 600.7,1181.6 609.4,1181.7 C618.1,1181.8 625.1,1182.6 632.9,1184.8 C640.7,1187.0 647.3,1190.7 656.4,1195.0 C665.5,1199.3 677.2,1206.8 687.7,1210.7 C698.2,1214.6 710.0,1217.4 719.1,1218.6 C728.2,1219.8 735.8,1217.5 742.6,1217.8 C749.4,1218.1 753.2,1218.8 760.0,1220.2 C766.8,1221.7 775.9,1224.5 783.5,1226.5 C791.1,1228.5 801.8,1231.1 805.5,1232.0" fill="none" stroke="#111" stroke-width="1.3" stroke-linejoin="round" stroke-linecap="round" />
<path d="M931.0,1232.0 C932.6,1231.3 937.5,1228.9 940.4,1228.1 C943.3,1227.3 947.0,1227.4 948.3,1227.3" fill="none" stroke="#111" stroke-width="1.3" stroke-linejoin="round" stroke-linecap="round" />
<path d="M580.8,1202.1 C586.9,1202.9 607.2,1204.6 617.2,1206.8 C627.2,1209.0 631.6,1212.3 640.7,1215.4 C649.9,1218.5 663.0,1223.6 672.1,1225.6 C681.2,1227.6 688.6,1226.1 695.6,1227.2 C702.6,1228.3 711.3,1231.2 714.4,1232.0" fill="none" stroke="#111" stroke-width="1.3" stroke-linejoin="round" stroke-linecap="round" />
<path d="M580.8,1217.8 C583.5,1218.7 592.2,1220.9 596.8,1223.3 C601.4,1225.7 606.6,1230.5 608.6,1232.0" fill="none" stroke="#111" stroke-width="1.3" stroke-linejoin="round" stroke-linecap="round" />
<line x1="580.8" y1="1038.2" x2="580.8" y2="1232.0" stroke="#888" stroke-width="1" />
<line x1="580.8" y1="1232.0" x2="948.3" y2="1232.0" stroke="#888" stroke-width="1" />
<path d="M1074.7,53.1 C1075.0,58.2 1075.8,72.2 1076.6,83.7 C1077.4,95.2 1078.5,112.1 1079.5,122.4 C1080.5,132.7 1081.1,140.8 1082.4,145.6 C1083.7,150.4 1084.9,151.5 1087.2,151.0 C1089.5,150.5 1092.6,143.6 1096.0,142.7 C1099.4,141.8 1103.1,143.8 1107.6,145.6 C1112.1,147.4 1118.5,151.1 1123.0,153.3 C1127.5,155.6 1130.1,159.1 1134.6,159.1 C1139.1,159.1 1144.9,155.7 1150.1,153.3 C1155.3,150.9 1157.2,145.9 1165.6,144.6 C1174.0,143.3 1190.7,145.4 1200.4,145.6 C1210.1,145.8 1215.5,146.9 1223.6,145.6 C1231.7,144.3 1241.4,141.1 1248.8,137.9 C1256.2,134.7 1261.6,131.8 1268.1,126.3 C1274.5,120.8 1282.0,109.5 1287.5,105.0 C1293.0,100.5 1290.9,100.3 1301.0,99.2 C1311.1,98.1 1340.3,98.4 1348.2,98.2" fill="none" stroke="#111" stroke-width="1.3" stroke-linejoin="round" stroke-linecap="round" />
<path d="M1071.2,174.6 C1072.4,176.5 1075.3,182.0 1078.5,186.2 C1081.7,190.4 1086.5,197.4 1090.1,199.8 C1093.6,202.2 1096.2,201.3 1099.8,200.7 C1103.3,200.0 1107.5,197.2 1111.4,195.9 C1115.3,194.6 1116.2,192.7 1123.0,193.0 C1129.8,193.3 1142.4,196.2 1152.1,197.8 C1161.8,199.4 1168.2,201.6 1181.1,202.7 C1194.0,203.8 1216.5,203.1 1229.4,204.6 C1242.3,206.1 1250.4,208.8 1258.5,211.4 C1266.6,214.0 1273.0,217.2 1277.8,220.1 C1282.6,223.0 1282.7,226.2 1287.5,228.8 C1292.3,231.4 1299.7,233.8 1306.8,235.6 C1313.9,237.4 1330.0,238.4 1330.0,239.4 C1330.0,240.4 1314.8,240.6 1306.8,241.4 C1298.8,242.2 1285.2,243.3 1281.7,244.3 C1278.2,245.3 1284.9,246.7 1285.5,247.2" fill="none" stroke="#111" stroke-width="1.3" stroke-linejoin="round" stroke-linecap="round" />
<path d="M1348.2,172.7 C1342.9,174.0 1325.3,177.7 1316.5,180.4 C1307.7,183.1 1295.2,186.2 1295.2,189.1 C1295.2,192.0 1307.7,195.4 1316.5,197.8 C1325.3,200.2 1342.9,202.6 1348.2,203.6" fill="none" stroke="#111" stroke-width="1.3" stroke-linejoin="round" stroke-linecap="round" />
<path d="M1071.2,208.5 C1072.1,210.3 1073.8,215.7 1076.6,219.1 C1079.4,222.5 1084.3,226.5 1088.2,228.8 C1092.1,231.1 1095.6,233.0 1099.8,232.7 C1104.0,232.4 1107.9,228.5 1113.4,226.9 C1118.9,225.3 1124.7,223.7 1132.7,223.0 C1140.8,222.3 1153.6,222.5 1161.7,223.0 C1169.8,223.5 1174.6,224.8 1181.1,225.9 C1187.5,227.0 1196.2,228.7 1200.4,229.8 C1204.6,230.9 1207.8,231.7 1206.2,232.7 C1204.6,233.7 1194.9,234.3 1190.7,235.6 C1186.5,236.9 1187.5,239.1 1181.1,240.4 C1174.7,241.7 1161.8,242.5 1152.1,243.3 C1142.4,244.1 1129.5,244.5 1123.0,245.2 C1116.5,245.8 1115.0,246.9 1113.4,247.2" fill="none" stroke="#111" stroke-width="1.3" stroke-linejoin="round" stroke-linecap="round" />
<path d="M1071.2,236.5 C1075.0,237.2 1086.0,238.6 1094.0,240.4 C1102.0,242.2 1115.0,246.1 1119.2,247.2" fill="none" stroke="#111" stroke-width="1.3" stroke-linejoin="round" stroke-linecap="round" />
<path d="M1071.2,242.3 C1072.7,242.7 1076.8,243.7 1080.0,244.5 C1083.2,245.3 1088.4,246.8 1090.1,247.2" fill="none" stroke="#111" stroke-width="1.3" stroke-linejoin="round" stroke-linecap="round" />
<line x1="1071.2" y1="53.1" x2="1071.2" y2="247.2" stroke="#888" stroke-width="1" />
<line x1="1071.2" y1="247.2" x2="1348.2" y2="247.2" stroke="#888" stroke-width="1" />
<path d="M1084.3,375.2 C1084.2,380.4 1083.9,396.6 1083.4,406.7 C1082.9,416.8 1082.1,426.0 1081.4,435.7 C1080.8,445.4 1080.3,456.6 1079.5,464.7 C1078.7,472.8 1077.4,479.1 1076.6,484.1 C1075.8,489.2 1075.6,492.9 1074.7,495.0 C1073.8,497.1 1071.8,496.7 1071.2,497.0" fill="none" stroke="#111" stroke-width="1.3" stroke-linejoin="round" stroke-linecap="round" />
<path d="M1145.3,375.2 C1143.8,378.8 1139.3,390.1 1136.6,397.0 C1133.8,403.9 1131.1,409.9 1128.8,416.4 C1126.5,422.8 1124.9,429.2 1123.0,435.7 C1121.1,442.1 1119.8,448.3 1117.2,455.1 C1114.6,461.9 1111.1,471.8 1107.6,476.3 C1104.1,480.8 1099.5,481.8 1096.0,482.1 C1092.5,482.4 1088.9,478.0 1086.3,478.3 C1083.7,478.6 1083.0,482.5 1080.5,484.1 C1078.0,485.7 1072.8,487.4 1071.2,488.0" fill="none" stroke="#111" stroke-width="1.3" stroke-linejoin="round" stroke-linecap="round" />
<path d="M1190.7,375.2 C1190.7,378.8 1190.9,390.8 1190.7,397.0 C1190.5,403.2 1191.4,408.9 1189.8,412.5 C1188.2,416.1 1185.1,416.7 1181.1,418.3 C1177.1,419.9 1169.8,420.3 1165.6,422.2 C1161.4,424.1 1159.1,426.7 1155.9,429.9 C1152.7,433.1 1148.5,437.3 1146.3,441.5 C1144.0,445.7 1143.7,448.0 1142.4,455.1 C1141.1,462.2 1140.1,477.7 1138.5,484.1 C1136.9,490.5 1135.3,491.1 1132.7,493.7 C1130.1,496.3 1126.9,497.5 1123.0,499.6 C1119.1,501.7 1114.0,505.0 1109.5,506.3 C1105.0,507.6 1100.2,506.8 1096.0,507.3 C1091.8,507.8 1087.2,507.6 1084.3,509.2 C1081.4,510.8 1080.7,515.5 1078.5,517.0 C1076.3,518.5 1072.4,517.8 1071.2,518.0" fill="none" stroke="#111" stroke-width="1.3" stroke-linejoin="round" stroke-linecap="round" />
<path d="M1351.3,428.9 C1345.5,426.8 1327.1,420.8 1316.5,416.4 C1305.9,412.0 1296.2,406.7 1287.5,402.8 C1278.8,398.9 1269.6,394.2 1264.3,393.1 C1259.0,392.0 1256.6,392.9 1255.6,396.1 C1254.6,399.3 1256.1,405.9 1258.5,412.5 C1260.9,419.1 1266.9,428.0 1270.1,435.7 C1273.3,443.4 1277.2,452.1 1277.8,458.9 C1278.4,465.7 1275.8,470.8 1273.9,476.3 C1272.0,481.8 1270.4,488.6 1266.2,491.8 C1262.0,495.0 1255.6,494.2 1248.8,495.7 C1242.0,497.1 1233.7,501.1 1225.6,500.5 C1217.5,499.9 1207.8,494.1 1200.4,491.8 C1193.0,489.6 1185.1,486.7 1181.1,487.0 C1177.1,487.3 1177.2,489.3 1176.2,493.7 C1175.2,498.1 1176.3,506.7 1175.3,513.1 C1174.3,519.6 1169.4,528.2 1170.4,532.4 C1171.4,536.6 1169.6,535.9 1181.1,538.2 C1192.5,540.5 1219.8,542.9 1239.1,546.0 C1258.4,549.1 1280.4,553.2 1297.2,556.6 C1314.0,560.0 1335.2,563.9 1339.7,566.3 C1344.2,568.7 1331.3,569.0 1324.2,571.1 C1317.1,573.2 1304.0,576.8 1297.2,578.9 C1290.4,581.0 1285.9,583.0 1283.6,583.8" fill="none" stroke="#111" stroke-width="1.3" stroke-linejoin="round" stroke-linecap="round" />
<path d="M1170.4,532.4 C1164.1,532.6 1143.8,533.4 1132.7,533.4 C1121.6,533.4 1111.8,532.6 1103.7,532.4 C1095.6,532.2 1089.7,530.5 1084.3,532.4 C1078.9,534.3 1073.4,542.1 1071.2,544.0" fill="none" stroke="#111" stroke-width="1.3" stroke-linejoin="round" stroke-linecap="round" />
<path d="M1181.1,549.9 C1184.3,553.4 1194.3,565.5 1200.4,571.1 C1206.5,576.8 1214.9,581.7 1217.8,583.8" fill="none" stroke="#111" stroke-width="1.3" stroke-linejoin="round" stroke-linecap="round" />
<path d="M1071.2,582.7 C1072.4,580.1 1076.3,570.7 1078.5,567.3 C1080.7,563.9 1078.5,563.4 1084.3,562.4 C1090.1,561.4 1103.7,560.4 1113.4,561.5 C1123.1,562.6 1132.4,565.5 1142.4,569.2 C1152.4,572.9 1168.2,581.4 1173.3,583.8" fill="none" stroke="#111" stroke-width="1.3" stroke-linejoin="round" stroke-linecap="round" />
<line x1="1071.2" y1="375.2" x2="1071.2" y2="583.8" stroke="#888" stroke-width="1" />
<line x1="1071.2" y1="583.8" x2="1351.3" y2="583.8" stroke="#888" stroke-width="1" />
<path d="M1071.2,794.4 C1071.9,794.1 1073.4,791.4 1075.6,792.5 C1077.8,793.6 1081.2,800.0 1084.3,801.0 C1087.4,802.0 1087.5,798.3 1094.0,798.3 C1100.5,798.3 1113.0,800.0 1123.0,801.0 C1133.0,802.0 1145.6,804.4 1154.0,804.5 C1162.4,804.6 1167.2,803.5 1173.3,801.6 C1179.4,799.7 1185.5,795.6 1190.7,792.9 C1195.9,790.1 1199.1,786.8 1204.3,785.1 C1209.5,783.4 1212.7,783.1 1221.7,782.8 C1230.7,782.5 1244.3,783.3 1258.5,783.2 C1272.7,783.1 1295.5,783.0 1306.8,782.2 C1318.1,781.4 1319.3,780.3 1326.2,778.4 C1333.1,776.5 1344.4,771.9 1348.0,770.6" fill="none" stroke="#111" stroke-width="1.3" stroke-linejoin="round" stroke-linecap="round" />
<path d="M1071.2,830.0 C1072.4,830.5 1075.3,831.8 1078.5,833.1 C1081.7,834.4 1083.3,836.4 1090.1,837.7 C1096.9,839.1 1110.5,841.3 1119.2,841.2 C1127.9,841.1 1132.1,837.8 1142.4,837.0 C1152.7,836.2 1167.2,837.1 1181.1,836.4 C1195.0,835.6 1214.3,832.8 1225.6,832.5 C1236.9,832.2 1240.1,833.2 1248.8,834.5 C1257.5,835.8 1266.5,838.0 1277.8,840.3 C1289.1,842.5 1304.8,846.0 1316.5,848.0 C1328.2,850.0 1342.8,851.7 1348.0,852.4" fill="none" stroke="#111" stroke-width="1.3" stroke-linejoin="round" stroke-linecap="round" />
<path d="M1071.2,855.7 C1072.8,856.5 1075.1,859.1 1080.5,860.6 C1085.9,862.1 1091.8,863.9 1103.7,864.8 C1115.6,865.7 1140.8,865.2 1152.1,866.0 C1163.4,866.8 1163.4,867.3 1171.4,869.3 C1179.5,871.3 1190.7,875.1 1200.4,878.0 C1210.1,880.9 1219.7,884.5 1229.4,886.7 C1239.1,889.0 1248.8,889.7 1258.5,891.5 C1268.2,893.3 1279.5,895.3 1287.5,897.3 C1295.5,899.3 1303.6,902.5 1306.8,903.5" fill="none" stroke="#111" stroke-width="1.3" stroke-linejoin="round" stroke-linecap="round" />
<path d="M1071.2,885.3 C1072.1,884.7 1073.8,881.9 1076.6,881.9 C1079.4,881.9 1082.1,885.0 1088.2,885.3 C1094.3,885.6 1102.8,883.7 1113.4,883.8 C1124.1,883.9 1140.8,884.1 1152.1,885.7 C1163.4,887.3 1168.8,890.5 1181.1,893.5 C1193.3,896.5 1218.2,901.8 1225.6,903.5" fill="none" stroke="#111" stroke-width="1.3" stroke-linejoin="round" stroke-linecap="round" />
<path d="M1071.2,897.0 C1072.8,896.6 1075.1,894.5 1080.5,894.4 C1085.9,894.3 1095.7,895.9 1103.7,896.4 C1111.8,896.9 1120.4,896.1 1128.8,897.3 C1137.2,898.5 1149.8,902.5 1154.0,903.5" fill="none" stroke="#111" stroke-width="1.3" stroke-linejoin="round" stroke-linecap="round" />
<line x1="1071.2" y1="709.7" x2="1071.2" y2="903.5" stroke="#888" stroke-width="1" />
<line x1="1071.2" y1="903.5" x2="1348.0" y2="903.5" stroke="#888" stroke-width="1" />
<path d="M1071.2,1057.1 C1071.8,1062.2 1073.2,1078.3 1074.7,1088.0 C1076.2,1097.7 1078.2,1109.7 1080.5,1115.1 C1082.8,1120.5 1085.6,1119.5 1088.2,1120.5 C1090.8,1121.5 1093.4,1119.5 1096.0,1120.9 C1098.6,1122.3 1099.8,1125.2 1103.7,1128.7 C1107.6,1132.2 1113.4,1137.7 1119.2,1142.2 C1125.0,1146.7 1134.0,1153.5 1138.5,1155.7 C1143.0,1158.0 1143.1,1156.5 1146.3,1155.7 C1149.5,1154.9 1153.4,1152.2 1157.9,1150.9 C1162.4,1149.6 1166.2,1148.7 1173.3,1148.0 C1180.4,1147.3 1189.4,1147.1 1200.4,1147.0 C1211.4,1146.9 1226.2,1147.8 1239.1,1147.6 C1252.0,1147.4 1264.9,1146.3 1277.8,1146.1 C1290.7,1145.9 1304.8,1146.3 1316.5,1146.5 C1328.2,1146.7 1342.8,1146.9 1348.0,1147.0" fill="none" stroke="#111" stroke-width="1.3" stroke-linejoin="round" stroke-linecap="round" />
<path d="M1071.2,1148.0 C1072.1,1150.6 1074.4,1160.3 1076.6,1163.5 C1078.8,1166.7 1082.0,1167.3 1084.3,1167.0 C1086.5,1166.7 1088.1,1163.0 1090.1,1161.6 C1092.0,1160.2 1093.1,1158.4 1096.0,1158.7 C1098.9,1159.0 1103.1,1161.1 1107.6,1163.5 C1112.1,1165.9 1117.2,1169.3 1123.0,1173.2 C1128.8,1177.1 1136.0,1182.8 1142.4,1186.7 C1148.9,1190.6 1153.7,1193.7 1161.7,1196.4 C1169.8,1199.1 1181.0,1201.5 1190.7,1203.1 C1200.4,1204.7 1208.5,1205.0 1219.8,1206.0 C1231.1,1207.0 1245.6,1207.7 1258.5,1209.0 C1271.4,1210.3 1282.3,1212.3 1297.2,1213.8 C1312.1,1215.3 1339.5,1217.3 1348.0,1218.0" fill="none" stroke="#111" stroke-width="1.3" stroke-linejoin="round" stroke-linecap="round" />
<path d="M1071.2,1173.2 C1072.1,1177.1 1074.4,1190.9 1076.6,1196.4 C1078.8,1201.9 1081.7,1206.1 1084.3,1206.4 C1086.9,1206.7 1089.8,1200.6 1092.1,1198.3 C1094.4,1196.0 1095.0,1192.8 1097.9,1192.5 C1100.8,1192.2 1105.0,1193.8 1109.5,1196.4 C1114.0,1199.0 1120.2,1203.8 1125.0,1208.0 C1129.8,1212.2 1134.3,1217.5 1138.5,1221.5 C1142.7,1225.5 1148.2,1230.4 1150.1,1232.2" fill="none" stroke="#111" stroke-width="1.3" stroke-linejoin="round" stroke-linecap="round" />
<path d="M1071.2,1198.3 C1072.1,1201.2 1074.4,1211.5 1076.6,1215.7 C1078.8,1219.9 1080.4,1222.5 1084.3,1223.5 C1088.2,1224.5 1094.6,1221.2 1099.8,1221.5 C1105.0,1221.8 1110.8,1223.6 1115.3,1225.4 C1119.8,1227.2 1125.0,1231.1 1126.9,1232.2" fill="none" stroke="#111" stroke-width="1.3" stroke-linejoin="round" stroke-linecap="round" />
<path d="M1071.2,1216.7 C1072.4,1218.2 1076.6,1222.8 1078.5,1225.4 C1080.4,1228.0 1081.8,1231.1 1082.4,1232.2" fill="none" stroke="#111" stroke-width="1.3" stroke-linejoin="round" stroke-linecap="round" />
<line x1="1071.2" y1="1038.8" x2="1071.2" y2="1232.2" stroke="#888" stroke-width="1" />
<line x1="1071.2" y1="1232.2" x2="1348.0" y2="1232.2" stroke="#888" stroke-width="1" />
<rect x="581.6" y="53.6" width="285.4" height="128.0" fill="none" stroke="#000" stroke-width="3.6"/>
<rect x="586.1" y="384.1" width="326.7" height="88.2" fill="none" stroke="#000" stroke-width="3.6"/>
<rect x="581.7" y="710.5" width="284.9" height="84.8" fill="none" stroke="#000" stroke-width="3.6"/>
<rect x="581.7" y="1039.3" width="285.0" height="84.6" fill="none" stroke="#000" stroke-width="3.6"/>
<line x1="868.7" y1="91.6" x2="1024.6" y2="88.9" stroke="#111" stroke-width="2.6" stroke-linecap="butt"/>
<polygon points="1038.8,88.7 1020.2,97.3 1024.6,88.9 1020.0,80.7" fill="#111"/>
<line x1="912.8" y1="401.7" x2="1017.6" y2="401.3" stroke="#111" stroke-width="2.6" stroke-linecap="butt"/>
<polygon points="1031.8,401.3 1013.1,409.7 1017.6,401.3 1013.1,393.1" fill="#111"/>
<line x1="868.4" y1="726.0" x2="1017.6" y2="723.6" stroke="#111" stroke-width="2.6" stroke-linecap="butt"/>
<polygon points="1031.8,723.4 1013.2,732.0 1017.6,723.6 1013.0,715.4" fill="#111"/>
<line x1="866.7" y1="1049.0" x2="1009.2" y2="1046.6" stroke="#111" stroke-width="2.6" stroke-linecap="butt"/>
<polygon points="1023.4,1046.4 1004.8,1055.0 1009.2,1046.6 1004.6,1038.4" fill="#111"/>
<rect x="1364.6" y="54.3" width="28.0" height="193.3" fill="none" stroke="#262626" stroke-width="1.3"/>
<line x1="1389.1" y1="57.2" x2="1392.6" y2="57.2" stroke="#262626" stroke-width="1.3" />
<text x="1401.5" y="67.7" font-size="26.5" text-anchor="start" font-weight="normal" fill="#1a1a1a" font-family='"Liberation Sans", sans-serif' >0.9</text>
<line x1="1389.1" y1="107.9" x2="1392.6" y2="107.9" stroke="#262626" stroke-width="1.3" />
<text x="1401.5" y="118.4" font-size="26.5" text-anchor="start" font-weight="normal" fill="#1a1a1a" font-family='"Liberation Sans", sans-serif' >0.8</text>
<line x1="1389.1" y1="158.6" x2="1392.6" y2="158.6" stroke="#262626" stroke-width="1.3" />
<text x="1401.5" y="169.1" font-size="26.5" text-anchor="start" font-weight="normal" fill="#1a1a1a" font-family='"Liberation Sans", sans-serif' >0.7</text>
<line x1="1389.1" y1="209.2" x2="1392.6" y2="209.2" stroke="#262626" stroke-width="1.3" />
<text x="1401.5" y="219.7" font-size="26.5" text-anchor="start" font-weight="normal" fill="#1a1a1a" font-family='"Liberation Sans", sans-serif' >0.6</text>
<rect x="1369.1" y="377.3" width="28.4" height="207.5" fill="none" stroke="#262626" stroke-width="1.3"/>
<line x1="1394.0" y1="381.3" x2="1397.5" y2="381.3" stroke="#262626" stroke-width="1.3" />
<text x="1406.2" y="391.8" font-size="26.5" text-anchor="start" font-weight="normal" fill="#1a1a1a" font-family='"Liberation Sans", sans-serif' >0.9</text>
<line x1="1394.0" y1="435.4" x2="1397.5" y2="435.4" stroke="#262626" stroke-width="1.3" />
<text x="1406.2" y="445.9" font-size="26.5" text-anchor="start" font-weight="normal" fill="#1a1a1a" font-family='"Liberation Sans", sans-serif' >0.8</text>
<line x1="1394.0" y1="489.4" x2="1397.5" y2="489.4" stroke="#262626" stroke-width="1.3" />
<text x="1406.2" y="499.9" font-size="26.5" text-anchor="start" font-weight="normal" fill="#1a1a1a" font-family='"Liberation Sans", sans-serif' >0.7</text>
<line x1="1394.0" y1="543.7" x2="1397.5" y2="543.7" stroke="#262626" stroke-width="1.3" />
<text x="1406.2" y="554.2" font-size="26.5" text-anchor="start" font-weight="normal" fill="#1a1a1a" font-family='"Liberation Sans", sans-serif' >0.6</text>
<rect x="1364.6" y="709.6" width="28.0" height="194.1" fill="none" stroke="#262626" stroke-width="1.3"/>
<line x1="1389.1" y1="713.2" x2="1392.6" y2="713.2" stroke="#262626" stroke-width="1.3" />
<text x="1401.5" y="723.7" font-size="26.5" text-anchor="start" font-weight="normal" fill="#1a1a1a" font-family='"Liberation Sans", sans-serif' >0.95</text>
<line x1="1389.1" y1="756.1" x2="1392.6" y2="756.1" stroke="#262626" stroke-width="1.3" />
<text x="1401.5" y="766.6" font-size="26.5" text-anchor="start" font-weight="normal" fill="#1a1a1a" font-family='"Liberation Sans", sans-serif' >0.9</text>
<line x1="1389.1" y1="799.6" x2="1392.6" y2="799.6" stroke="#262626" stroke-width="1.3" />
<text x="1401.5" y="810.1" font-size="26.5" text-anchor="start" font-weight="normal" fill="#1a1a1a" font-family='"Liberation Sans", sans-serif' >0.85</text>
<line x1="1389.1" y1="842.5" x2="1392.6" y2="842.5" stroke="#262626" stroke-width="1.3" />
<text x="1401.5" y="853.0" font-size="26.5" text-anchor="start" font-weight="normal" fill="#1a1a1a" font-family='"Liberation Sans", sans-serif' >0.8</text>
<line x1="1389.1" y1="885.3" x2="1392.6" y2="885.3" stroke="#262626" stroke-width="1.3" />
<text x="1401.5" y="895.8" font-size="26.5" text-anchor="start" font-weight="normal" fill="#1a1a1a" font-family='"Liberation Sans", sans-serif' >0.75</text>
<rect x="1364.6" y="1038.9" width="28.0" height="193.3" fill="none" stroke="#262626" stroke-width="1.3"/>
<line x1="1389.1" y1="1042.5" x2="1392.6" y2="1042.5" stroke="#262626" stroke-width="1.3" />
<text x="1401.5" y="1053.0" font-size="26.5" text-anchor="start" font-weight="normal" fill="#1a1a1a" font-family='"Liberation Sans", sans-serif' >0.95</text>
<line x1="1389.1" y1="1085.6" x2="1392.6" y2="1085.6" stroke="#262626" stroke-width="1.3" />
<text x="1401.5" y="1096.1" font-size="26.5" text-anchor="start" font-weight="normal" fill="#1a1a1a" font-family='"Liberation Sans", sans-serif' >0.9</text>
<line x1="1389.1" y1="1128.8" x2="1392.6" y2="1128.8" stroke="#262626" stroke-width="1.3" />
<text x="1401.5" y="1139.3" font-size="26.5" text-anchor="start" font-weight="normal" fill="#1a1a1a" font-family='"Liberation Sans", sans-serif' >0.85</text>
<line x1="1389.1" y1="1172.0" x2="1392.6" y2="1172.0" stroke="#262626" stroke-width="1.3" />
<text x="1401.5" y="1182.5" font-size="26.5" text-anchor="start" font-weight="normal" fill="#1a1a1a" font-family='"Liberation Sans", sans-serif' >0.8</text>
<line x1="1389.1" y1="1215.0" x2="1392.6" y2="1215.0" stroke="#262626" stroke-width="1.3" />
<text x="1401.5" y="1225.5" font-size="26.5" text-anchor="start" font-weight="normal" fill="#1a1a1a" font-family='"Liberation Sans", sans-serif' >0.75</text>
<text x="1294.8" y="35.8" font-size="25" text-anchor="start" font-weight="normal" fill="#1a1a1a" font-family='"Liberation Sans", sans-serif' textLength="104.5" lengthAdjust="spacingAndGlyphs" stroke="#1a1a1a" stroke-width="0.55">Accuracy</text>
<text x="1298.0" y="361.1" font-size="25" text-anchor="start" font-weight="normal" fill="#1a1a1a" font-family='"Liberation Sans", sans-serif' textLength="104.5" lengthAdjust="spacingAndGlyphs" stroke="#1a1a1a" stroke-width="0.55">Accuracy</text>
<text x="1297.6" y="697.9" font-size="25" text-anchor="start" font-weight="normal" fill="#1a1a1a" font-family='"Liberation Sans", sans-serif' textLength="104.5" lengthAdjust="spacingAndGlyphs" stroke="#1a1a1a" stroke-width="0.55">Accuracy</text>
<text x="1298.0" y="1024.8" font-size="25" text-anchor="start" font-weight="normal" fill="#1a1a1a" font-family='"Liberation Sans", sans-serif' textLength="104.5" lengthAdjust="spacingAndGlyphs" stroke="#1a1a1a" stroke-width="0.55">Accuracy</text>
<text x="524.1" y="69.6" font-size="29.5" text-anchor="start" font-weight="normal" fill="#1a1a1a" font-family='"Liberation Sans", sans-serif' > 0<tspan dy="-14.5" font-size="23.5">0</tspan></text>
<path d="M515 0V1237L197 1010V1180L530 1409H696V0Z" fill="#1a1a1a" transform="translate(524.12 69.60) scale(0.01440 -0.01440)"/>
<text x="517.3" y="243.5" font-size="29.5" text-anchor="start" font-weight="normal" fill="#1a1a1a" font-family='"Liberation Sans", sans-serif' > 0<tspan dy="-14.5" font-size="23.5">-2</tspan></text>
<path d="M515 0V1237L197 1010V1180L530 1409H696V0Z" fill="#1a1a1a" transform="translate(517.29 243.50) scale(0.01440 -0.01440)"/>
<text x="584.5" y="295.0" font-size="29.5" text-anchor="start" font-weight="normal" fill="#1a1a1a" font-family='"Liberation Sans", sans-serif' > 0<tspan dy="-14.5" font-size="23.5">-2</tspan></text>
<path d="M515 0V1237L197 1010V1180L530 1409H696V0Z" fill="#1a1a1a" transform="translate(584.50 295.00) scale(0.01440 -0.01440)"/>
<text x="925.5" y="295.0" font-size="29.5" text-anchor="start" font-weight="normal" fill="#1a1a1a" font-family='"Liberation Sans", sans-serif' > 0<tspan dy="-14.5" font-size="23.5">0</tspan></text>
<path d="M515 0V1237L197 1010V1180L530 1409H696V0Z" fill="#1a1a1a" transform="translate(925.50 295.00) scale(0.01440 -0.01440)"/>
<text x="730.0" y="317.6" font-size="36" text-anchor="start" font-weight="normal" fill="#1a1a1a" font-family='"Liberation Sans", sans-serif' ><tspan font-family='"Liberation Serif", serif' font-style="italic" font-size="36">α</tspan><tspan font-family='"Liberation Sans", sans-serif' font-size="25.5" dx="2" dy="-16.5">(2)</tspan></text>
<text x="534.8" y="171.5" font-size="36" text-anchor="start" font-weight="normal" fill="#1a1a1a" font-family='"Liberation Sans", sans-serif' transform="rotate(-90 534.8 171.5)" ><tspan font-family='"Liberation Serif", serif' font-style="italic" font-size="36">α</tspan><tspan font-family='"Liberation Sans", sans-serif' font-size="25.5" dx="2" dy="-16.5">(1)</tspan></text>
<text x="528.6" y="400.0" font-size="29.5" text-anchor="start" font-weight="normal" fill="#1a1a1a" font-family='"Liberation Sans", sans-serif' > 0<tspan dy="-14.5" font-size="23.5">0</tspan></text>
<path d="M515 0V1237L197 1010V1180L530 1409H696V0Z" fill="#1a1a1a" transform="translate(528.62 400.00) scale(0.01440 -0.01440)"/>
<text x="521.8" y="583.5" font-size="29.5" text-anchor="start" font-weight="normal" fill="#1a1a1a" font-family='"Liberation Sans", sans-serif' > 0<tspan dy="-14.5" font-size="23.5">-2</tspan></text>
<path d="M515 0V1237L197 1010V1180L530 1409H696V0Z" fill="#1a1a1a" transform="translate(521.79 583.50) scale(0.01440 -0.01440)"/>
<text x="589.0" y="633.5" font-size="29.5" text-anchor="start" font-weight="normal" fill="#1a1a1a" font-family='"Liberation Sans", sans-serif' > 0<tspan dy="-14.5" font-size="23.5">-2</tspan></text>
<path d="M515 0V1237L197 1010V1180L530 1409H696V0Z" fill="#1a1a1a" transform="translate(589.00 633.50) scale(0.01440 -0.01440)"/>
<text x="930.0" y="633.5" font-size="29.5" text-anchor="start" font-weight="normal" fill="#1a1a1a" font-family='"Liberation Sans", sans-serif' > 0<tspan dy="-14.5" font-size="23.5">0</tspan></text>
<path d="M515 0V1237L197 1010V1180L530 1409H696V0Z" fill="#1a1a1a" transform="translate(930.00 633.50) scale(0.01440 -0.01440)"/>
<text x="743.5" y="653.6" font-size="36" text-anchor="start" font-weight="normal" fill="#1a1a1a" font-family='"Liberation Sans", sans-serif' ><tspan font-family='"Liberation Serif", serif' font-style="italic" font-size="36">α</tspan><tspan font-family='"Liberation Sans", sans-serif' font-size="25.5" dx="2" dy="-16.5">(2)</tspan></text>
<text x="536.7" y="508.5" font-size="36" text-anchor="start" font-weight="normal" fill="#1a1a1a" font-family='"Liberation Sans", sans-serif' transform="rotate(-90 536.7 508.5)" ><tspan font-family='"Liberation Serif", serif' font-style="italic" font-size="36">α</tspan><tspan font-family='"Liberation Sans", sans-serif' font-size="25.5" dx="2" dy="-16.5">(1)</tspan></text>
<text x="524.1" y="726.5" font-size="29.5" text-anchor="start" font-weight="normal" fill="#1a1a1a" font-family='"Liberation Sans", sans-serif' > 0<tspan dy="-14.5" font-size="23.5">0</tspan></text>
<path d="M515 0V1237L197 1010V1180L530 1409H696V0Z" fill="#1a1a1a" transform="translate(524.12 726.50) scale(0.01440 -0.01440)"/>
<text x="517.3" y="903.0" font-size="29.5" text-anchor="start" font-weight="normal" fill="#1a1a1a" font-family='"Liberation Sans", sans-serif' > 0<tspan dy="-14.5" font-size="23.5">-2</tspan></text>
<path d="M515 0V1237L197 1010V1180L530 1409H696V0Z" fill="#1a1a1a" transform="translate(517.29 903.00) scale(0.01440 -0.01440)"/>
<text x="584.5" y="951.5" font-size="29.5" text-anchor="start" font-weight="normal" fill="#1a1a1a" font-family='"Liberation Sans", sans-serif' > 0<tspan dy="-14.5" font-size="23.5">-2</tspan></text>
<path d="M515 0V1237L197 1010V1180L530 1409H696V0Z" fill="#1a1a1a" transform="translate(584.50 951.50) scale(0.01440 -0.01440)"/>
<text x="925.5" y="951.5" font-size="29.5" text-anchor="start" font-weight="normal" fill="#1a1a1a" font-family='"Liberation Sans", sans-serif' > 0<tspan dy="-14.5" font-size="23.5">0</tspan></text>
<path d="M515 0V1237L197 1010V1180L530 1409H696V0Z" fill="#1a1a1a" transform="translate(925.50 951.50) scale(0.01440 -0.01440)"/>
<text x="738.5" y="975.2" font-size="36" text-anchor="start" font-weight="normal" fill="#1a1a1a" font-family='"Liberation Sans", sans-serif' ><tspan font-family='"Liberation Serif", serif' font-style="italic" font-size="36">α</tspan><tspan font-family='"Liberation Sans", sans-serif' font-size="25.5" dx="2" dy="-16.5">(2)</tspan></text>
<text x="533.4" y="828.5" font-size="36" text-anchor="start" font-weight="normal" fill="#1a1a1a" font-family='"Liberation Sans", sans-serif' transform="rotate(-90 533.4 828.5)" ><tspan font-family='"Liberation Serif", serif' font-style="italic" font-size="36">α</tspan><tspan font-family='"Liberation Sans", sans-serif' font-size="25.5" dx="2" dy="-16.5">(1)</tspan></text>
<text x="524.1" y="1056.0" font-size="29.5" text-anchor="start" font-weight="normal" fill="#1a1a1a" font-family='"Liberation Sans", sans-serif' > 0<tspan dy="-14.5" font-size="23.5">0</tspan></text>
<path d="M515 0V1237L197 1010V1180L530 1409H696V0Z" fill="#1a1a1a" transform="translate(524.12 1056.00) scale(0.01440 -0.01440)"/>
<text x="517.3" y="1231.0" font-size="29.5" text-anchor="start" font-weight="normal" fill="#1a1a1a" font-family='"Liberation Sans", sans-serif' > 0<tspan dy="-14.5" font-size="23.5">-2</tspan></text>
<path d="M515 0V1237L197 1010V1180L530 1409H696V0Z" fill="#1a1a1a" transform="translate(517.29 1231.00) scale(0.01440 -0.01440)"/>
<text x="584.5" y="1280.0" font-size="29.5" text-anchor="start" font-weight="normal" fill="#1a1a1a" font-family='"Liberation Sans", sans-serif' > 0<tspan dy="-14.5" font-size="23.5">-2</tspan></text>
<path d="M515 0V1237L197 1010V1180L530 1409H696V0Z" fill="#1a1a1a" transform="translate(584.50 1280.00) scale(0.01440 -0.01440)"/>
<text x="925.5" y="1280.0" font-size="29.5" text-anchor="start" font-weight="normal" fill="#1a1a1a" font-family='"Liberation Sans", sans-serif' > 0<tspan dy="-14.5" font-size="23.5">0</tspan></text>
<path d="M515 0V1237L197 1010V1180L530 1409H696V0Z" fill="#1a1a1a" transform="translate(925.50 1280.00) scale(0.01440 -0.01440)"/>
<text x="738.5" y="1300.0" font-size="36" text-anchor="start" font-weight="normal" fill="#1a1a1a" font-family='"Liberation Sans", sans-serif' ><tspan font-family='"Liberation Serif", serif' font-style="italic" font-size="36">α</tspan><tspan font-family='"Liberation Sans", sans-serif' font-size="25.5" dx="2" dy="-16.5">(2)</tspan></text>
<text x="533.4" y="1163.5" font-size="36" text-anchor="start" font-weight="normal" fill="#1a1a1a" font-family='"Liberation Sans", sans-serif' transform="rotate(-90 533.4 1163.5)" ><tspan font-family='"Liberation Serif", serif' font-style="italic" font-size="36">α</tspan><tspan font-family='"Liberation Sans", sans-serif' font-size="25.5" dx="2" dy="-16.5">(1)</tspan></text>
<text x="764.4" y="46.7" font-size="28" text-anchor="middle" font-weight="bold" fill="#000" font-family='"Liberation Sans", sans-serif' textLength="183" lengthAdjust="spacingAndGlyphs">Unconnected</text>
<text x="769.0" y="376.7" font-size="28" text-anchor="middle" font-weight="bold" fill="#000" font-family='"Liberation Sans", sans-serif' textLength="148" lengthAdjust="spacingAndGlyphs">Connected</text>
<text x="764.4" y="703.4" font-size="28" text-anchor="middle" font-weight="bold" fill="#000" font-family='"Liberation Sans", sans-serif' textLength="182" lengthAdjust="spacingAndGlyphs">Unconnected</text>
<text x="764.3" y="1031.7" font-size="28" text-anchor="middle" font-weight="bold" fill="#000" font-family='"Liberation Sans", sans-serif' textLength="148.6" lengthAdjust="spacingAndGlyphs">Connected</text>
<text x="1042.1" y="64.8" font-size="29.5" text-anchor="start" font-weight="normal" fill="#1a1a1a" font-family='"Liberation Sans", sans-serif' > </text>
<path d="M515 0V1237L197 1010V1180L530 1409H696V0Z" fill="#1a1a1a" transform="translate(1042.09 64.80) scale(0.01440 -0.01440)"/>
<text x="1061.0" y="225.8" font-size="29.5" text-anchor="end" font-weight="normal" fill="#1a1a1a" font-family='"Liberation Sans", sans-serif' >0.2</text>
<text x="1128.7" y="286.6" font-size="29.5" text-anchor="start" font-weight="normal" fill="#1a1a1a" font-family='"Liberation Sans", sans-serif' >0. </text>
<path d="M515 0V1237L197 1010V1180L530 1409H696V0Z" fill="#1a1a1a" transform="translate(1153.30 286.60) scale(0.01440 -0.01440)"/>
<text x="1322.5" y="286.6" font-size="29.5" text-anchor="middle" font-weight="normal" fill="#1a1a1a" font-family='"Liberation Sans", sans-serif' >0.3</text>
<text x="1201.3" y="316.6" font-size="36" text-anchor="start" font-weight="normal" fill="#1a1a1a" font-family='"Liberation Sans", sans-serif' ><tspan font-family='"Liberation Serif", serif' font-style="italic" font-size="36">α</tspan><tspan font-family='"Liberation Sans", sans-serif' font-size="25.5" dx="2" dy="-16.5">(2)</tspan></text>
<text x="1030.4" y="173.7" font-size="36" text-anchor="start" font-weight="normal" fill="#1a1a1a" font-family='"Liberation Sans", sans-serif' transform="rotate(-90 1030.4 173.7)" ><tspan font-family='"Liberation Serif", serif' font-style="italic" font-size="36">α</tspan><tspan font-family='"Liberation Sans", sans-serif' font-size="25.5" dx="2" dy="-16.5">(1)</tspan></text>
<text x="1042.1" y="385.8" font-size="29.5" text-anchor="start" font-weight="normal" fill="#1a1a1a" font-family='"Liberation Sans", sans-serif' > </text>
<path d="M515 0V1237L197 1010V1180L530 1409H696V0Z" fill="#1a1a1a" transform="translate(1042.09 385.80) scale(0.01440 -0.01440)"/>
<text x="1061.0" y="573.6" font-size="29.5" text-anchor="end" font-weight="normal" fill="#1a1a1a" font-family='"Liberation Sans", sans-serif' >0.2</text>
<text x="1095.4" y="624.0" font-size="29.5" text-anchor="start" font-weight="normal" fill="#1a1a1a" font-family='"Liberation Sans", sans-serif' >0. </text>
<path d="M515 0V1237L197 1010V1180L530 1409H696V0Z" fill="#1a1a1a" transform="translate(1120.00 624.00) scale(0.01440 -0.01440)"/>
<text x="1314.8" y="624.0" font-size="29.5" text-anchor="middle" font-weight="normal" fill="#1a1a1a" font-family='"Liberation Sans", sans-serif' >0.5</text>
<text x="1197.2" y="649.2" font-size="36" text-anchor="start" font-weight="normal" fill="#1a1a1a" font-family='"Liberation Sans", sans-serif' ><tspan font-family='"Liberation Serif", serif' font-style="italic" font-size="36">α</tspan><tspan font-family='"Liberation Sans", sans-serif' font-size="25.5" dx="2" dy="-16.5">(2)</tspan></text>
<text x="1030.4" y="503.5" font-size="36" text-anchor="start" font-weight="normal" fill="#1a1a1a" font-family='"Liberation Sans", sans-serif' transform="rotate(-90 1030.4 503.5)" ><tspan font-family='"Liberation Serif", serif' font-style="italic" font-size="36">α</tspan><tspan font-family='"Liberation Sans", sans-serif' font-size="25.5" dx="2" dy="-16.5">(1)</tspan></text>
<text x="1042.1" y="721.4" font-size="29.5" text-anchor="start" font-weight="normal" fill="#1a1a1a" font-family='"Liberation Sans", sans-serif' > </text>
<path d="M515 0V1237L197 1010V1180L530 1409H696V0Z" fill="#1a1a1a" transform="translate(1042.09 721.40) scale(0.01440 -0.01440)"/>
<text x="1061.0" y="895.2" font-size="29.5" text-anchor="end" font-weight="normal" fill="#1a1a1a" font-family='"Liberation Sans", sans-serif' >0.2</text>
<text x="1128.7" y="942.8" font-size="29.5" text-anchor="start" font-weight="normal" fill="#1a1a1a" font-family='"Liberation Sans", sans-serif' >0. </text>
<path d="M515 0V1237L197 1010V1180L530 1409H696V0Z" fill="#1a1a1a" transform="translate(1153.30 942.80) scale(0.01440 -0.01440)"/>
<text x="1322.5" y="942.8" font-size="29.5" text-anchor="middle" font-weight="normal" fill="#1a1a1a" font-family='"Liberation Sans", sans-serif' >0.3</text>
<text x="1197.0" y="966.6" font-size="36" text-anchor="start" font-weight="normal" fill="#1a1a1a" font-family='"Liberation Sans", sans-serif' ><tspan font-family='"Liberation Serif", serif' font-style="italic" font-size="36">α</tspan><tspan font-family='"Liberation Sans", sans-serif' font-size="25.5" dx="2" dy="-16.5">(2)</tspan></text>
<text x="1037.4" y="832.0" font-size="36" text-anchor="start" font-weight="normal" fill="#1a1a1a" font-family='"Liberation Sans", sans-serif' transform="rotate(-90 1037.4 832.0)" ><tspan font-family='"Liberation Serif", serif' font-style="italic" font-size="36">α</tspan><tspan font-family='"Liberation Sans", sans-serif' font-size="25.5" dx="2" dy="-16.5">(1)</tspan></text>
<text x="1042.1" y="1049.2" font-size="29.5" text-anchor="start" font-weight="normal" fill="#1a1a1a" font-family='"Liberation Sans", sans-serif' > </text>
<path d="M515 0V1237L197 1010V1180L530 1409H696V0Z" fill="#1a1a1a" transform="translate(1042.09 1049.20) scale(0.01440 -0.01440)"/>
<text x="1061.0" y="1223.0" font-size="29.5" text-anchor="end" font-weight="normal" fill="#1a1a1a" font-family='"Liberation Sans", sans-serif' >0.2</text>
<text x="1128.7" y="1270.6" font-size="29.5" text-anchor="start" font-weight="normal" fill="#1a1a1a" font-family='"Liberation Sans", sans-serif' >0. </text>
<path d="M515 0V1237L197 1010V1180L530 1409H696V0Z" fill="#1a1a1a" transform="translate(1153.30 1270.60) scale(0.01440 -0.01440)"/>
<text x="1322.5" y="1270.6" font-size="29.5" text-anchor="middle" font-weight="normal" fill="#1a1a1a" font-family='"Liberation Sans", sans-serif' >0.3</text>
<text x="1193.0" y="1297.2" font-size="36" text-anchor="start" font-weight="normal" fill="#1a1a1a" font-family='"Liberation Sans", sans-serif' ><tspan font-family='"Liberation Serif", serif' font-style="italic" font-size="36">α</tspan><tspan font-family='"Liberation Sans", sans-serif' font-size="25.5" dx="2" dy="-16.5">(2)</tspan></text>
<text x="1037.0" y="1157.0" font-size="36" text-anchor="start" font-weight="normal" fill="#1a1a1a" font-family='"Liberation Sans", sans-serif' transform="rotate(-90 1037.0 1157.0)" ><tspan font-family='"Liberation Serif", serif' font-style="italic" font-size="36">α</tspan><tspan font-family='"Liberation Sans", sans-serif' font-size="25.5" dx="2" dy="-16.5">(1)</tspan></text>
<circle cx="1151.4" cy="234.0" r="11.4" fill="#828282" stroke="#000" stroke-width="4.6"/>
<circle cx="1314.8" cy="445.2" r="11.4" fill="#828282" stroke="#000" stroke-width="4.6"/>
<circle cx="1167.2" cy="561.5" r="11.4" fill="#828282" stroke="#000" stroke-width="4.6"/>
<circle cx="1236.9" cy="883.1" r="11.4" fill="#828282" stroke="#000" stroke-width="4.6"/>
<circle cx="1237.2" cy="1211.8" r="11.4" fill="#828282" stroke="#000" stroke-width="4.6"/>
<polyline points="1150.4,158.0 1151.2,156.9 1149.8,159.1 1150.0,161.9 1150.8,161.1 1151.0,161.8 1151.0,164.2 1150.6,166.6 1149.5,167.4 1149.1,166.6 1149.5,168.9 1148.7,169.9 1149.1,172.9 1153.3,174.7 1155.0,173.4 1153.6,175.9 1152.6,179.2 1152.7,180.9 1153.1,183.2 1153.6,183.6 1152.7,183.6 1153.8,183.3 1152.2,183.3 1152.6,184.8 1155.8,186.8 1158.2,188.3 1159.2,188.9 1158.8,189.9 1158.2,191.9 1158.7,193.8 1158.8,194.0 1159.8,193.6 1161.2,195.3 1163.1,196.5 1163.6,196.4 1163.1,197.4 1164.7,199.7 1166.4,200.6 1165.9,201.3 1166.6,201.7 1168.4,201.7 1171.1,202.1 1171.0,203.5 1171.8,202.4 1173.1,203.0 1175.4,205.3 1173.7,205.2 1174.5,204.9 1177.6,205.7 1180.4,207.7 1180.6,209.1 1181.8,210.5 1183.0,211.3 1182.6,213.1 1184.7,212.1 1185.6,212.0 1186.4,211.2" fill="none" stroke="#000" stroke-width="4.4" stroke-linejoin="round" stroke-linecap="round" />
<polyline points="1150.4,158.0 1150.8,159.2 1152.8,160.1 1152.3,161.2 1152.1,164.9 1153.1,166.7 1152.8,164.9 1151.1,165.5 1152.0,168.6 1151.9,171.7 1150.9,172.1 1152.5,170.9 1154.0,172.0 1153.5,172.6 1153.8,175.4 1154.3,178.1 1154.1,177.3 1153.3,176.3 1153.8,178.5 1153.2,180.9 1153.2,182.7 1154.1,184.2 1155.0,182.3 1157.0,182.5 1158.0,185.6 1157.0,187.3 1158.2,188.9 1158.6,188.9 1159.2,188.6 1161.0,189.8 1161.8,190.3 1161.0,193.1 1160.8,195.4 1161.0,196.2 1162.8,197.3 1165.6,197.0 1168.2,197.2 1168.5,198.1 1166.6,199.5 1165.4,200.0 1166.9,200.6 1168.5,201.7 1170.5,203.4 1173.8,204.1 1175.2,204.4 1176.2,205.0 1176.2,205.6 1177.1,207.7 1177.5,208.0 1177.5,207.2 1178.7,207.9 1181.1,209.7 1181.0,210.2 1183.5,210.9 1186.3,211.8 1185.6,212.6 1186.4,211.2" fill="none" stroke="#000" stroke-width="4.4" stroke-linejoin="round" stroke-linecap="round" />
<polyline points="1150.4,158.0 1149.9,159.0 1149.0,159.9 1149.3,161.4 1150.1,162.1 1149.6,162.7 1150.1,164.9 1149.8,167.2 1150.8,168.1 1151.5,169.0 1152.5,170.0 1152.6,170.5 1153.7,170.8 1152.9,174.1 1151.4,175.7 1151.4,176.7 1151.7,177.7 1151.5,178.5 1151.7,180.5 1153.9,181.9 1155.5,182.7 1156.1,184.2 1156.8,184.9 1156.8,185.6 1156.2,185.1 1154.8,186.2 1155.4,188.3 1155.9,190.9 1157.8,192.2 1159.6,192.4 1161.0,193.6 1161.4,193.9 1162.4,193.7 1164.0,194.8 1165.2,198.4 1166.8,198.1 1168.4,197.8 1168.8,199.5 1167.8,200.7 1168.9,200.6 1170.6,201.7 1172.1,204.4 1172.8,205.0 1172.6,205.1 1172.3,206.1 1172.9,206.6 1174.3,206.8 1175.4,206.8 1175.8,206.3 1177.9,206.6 1181.1,208.6 1181.2,210.9 1179.8,212.3 1182.0,212.8 1183.6,213.5 1185.7,215.6 1186.4,211.2" fill="none" stroke="#000" stroke-width="4.4" stroke-linejoin="round" stroke-linecap="round" />
<path d="M1171.7,211.6 C1176.4,211.6 1191.6,211.5 1200.0,211.6 C1208.4,211.7 1217.7,211.7 1222.0,212.0 C1226.3,212.3 1226.1,212.9 1226.0,213.5 C1225.9,214.1 1226.9,214.0 1221.5,215.8 C1216.1,217.6 1203.0,221.6 1193.8,224.1 C1184.6,226.6 1173.2,228.9 1166.1,230.6 C1159.0,232.3 1153.9,233.6 1151.4,234.2" fill="none" stroke="#000" stroke-width="4.4" stroke-linejoin="round" stroke-linecap="round" />
<polyline points="1090.1,376.0 1088.5,374.6 1091.0,374.6 1091.3,375.7 1090.3,377.6 1090.7,378.5 1093.4,379.2 1096.7,380.7 1098.4,381.7 1099.5,381.9 1099.8,383.3 1099.0,385.2 1099.1,384.6 1101.0,383.4 1103.0,384.6 1104.1,386.4 1104.7,386.4 1106.2,386.4 1108.2,387.3 1108.9,387.4 1109.3,387.3 1110.8,387.5 1113.4,387.1 1116.1,387.2 1117.9,388.4 1118.5,389.6 1119.5,390.1 1120.9,389.7 1122.3,388.6 1122.7,387.7 1122.7,387.0 1124.9,386.6" fill="none" stroke="#000" stroke-width="5.5" stroke-linejoin="round" stroke-linecap="round" />
<polyline points="1090.1,376.0 1090.4,375.3 1090.1,376.6 1089.9,376.7 1090.0,377.5 1090.9,380.3 1093.2,382.1 1095.6,382.7 1097.2,383.8 1098.0,384.0 1097.6,384.2 1097.4,384.8 1098.6,385.2 1100.6,386.6 1102.4,386.6 1104.5,385.3 1106.0,385.9 1107.2,387.6 1109.4,388.3 1110.9,387.4 1112.1,387.4 1112.8,388.1 1114.1,388.6 1116.1,389.8 1118.4,390.4 1119.9,389.3 1120.5,388.9 1122.0,390.4 1123.4,391.6 1123.0,391.2 1122.3,390.7 1124.0,390.5" fill="none" stroke="#000" stroke-width="5.5" stroke-linejoin="round" stroke-linecap="round" />
<path d="M1103.3,384.4 C1107.0,385.1 1111.7,386.7 1125.7,388.6 C1139.7,390.5 1169.5,392.9 1187.3,395.7 C1205.0,398.5 1220.0,402.5 1232.2,405.5 C1244.4,408.5 1250.9,410.9 1260.2,413.9 C1269.5,416.9 1280.7,420.4 1288.2,423.7 C1295.7,427.0 1300.6,429.9 1305.0,433.5 C1309.4,437.1 1313.2,443.2 1314.8,445.2" fill="none" stroke="#000" stroke-width="5" stroke-linejoin="round" stroke-linecap="round" />
<path d="M1071.1,444.7 L1071.1,490.9" fill="none" stroke="#000" stroke-width="5" stroke-linejoin="round" stroke-linecap="round" />
<polyline points="1072.0,481.0 1070.4,483.2 1072.2,482.6 1073.9,483.0 1075.5,484.0 1077.1,485.3 1078.2,485.7 1078.2,485.4 1078.1,485.8 1079.1,487.2 1080.6,488.7 1081.0,490.1 1080.7,491.6 1081.7,491.7 1083.7,492.4 1084.8,493.8 1084.7,495.2 1084.3,495.7 1085.6,496.5 1086.6,499.0 1086.1,501.8 1085.7,503.8 1086.2,505.0 1087.7,506.1 1089.2,507.6 1089.5,509.1 1087.9,510.7 1086.6,511.8 1087.3,511.6 1088.4,512.1 1088.6,514.1 1087.8,515.9 1087.5,516.4 1088.7,517.1 1090.0,518.7 1090.4,520.4 1090.4,521.1 1091.3,522.1 1092.6,522.4 1094.0,521.7 1096.1,520.9 1098.4,521.4 1099.3,523.0 1099.5,524.1" fill="none" stroke="#000" stroke-width="5.5" stroke-linejoin="round" stroke-linecap="round" />
<polyline points="1072.0,481.0 1072.9,481.9 1074.2,481.7 1074.7,482.3 1073.9,483.5 1073.4,483.6 1074.0,483.4 1075.2,484.5 1076.3,485.9 1077.5,487.8 1078.6,489.2 1080.1,488.6 1082.2,489.6 1083.9,492.7 1085.2,493.7 1085.5,493.9 1084.8,495.4 1084.1,497.2 1084.3,498.5 1085.1,498.2 1085.6,497.4 1085.7,498.4 1086.3,501.6 1087.3,504.6 1087.9,506.0 1088.5,505.7 1089.1,505.8 1089.5,508.3 1089.3,511.1 1088.9,512.5 1088.9,513.9 1089.4,514.0 1090.6,513.9 1091.8,515.6 1092.4,516.4 1092.1,517.7 1092.0,520.0 1093.9,521.8 1094.7,523.3 1093.8,523.8 1094.1,523.3 1095.3,521.7 1096.8,519.8 1098.7,520.0" fill="none" stroke="#000" stroke-width="5.5" stroke-linejoin="round" stroke-linecap="round" />
<path d="M1092.1,518.9 C1093.5,519.6 1093.0,520.5 1100.5,523.1 C1108.0,525.7 1126.6,531.7 1136.9,534.3 C1147.2,536.9 1155.6,536.4 1162.1,538.5 C1168.6,540.6 1173.8,544.6 1176.1,547.0 C1178.4,549.4 1177.6,550.2 1176.1,552.6 C1174.6,555.0 1168.7,560.0 1167.2,561.5" fill="none" stroke="#000" stroke-width="5" stroke-linejoin="round" stroke-linecap="round" />
<polyline points="1166.3,759.8 1169.4,756.1 1169.3,756.5 1168.2,758.7 1168.6,762.9 1171.1,763.9 1173.6,762.3 1173.2,761.6 1172.4,762.7 1174.1,763.5 1177.3,763.7 1179.0,763.9 1178.3,764.8 1180.6,766.7 1186.1,768.1 1187.6,767.7 1186.7,767.1 1187.5,768.4 1189.3,770.3 1189.1,771.4 1186.9,772.7 1184.4,771.9 1184.5,770.3 1186.9,770.3 1190.4,770.5 1193.8,772.3 1194.3,775.4 1194.3,777.6 1195.0,777.6 1196.4,777.7 1198.4,779.0 1199.4,780.2 1198.5,780.3 1197.2,779.7 1196.9,780.1 1199.5,782.5 1202.8,784.1 1206.1,784.4 1209.2,784.3 1209.9,783.8 1209.5,783.5 1211.1,782.3 1214.1,782.0 1214.1,784.1 1213.0,787.1 1214.1,791.2 1216.7,794.1 1219.9,791.1 1221.2,786.3 1219.2,786.3 1216.5,787.7 1216.3,788.3 1218.4,788.4 1220.6,787.9 1223.5,788.7 1225.3,791.2 1225.7,792.4 1227.1,790.8 1228.7,790.0 1228.4,792.7 1226.5,795.4 1226.3,797.5 1226.6,799.5 1225.9,800.0 1226.3,797.9 1227.7,796.1 1228.4,795.6 1229.5,797.2 1231.6,799.9 1233.8,799.9 1237.0,799.0 1239.0,799.5 1238.2,799.8 1237.1,799.2 1238.0,800.2 1238.9,801.1 1239.0,802.3 1239.8,803.2 1241.9,801.5 1246.0,799.0 1249.4,799.8 1250.4,801.6 1251.7,801.6 1253.3,802.6 1253.3,804.5 1251.0,805.9 1250.1,805.3 1251.4,805.9 1252.2,809.0 1252.5,810.9 1253.1,810.0 1254.3,809.2 1256.8,810.3 1259.2,812.3 1260.8,813.0 1262.5,812.9 1262.5,813.6 1260.1,813.0 1259.2,812.7 1261.0,813.6 1262.4,815.0 1261.9,817.7 1263.7,817.8 1268.1,814.3 1270.7,811.5 1270.5,811.7 1270.3,812.8 1270.6,812.2 1271.6,809.7 1274.1,808.5 1276.3,809.2 1276.7,809.4 1276.2,807.9 1278.5,807.5 1282.5,809.3 1283.7,809.7 1283.7,807.1 1284.6,806.8 1284.8,807.9 1284.2,807.0 1284.3,808.4 1285.2,812.7 1284.9,816.6 1282.1,819.3 1279.2,819.0 1277.5,818.0 1277.7,819.2 1278.8,820.8 1279.0,821.6 1280.2,822.4 1281.0,822.9 1283.1,822.8 1285.8,822.0 1286.8,820.3 1287.5,818.1 1288.7,818.6 1289.6,820.8 1290.5,821.7 1291.4,822.2 1293.3,822.9 1296.5,823.5 1299.4,823.1 1302.0,822.7 1303.2,824.3 1303.3,825.7 1304.0,826.2 1305.3,826.0 1307.2,824.6 1307.8,823.4 1307.9,822.4 1310.6,821.3 1311.5,822.6 1311.3,825.6 1313.8,826.6 1317.0,825.2 1318.5,823.4 1318.9,822.2 1320.2,821.5 1320.4,823.4 1321.0,826.2 1324.2,826.1 1325.9,824.1 1326.8,824.1 1327.8,825.6 1328.4,826.3 1328.5,825.9 1328.9,826.2 1328.6,827.2 1326.8,829.3 1324.4,832.0 1322.3,833.4 1321.6,834.7 1321.4,834.9 1321.3,832.9 1322.2,832.7 1323.5,832.6 1322.2,831.3 1318.5,831.7 1316.7,835.7 1317.7,840.6 1317.2,843.5 1316.4,842.5 1317.5,839.8 1318.8,839.6 1320.0,839.1 1321.0,837.2 1321.4,835.9 1321.1,835.5 1321.4,835.4 1322.6,835.0 1326.4,835.3 1331.0,836.1 1332.3,836.0 1331.6,835.4 1333.8,836.1 1337.6,837.3 1339.7,838.4 1339.8,839.5 1340.1,840.6 1341.6,842.9 1340.9,846.7 1339.0,848.6 1337.8,847.3 1337.6,846.9 1338.8,847.9 1337.6,848.9 1335.8,850.3 1334.9,851.9 1333.0,850.9 1331.4,850.0 1330.6,850.5 1330.1,851.6 1329.5,852.6 1328.1,854.2 1325.4,856.8 1322.0,857.3 1318.7,855.7 1318.4,855.1 1320.9,855.5 1321.8,856.6 1319.6,858.5 1317.1,861.9 1317.1,863.3 1318.0,863.3 1318.0,864.2 1316.4,865.1 1315.0,864.6 1315.3,864.4 1315.7,866.4 1315.1,867.9 1313.5,865.5 1310.9,860.8 1308.4,858.4 1305.8,860.4 1303.7,862.4 1302.1,861.6 1301.3,858.6 1301.5,857.3 1302.4,859.4 1302.8,861.5 1301.7,861.1 1298.5,860.2 1295.1,861.3 1293.8,863.9 1293.7,866.8 1294.3,868.2 1293.2,866.1 1290.1,863.1 1287.0,863.7 1284.6,866.3 1283.6,866.8 1283.3,867.2 1285.3,868.3 1287.5,869.3 1287.4,869.8 1284.0,870.2 1279.8,870.7 1277.6,871.1 1277.4,872.4 1279.7,872.7 1284.1,871.9 1286.2,872.5 1284.3,874.6 1283.6,876.5 1285.3,875.1 1284.1,873.7 1281.2,874.4 1278.2,874.7 1274.8,873.3 1275.2,873.4 1278.5,875.5 1278.6,877.2 1275.3,877.7 1272.5,876.2 1271.1,874.5 1270.1,875.6 1269.7,878.3 1268.9,879.7 1267.1,879.9 1263.8,879.3 1261.2,876.5 1260.5,875.0" fill="none" stroke="#000" stroke-width="5" stroke-linejoin="round" stroke-linecap="round" />
<polyline points="1166.3,759.8 1170.5,758.5 1168.0,760.1 1167.2,760.1 1168.2,759.7 1169.7,761.5 1171.5,763.6 1171.6,765.5 1172.7,767.6 1176.7,767.4 1180.0,765.2 1179.9,763.2 1179.5,763.4 1181.3,766.7 1182.0,770.3 1180.7,769.9 1181.3,767.0 1183.8,767.2 1186.1,769.8 1189.2,771.6 1190.5,773.5 1188.6,775.0 1188.0,775.0 1190.1,775.0 1191.7,774.5 1192.2,774.4 1193.5,775.7 1195.7,775.6 1197.2,774.7 1199.6,776.0 1203.4,778.0 1204.6,777.1 1202.5,776.4 1200.0,779.0 1198.7,780.8 1200.8,781.9 1204.1,782.6 1205.4,781.0 1205.8,779.1 1207.3,780.5 1209.5,782.8 1210.0,783.9 1210.1,784.8 1211.8,785.0 1215.1,784.6 1216.8,784.7 1216.4,785.5 1217.2,785.5 1218.5,785.7 1219.1,786.9 1219.9,785.7 1221.1,784.1 1222.9,784.0 1222.8,783.9 1222.5,785.6 1224.0,787.3 1226.6,789.1 1227.9,791.2 1227.4,792.3 1225.6,793.6 1224.4,794.5 1225.1,795.3 1225.7,796.9 1225.5,797.7 1225.3,797.5 1226.8,797.1 1229.0,798.0 1229.3,800.2 1228.4,801.2 1228.2,801.2 1231.2,799.6 1235.9,797.8 1238.8,796.8 1239.3,797.3 1238.4,799.3 1235.9,799.5 1234.8,799.2 1239.1,799.3 1243.2,800.0 1242.9,800.8 1242.3,800.5 1245.1,799.7 1247.7,800.0 1249.1,801.7 1252.3,804.1 1254.5,806.3 1253.4,808.4 1252.9,809.3 1254.0,809.2 1254.1,810.0 1254.8,812.4 1255.8,814.4 1257.0,814.8 1257.3,815.6 1257.7,816.2 1259.8,816.7 1259.5,817.7 1257.5,816.2 1258.1,813.2 1261.1,812.9 1264.6,813.9 1266.4,814.4 1267.0,815.5 1270.1,816.6 1274.6,816.3 1275.9,815.6 1275.1,814.2 1277.8,813.0 1279.7,812.2 1279.9,812.0 1280.8,811.4 1280.5,808.2 1281.2,806.3 1283.4,807.6 1282.7,809.1 1280.2,808.9 1280.3,807.1 1281.4,806.2 1282.6,809.4 1284.4,815.0 1286.0,817.9 1287.3,816.5 1287.0,815.1 1285.2,817.1 1282.4,819.0 1280.3,818.8 1280.2,819.2 1281.6,822.5 1282.5,824.3 1282.4,823.2 1282.5,821.9 1284.3,822.5 1287.1,823.3 1289.0,822.8 1288.4,821.9 1287.9,820.5 1290.9,819.3 1295.6,819.7 1298.5,821.6 1299.5,823.2 1298.5,823.5 1297.1,821.7 1297.0,819.6 1298.2,819.5 1300.1,821.5 1303.3,821.0 1305.6,818.9 1303.2,818.9 1302.1,821.3 1306.1,823.6 1309.3,824.2 1311.2,825.0 1311.6,826.7 1310.5,827.1 1311.7,826.0 1315.2,824.8 1318.5,824.8 1319.6,825.4 1319.9,826.4 1322.2,827.0 1323.3,827.3 1321.8,827.6 1322.6,827.1 1324.2,825.8 1323.6,826.0 1322.3,826.8 1322.6,826.9 1324.5,827.7 1326.8,828.6 1327.5,830.2 1326.6,833.1 1324.6,836.1 1322.4,837.0 1320.9,835.3 1320.3,833.1 1320.1,831.7 1318.8,832.0 1317.6,832.8 1316.7,833.7 1316.9,836.0 1319.1,838.3 1320.8,839.2 1321.2,839.6 1321.2,838.3 1320.1,836.2 1319.0,836.8 1320.1,836.9 1322.5,835.5 1324.3,835.3 1327.0,836.7 1330.2,838.0 1333.1,839.3 1335.2,840.4 1334.3,839.6 1333.2,839.7 1335.2,839.9 1336.4,837.9 1336.5,837.2 1337.3,837.6 1339.2,838.2 1340.4,840.1 1340.2,842.1 1338.8,844.1 1337.0,845.6 1337.5,845.3 1338.8,845.1 1338.8,845.9 1339.0,847.3 1338.3,848.7 1336.6,848.6 1334.8,848.4 1332.8,848.4 1330.9,849.2 1330.3,851.0 1330.5,853.1 1329.1,853.4 1325.4,853.7 1322.2,856.9 1321.3,857.9 1319.9,856.8 1318.0,855.7 1318.4,855.7 1319.8,857.7 1319.8,860.3 1318.6,862.9 1317.7,865.2 1315.3,867.7 1312.7,868.2 1312.2,866.1 1313.0,864.4 1313.3,861.8 1311.4,859.0 1309.5,857.1 1308.5,858.4 1307.4,861.1 1305.5,862.7 1303.9,862.7 1301.4,863.1 1298.0,864.1 1296.6,864.7 1296.5,865.6 1296.1,864.7 1296.6,863.2 1296.5,864.0 1294.8,864.3 1293.9,862.5 1294.0,862.4 1293.3,866.3 1292.4,870.0 1291.3,868.3 1288.4,865.3 1286.0,865.4 1285.1,866.7 1282.6,868.2 1280.0,870.5 1279.5,870.6 1278.2,868.8 1277.2,866.8 1278.2,865.1 1279.1,866.1 1280.8,869.7 1282.8,871.2 1285.3,871.1 1286.8,872.2 1287.6,872.5 1286.3,872.6 1281.1,873.4 1277.5,873.6 1276.6,872.2 1275.9,871.3 1275.3,873.5 1273.7,875.4 1272.0,875.7 1271.4,876.4 1269.1,877.6 1265.9,877.4 1264.8,876.2 1265.0,875.8 1263.9,876.1 1260.7,877.3 1260.7,880.9 1263.3,884.1" fill="none" stroke="#000" stroke-width="5" stroke-linejoin="round" stroke-linecap="round" />
<polyline points="1166.3,759.8 1163.7,762.9 1166.5,762.6 1169.3,760.8 1169.5,761.0 1169.6,759.6 1172.3,759.0 1174.6,761.8 1174.3,763.5 1174.7,765.7 1177.0,768.7 1179.0,767.9 1179.7,765.1 1181.1,765.3 1182.7,766.5 1183.8,768.0 1185.4,770.6 1186.8,771.4 1185.7,771.4 1183.7,771.6 1182.9,770.6 1183.4,768.6 1184.7,768.5 1187.7,770.4 1191.0,772.7 1193.9,775.3 1195.1,776.6 1195.3,776.7 1196.9,776.1 1198.5,775.2 1198.4,776.1 1197.7,778.2 1197.2,777.3 1197.3,776.5 1197.7,780.4 1199.7,784.2 1202.7,784.4 1205.2,784.9 1206.9,785.2 1207.6,783.7 1209.6,781.7 1212.0,782.3 1213.4,784.5 1215.5,786.2 1216.4,787.0 1216.2,786.8 1215.9,785.9 1216.1,783.8 1218.1,782.0 1218.7,783.2 1218.3,786.2 1219.6,786.9 1222.9,785.7 1226.3,785.1 1228.0,787.0 1228.8,789.1 1230.0,789.7 1231.7,789.4 1232.5,788.1 1231.6,787.9 1229.8,790.8 1228.6,794.9 1227.9,796.9 1226.8,799.2 1225.5,801.9 1225.3,800.4 1225.9,798.2 1227.3,800.4 1228.6,803.3 1229.1,802.9 1230.4,800.1 1232.7,797.1 1234.7,796.4 1236.8,796.4 1239.9,796.3 1242.8,796.6 1244.5,798.3 1244.5,801.4 1243.5,803.5 1244.3,802.0 1246.2,798.7 1247.6,797.0 1249.3,796.0 1249.6,795.8 1248.2,797.5 1248.4,800.6 1251.7,801.3 1254.7,801.0 1256.5,802.6 1258.5,805.7 1259.2,808.5 1257.7,809.8 1255.4,811.0 1255.2,814.5 1257.7,817.7 1259.3,816.8 1260.2,814.4 1261.5,815.3 1261.8,817.2 1262.2,816.5 1265.0,814.1 1268.4,814.0 1270.8,814.3 1271.2,813.0 1269.5,813.4 1266.2,815.4 1265.4,816.0 1269.1,814.8 1275.0,813.2 1279.7,812.5 1280.0,812.7 1277.0,811.3 1275.1,809.6 1277.6,808.8 1281.7,807.5 1283.1,806.8 1283.4,807.3 1284.2,809.4 1284.9,810.9 1285.1,809.8 1284.5,809.6 1284.4,812.4 1285.5,815.6 1286.2,818.9 1284.8,821.0 1283.7,821.1 1285.1,820.4 1286.1,820.8 1284.6,821.5 1282.6,820.6 1282.0,819.4 1282.1,820.1 1282.6,822.7 1283.9,824.2 1286.7,823.1 1290.3,820.8 1292.4,820.5 1294.2,822.7 1295.1,824.4 1294.9,823.6 1294.9,822.8 1295.9,823.0 1299.1,822.6 1302.2,821.2 1302.8,820.9 1303.2,822.0 1304.7,824.1 1307.2,826.4 1310.0,826.7 1311.0,825.8 1310.0,824.9 1310.5,824.3 1314.2,822.7 1317.4,820.5 1318.9,819.4 1320.4,819.9 1320.2,822.1 1318.8,824.3 1318.6,825.4 1319.9,825.8 1321.5,826.3 1321.2,826.3 1320.2,825.6 1321.1,825.2 1323.0,825.5 1324.3,826.3 1327.0,827.8 1328.6,830.3 1326.3,832.9 1324.9,834.6 1324.8,834.9 1323.2,835.6 1322.2,834.5 1322.9,832.3 1322.3,833.2 1320.2,834.7 1319.3,835.5 1319.4,837.1 1319.8,837.3 1318.4,836.1 1316.2,835.0 1315.2,835.5 1315.4,837.5 1316.7,837.3 1319.0,834.8 1321.5,834.5 1323.8,837.1 1325.7,840.3 1326.4,840.0 1327.3,836.4 1329.8,833.2 1331.2,832.7 1330.6,835.6 1329.8,838.9 1330.2,840.6 1332.5,840.8 1335.9,840.6 1338.2,842.2 1337.9,843.3 1338.7,841.8 1341.2,839.4 1341.5,838.2 1339.7,841.4 1338.1,847.3 1336.6,850.5 1335.1,849.2 1335.3,847.7 1336.8,848.7 1336.7,850.8 1335.5,851.6 1333.6,850.8 1331.1,851.9 1328.8,854.1 1326.4,854.6 1324.4,855.0 1324.7,855.2 1325.0,854.9 1322.8,854.3 1320.3,855.0 1319.3,856.8 1319.5,856.5 1318.9,855.9 1318.5,856.0 1319.7,856.8 1320.1,858.9 1318.6,861.7 1315.6,863.6 1314.0,863.9 1314.6,863.7 1315.7,862.8 1314.5,862.0 1312.1,862.1 1309.9,862.1 1307.4,862.6 1305.2,862.2 1303.7,861.0 1304.6,860.1 1306.7,859.3 1305.9,858.3 1302.7,857.7 1300.7,858.9 1299.6,861.0 1298.0,862.3 1294.0,864.0 1289.4,865.8 1288.6,865.4 1291.1,864.8 1291.1,866.7 1288.7,868.3 1287.7,866.9 1286.5,866.0 1283.8,867.5 1281.6,868.4 1280.5,866.8 1280.5,865.5 1279.9,866.4 1277.8,867.0 1276.9,867.0 1277.7,868.6 1279.3,870.5 1282.8,870.7 1285.3,871.1 1285.3,870.7 1285.5,870.2 1285.1,871.2 1283.4,872.8 1282.4,874.6 1281.1,875.2 1278.7,872.8 1276.5,871.9 1275.1,873.8 1275.9,874.8 1277.1,875.4 1275.5,876.5 1272.1,877.2 1269.1,876.3 1266.1,874.6 1265.2,874.2 1264.4,875.7 1262.8,876.8 1262.8,875.7 1261.8,875.2" fill="none" stroke="#000" stroke-width="5" stroke-linejoin="round" stroke-linecap="round" />
<path d="M1262.0,877.0 C1259.7,877.5 1252.2,879.2 1248.0,880.2 C1243.8,881.2 1238.8,882.6 1236.9,883.1" fill="none" stroke="#000" stroke-width="4.4" stroke-linejoin="round" stroke-linecap="round" />
<line x1="1194.3" y1="1038.9" x2="1270.0" y2="1038.9" stroke="#000" stroke-width="4.4" />
<path d="M1204.3,1039.7 C1203.7,1041.6 1203.0,1049.7 1200.4,1051.3 C1197.8,1052.9 1192.0,1049.8 1188.8,1049.3 C1185.6,1048.8 1183.6,1048.4 1181.0,1048.4 C1178.4,1048.4 1176.2,1048.7 1173.3,1049.3 C1170.4,1049.9 1165.6,1051.2 1163.7,1052.2 C1161.8,1053.2 1161.1,1054.2 1161.7,1055.2 C1162.3,1056.2 1164.3,1058.0 1167.5,1058.0 C1170.7,1058.0 1178.4,1055.0 1181.0,1055.2 C1183.6,1055.4 1182.8,1055.1 1183.0,1059.0 C1183.2,1062.9 1182.7,1073.6 1182.0,1078.4 C1181.3,1083.2 1180.5,1085.8 1179.1,1088.0 C1177.6,1090.2 1176.8,1091.1 1173.3,1091.9 C1169.8,1092.7 1162.4,1092.1 1157.9,1092.9 C1153.4,1093.7 1148.6,1095.2 1146.3,1096.7 C1144.0,1098.2 1142.7,1100.3 1144.3,1101.6 C1145.9,1102.9 1151.1,1104.0 1155.9,1104.5 C1160.7,1105.0 1167.8,1105.0 1173.3,1104.5 C1178.8,1104.0 1184.3,1101.1 1188.8,1101.6 C1193.3,1102.1 1197.5,1104.5 1200.4,1107.4 C1203.3,1110.3 1204.9,1114.5 1206.2,1119.0 C1207.5,1123.5 1208.2,1130.0 1208.2,1134.5 C1208.2,1139.0 1208.1,1143.8 1206.2,1146.1 C1204.3,1148.3 1200.8,1148.0 1196.6,1148.0 C1192.4,1148.0 1186.9,1146.6 1181.1,1146.1 C1175.3,1145.6 1167.5,1144.9 1161.7,1145.1 C1155.9,1145.2 1149.2,1146.0 1146.3,1147.0 C1143.4,1148.0 1142.7,1149.6 1144.3,1150.9 C1145.9,1152.2 1151.4,1153.7 1155.9,1154.8 C1160.4,1155.9 1167.2,1157.5 1171.4,1157.7 C1175.6,1157.9 1178.2,1157.2 1181.1,1155.7 C1184.0,1154.2 1188.8,1149.5 1188.8,1149.0 C1188.8,1148.5 1183.6,1151.2 1181.0,1153.0 C1178.4,1154.8 1171.7,1157.5 1173.3,1159.6 C1174.9,1161.7 1183.6,1162.2 1190.7,1165.4 C1197.8,1168.6 1209.1,1176.4 1215.9,1179.0 C1222.7,1181.6 1227.9,1179.9 1231.4,1180.9 C1235.0,1181.9 1235.4,1182.2 1237.2,1184.8 C1239.0,1187.4 1241.5,1193.2 1242.0,1196.4 C1242.5,1199.6 1240.9,1201.8 1240.1,1204.1 C1239.3,1206.4 1237.7,1209.0 1237.2,1210.0" fill="none" stroke="#000" stroke-width="4.4" stroke-linejoin="round" stroke-linecap="round" />
<polygon points="1150.1,137.3 1154.1,144.3 1162.2,144.3 1158.2,151.3 1162.2,158.3 1154.1,158.3 1150.1,165.3 1146.1,158.3 1138.0,158.3 1142.0,151.3 1138.0,144.3 1146.1,144.3" fill="#cccccc" stroke="#000" stroke-width="4" stroke-linejoin="miter" stroke-miterlimit="10"/>
<polygon points="1090.1,360.6 1094.1,367.6 1102.2,367.6 1098.2,374.6 1102.2,381.6 1094.1,381.6 1090.1,388.6 1086.1,381.6 1078.0,381.6 1082.0,374.6 1078.0,367.6 1086.1,367.6" fill="#cccccc" stroke="#000" stroke-width="4" stroke-linejoin="miter" stroke-miterlimit="10"/>
<polygon points="1071.1,430.7 1075.1,437.7 1083.2,437.7 1079.2,444.7 1083.2,451.7 1075.1,451.7 1071.1,458.7 1067.1,451.7 1059.0,451.7 1063.0,444.7 1059.0,437.7 1067.1,437.7" fill="#cccccc" stroke="#000" stroke-width="4" stroke-linejoin="miter" stroke-miterlimit="10"/>
<polygon points="1166.9,746.4 1170.9,753.4 1179.0,753.4 1175.0,760.4 1179.0,767.4 1170.9,767.4 1166.9,774.4 1162.9,767.4 1154.8,767.4 1158.8,760.4 1154.8,753.4 1162.9,753.4" fill="#cccccc" stroke="#000" stroke-width="4" stroke-linejoin="miter" stroke-miterlimit="10"/>
<polygon points="1230.8,1024.9 1234.8,1031.9 1242.9,1031.9 1238.9,1038.9 1242.9,1045.9 1234.8,1045.9 1230.8,1052.9 1226.8,1045.9 1218.7,1045.9 1222.7,1038.9 1218.7,1031.9 1226.8,1031.9" fill="#cccccc" stroke="#000" stroke-width="4" stroke-linejoin="miter" stroke-miterlimit="10"/>
<line x1="1462.7" y1="36.0" x2="1462.7" y2="597.9" stroke="#111" stroke-width="3" stroke-dasharray="34.8 6.2 2.8 3.1" stroke-dashoffset="17.7"/>
<line x1="1463.3" y1="695.7" x2="1463.3" y2="1257.5" stroke="#c4000c" stroke-width="2.9" stroke-dasharray="34.8 6.2 2.8 3.1" stroke-dashoffset="17.9"/>
<text x="1478.2" y="318.5" font-size="25" text-anchor="middle" font-weight="normal" fill="#1a1a1a" font-family='"Liberation Sans", sans-serif' transform="rotate(90 1478.2 318.5)" textLength="205.5" lengthAdjust="spacingAndGlyphs" stroke="#1a1a1a" stroke-width="0.35">4 HIDDEN STATES</text>
<text x="1477.8" y="923.0" font-size="26" text-anchor="middle" font-weight="normal" fill="#1a1a1a" font-family='"Liberation Sans", sans-serif' transform="rotate(90 1477.8 923.0)" textLength="217" lengthAdjust="spacingAndGlyphs" stroke="#1a1a1a" stroke-width="0.35">28 HIDDEN STATES</text>
</svg>
</body></html>
